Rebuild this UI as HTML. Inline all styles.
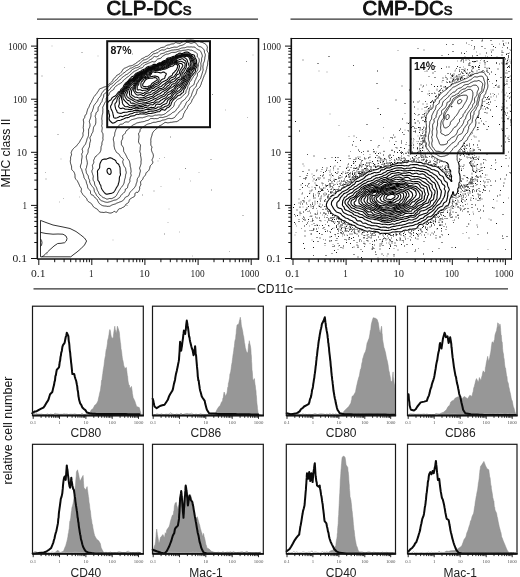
<!DOCTYPE html><html><head><meta charset="utf-8"><title>Figure</title><style>html,body{margin:0;padding:0;background:#fff}svg{display:block}</style></head><body><svg width="520" height="577" viewBox="0 0 520 577" font-family="'Liberation Sans', sans-serif">
<rect width="520" height="577" fill="#fff"/>
<text x="106.6" y="15.3" font-size="20.4" fill="#111" stroke="#111" stroke-width="0.95" stroke-linejoin="round" textLength="85.0" lengthAdjust="spacingAndGlyphs">CLP-DC<tspan font-size="13.2" stroke-width="0.7">S</tspan></text>
<text x="362.6" y="15.3" font-size="20.4" fill="#111" stroke="#111" stroke-width="0.95" stroke-linejoin="round" textLength="89.79999999999995" lengthAdjust="spacingAndGlyphs">CMP-DC<tspan font-size="13.2" stroke-width="0.7">S</tspan></text>
<line x1="37" y1="19.2" x2="258" y2="19.2" stroke="#333" stroke-width="1.3"/>
<line x1="290.5" y1="19.2" x2="512.5" y2="19.2" stroke="#333" stroke-width="1.3"/>
<line x1="33.5" y1="288.8" x2="255.5" y2="288.8" stroke="#333" stroke-width="1.2"/>
<line x1="294.5" y1="288.8" x2="508" y2="288.8" stroke="#333" stroke-width="1.2"/>
<text x="275" y="293.2" font-size="12" text-anchor="middle" fill="#111" textLength="36" lengthAdjust="spacingAndGlyphs">CD11c</text>
<text transform="translate(10.4,153) rotate(-90)" font-size="12" text-anchor="middle" fill="#111" textLength="69" lengthAdjust="spacingAndGlyphs">MHC class II</text>
<text transform="translate(12.0,430.5) rotate(-90)" font-size="12" text-anchor="middle" fill="#111" textLength="108" lengthAdjust="spacingAndGlyphs">relative cell number</text>
<defs><clipPath id="cl"><rect x="38.2" y="39.3" width="219.6" height="219.2"/></clipPath><clipPath id="cr"><rect x="291.9" y="39.3" width="219.6" height="219.2"/></clipPath><clipPath id="crt"><rect x="291.9" y="39.3" width="219.6" height="122.7"/></clipPath><clipPath id="crb"><rect x="291.9" y="162" width="219.6" height="96.5"/></clipPath></defs>
<g clip-path="url(#cl)" fill="none" stroke="#080808" stroke-width="1.1" stroke-linejoin="round">
<path d="M189.4 40.0L190.0 39.9L190.8 39.8L191.5 39.9L192.2 40.0L192.7 40.1L193.5 40.2L194.0 40.3L194.6 40.5L195.2 40.8L195.8 40.9L196.2 41.1L197.0 41.1L197.8 41.0L198.5 41.1L199.0 41.3L199.5 41.5L200.0 41.8L200.6 42.0L201.2 42.2L201.7 42.3L202.4 42.5L203.0 42.7L203.5 43.0L204.0 43.2L204.5 43.5L204.9 43.8L205.3 44.0L205.8 44.4L206.2 44.8L206.5 45.2L206.8 45.6L207.0 46.0L207.2 46.6L207.4 47.2L207.3 48.0L207.2 48.5L207.1 49.2L207.0 50.0L207.1 50.8L207.3 51.2L207.6 51.8L208.0 52.2L208.2 52.6L208.5 53.2L208.6 53.8L208.7 54.5L208.6 55.2L208.6 56.0L208.5 56.8L208.5 57.2L208.5 58.0L208.5 58.8L208.4 59.5L208.2 60.0L208.1 60.8L208.0 61.2L207.8 62.0L207.7 62.5L207.7 63.2L207.7 64.0L207.6 64.8L207.5 65.2L207.3 66.0L207.1 66.5L207.0 67.0L206.8 67.8L206.8 68.4L206.6 69.0L206.5 69.5L206.2 70.2L206.1 70.8L206.0 71.2L205.8 72.0L205.7 72.5L205.5 73.0L205.2 73.6L205.0 74.1L204.8 74.5L204.4 75.0L204.2 75.5L204.0 76.0L203.8 76.8L203.6 77.2L203.4 77.8L203.2 78.2L203.0 78.7L202.8 79.4L202.6 80.0L202.4 80.5L202.2 81.0L202.0 81.5L201.7 82.0L201.5 82.7L201.4 83.2L201.2 83.9L201.0 84.5L200.8 85.0L200.5 85.5L200.3 86.0L200.1 86.5L199.8 87.0L199.5 87.5L199.2 87.8L198.8 88.2L198.3 88.5L197.9 88.8L197.5 89.0L197.2 89.5L197.0 90.2L197.0 90.8L196.7 91.4L196.5 92.0L196.4 92.5L196.2 93.0L196.1 93.8L195.9 94.2L195.5 94.8L195.2 95.0L194.8 95.5L194.5 95.8L194.2 96.2L194.0 96.8L193.8 97.3L193.5 97.9L193.2 98.4L193.0 98.8L192.6 99.2L192.2 99.7L192.0 100.2L191.8 100.8L191.7 101.2L191.5 101.8L191.2 102.3L191.0 102.8L190.6 103.2L190.2 103.6L189.8 104.0L189.5 104.3L189.0 104.8L188.8 105.0L188.4 105.5L188.1 106.0L187.9 106.5L187.7 107.0L187.5 107.5L187.2 108.1L187.0 108.6L186.7 109.0L186.4 109.5L186.0 109.9L185.7 110.2L185.3 110.8L185.0 111.2L184.8 111.8L184.7 112.2L184.4 112.8L184.0 113.2L183.8 113.7L183.6 114.2L183.5 114.8L183.3 115.5L183.2 116.0L183.0 116.5L182.8 117.0L182.5 117.6L182.2 118.0L181.9 118.5L181.5 118.8L181.0 119.0L180.3 119.2L179.8 119.5L179.4 119.8L179.0 120.2L178.8 120.5L178.2 120.9L177.8 121.1L177.2 121.4L176.8 121.6L176.0 121.7L175.3 121.7L174.6 121.8L174.0 121.8L173.2 122.0L172.8 122.1L172.0 122.2L171.5 122.3L170.8 122.3L170.0 122.4L169.5 122.6L168.8 122.7L168.2 122.8L167.5 122.8L167.0 122.7L166.2 122.5L165.8 122.4L165.0 122.5L164.5 122.7L164.0 123.0L163.8 123.3L163.2 123.7L162.8 124.0L162.5 124.2L162.0 124.6L161.5 124.9L161.0 125.2L160.5 125.4L160.0 125.6L159.5 125.8L159.0 126.2L158.7 126.5L158.3 127.0L158.0 127.3L157.6 127.8L157.2 128.1L156.8 128.5L156.4 128.8L156.0 129.1L155.5 129.5L155.2 129.8L154.8 130.2L154.5 130.5L154.0 131.0L153.7 131.2L153.3 131.8L153.0 132.1L152.8 132.6L152.5 133.2L152.3 133.8L152.2 134.2L152.0 135.0L151.9 135.5L151.7 136.0L151.5 136.7L151.3 137.2L151.2 137.8L151.0 138.4L150.9 139.0L150.8 139.8L150.8 140.5L150.9 141.2L150.9 142.0L150.8 142.8L150.8 143.5L150.8 144.2L150.9 145.0L151.0 145.5L151.3 146.0L151.7 146.5L151.9 147.0L151.9 147.8L151.7 148.2L151.5 148.8L151.4 149.5L151.5 150.2L151.7 150.8L151.8 151.2L152.0 151.8L152.2 152.3L152.5 152.8L152.8 153.3L153.0 153.9L153.2 154.5L153.3 155.0L153.4 155.8L153.3 156.5L153.2 157.0L153.0 157.7L152.8 158.2L152.5 158.7L152.2 159.2L152.1 159.8L152.1 160.5L152.4 161.0L152.7 161.5L152.8 162.0L152.8 162.6L152.5 163.2L152.3 163.8L152.0 164.1L151.6 164.5L151.2 164.8L150.8 165.2L150.5 165.5L150.2 166.0L150.0 166.8L149.9 167.2L149.8 168.0L149.6 168.5L149.4 169.0L149.2 169.5L148.9 170.0L148.7 170.5L148.3 171.0L148.0 171.3L147.5 171.7L147.0 172.0L146.7 172.2L146.2 172.7L146.0 173.2L145.8 173.8L145.7 174.2L145.5 174.8L145.2 175.2L144.9 175.8L144.5 176.2L144.2 176.5L143.8 177.0L143.5 177.3L143.2 177.8L143.0 178.5L142.9 179.0L142.6 179.5L142.2 179.9L141.8 180.2L141.5 180.5L141.0 181.0L140.8 181.4L140.6 182.0L140.6 182.8L140.7 183.5L140.8 184.0L140.8 184.8L140.6 185.2L140.3 185.8L140.0 186.2L139.8 186.7L139.6 187.2L139.7 188.0L139.7 188.8L139.5 189.5L139.3 190.0L139.1 190.5L138.9 191.0L138.6 191.5L138.3 192.0L138.0 192.3L137.2 192.4L136.5 192.3L135.9 192.5L135.5 192.8L135.2 193.2L135.0 193.8L134.9 194.5L134.9 195.2L134.8 196.0L134.5 196.4L134.1 196.8L133.6 197.0L133.0 197.2L132.5 197.5L132.1 197.8L131.7 198.0L131.2 198.3L130.8 198.6L130.2 198.9L129.8 199.2L129.5 199.7L129.3 200.2L129.1 200.8L129.0 201.3L128.8 202.0L128.5 202.5L128.2 202.8L127.8 203.1L127.2 203.4L126.8 203.6L126.2 204.0L126.0 204.2L125.6 204.8L125.3 205.2L125.1 205.8L124.8 206.2L124.5 206.5L124.0 206.9L123.5 207.1L123.0 207.3L122.5 207.5L122.0 207.8L121.5 208.2L121.0 208.5L120.5 208.6L119.8 208.7L119.2 208.8L118.8 209.1L118.3 209.5L118.0 209.9L117.8 210.3L117.5 210.9L117.2 211.5L117.0 211.8L116.5 212.2L115.8 212.2L115.2 212.0L114.8 211.6L114.2 211.3L113.8 211.5L113.2 212.0L112.9 212.3L112.5 212.5L111.9 212.8L111.2 212.9L110.8 213.0L110.0 213.1L109.5 213.0L108.8 212.8L108.2 212.7L107.5 212.5L107.0 212.4L106.5 212.2L105.8 212.1L105.0 212.2L104.5 212.4L103.8 212.5L103.0 212.4L102.2 212.3L101.5 212.3L101.0 212.2L100.2 212.1L99.8 211.9L99.2 211.6L98.8 211.2L98.5 210.8L98.2 210.3L98.0 209.9L97.7 209.5L97.2 209.2L96.8 208.9L96.2 208.6L95.8 208.4L95.2 208.1L94.8 207.8L94.3 207.5L94.0 207.2L93.5 206.8L93.2 206.4L92.9 206.0L92.6 205.5L92.3 205.0L92.0 204.5L91.8 204.0L91.5 203.7L91.0 203.3L90.6 203.0L90.2 202.8L89.8 202.5L89.2 202.2L88.8 201.9L88.2 201.5L88.0 201.2L87.5 200.7L87.2 200.3L87.1 199.8L86.9 199.2L86.7 198.8L86.4 198.2L86.0 197.8L85.8 197.5L85.2 197.0L85.0 196.8L84.5 196.3L84.1 196.0L83.8 195.6L83.4 195.2L83.0 194.8L82.8 194.5L82.5 193.9L82.2 193.3L82.0 192.9L81.6 192.5L81.3 192.0L81.1 191.5L81.1 190.8L81.3 190.2L81.4 189.5L81.4 188.8L81.2 188.2L80.9 187.8L80.5 187.2L80.2 186.9L79.9 186.5L79.7 186.0L79.5 185.5L79.2 184.9L79.0 184.2L78.8 183.8L78.5 183.2L78.3 182.8L78.0 182.2L77.8 181.8L77.6 181.2L77.2 180.8L77.0 180.5L76.6 180.0L76.2 179.6L76.0 179.2L75.6 178.8L75.3 178.3L75.1 177.8L75.0 177.0L75.0 176.2L75.0 175.5L75.0 175.0L74.8 174.2L74.7 173.8L74.5 173.2L74.2 172.5L74.0 172.1L73.8 171.7L73.3 171.2L73.0 171.0L72.5 170.5L72.2 170.2L71.9 169.8L71.7 169.2L71.6 168.5L71.6 167.8L71.6 167.0L71.5 166.2L71.4 165.8L71.2 165.2L71.0 164.6L70.8 164.0L70.6 163.5L70.5 162.9L70.4 162.2L70.3 161.5L70.3 160.8L70.5 160.0L70.6 159.5L70.6 158.8L70.6 158.0L70.6 157.2L70.8 156.7L71.0 156.1L71.2 155.6L71.5 155.0L71.5 154.2L71.3 153.5L71.2 153.0L71.2 152.4L71.5 151.8L71.7 151.2L71.9 150.8L72.2 150.2L72.5 149.8L72.8 149.3L73.0 149.0L73.5 148.5L73.8 148.2L74.2 147.8L74.6 147.5L75.0 147.1L75.5 146.8L75.8 146.5L76.2 146.1L76.6 145.8L77.0 145.3L77.2 144.9L77.6 144.5L78.0 144.0L78.2 143.7L78.7 143.2L79.0 142.9L79.3 142.5L79.5 142.0L79.8 141.5L80.0 141.0L80.3 140.5L80.6 140.0L80.9 139.5L81.2 139.0L81.5 138.5L81.8 138.2L82.0 137.8L82.3 137.2L82.5 136.8L82.8 136.2L83.0 135.5L83.0 135.0L83.0 134.5L82.9 133.8L83.0 133.0L83.1 132.5L83.3 132.0L83.5 131.3L83.6 130.8L83.6 130.0L83.5 129.3L83.4 128.8L83.3 128.0L83.2 127.5L83.3 127.0L83.4 126.2L83.4 125.5L83.5 124.8L83.5 124.2L83.6 123.5L83.7 122.8L83.7 122.0L83.5 121.2L83.4 120.8L83.3 120.0L83.4 119.2L83.8 118.8L84.1 118.5L84.5 118.0L84.7 117.5L84.8 117.0L84.8 116.2L85.0 115.6L85.2 115.2L85.8 114.8L86.1 114.5L86.4 114.0L86.6 113.5L86.7 112.8L86.8 112.2L87.0 111.6L87.2 111.0L87.3 110.5L87.5 109.9L87.7 109.2L87.9 108.8L88.2 108.2L88.5 107.8L88.8 107.4L89.0 106.9L89.2 106.3L89.4 105.8L89.6 105.2L89.8 104.8L90.0 104.2L90.3 103.8L90.6 103.2L91.0 102.8L91.2 102.4L91.5 101.9L91.7 101.2L91.9 100.8L92.1 100.2L92.4 99.8L92.7 99.2L93.0 98.8L93.2 98.2L93.4 97.8L93.6 97.2L93.9 96.8L94.2 96.3L94.5 96.0L95.0 95.5L95.2 95.2L95.6 94.8L96.0 94.3L96.3 94.0L96.7 93.5L97.0 93.1L97.2 92.7L97.6 92.2L97.9 91.8L98.2 91.2L98.5 90.8L98.8 90.3L99.0 89.8L99.2 89.4L99.6 89.0L100.0 88.7L100.6 88.5L101.2 88.3L101.8 88.1L102.2 87.9L102.8 87.7L103.2 87.4L103.8 87.2L104.3 87.0L105.0 86.8L105.5 86.7L106.2 86.5L106.8 86.3L107.2 86.0L107.5 85.8L108.0 85.3L108.2 85.0L108.7 84.5L109.0 84.1L109.4 83.8L109.8 83.5L110.2 83.1L110.7 82.8L111.0 82.5L111.5 82.1L111.8 81.8L112.2 81.2L112.5 80.8L112.8 80.3L113.0 79.8L113.2 79.2L113.5 78.9L114.0 78.5L114.5 78.2L114.8 78.0L115.2 77.5L115.5 77.0L115.8 76.6L116.0 76.2L116.5 75.8L116.8 75.5L117.2 75.0L117.7 74.8L118.2 74.5L118.8 74.3L119.2 74.0L119.7 73.8L120.0 73.5L120.4 73.0L120.8 72.6L121.0 72.2L121.5 71.8L121.8 71.5L122.2 71.0L122.4 70.5L122.6 70.0L122.9 69.5L123.2 69.1L123.7 68.8L124.1 68.5L124.6 68.2L125.2 68.0L125.7 67.8L126.3 67.5L126.7 67.3L127.2 67.1L127.8 66.8L128.2 66.5L128.8 66.3L129.2 66.1L129.8 66.0L130.5 65.9L131.1 65.8L131.8 65.6L132.2 65.5L132.8 65.2L133.2 64.9L133.8 64.6L134.2 64.3L134.8 64.0L135.2 63.8L135.7 63.5L136.0 63.2L136.5 62.8L136.9 62.5L137.2 62.1L137.8 61.8L138.2 61.5L138.7 61.2L139.1 61.0L139.5 60.8L140.0 60.4L140.4 60.0L140.8 59.7L141.1 59.2L141.5 58.9L142.0 58.6L142.5 58.4L143.0 58.2L143.5 58.0L144.0 57.8L144.5 57.4L144.9 57.0L145.3 56.8L145.9 56.5L146.5 56.4L147.2 56.3L147.8 56.1L148.1 55.8L148.5 55.3L148.9 55.0L149.3 54.8L149.8 54.5L150.2 54.0L150.5 53.7L150.8 53.2L151.2 52.8L151.5 52.5L152.0 52.2L152.5 52.0L153.2 51.8L153.8 51.5L154.2 51.2L154.6 51.0L155.0 50.7L155.5 50.5L156.0 50.2L156.5 50.0L157.0 49.7L157.5 49.5L158.0 49.2L158.6 49.0L159.1 48.8L159.6 48.5L160.0 48.2L160.5 47.9L161.0 47.7L161.5 47.5L162.2 47.4L163.0 47.3L163.7 47.2L164.3 47.0L164.7 46.8L165.0 46.5L165.5 46.1L166.0 45.8L166.4 45.5L167.0 45.2L167.5 45.1L168.0 45.0L168.8 44.9L169.5 44.8L170.0 44.6L170.5 44.3L171.0 44.1L171.5 44.0L172.2 43.9L173.0 43.9L173.7 43.8L174.2 43.5L174.6 43.2L175.0 42.9L175.5 42.6L176.2 42.6L176.8 42.8L177.3 43.0L178.0 43.1L178.7 43.2L179.2 43.3L180.0 43.3L180.5 43.1L181.0 42.8L181.5 42.5L181.9 42.2L182.3 42.0L183.0 41.8L183.5 41.6L184.0 41.5L184.5 41.2L185.0 40.8L185.4 40.5L186.0 40.2L186.5 40.1L187.2 40.1L188.0 40.1L188.8 40.1L189.4 40.0Z" stroke-width="0.8"/>
<path d="M186.5 42.5L187.2 42.3L188.0 42.4L188.5 42.5L189.2 42.7L189.8 42.9L190.2 43.1L191.0 43.2L191.8 43.2L192.4 43.0L193.0 42.8L193.5 42.6L194.2 42.5L195.0 42.7L195.5 42.9L196.0 43.2L196.3 43.5L196.7 44.0L197.0 44.4L197.2 44.9L197.5 45.3L197.9 45.8L198.2 46.1L198.8 46.4L199.2 46.6L200.0 46.7L200.5 46.8L201.0 47.0L201.5 47.3L202.0 47.7L202.4 48.0L202.8 48.3L203.2 48.8L203.5 49.1L203.8 49.5L204.1 50.0L204.3 50.5L204.4 51.2L204.4 52.0L204.5 52.5L204.8 53.1L205.0 53.6L205.2 54.2L205.4 54.8L205.3 55.5L205.2 56.0L205.0 56.8L204.9 57.2L204.8 58.0L204.8 58.8L204.7 59.2L204.6 60.0L204.5 60.5L204.3 61.2L204.1 61.8L203.9 62.2L203.6 62.8L203.4 63.2L203.2 63.8L203.2 64.5L203.1 65.2L203.0 66.0L202.9 66.5L202.9 67.2L202.9 68.0L203.0 68.5L203.2 69.2L203.1 70.0L203.0 70.5L202.8 71.2L202.6 71.8L202.5 72.2L202.3 73.0L202.1 73.5L202.0 74.0L201.8 74.6L201.5 75.2L201.4 75.8L201.2 76.3L201.0 77.0L200.9 77.5L200.7 78.0L200.5 78.5L200.1 79.0L199.8 79.4L199.4 79.8L199.0 80.2L198.8 80.7L198.5 81.2L198.3 81.8L198.0 82.2L197.8 82.5L197.4 83.0L197.1 83.5L196.8 84.0L196.6 84.5L196.5 85.2L196.4 85.8L196.2 86.2L195.9 86.8L195.5 87.2L195.1 87.5L194.8 87.9L194.5 88.2L194.1 88.8L193.8 89.2L193.5 89.8L193.3 90.2L193.1 90.8L192.9 91.2L192.7 91.8L192.5 92.2L192.2 92.8L192.0 93.4L191.8 94.0L191.7 94.5L191.5 95.2L191.3 95.8L191.1 96.2L190.8 96.8L190.5 97.2L190.2 97.5L190.0 98.0L189.7 98.5L189.5 99.1L189.2 99.7L189.0 100.1L188.5 100.5L188.1 100.8L187.8 101.0L187.3 101.5L187.0 101.8L186.6 102.2L186.3 102.8L186.0 103.2L185.8 103.8L185.7 104.2L185.5 104.8L185.2 105.2L184.8 105.8L184.5 106.2L184.3 106.8L184.1 107.2L183.8 107.8L183.5 108.1L183.1 108.5L182.8 108.8L182.4 109.2L182.0 109.7L181.7 110.0L181.2 110.3L180.8 110.7L180.3 111.0L180.0 111.3L179.5 111.7L179.2 112.0L178.8 112.5L178.5 112.8L178.1 113.2L177.8 113.7L177.5 114.1L177.1 114.5L176.8 114.8L176.3 115.2L176.0 115.6L175.7 116.0L175.4 116.5L175.0 117.0L174.8 117.3L174.2 117.7L173.8 117.9L173.2 118.1L172.8 118.3L172.0 118.5L171.5 118.6L170.8 118.6L170.1 118.5L169.5 118.4L168.8 118.4L168.2 118.5L167.5 118.7L167.0 118.9L166.5 119.1L166.0 119.4L165.5 119.6L164.9 119.8L164.2 119.9L163.6 120.0L163.0 120.1L162.3 120.2L161.8 120.5L161.2 120.7L160.8 121.0L160.2 121.2L159.8 121.3L159.0 121.4L158.2 121.5L157.8 121.6L157.0 121.8L156.5 122.0L156.0 122.2L155.5 122.3L154.8 122.3L154.0 122.3L153.2 122.4L152.8 122.5L152.2 122.8L151.7 123.0L151.1 123.2L150.5 123.5L150.0 123.6L149.2 123.7L148.8 123.8L148.1 124.0L147.5 124.2L147.0 124.4L146.5 124.7L146.0 125.0L145.7 125.2L145.2 125.5L144.8 125.9L144.2 126.2L143.9 126.5L143.5 126.8L143.0 127.1L142.5 127.4L142.0 127.8L141.6 128.0L141.2 128.2L140.8 128.6L140.4 129.0L140.2 129.5L140.1 130.2L140.0 131.0L139.9 131.5L139.6 132.0L139.2 132.4L139.0 132.8L138.7 133.2L138.6 134.0L138.7 134.8L138.8 135.2L139.0 136.0L139.0 136.5L139.0 137.1L138.9 137.8L138.8 138.5L138.7 139.0L138.7 139.8L138.6 140.5L138.5 141.2L138.6 142.0L138.8 142.7L139.0 143.1L139.3 143.5L139.8 144.0L140.0 144.3L140.3 144.8L140.5 145.4L140.5 146.0L140.4 146.5L140.3 147.2L140.2 147.8L140.2 148.5L140.3 149.0L140.2 149.5L140.1 150.2L139.9 150.8L139.8 151.5L140.0 152.2L140.2 152.7L140.5 153.2L140.6 153.8L140.6 154.5L140.5 155.2L140.6 156.0L140.8 156.7L140.9 157.2L141.0 157.9L141.1 158.5L141.2 159.2L141.2 160.0L141.1 160.8L141.0 161.2L141.0 162.0L141.0 162.5L141.0 163.2L141.0 163.8L140.8 164.5L140.7 165.0L140.5 165.6L140.3 166.2L140.1 166.8L139.9 167.2L139.7 167.8L139.6 168.5L139.8 169.0L140.0 169.5L140.2 170.1L140.4 170.8L140.3 171.5L140.2 172.0L140.0 172.5L139.8 173.2L139.7 173.8L139.6 174.5L139.5 175.0L139.2 175.7L139.0 176.2L138.8 176.8L138.5 177.1L138.2 177.5L137.8 178.0L137.5 178.5L137.3 179.0L137.2 179.5L137.2 180.2L137.1 181.0L137.0 181.5L136.8 182.2L136.6 182.8L136.4 183.2L136.2 183.8L136.0 184.5L135.9 185.0L135.8 185.5L135.5 186.1L135.2 186.5L134.9 187.0L134.6 187.5L134.2 187.9L134.0 188.2L133.5 188.7L133.1 189.0L132.8 189.3L132.4 189.8L132.0 190.2L131.8 190.5L131.3 191.0L131.0 191.3L130.5 191.8L130.2 192.1L129.9 192.5L129.6 193.0L129.4 193.5L129.2 194.0L129.0 194.8L128.8 195.2L128.5 195.7L128.1 196.0L127.7 196.2L127.1 196.5L126.5 196.7L126.0 197.0L125.5 197.2L125.2 197.5L124.9 198.0L124.6 198.5L124.4 199.0L124.0 199.5L123.8 199.8L123.2 200.2L122.9 200.5L122.5 200.8L122.0 201.1L121.5 201.4L121.0 201.6L120.4 201.8L119.8 202.0L119.2 202.2L118.8 202.4L118.2 202.7L117.8 202.8L117.1 203.0L116.6 203.2L116.1 203.5L115.7 203.8L115.1 204.0L114.5 204.2L114.0 204.3L113.3 204.5L112.8 204.7L112.2 204.9L111.8 205.1L111.2 205.4L110.8 205.7L110.2 206.0L109.8 206.2L109.2 206.3L108.5 206.3L107.8 206.4L107.0 206.3L106.5 206.2L105.8 206.1L105.0 206.0L104.5 206.0L103.8 205.9L103.0 205.8L102.5 205.6L102.0 205.4L101.5 205.1L101.0 204.8L100.6 204.5L100.2 204.2L99.8 203.9L99.3 203.5L99.0 203.2L98.7 202.8L98.5 202.2L98.2 201.8L98.0 201.2L97.7 200.8L97.4 200.2L97.2 199.8L96.9 199.2L96.5 198.8L96.2 198.5L95.8 198.2L95.2 198.0L94.8 197.5L94.5 197.1L94.2 196.7L94.0 196.2L93.6 195.8L93.2 195.4L92.8 195.2L92.2 195.0L91.6 194.8L91.2 194.5L90.8 194.0L90.6 193.5L90.5 192.8L90.5 192.0L90.5 191.5L90.2 190.8L90.0 190.5L89.5 190.0L89.2 189.8L88.8 189.3L88.5 189.0L88.2 188.5L87.9 188.0L87.7 187.5L87.6 186.8L87.5 186.2L87.4 185.5L87.2 185.0L87.0 184.3L86.8 183.8L86.5 183.3L86.4 182.8L86.3 182.0L86.2 181.5L86.0 180.8L85.8 180.4L85.5 180.0L85.2 179.5L84.8 179.0L84.5 178.5L84.2 178.1L84.0 177.6L83.8 177.0L83.8 176.3L83.7 175.8L83.5 175.0L83.3 174.5L83.1 174.0L82.9 173.5L82.8 173.0L82.5 172.4L82.3 171.8L82.1 171.2L82.0 170.8L81.8 170.0L81.7 169.5L81.4 169.0L81.1 168.5L80.8 168.1L80.5 167.5L80.4 167.0L80.4 166.2L80.5 165.8L80.7 165.0L80.9 164.5L81.2 164.0L81.3 163.5L81.5 162.8L81.5 162.2L81.5 161.5L81.5 160.8L81.6 160.0L81.7 159.2L81.8 158.8L81.9 158.0L82.0 157.5L82.1 156.8L82.1 156.0L82.0 155.4L81.8 154.8L81.7 154.2L81.8 153.8L82.1 153.2L82.4 152.8L82.6 152.2L82.7 151.5L82.6 150.8L82.4 150.2L82.2 149.7L82.2 149.0L82.4 148.5L82.7 148.0L83.0 147.6L83.2 147.2L83.5 146.8L83.8 146.2L84.1 145.8L84.5 145.3L84.8 145.0L85.2 144.5L85.5 144.0L85.7 143.5L85.8 143.0L86.0 142.5L86.2 141.9L86.5 141.3L86.6 140.8L86.8 140.2L86.9 139.5L87.0 139.0L87.2 138.5L87.5 138.0L87.8 137.5L88.0 137.0L88.2 136.4L88.4 135.8L88.5 135.2L88.5 134.5L88.5 133.8L88.6 133.0L88.6 132.2L88.6 131.5L88.6 130.8L88.6 130.0L88.7 129.2L88.9 128.8L89.2 128.2L89.4 127.8L89.6 127.2L89.8 126.7L89.9 126.0L90.0 125.2L90.0 124.5L89.9 123.8L89.7 123.2L89.5 122.5L89.4 122.0L89.3 121.3L89.5 120.5L89.7 120.0L89.9 119.5L90.1 119.0L90.3 118.5L90.5 117.9L90.7 117.2L90.8 116.8L91.0 116.0L91.0 115.5L91.0 114.8L91.0 114.2L91.0 113.5L91.1 113.0L91.4 112.5L91.8 112.1L92.0 111.8L92.3 111.2L92.5 110.5L92.6 110.0L92.8 109.5L93.0 109.0L93.2 108.4L93.4 107.8L93.5 107.1L93.6 106.5L93.8 106.0L94.0 105.5L94.4 105.0L94.7 104.5L95.0 104.2L95.3 103.8L95.7 103.2L96.0 102.9L96.3 102.5L96.8 102.1L97.0 101.7L97.3 101.2L97.6 100.8L97.8 100.2L98.0 99.7L98.2 99.1L98.5 98.6L98.8 98.2L99.1 97.8L99.5 97.5L99.9 97.0L100.2 96.6L100.5 96.2L100.8 95.8L101.0 95.2L101.2 94.6L101.4 94.0L101.6 93.5L101.9 93.0L102.2 92.6L102.5 92.2L102.8 91.8L103.2 91.2L103.5 90.9L104.0 90.5L104.3 90.2L104.8 89.8L105.0 89.5L105.5 89.0L105.9 88.8L106.4 88.5L106.9 88.2L107.3 88.0L107.8 87.6L108.0 87.2L108.4 86.8L108.8 86.3L109.0 86.0L109.4 85.5L109.8 85.2L110.2 84.8L110.6 84.5L111.1 84.2L111.6 84.0L112.1 83.8L112.5 83.4L113.0 83.0L113.2 82.7L113.7 82.2L114.0 81.8L114.3 81.5L114.7 81.0L115.0 80.7L115.5 80.4L116.0 80.1L116.5 79.8L116.8 79.5L117.2 79.0L117.5 78.6L117.8 78.2L118.2 77.8L118.5 77.4L118.9 77.0L119.2 76.6L119.7 76.2L120.0 76.0L120.5 75.7L121.0 75.3L121.5 75.0L121.8 74.8L122.2 74.3L122.5 74.0L123.0 73.5L123.4 73.2L123.8 73.0L124.2 72.6L124.8 72.4L125.2 72.0L125.5 71.8L125.9 71.2L126.2 70.9L126.8 70.5L127.2 70.3L127.8 70.1L128.2 69.8L128.7 69.5L129.0 69.1L129.4 68.8L129.8 68.5L130.3 68.2L131.0 68.1L131.5 68.0L132.1 67.8L132.6 67.5L133.0 67.2L133.5 66.9L134.0 66.6L134.5 66.3L135.0 66.0L135.5 65.8L136.0 65.6L136.5 65.5L137.2 65.3L137.8 65.2L138.2 64.9L138.6 64.5L139.0 64.1L139.4 63.8L139.8 63.5L140.2 63.1L140.7 62.8L141.0 62.4L141.4 62.0L141.8 61.6L142.0 61.2L142.4 60.8L142.8 60.4L143.2 60.1L144.0 60.0L144.5 59.9L145.2 59.8L145.8 59.5L146.2 59.3L146.8 59.1L147.2 58.9L147.8 58.7L148.2 58.3L148.6 58.0L149.0 57.6L149.3 57.2L149.8 56.8L150.2 56.5L150.8 56.3L151.2 56.0L151.6 55.8L152.0 55.2L152.3 54.8L152.5 54.5L153.0 54.0L153.5 53.8L154.0 53.7L154.8 53.6L155.3 53.5L155.9 53.2L156.3 53.0L157.0 52.8L157.5 52.8L158.1 52.5L158.5 52.1L158.8 51.8L159.2 51.2L159.5 51.0L160.0 50.7L160.5 50.5L161.0 50.2L161.6 50.0L162.2 49.9L162.9 50.0L163.5 50.1L164.2 50.0L164.8 49.8L165.2 49.5L165.8 49.3L166.2 49.0L166.6 48.8L167.0 48.4L167.5 48.2L168.0 48.3L168.8 48.5L169.5 48.5L170.2 48.2L170.7 48.0L171.2 47.8L171.8 47.6L172.5 47.5L173.0 47.4L173.7 47.2L174.2 47.1L175.0 47.1L175.8 47.2L176.3 47.2L176.8 47.2L177.5 47.0L178.0 46.8L178.4 46.5L178.8 46.2L179.3 46.0L180.0 45.8L180.5 45.6L181.1 45.5L181.8 45.3L182.2 45.2L182.8 45.0L183.3 44.8L183.8 44.5L184.2 44.1L184.8 43.8L185.2 43.5L185.5 43.2L186.0 42.8L186.5 42.5Z" stroke-width="0.8"/>
<path d="M186.9 47.0L187.5 46.9L188.2 46.9L189.0 47.0L189.5 47.0L190.0 47.0L190.8 46.9L191.5 46.9L192.2 47.0L192.8 47.1L193.5 47.0L194.2 47.0L194.9 47.2L195.2 47.5L195.7 48.0L196.0 48.3L196.4 48.7L196.8 49.0L197.3 49.2L197.8 49.5L198.4 49.8L199.0 50.0L199.5 50.2L199.9 50.5L200.2 50.8L200.6 51.2L200.9 51.8L201.1 52.2L201.3 52.8L201.5 53.2L201.8 53.9L202.0 54.5L202.2 55.0L202.3 55.5L202.3 56.2L202.2 56.8L202.0 57.2L201.8 57.8L201.6 58.5L201.6 59.2L201.6 60.0L201.6 60.8L201.5 61.2L201.2 61.9L201.0 62.5L200.9 63.0L200.8 63.8L200.9 64.5L201.0 65.2L201.0 65.8L201.0 66.3L200.8 67.0L200.7 67.5L200.7 68.2L200.7 69.0L200.6 69.8L200.3 70.2L200.0 70.8L199.8 71.1L199.5 71.5L199.0 72.0L198.6 72.2L198.2 72.5L197.8 72.9L197.5 73.3L197.4 74.0L197.5 74.7L197.4 75.5L197.2 76.1L197.0 76.6L196.7 77.0L196.4 77.5L196.2 78.0L196.0 78.6L195.8 79.2L195.5 79.7L195.2 80.0L195.0 80.5L194.8 81.2L194.7 81.8L194.5 82.5L194.3 83.0L194.2 83.5L194.0 84.2L193.8 84.7L193.5 85.1L193.0 85.5L192.5 85.7L192.1 86.0L191.7 86.2L191.2 86.6L190.8 86.9L190.3 87.2L190.0 87.6L189.7 88.0L189.5 88.8L189.4 89.2L189.3 90.0L189.2 90.5L189.0 91.0L188.8 91.8L188.7 92.2L188.8 92.8L188.8 93.4L188.6 94.0L188.4 94.5L188.1 95.0L187.8 95.5L187.5 95.9L187.2 96.3L186.8 96.8L186.5 97.1L186.2 97.5L185.9 98.0L185.5 98.5L185.2 98.9L184.9 99.2L184.5 99.7L184.2 100.0L183.8 100.3L183.2 100.5L182.8 100.8L182.2 101.1L181.8 101.5L181.5 101.9L181.2 102.3L181.0 103.0L180.8 103.5L180.5 103.8L180.2 104.2L179.8 104.8L179.5 105.1L179.2 105.5L179.0 106.1L178.8 106.6L178.5 107.1L178.2 107.5L177.8 108.0L177.5 108.2L177.0 108.7L176.8 109.0L176.4 109.5L176.1 110.0L175.8 110.5L175.5 110.8L175.1 111.2L174.8 111.6L174.2 111.9L173.8 112.1L173.2 112.3L172.7 112.5L172.2 112.8L171.8 113.2L171.5 113.6L171.0 114.0L170.7 114.2L170.2 114.5L169.7 114.8L169.1 115.0L168.7 115.2L168.2 115.5L167.8 115.8L167.2 116.1L166.8 116.3L166.2 116.5L165.5 116.7L165.0 116.8L164.4 117.0L163.8 117.2L163.2 117.4L162.5 117.5L162.2 117.5L161.5 117.4L160.8 117.3L160.0 117.4L159.5 117.5L159.0 117.8L158.5 118.2L158.0 118.4L157.5 118.6L156.8 118.7L156.0 118.6L155.2 118.6L154.5 118.7L153.8 118.7L153.0 118.6L152.2 118.5L151.8 118.5L151.1 118.5L150.5 118.6L150.0 118.8L149.6 119.2L149.2 119.7L148.9 120.0L148.4 120.2L147.8 120.4L147.1 120.5L146.5 120.6L146.0 120.8L145.4 121.0L144.9 121.2L144.3 121.5L143.8 121.6L143.0 121.7L142.5 121.8L141.8 121.9L141.2 122.0L140.5 122.2L140.0 122.3L139.2 122.4L138.8 122.6L138.0 122.7L137.5 122.8L136.9 123.0L136.4 123.2L135.9 123.5L135.5 123.8L135.0 124.0L134.5 124.3L133.9 124.5L133.4 124.8L133.0 125.0L132.5 125.3L132.0 125.8L131.8 126.0L131.2 126.5L131.0 126.8L130.5 127.2L130.2 127.5L129.8 127.9L129.3 128.2L129.0 128.5L128.5 129.0L128.2 129.3L127.8 129.8L127.5 130.0L127.0 130.2L126.5 130.5L126.1 131.0L125.9 131.5L125.7 132.0L125.5 132.5L125.2 133.1L125.0 133.5L124.5 134.0L124.2 134.2L123.8 134.6L123.3 134.9L122.9 135.2L122.7 135.8L122.6 136.5L122.7 137.2L122.8 137.8L122.7 138.2L122.6 139.0L122.3 139.5L122.0 140.0L121.8 140.3L121.5 140.8L121.3 141.5L121.3 142.2L121.4 143.0L121.4 143.8L121.4 144.5L121.6 145.0L121.9 145.5L122.2 145.9L122.6 146.2L122.9 146.8L123.2 147.2L123.4 147.8L123.5 148.3L123.6 149.0L123.6 149.8L123.6 150.5L123.7 151.2L123.9 151.8L124.2 152.2L124.5 152.7L124.8 153.1L125.0 153.5L125.3 154.0L125.6 154.5L125.8 155.0L126.1 155.5L126.4 156.0L126.6 156.5L126.8 157.0L127.0 157.5L127.2 158.0L127.5 158.5L127.9 159.0L128.2 159.3L128.6 159.8L129.0 160.2L129.2 160.8L129.4 161.2L129.5 161.8L129.7 162.5L129.8 163.0L130.0 163.7L130.1 164.2L130.1 165.0L130.2 165.8L130.2 166.3L130.4 167.0L130.6 167.5L130.8 168.0L130.8 168.8L130.9 169.5L131.0 170.2L131.0 170.8L131.1 171.5L131.0 172.0L130.8 172.8L130.7 173.2L130.8 173.8L131.0 174.5L131.1 175.0L131.1 175.8L130.9 176.2L130.6 176.8L130.4 177.2L130.2 177.8L130.1 178.5L129.9 179.0L129.8 179.8L129.9 180.5L129.9 181.2L129.8 181.9L129.5 182.4L129.2 182.8L128.9 183.2L128.7 183.8L128.4 184.2L128.1 184.8L128.0 185.2L127.8 186.0L127.7 186.5L127.6 187.2L127.5 187.8L127.1 188.2L126.7 188.5L126.0 188.7L125.5 189.0L125.3 189.5L125.3 190.2L125.2 190.8L125.0 191.4L124.8 191.8L124.4 192.2L124.0 192.6L123.6 193.0L123.2 193.3L122.8 193.6L122.3 194.0L122.0 194.2L121.5 194.7L121.2 195.0L120.9 195.5L120.7 196.0L120.4 196.5L120.1 197.0L119.8 197.4L119.3 197.8L119.0 198.0L118.5 198.3L118.0 198.7L117.6 199.0L117.2 199.3L116.8 199.6L116.2 199.8L115.5 200.0L115.0 200.0L114.2 200.2L113.8 200.3L113.2 200.5L112.6 200.8L112.1 201.0L111.5 201.2L111.0 201.4L110.5 201.6L109.9 201.8L109.2 201.9L108.8 202.0L108.0 202.2L107.5 202.3L106.8 202.3L106.2 202.2L105.5 202.1L105.0 201.9L104.4 201.8L103.8 201.5L103.2 201.3L102.8 201.1L102.2 201.0L101.6 200.8L101.0 200.5L100.6 200.2L100.2 200.0L99.8 199.5L99.5 199.0L99.3 198.5L99.0 198.1L98.7 197.8L98.3 197.2L98.0 197.0L97.5 196.5L97.2 196.2L96.8 195.8L96.5 195.2L96.3 194.8L96.0 194.2L95.8 193.8L95.5 193.2L95.2 192.8L95.0 192.5L94.7 192.0L94.4 191.5L94.2 191.0L94.2 190.2L94.1 189.5L94.0 189.0L93.8 188.4L93.5 187.9L93.2 187.5L92.8 187.0L92.5 186.7L92.1 186.2L91.8 185.8L91.5 185.5L91.1 185.0L90.8 184.5L90.5 184.0L90.3 183.5L90.0 183.0L89.8 182.5L89.6 182.0L89.6 181.2L89.7 180.5L89.5 179.8L89.2 179.4L89.0 179.0L88.7 178.5L88.5 177.8L88.4 177.2L88.4 176.5L88.2 176.0L88.0 175.4L87.7 175.0L87.4 174.5L87.1 174.0L86.8 173.6L86.5 173.1L86.3 172.5L86.3 171.8L86.2 171.2L86.0 170.5L85.9 170.0L85.8 169.2L86.0 168.7L86.2 168.2L86.5 167.5L86.6 167.0L86.7 166.2L86.8 165.8L87.0 165.1L87.2 164.5L87.3 164.0L87.3 163.2L87.3 162.5L87.2 162.0L87.1 161.2L87.0 160.6L86.9 160.0L86.7 159.5L86.5 158.8L86.4 158.2L86.3 157.5L86.3 156.8L86.4 156.0L86.5 155.5L86.8 155.0L87.1 154.5L87.3 154.0L87.6 153.5L87.8 153.0L88.0 152.5L88.1 151.8L88.1 151.0L88.1 150.2L88.2 149.5L88.4 149.0L88.6 148.5L88.9 148.0L89.1 147.5L89.3 147.0L89.5 146.2L89.5 145.7L89.6 145.0L89.7 144.2L89.7 143.5L89.8 143.0L90.0 142.4L90.2 141.8L90.4 141.2L90.5 140.8L90.6 140.0L90.4 139.5L90.2 139.0L90.0 138.3L90.0 137.8L90.1 137.2L90.4 136.8L90.7 136.2L91.0 135.8L91.3 135.3L91.4 134.8L91.6 134.2L91.8 133.7L92.0 133.3L92.4 132.8L92.7 132.2L92.9 131.8L93.0 131.2L93.1 130.5L93.2 129.8L93.3 129.2L93.4 128.5L93.5 127.8L93.6 127.2L93.8 126.8L94.1 126.2L94.5 125.8L94.8 125.5L95.2 125.0L95.4 124.5L95.6 124.0L95.7 123.2L95.8 122.8L95.8 122.0L95.8 121.2L95.8 120.5L95.8 119.8L95.8 119.0L95.8 118.4L95.6 117.8L95.4 117.2L95.2 116.5L95.2 116.0L95.3 115.5L95.5 115.0L95.8 114.5L95.9 113.8L96.0 113.0L96.2 112.5L96.5 112.3L97.0 112.0L97.5 111.6L97.8 111.2L98.0 110.5L98.0 110.0L98.1 109.2L98.1 108.5L98.2 107.8L98.3 107.2L98.6 106.8L99.0 106.2L99.2 105.9L99.6 105.5L99.9 105.0L100.1 104.5L100.3 104.0L100.5 103.5L100.8 103.0L101.2 102.5L101.5 102.2L101.8 101.8L102.1 101.2L102.2 100.5L102.3 100.0L102.5 99.2L102.7 98.8L102.9 98.2L103.2 97.8L103.4 97.2L103.6 96.8L103.7 96.0L103.7 95.2L103.8 94.8L104.0 94.2L104.4 93.8L104.8 93.4L105.3 93.1L105.7 92.8L106.0 92.5L106.5 92.1L107.0 91.8L107.3 91.5L107.8 91.2L108.2 90.8L108.6 90.5L109.0 90.2L109.5 89.8L109.8 89.4L110.1 89.0L110.5 88.5L110.8 88.1L111.0 87.8L111.4 87.2L111.7 86.8L112.0 86.5L112.5 86.1L113.0 85.8L113.4 85.5L113.8 85.2L114.2 84.9L114.6 84.5L114.9 84.0L115.2 83.6L115.5 83.2L116.0 82.8L116.3 82.5L116.8 82.2L117.3 81.8L117.7 81.5L118.0 81.2L118.5 80.9L119.0 80.5L119.5 80.2L119.8 80.0L120.2 79.6L120.6 79.2L121.0 78.8L121.3 78.5L121.7 78.0L122.0 77.7L122.4 77.2L122.8 76.9L123.2 76.6L123.8 76.4L124.2 76.1L124.7 75.8L125.0 75.4L125.5 75.0L126.0 74.8L126.5 74.5L127.0 74.3L127.5 74.1L127.9 73.8L128.2 73.4L128.6 73.0L129.0 72.7L129.5 72.4L130.0 72.2L130.5 71.8L130.8 71.4L131.0 70.9L131.3 70.5L131.7 70.0L132.1 69.8L132.5 69.5L133.0 69.2L133.5 69.0L134.0 68.7L134.5 68.4L135.0 68.1L135.5 67.9L136.2 67.8L136.8 67.7L137.4 67.5L138.0 67.3L138.5 67.1L139.0 66.8L139.5 66.6L140.0 66.3L140.3 66.0L140.8 65.6L141.0 65.2L141.5 64.8L141.8 64.5L142.2 64.0L142.6 63.8L143.0 63.4L143.5 63.1L144.0 62.8L144.5 62.6L145.0 62.5L145.8 62.4L146.2 62.2L146.9 62.0L147.3 61.8L147.8 61.5L148.2 61.1L148.7 60.8L149.0 60.5L149.5 60.1L149.9 59.8L150.4 59.5L151.0 59.2L151.5 59.0L152.0 58.8L152.3 58.5L152.7 58.0L153.0 57.6L153.2 57.2L153.7 56.8L154.2 56.5L154.8 56.4L155.3 56.5L155.8 56.8L156.5 56.8L157.0 56.7L157.5 56.5L158.0 56.2L158.5 55.9L159.0 55.5L159.3 55.2L159.7 54.8L160.0 54.5L160.5 54.1L161.0 53.9L161.5 53.7L162.2 53.5L162.8 53.4L163.5 53.2L164.0 53.0L164.5 52.8L164.9 52.5L165.3 52.2L165.8 52.0L166.4 51.8L167.0 51.6L167.5 51.5L168.2 51.3L168.8 51.1L169.2 51.0L170.0 50.8L170.5 50.6L171.0 50.4L171.6 50.2L172.2 50.1L173.0 50.0L173.5 50.0L174.2 49.9L175.0 49.8L175.5 49.8L176.2 49.7L177.0 49.7L177.8 49.6L178.2 49.4L178.8 49.2L179.2 49.0L179.8 48.8L180.4 48.5L181.0 48.3L181.5 48.1L182.1 48.0L182.8 47.9L183.5 47.8L184.2 47.8L184.8 47.7L185.5 47.5L186.0 47.3L186.5 47.1Z" stroke-width="0.8"/>
<path d="M187.1 49.8L187.8 49.6L188.5 49.6L189.0 49.8L189.8 50.0L190.2 50.1L191.0 50.2L191.8 50.2L192.2 50.4L192.8 50.6L193.2 51.0L193.5 51.2L194.0 51.6L194.5 51.8L195.0 52.0L195.6 52.2L196.1 52.5L196.5 52.8L196.9 53.2L197.1 53.8L197.3 54.2L197.4 55.0L197.3 55.8L197.3 56.5L197.6 57.0L198.0 57.4L198.3 57.8L198.7 58.2L198.9 58.8L199.1 59.2L199.2 60.0L199.2 60.8L199.2 61.5L199.0 62.1L198.8 62.6L198.5 63.2L198.4 63.8L198.4 64.5L198.5 65.2L198.4 66.0L198.2 66.5L198.0 67.1L197.8 67.8L197.8 68.5L197.8 69.2L197.8 69.9L197.5 70.4L197.2 70.8L196.9 71.2L196.5 71.8L196.3 72.2L196.0 72.6L195.8 73.2L195.5 73.8L195.3 74.2L195.0 74.7L194.8 75.0L194.3 75.5L194.0 75.8L193.7 76.2L193.3 76.8L193.1 77.2L192.8 77.7L192.5 78.0L192.2 78.5L191.9 79.0L191.7 79.5L191.5 80.0L191.2 80.5L190.8 80.9L190.3 81.2L190.0 81.6L189.7 82.0L189.5 82.6L189.5 83.2L189.4 84.0L189.1 84.5L188.8 84.9L188.4 85.2L188.0 85.8L187.8 86.2L187.8 86.9L187.7 87.5L187.5 88.2L187.3 88.8L187.0 89.2L186.8 89.6L186.5 90.0L186.2 90.5L186.0 91.2L186.0 91.8L185.9 92.5L185.8 93.0L185.5 93.5L185.0 94.0L184.6 94.2L184.1 94.5L183.7 94.8L183.2 95.2L183.0 95.5L182.7 96.0L182.3 96.5L182.0 96.8L181.5 97.2L181.0 97.5L180.7 97.8L180.2 98.1L179.8 98.4L179.2 98.7L178.8 98.8L178.1 99.0L177.6 99.2L177.2 99.6L176.9 100.0L176.5 100.5L176.2 100.8L175.9 101.2L175.5 101.6L175.1 102.0L174.8 102.4L174.5 103.0L174.4 103.5L174.3 104.2L174.2 104.8L174.0 105.3L173.8 106.0L173.5 106.5L173.2 106.9L172.9 107.2L172.5 107.6L172.0 107.9L171.5 108.2L171.2 108.5L170.8 109.0L170.5 109.3L170.1 109.8L169.8 110.1L169.3 110.5L169.0 110.8L168.5 111.0L168.0 111.3L167.5 111.6L167.0 112.0L166.8 112.3L166.4 112.8L166.0 113.1L165.5 113.5L165.1 113.8L164.7 114.0L164.1 114.2L163.5 114.5L163.0 114.6L162.5 114.8L161.8 115.0L161.2 115.0L160.8 115.0L160.0 114.9L159.2 114.9L158.5 114.9L158.0 115.0L157.2 115.1L156.5 115.2L155.8 115.1L155.0 115.2L154.5 115.3L154.0 115.6L153.5 115.8L153.0 116.0L152.2 116.2L151.5 116.2L150.8 116.2L150.0 116.0L149.5 115.9L148.8 115.8L148.0 116.0L147.5 116.1L147.0 116.3L146.5 116.5L145.9 116.8L145.2 116.9L144.8 117.1L144.0 117.2L143.5 117.4L143.0 117.6L142.5 117.8L141.8 117.8L141.2 117.7L140.5 117.7L139.8 117.7L139.2 117.8L138.5 117.9L137.7 118.0L137.2 118.1L136.8 118.3L136.1 118.5L135.5 118.7L135.0 118.8L134.4 119.0L133.8 119.2L133.2 119.3L132.5 119.5L132.0 119.6L131.5 119.8L130.9 120.0L130.5 120.3L130.0 120.8L129.8 121.0L129.2 121.5L128.8 121.8L128.2 122.0L127.5 122.0L126.8 121.9L126.0 121.9L125.5 122.0L124.9 122.2L124.5 122.5L124.0 123.0L123.7 123.2L123.2 123.6L122.8 124.0L122.2 124.1L121.5 124.2L120.8 124.2L120.3 124.4L119.8 124.7L119.4 125.0L119.0 125.3L118.5 125.8L118.2 126.1L118.0 126.5L117.7 127.0L117.4 127.5L117.0 128.0L116.8 128.3L116.4 128.8L116.1 129.2L115.9 129.8L115.7 130.2L115.5 130.9L115.3 131.5L115.1 132.0L114.9 132.5L114.8 133.2L114.7 133.8L114.7 134.5L114.6 135.2L114.5 135.8L114.2 136.2L114.0 136.8L113.7 137.2L113.5 137.8L113.4 138.5L113.3 139.2L113.4 140.0L113.5 140.7L113.7 141.2L113.8 141.8L113.9 142.5L114.0 143.2L114.0 143.8L114.0 144.5L114.0 145.0L114.0 145.8L114.1 146.2L114.2 147.0L114.4 147.5L114.5 148.0L114.7 148.8L114.8 149.2L115.1 149.8L115.4 150.2L115.7 150.8L115.9 151.2L116.2 151.8L116.4 152.2L116.8 152.7L117.1 153.0L117.6 153.2L118.1 153.5L118.6 153.8L119.0 154.1L119.3 154.5L119.5 155.0L119.8 155.5L120.0 156.0L120.3 156.5L120.8 156.9L121.1 157.2L121.5 157.6L122.0 158.0L122.3 158.2L122.8 158.6L123.2 159.0L123.4 159.5L123.2 160.2L123.0 160.7L122.8 161.2L122.7 161.8L122.8 162.2L122.9 163.0L123.1 163.5L123.2 164.1L123.5 164.7L123.7 165.2L123.9 165.8L124.2 166.2L124.5 166.8L124.8 167.1L125.1 167.5L125.4 168.0L125.6 168.5L125.7 169.2L125.8 169.9L125.8 170.5L126.0 171.1L126.2 171.8L126.3 172.2L126.2 172.8L126.1 173.5L125.9 174.0L125.7 174.5L125.6 175.2L125.5 175.8L125.4 176.5L125.4 177.2L125.2 177.9L125.0 178.5L124.8 179.0L124.7 179.5L124.5 180.2L124.4 180.8L124.3 181.5L124.2 182.0L124.1 182.8L123.9 183.2L123.8 183.8L123.5 184.4L123.2 184.8L123.0 185.2L122.6 185.8L122.2 186.2L122.0 186.5L121.6 187.0L121.2 187.4L120.9 187.8L120.6 188.2L120.3 188.8L120.0 189.2L119.8 189.7L119.5 190.1L119.2 190.5L118.9 191.0L118.6 191.5L118.4 192.0L118.1 192.5L117.9 193.0L117.5 193.5L117.3 193.9L117.0 194.3L116.8 194.8L116.5 195.3L116.2 195.8L115.8 196.2L115.5 196.6L115.0 196.9L114.5 197.2L114.0 197.4L113.5 197.7L113.0 198.0L112.6 198.2L112.0 198.5L111.5 198.6L110.8 198.6L110.0 198.5L109.7 198.5L109.0 198.6L108.5 198.8L107.8 199.0L107.2 199.1L106.5 199.0L106.0 198.8L105.5 198.5L105.1 198.2L104.6 198.0L104.0 197.8L103.5 197.7L103.0 197.5L102.5 197.2L102.1 196.8L101.8 196.3L101.4 196.0L101.0 195.6L100.5 195.3L100.1 195.0L99.7 194.8L99.3 194.2L99.0 193.8L98.8 193.2L98.7 192.8L98.4 192.2L98.2 191.8L97.9 191.2L97.6 190.8L97.3 190.2L97.1 189.8L97.0 189.2L96.8 188.5L96.6 188.0L96.4 187.5L96.1 187.0L95.8 186.5L95.5 186.2L95.2 185.8L95.0 185.2L94.8 184.7L94.6 184.0L94.5 183.2L94.5 182.8L94.3 182.0L94.1 181.5L93.8 181.0L93.5 180.7L93.2 180.2L93.1 179.5L93.0 178.8L93.1 178.0L93.2 177.2L93.3 176.8L93.2 176.1L93.1 175.5L92.9 175.0L92.7 174.5L92.5 173.8L92.4 173.2L92.2 172.8L92.0 172.1L91.9 171.5L91.9 170.8L92.1 170.2L92.3 169.8L92.6 169.2L92.8 168.5L92.8 168.0L92.7 167.5L92.6 166.8L92.5 166.2L92.4 165.5L92.5 165.0L92.8 164.5L93.1 164.0L93.4 163.5L93.7 163.0L93.8 162.5L93.8 161.8L93.7 161.2L93.6 160.5L93.8 160.0L94.0 159.5L94.3 159.0L94.5 158.5L94.8 157.9L95.0 157.2L95.2 156.8L95.5 156.5L96.0 156.2L96.5 155.9L97.0 155.5L97.3 155.2L97.7 154.8L98.0 154.3L98.3 154.0L98.8 153.5L99.1 153.2L99.5 152.9L99.9 152.5L100.1 152.0L100.4 151.5L100.6 151.0L100.8 150.4L100.9 149.8L101.0 149.0L101.0 148.2L101.0 147.6L101.1 147.0L101.2 146.4L101.5 145.8L101.7 145.2L101.9 144.8L101.9 144.0L101.9 143.2L102.0 142.5L102.1 142.0L102.3 141.5L102.6 141.0L102.8 140.5L103.0 139.9L103.0 139.3L102.9 138.8L102.9 138.0L102.9 137.2L103.0 136.5L103.0 135.8L103.0 135.2L103.0 134.7L102.9 134.0L102.8 133.3L102.5 132.8L102.2 132.4L102.0 132.0L101.8 131.2L101.9 130.5L102.0 129.8L102.1 129.2L102.2 128.5L102.3 128.0L102.2 127.5L102.0 126.9L101.8 126.3L101.7 125.8L101.8 125.2L102.0 124.5L102.1 124.0L102.1 123.2L102.0 122.5L102.0 121.8L102.1 121.0L102.0 120.2L101.9 119.8L101.8 119.0L101.8 118.2L101.9 117.5L102.0 116.8L102.0 116.2L102.1 115.5L102.2 114.9L102.5 114.2L102.6 113.8L102.7 113.0L102.8 112.5L102.8 111.8L102.8 111.0L102.8 110.2L102.9 109.5L102.8 108.8L102.8 108.2L102.7 107.5L102.9 107.0L103.1 106.5L103.3 106.0L103.6 105.5L103.8 105.0L104.1 104.5L104.3 104.0L104.5 103.5L104.8 103.0L105.0 102.5L105.4 102.0L105.8 101.6L106.0 101.2L106.2 100.5L106.3 100.0L106.2 99.3L106.2 98.8L106.3 98.2L106.5 97.8L106.8 97.2L107.2 96.8L107.5 96.5L108.0 96.0L108.2 95.7L108.6 95.2L108.9 94.8L109.1 94.2L109.2 93.7L109.5 93.0L109.8 92.6L110.0 92.2L110.3 91.8L110.8 91.3L111.1 91.0L111.6 90.8L112.2 90.5L112.7 90.2L113.2 90.0L113.5 89.7L113.8 89.2L114.0 88.7L114.2 88.0L114.5 87.6L114.8 87.2L115.2 86.8L115.7 86.5L116.0 86.2L116.5 85.8L116.9 85.5L117.2 85.2L117.8 84.8L118.2 84.5L118.7 84.2L119.2 84.0L119.8 83.8L120.2 83.5L120.6 83.2L121.0 83.0L121.5 82.6L122.0 82.3L122.3 82.0L122.7 81.5L123.0 81.0L123.2 80.6L123.6 80.2L124.0 79.8L124.3 79.5L124.8 79.2L125.2 78.9L125.8 78.6L126.2 78.2L126.5 78.0L126.8 77.5L127.2 77.1L127.7 76.8L128.2 76.5L128.8 76.3L129.2 76.0L129.5 75.7L129.8 75.2L130.2 74.8L130.5 74.4L131.0 74.0L131.4 73.8L131.8 73.5L132.2 73.1L132.6 72.8L133.0 72.3L133.2 72.0L133.8 71.6L134.2 71.4L134.8 71.1L135.2 70.9L135.8 70.7L136.2 70.5L136.8 70.2L137.2 70.0L137.8 69.7L138.2 69.3L138.7 69.0L139.0 68.8L139.5 68.5L140.2 68.2L140.8 68.1L141.2 68.0L142.0 67.8L142.5 67.5L142.9 67.2L143.2 66.8L143.5 66.4L143.8 65.9L144.0 65.5L144.5 65.0L144.9 64.8L145.4 64.5L146.0 64.3L146.5 64.1L147.0 63.9L147.5 63.7L148.0 63.5L148.5 63.2L149.0 63.0L149.6 62.8L150.2 62.5L150.8 62.3L151.2 62.0L151.7 61.8L152.2 61.6L153.0 61.7L153.5 61.8L154.2 61.9L155.0 61.8L155.5 61.6L155.8 61.2L156.1 60.8L156.4 60.2L156.7 59.8L157.0 59.5L157.5 59.1L158.0 58.9L158.8 58.8L159.2 58.7L160.0 58.5L160.5 58.3L161.0 58.0L161.3 57.8L161.7 57.2L162.0 56.9L162.3 56.5L162.8 56.1L163.2 55.8L163.8 55.6L164.2 55.3L164.7 55.0L165.2 54.8L165.6 54.5L166.1 54.2L166.8 54.1L167.5 54.1L168.2 54.0L168.8 53.8L169.2 53.6L169.8 53.4L170.2 53.1L170.8 52.9L171.2 52.6L171.8 52.5L172.5 52.4L173.2 52.4L174.0 52.4L174.8 52.4L175.5 52.3L176.0 52.2L176.5 52.0L177.0 51.8L177.5 51.5L178.0 51.2L178.8 51.0L179.2 50.9L180.0 50.9L180.8 50.9L181.5 50.8L182.0 50.6L182.5 50.4L183.2 50.3L184.0 50.3L184.7 50.2L185.2 50.2L186.0 50.0L186.5 49.9L187.1 49.8Z" stroke-width="0.8"/>
<path d="M185.3 52.2L186.0 52.1L186.7 52.0L187.5 52.1L188.1 52.2L188.6 52.5L189.0 52.8L189.5 53.1L190.0 53.5L190.3 53.8L190.8 54.0L191.2 54.3L192.0 54.5L192.5 54.6L193.2 54.8L193.8 55.0L194.2 55.2L194.5 55.8L194.7 56.2L194.8 56.8L195.0 57.5L195.2 57.9L195.5 58.3L195.8 58.8L196.1 59.2L196.3 59.8L196.5 60.5L196.6 61.0L196.6 61.8L196.6 62.5L196.6 63.2L196.8 63.8L197.0 64.5L197.1 65.0L197.1 65.8L197.0 66.2L196.7 66.8L196.5 67.2L196.2 67.8L195.9 68.2L195.7 68.8L195.6 69.5L195.6 70.2L195.5 70.8L195.3 71.5L195.0 72.0L194.8 72.3L194.3 72.8L194.0 73.1L193.7 73.5L193.4 74.0L193.0 74.5L192.8 74.8L192.3 75.2L192.0 75.6L191.6 76.0L191.2 76.5L191.0 76.8L190.8 77.3L190.5 77.8L190.2 78.3L190.0 78.8L189.8 79.4L189.5 79.8L189.2 80.2L188.8 80.8L188.5 81.1L188.2 81.6L188.0 82.2L187.9 82.8L187.7 83.2L187.4 83.8L187.1 84.2L186.8 84.7L186.5 85.0L186.2 85.5L186.0 86.0L185.8 86.7L185.6 87.2L185.4 87.8L185.1 88.2L184.8 88.6L184.4 89.0L184.1 89.5L183.8 90.0L183.7 90.5L183.6 91.2L183.5 91.9L183.2 92.3L182.8 92.7L182.2 93.0L181.8 93.2L181.5 93.5L181.0 94.0L180.8 94.4L180.5 94.8L180.0 95.1L179.2 95.2L178.8 95.3L178.1 95.5L177.8 95.8L177.3 96.2L177.0 96.6L176.6 97.0L176.2 97.4L175.9 97.8L175.5 98.1L175.0 98.5L174.6 98.8L174.2 99.0L173.8 99.5L173.5 99.8L173.0 100.2L172.8 100.5L172.4 101.0L172.2 101.5L171.9 102.0L171.6 102.5L171.4 103.0L171.2 103.6L171.1 104.2L170.9 104.8L170.6 105.2L170.2 105.7L170.0 106.0L169.5 106.5L169.2 106.8L168.8 107.2L168.2 107.5L167.8 107.7L167.2 107.8L166.8 108.1L166.3 108.5L166.0 109.0L165.8 109.5L165.5 109.8L165.0 110.1L164.2 110.1L163.8 109.9L163.2 109.7L162.5 109.6L161.8 109.6L161.2 109.9L160.8 110.2L160.5 110.7L160.2 111.0L159.8 111.4L159.2 111.7L158.7 111.7L158.0 111.8L157.2 111.9L156.8 112.0L156.0 112.2L155.5 112.4L155.0 112.6L154.3 112.8L153.8 112.9L153.1 113.0L152.5 113.1L152.0 113.2L151.2 113.4L150.7 113.5L150.0 113.5L149.5 113.5L148.8 113.4L148.2 113.5L147.6 113.8L147.0 114.0L146.5 114.1L145.8 114.2L145.0 114.0L144.5 113.9L143.8 113.8L143.0 113.9L142.2 114.0L141.5 114.0L140.8 113.9L140.0 113.9L139.5 114.0L139.0 114.3L138.2 114.5L137.5 114.3L136.8 114.3L136.2 114.5L135.7 114.8L135.2 115.1L134.8 115.4L134.2 115.7L133.8 115.8L133.0 115.9L132.2 116.0L131.8 116.0L131.0 116.1L130.5 116.3L130.0 116.5L129.5 116.9L129.0 117.2L128.5 117.4L128.0 117.6L127.2 117.6L126.5 117.7L126.0 117.8L125.5 118.0L125.0 118.3L124.5 118.6L124.0 118.8L123.5 119.0L122.9 119.2L122.2 119.5L121.8 119.6L121.2 119.9L120.8 120.1L120.2 120.3L119.5 120.5L118.7 120.5L118.2 120.5L117.5 120.7L117.0 120.9L116.5 121.2L116.2 121.5L115.8 121.9L115.3 122.2L114.8 122.5L114.3 122.8L113.8 122.9L113.2 123.1L112.5 123.1L112.0 122.8L111.7 122.5L111.2 122.0L110.9 121.8L110.5 121.4L110.1 121.0L109.8 120.6L109.5 120.2L109.2 119.6L109.1 119.0L109.1 118.2L109.2 117.6L109.4 117.0L109.5 116.5L109.6 115.8L109.5 115.1L109.3 114.5L109.1 114.0L108.9 113.5L108.8 112.8L108.8 112.0L108.8 111.4L108.5 110.8L108.2 110.4L107.9 110.0L107.6 109.5L107.4 109.0L107.2 108.3L107.2 107.8L107.1 107.0L107.0 106.2L107.1 105.5L107.1 104.8L107.2 104.0L107.2 103.5L107.5 102.9L107.8 102.5L108.2 102.0L108.5 101.7L108.9 101.2L109.2 100.9L109.8 100.6L110.2 100.2L110.6 100.0L111.0 99.6L111.3 99.3L111.5 98.8L111.8 98.2L112.1 97.8L112.5 97.4L113.0 97.1L113.5 96.8L114.0 96.6L114.5 96.4L115.0 96.0L115.4 95.8L115.8 95.5L116.2 95.0L116.5 94.8L116.9 94.2L117.1 93.8L117.4 93.2L117.8 92.8L118.0 92.5L118.5 92.0L118.8 91.8L119.2 91.5L119.8 91.1L120.2 90.8L120.5 90.2L120.7 89.8L121.0 89.3L121.4 89.0L121.8 88.7L122.2 88.2L122.5 87.9L122.8 87.5L123.1 87.0L123.4 86.5L123.6 86.0L123.8 85.5L124.1 85.0L124.4 84.5L124.8 84.0L125.0 83.7L125.4 83.2L125.8 82.9L126.2 82.6L126.8 82.3L127.0 82.0L127.5 81.5L127.8 81.2L128.1 80.8L128.5 80.3L128.8 80.0L129.2 79.5L129.5 79.2L130.0 78.8L130.2 78.5L130.6 78.0L131.0 77.5L131.2 77.2L131.8 76.8L132.2 76.5L132.8 76.4L133.2 76.2L133.8 75.9L134.1 75.5L134.5 75.0L134.8 74.8L135.2 74.2L135.5 73.9L136.0 73.5L136.3 73.2L136.8 73.0L137.3 72.8L137.9 72.5L138.5 72.2L139.0 72.0L139.5 71.8L140.0 71.6L140.5 71.3L140.9 71.0L141.3 70.8L141.8 70.4L142.2 70.0L142.8 69.8L143.2 69.5L143.8 69.4L144.2 69.2L144.8 69.0L145.2 68.6L145.6 68.2L146.0 67.9L146.5 67.5L146.8 67.2L147.2 67.0L147.8 66.7L148.3 66.5L149.0 66.3L149.5 66.2L150.2 66.1L150.8 66.0L151.5 65.8L152.0 65.5L152.3 65.2L152.8 64.9L153.2 64.5L153.8 64.4L154.5 64.3L155.2 64.4L156.0 64.5L156.8 64.3L157.2 64.1L157.6 63.8L158.0 63.4L158.5 63.1L159.0 62.9L159.8 62.8L160.4 62.8L161.0 62.6L161.5 62.4L161.9 62.0L162.2 61.7L162.8 61.3L163.2 61.0L163.8 60.8L164.2 60.6L164.8 60.5L165.5 60.3L165.8 60.0L166.2 59.5L166.5 59.0L166.8 58.7L167.2 58.4L167.8 58.1L168.2 58.0L169.0 57.8L169.5 57.7L170.2 57.6L170.8 57.5L171.3 57.2L171.8 57.0L172.2 56.7L172.9 56.5L173.5 56.4L174.0 56.2L174.8 56.0L175.2 55.8L175.5 55.5L176.0 55.1L176.5 54.8L177.0 54.5L177.5 54.3L178.0 54.0L178.5 53.8L178.8 53.5L179.2 53.2L180.0 53.1L180.5 53.3L181.0 53.5L181.8 53.6L182.4 53.5L183.0 53.2L183.4 53.0L183.9 52.8L184.5 52.5L185.0 52.4ZM109.0 158.0L109.8 157.9L110.5 157.9L111.2 158.0L111.8 158.2L112.2 158.5L112.6 158.8L113.0 159.0L113.5 159.3L114.0 159.5L114.5 159.8L115.0 160.1L115.5 160.5L115.8 160.8L116.0 161.3L116.2 162.0L116.5 162.4L116.8 162.8L117.2 163.2L117.6 163.5L118.0 163.8L118.5 164.2L118.8 164.5L119.0 165.0L119.2 165.7L119.5 166.2L119.7 166.8L119.9 167.2L120.0 167.8L120.1 168.5L120.1 169.2L120.1 170.0L120.2 170.8L120.2 171.5L120.2 172.2L120.2 173.0L120.3 173.5L120.5 174.2L120.4 175.0L120.2 175.5L119.9 176.0L119.7 176.5L119.5 177.2L119.4 177.8L119.3 178.5L119.3 179.2L119.3 180.0L119.2 180.5L119.1 181.2L119.0 181.8L118.8 182.5L118.6 183.0L118.4 183.5L118.3 184.2L118.2 184.8L118.0 185.2L117.7 185.8L117.3 186.2L117.0 186.7L116.8 187.1L116.5 187.6L116.2 188.0L116.0 188.5L115.7 189.0L115.5 189.5L115.2 190.0L115.0 190.5L114.6 191.0L114.2 191.5L114.0 191.8L113.6 192.2L113.2 192.5L112.7 192.8L112.2 193.0L111.6 193.2L111.0 193.4L110.5 193.5L109.8 193.6L109.0 193.8L108.5 193.9L108.0 194.0L107.2 194.1L106.5 194.1L106.0 194.0L105.5 193.7L105.0 193.3L104.7 193.0L104.3 192.5L104.0 192.1L103.7 191.8L103.3 191.2L103.0 190.8L102.8 190.5L102.4 190.0L102.1 189.5L101.8 189.0L101.6 188.5L101.4 188.0L101.2 187.4L101.1 186.8L100.9 186.2L100.8 185.5L100.6 185.0L100.2 184.5L100.0 184.2L99.7 183.8L99.5 183.2L99.3 182.5L99.2 182.0L98.9 181.5L98.5 181.0L98.2 180.7L97.9 180.2L97.8 179.5L97.8 178.8L97.8 178.0L97.8 177.3L97.7 176.8L97.7 176.0L97.6 175.2L97.6 174.5L97.6 173.8L97.6 173.0L97.5 172.3L97.4 171.8L97.5 171.0L97.7 170.5L98.0 170.1L98.2 169.7L98.6 169.2L99.0 168.8L99.2 168.5L99.5 168.0L99.7 167.2L99.7 166.5L99.7 165.8L99.8 165.0L99.8 164.5L100.0 163.8L100.1 163.2L100.4 162.8L100.6 162.2L100.9 161.8L101.1 161.2L101.4 160.8L101.7 160.2L102.0 160.0L102.5 159.6L103.0 159.4L103.5 159.2L104.2 159.1L105.0 159.1L105.8 159.1L106.5 159.1L107.0 158.9L107.5 158.6L108.0 158.4L108.5 158.2L109.0 158.0Z" stroke-width="1.1"/>
<path d="M186.0 53.8L186.5 53.7L187.2 53.7L187.8 53.8L188.5 53.9L189.0 54.1L189.5 54.3L190.0 54.6L190.5 54.9L191.0 55.2L191.5 55.5L191.9 55.8L192.2 56.0L192.7 56.5L193.0 56.9L193.2 57.3L193.5 57.8L194.0 58.2L194.2 58.6L194.6 59.0L194.8 59.5L195.0 60.2L195.0 61.0L195.0 61.5L195.2 62.2L195.4 62.8L195.5 63.3L195.7 64.0L195.8 64.5L195.9 65.2L195.8 66.0L195.5 66.4L195.2 66.8L195.0 67.2L194.7 67.8L194.5 68.4L194.3 69.0L194.2 69.5L194.0 70.1L193.8 70.5L193.3 71.0L192.9 71.2L192.6 71.8L192.4 72.2L192.2 72.9L192.0 73.4L191.7 73.8L191.2 74.1L190.9 74.5L190.5 75.0L190.3 75.5L190.2 76.0L190.0 76.5L189.8 77.1L189.5 77.6L189.2 78.0L189.0 78.5L188.6 79.0L188.2 79.5L188.0 79.8L187.7 80.2L187.4 80.8L187.1 81.2L186.9 81.8L186.7 82.2L186.4 82.8L186.1 83.2L185.8 83.8L185.5 84.2L185.2 84.7L185.0 85.2L184.8 85.8L184.6 86.2L184.4 86.8L184.1 87.2L183.8 87.7L183.5 88.0L183.0 88.5L182.7 88.8L182.3 89.2L182.0 89.8L181.8 90.2L181.5 90.7L181.2 91.0L180.8 91.5L180.3 91.8L179.9 92.0L179.5 92.2L179.0 92.6L178.5 92.9L178.0 93.1L177.5 93.4L177.0 93.7L176.7 94.0L176.3 94.5L176.0 94.9L175.7 95.2L175.3 95.8L175.0 96.1L174.8 96.5L174.4 97.0L174.0 97.4L173.5 97.8L173.2 98.0L172.8 98.3L172.2 98.7L172.0 99.0L171.5 99.5L171.2 99.8L170.7 100.2L170.5 100.5L170.0 101.0L169.8 101.4L169.7 102.0L169.6 102.8L169.5 103.4L169.2 103.9L169.0 104.3L168.6 104.8L168.2 105.1L167.8 105.5L167.3 105.8L166.8 106.0L166.2 106.1L165.5 106.2L165.0 106.4L164.5 106.7L164.2 107.0L163.8 107.4L163.2 107.7L162.8 107.9L162.2 108.0L161.5 108.1L160.9 108.3L160.3 108.5L159.9 108.8L159.5 109.1L159.0 109.4L158.5 109.7L158.0 109.8L157.4 110.0L156.8 110.2L156.2 110.4L155.8 110.5L155.0 110.7L154.5 110.8L153.9 111.0L153.2 111.1L152.5 111.1L151.8 111.1L151.0 111.1L150.2 111.2L149.7 111.2L149.0 111.4L148.4 111.5L147.8 111.8L147.4 112.0L146.9 112.2L146.2 112.4L145.5 112.4L144.8 112.3L144.2 112.2L143.5 112.1L142.8 112.2L142.0 112.1L141.2 112.0L140.8 111.9L140.0 111.9L139.2 111.9L138.5 112.0L138.0 112.0L137.2 112.1L136.5 112.1L135.8 112.2L135.0 112.2L134.5 112.4L134.0 112.6L133.5 112.9L133.0 113.2L132.5 113.4L132.0 113.5L131.2 113.7L130.7 113.8L130.0 114.0L129.5 114.2L129.0 114.5L128.6 114.8L128.1 115.0L127.5 115.2L126.8 115.2L126.0 115.2L125.5 115.3L125.0 115.5L124.5 115.8L124.0 116.1L123.5 116.3L123.0 116.5L122.2 116.6L121.7 116.5L121.0 116.3L120.2 116.3L119.6 116.5L119.2 116.8L118.8 117.0L118.2 117.3L117.8 117.6L117.2 117.8L116.5 118.0L116.0 118.0L115.2 118.1L114.5 118.0L114.0 117.8L113.8 117.5L113.5 116.8L113.5 116.2L113.3 115.5L113.2 115.0L113.0 114.2L112.9 113.8L112.8 113.0L112.7 112.5L112.5 111.9L112.2 111.3L112.0 110.8L111.8 110.4L111.5 109.9L111.2 109.4L111.0 108.7L110.9 108.2L110.7 107.8L110.6 107.0L110.6 106.2L110.8 105.8L111.1 105.2L111.4 104.8L111.7 104.2L111.9 103.8L112.1 103.2L112.2 102.7L112.4 102.0L112.7 101.5L112.9 101.0L113.2 100.5L113.5 100.1L113.8 99.8L114.2 99.4L114.7 99.0L115.0 98.8L115.4 98.2L115.7 97.8L116.0 97.3L116.2 97.0L116.6 96.5L117.0 96.1L117.3 95.8L117.7 95.2L118.0 94.8L118.2 94.4L118.5 94.0L118.8 93.5L119.1 93.0L119.5 92.6L119.9 92.2L120.2 92.0L120.8 91.5L121.0 91.3L121.4 90.8L121.8 90.3L122.1 90.0L122.5 89.5L122.8 89.2L123.0 88.8L123.3 88.2L123.7 87.8L124.0 87.3L124.3 87.0L124.6 86.5L124.9 86.0L125.0 85.5L125.2 84.8L125.5 84.4L125.8 84.0L126.2 83.6L126.8 83.3L127.1 83.0L127.5 82.6L127.8 82.2L128.2 81.8L128.5 81.5L128.9 81.0L129.2 80.6L129.6 80.2L130.0 79.9L130.5 79.6L131.0 79.2L131.4 79.0L131.8 78.8L132.2 78.5L132.8 78.1L133.2 77.8L133.6 77.5L134.0 77.2L134.4 76.8L134.7 76.2L135.0 75.8L135.2 75.5L135.6 75.0L136.0 74.6L136.4 74.2L136.8 74.0L137.3 73.8L137.9 73.5L138.5 73.2L139.0 73.0L139.5 72.8L140.0 72.5L140.5 72.3L140.9 72.0L141.4 71.8L141.8 71.5L142.2 71.2L142.8 70.9L143.2 70.6L143.8 70.5L144.4 70.2L145.0 70.0L145.4 69.8L145.8 69.5L146.2 69.1L146.6 68.8L147.0 68.4L147.5 68.0L147.9 67.8L148.4 67.5L149.0 67.3L149.5 67.2L150.2 67.1L150.8 67.0L151.4 66.8L152.0 66.5L152.4 66.2L152.8 66.0L153.2 65.7L153.8 65.5L154.5 65.2L155.0 65.2L155.8 65.1L156.4 65.0L157.0 64.8L157.5 64.5L157.9 64.2L158.2 64.0L158.8 63.6L159.2 63.4L160.0 63.3L160.8 63.3L161.2 63.2L161.8 63.0L162.2 62.6L162.7 62.2L163.0 62.0L163.5 61.7L164.0 61.4L164.6 61.3L165.2 61.1L165.8 61.0L166.2 60.7L166.7 60.2L167.0 59.9L167.4 59.5L167.8 59.2L168.3 59.0L169.0 58.8L169.5 58.7L170.2 58.5L170.8 58.4L171.3 58.2L171.9 58.0L172.3 57.8L172.9 57.5L173.5 57.3L174.0 57.1L174.5 57.0L175.1 56.8L175.5 56.5L176.0 56.2L176.5 55.8L177.0 55.5L177.5 55.3L178.0 55.2L178.6 55.0L179.2 54.8L179.8 54.7L180.5 54.7L181.2 54.6L181.8 54.5L182.5 54.3L183.0 54.2L183.7 54.0L184.2 53.9L185.0 53.8L185.8 53.8ZM108.3 168.5L109.0 168.4L109.7 168.5L110.1 168.8L110.5 169.2L110.7 169.8L110.9 170.2L111.0 170.8L111.1 171.5L111.2 172.2L111.0 173.0L110.9 173.5L110.6 174.0L110.2 174.3L109.5 174.4L109.0 174.2L108.5 173.9L108.0 173.5L107.8 173.1L107.5 172.7L107.2 172.1L107.1 171.5L107.0 170.8L107.1 170.0L107.2 169.5L107.6 169.0L108.0 168.6Z" stroke-width="1.1"/>
<path d="M186.2 54.5L186.8 54.5L187.5 54.5L188.0 54.5L188.8 54.7L189.2 54.9L189.8 55.2L190.2 55.5L190.7 55.8L191.0 56.0L191.4 56.5L191.8 57.0L192.0 57.4L192.2 57.8L192.6 58.2L192.9 58.8L193.2 59.2L193.5 59.7L193.6 60.2L193.7 61.0L193.9 61.5L194.0 62.0L194.2 62.7L194.4 63.2L194.5 63.8L194.6 64.5L194.7 65.2L194.5 65.8L194.2 66.3L194.0 66.8L193.7 67.4L193.6 68.0L193.4 68.5L193.2 69.0L192.8 69.5L192.4 69.8L192.0 70.0L191.5 70.3L191.1 70.8L191.0 71.2L191.0 72.0L190.8 72.8L190.5 73.2L190.2 73.5L189.9 74.0L189.7 74.5L189.5 75.0L189.2 75.7L189.1 76.2L188.9 76.8L188.7 77.2L188.3 77.8L188.0 78.1L187.7 78.5L187.3 79.0L187.0 79.3L186.7 79.8L186.4 80.2L186.1 80.8L185.8 81.2L185.5 81.6L185.2 82.0L184.9 82.5L184.5 83.0L184.2 83.5L184.0 83.9L183.8 84.4L183.5 85.0L183.3 85.5L183.2 86.0L182.8 86.5L182.5 86.9L182.1 87.2L181.7 87.5L181.2 88.0L181.0 88.3L180.7 88.8L180.4 89.2L180.0 89.8L179.8 90.0L179.2 90.4L178.8 90.7L178.2 91.0L177.9 91.2L177.5 91.5L177.0 91.8L176.5 92.1L176.0 92.4L175.6 92.8L175.2 93.0L174.8 93.4L174.3 93.8L174.0 94.0L173.5 94.4L173.2 94.8L173.0 95.2L172.8 95.9L172.5 96.4L172.2 96.8L171.8 97.2L171.5 97.5L171.0 97.9L170.5 98.2L170.1 98.5L169.7 98.7L169.2 99.0L168.8 99.4L168.3 99.8L168.0 100.0L167.7 100.5L167.4 101.0L167.2 101.7L167.1 102.2L166.8 102.8L166.5 103.2L166.1 103.5L165.7 103.8L165.1 104.0L164.5 104.2L164.0 104.4L163.5 104.6L163.0 104.9L162.5 105.2L162.1 105.5L161.8 105.8L161.3 106.2L161.0 106.5L160.5 106.8L159.8 107.0L159.2 107.0L158.5 107.0L158.0 107.0L157.5 107.2L157.1 107.5L156.8 107.9L156.2 108.2L155.8 108.5L155.2 108.6L154.6 108.8L154.0 108.9L153.2 109.0L152.8 109.0L152.0 109.0L151.2 109.1L150.6 109.2L150.0 109.4L149.5 109.5L148.8 109.6L148.0 109.6L147.2 109.5L146.7 109.5L146.0 109.5L145.5 109.6L145.0 109.9L144.5 110.1L144.0 110.3L143.2 110.3L142.5 110.4L141.8 110.4L141.0 110.3L140.2 110.3L139.5 110.3L138.8 110.4L138.0 110.4L137.2 110.5L136.5 110.5L135.8 110.5L135.0 110.4L134.2 110.5L133.8 110.6L133.2 110.9L132.8 111.1L132.2 111.2L131.5 111.3L130.8 111.4L130.0 111.4L129.5 111.5L128.8 111.6L128.2 111.8L127.5 112.0L127.0 112.1L126.2 112.2L125.8 112.3L125.0 112.3L124.2 112.4L123.5 112.4L123.0 112.6L122.5 112.8L122.0 113.1L121.5 113.3L120.8 113.4L120.0 113.3L119.5 113.2L118.8 113.0L118.2 112.9L117.8 112.7L117.3 112.2L117.0 111.8L116.9 111.2L116.7 110.8L116.5 110.2L116.2 109.8L115.9 109.2L115.6 108.8L115.5 108.2L115.4 107.5L115.2 106.8L115.1 106.2L115.0 105.6L114.9 105.0L114.9 104.2L115.1 103.8L115.3 103.2L115.7 102.8L116.0 102.4L116.4 102.0L116.7 101.5L116.8 101.0L116.9 100.2L117.0 99.7L117.1 99.0L117.3 98.5L117.5 97.9L117.8 97.5L118.1 97.0L118.5 96.6L118.8 96.2L119.2 95.8L119.5 95.2L119.6 94.8L119.8 94.2L120.0 93.7L120.3 93.2L120.7 92.8L121.0 92.4L121.4 92.0L121.8 91.6L122.0 91.2L122.4 90.8L122.8 90.3L123.0 90.0L123.4 89.5L123.7 89.0L123.9 88.5L124.2 88.1L124.5 87.8L125.0 87.3L125.3 87.0L125.7 86.5L125.9 86.0L126.0 85.5L126.2 84.9L126.5 84.5L127.0 84.1L127.4 83.8L127.8 83.4L128.1 83.0L128.4 82.5L128.8 82.1L129.0 81.8L129.5 81.2L129.8 81.0L130.2 80.5L130.6 80.2L131.0 80.0L131.5 79.7L132.0 79.4L132.5 79.1L133.0 78.8L133.3 78.5L133.8 78.2L134.2 77.8L134.5 77.5L134.9 77.0L135.2 76.5L135.5 76.0L135.8 75.7L136.1 75.2L136.5 74.9L137.0 74.6L137.5 74.3L138.0 74.1L138.5 73.9L139.0 73.6L139.5 73.4L140.0 73.1L140.5 72.8L141.0 72.5L141.5 72.2L141.9 72.0L142.4 71.8L142.9 71.5L143.5 71.3L144.0 71.1L144.5 70.9L145.0 70.7L145.5 70.3L146.0 70.0L146.3 69.8L146.8 69.4L147.2 69.0L147.5 68.7L148.0 68.3L148.5 68.0L149.0 67.8L149.5 67.7L150.2 67.5L150.8 67.4L151.3 67.2L151.9 67.0L152.4 66.8L152.9 66.5L153.4 66.2L154.0 66.0L154.5 65.9L155.0 65.8L155.8 65.6L156.3 65.5L157.0 65.2L157.5 65.0L157.9 64.8L158.2 64.5L158.8 64.1L159.2 63.9L160.0 63.8L160.5 63.7L161.2 63.6L161.8 63.5L162.2 63.2L162.8 62.9L163.2 62.5L163.6 62.2L164.0 62.0L164.8 61.8L165.2 61.7L166.0 61.5L166.5 61.2L166.8 61.0L167.2 60.5L167.5 60.2L168.0 59.9L168.5 59.6L169.0 59.4L169.7 59.2L170.2 59.1L170.9 59.0L171.5 58.8L172.0 58.6L172.5 58.3L173.0 58.1L173.5 57.9L174.0 57.7L174.6 57.5L175.2 57.2L175.7 57.0L176.1 56.8L176.5 56.5L177.0 56.2L177.5 56.0L178.2 55.8L178.8 55.6L179.5 55.5L180.0 55.5L180.8 55.4L181.3 55.2L182.0 55.0L182.5 54.8L183.0 54.7L183.8 54.6L184.5 54.6L185.2 54.6L186.0 54.5Z" stroke-width="1.1"/>
<path d="M182.6 55.2L183.2 55.1L184.0 55.1L184.8 55.2L185.5 55.2L186.2 55.1L187.0 55.0L187.8 55.1L188.3 55.2L189.0 55.5L189.5 55.7L189.9 56.0L190.2 56.3L190.7 56.8L191.0 57.2L191.2 57.6L191.5 58.1L191.8 58.6L192.0 59.2L192.2 59.8L192.4 60.2L192.5 60.8L192.8 61.3L193.0 62.0L193.2 62.5L193.3 63.0L193.3 63.8L193.4 64.5L193.4 65.2L193.3 66.0L193.1 66.5L192.9 67.0L192.8 67.6L192.5 68.2L192.2 68.6L191.8 69.0L191.4 69.2L190.9 69.5L190.5 69.8L190.0 70.2L189.8 70.7L189.6 71.2L189.5 72.0L189.4 72.5L189.2 73.0L189.0 73.6L188.8 74.2L188.6 74.8L188.4 75.2L188.2 75.8L188.0 76.2L187.6 76.8L187.2 77.2L186.9 77.5L186.5 77.9L186.2 78.2L185.9 78.8L185.6 79.2L185.4 79.8L185.1 80.2L184.8 80.7L184.5 81.1L184.2 81.5L183.8 82.0L183.5 82.4L183.2 82.8L182.9 83.2L182.6 83.8L182.4 84.2L182.2 84.8L181.9 85.2L181.5 85.7L181.2 86.0L180.8 86.3L180.2 86.7L179.8 87.0L179.5 87.2L179.0 87.6L178.5 87.9L178.0 88.1L177.5 88.4L177.2 88.9L177.1 89.5L176.8 90.0L176.5 90.4L176.0 90.8L175.7 91.0L175.2 91.3L174.8 91.6L174.2 91.9L173.8 92.2L173.2 92.5L172.9 92.8L172.5 93.2L172.2 93.6L172.0 94.0L171.8 94.5L171.5 95.2L171.2 95.7L171.0 96.1L170.6 96.5L170.2 96.8L169.6 97.0L169.0 97.2L168.6 97.5L168.2 97.7L167.8 98.1L167.3 98.5L166.9 98.8L166.5 99.0L166.0 99.3L165.5 99.7L165.1 100.0L164.8 100.5L164.5 100.8L164.2 101.2L163.8 101.8L163.5 102.0L163.0 102.4L162.5 102.7L162.0 103.0L161.6 103.2L161.2 103.5L160.8 103.9L160.3 104.2L159.8 104.4L159.0 104.4L158.5 104.2L157.8 104.0L157.0 104.1L156.5 104.4L156.0 104.8L155.8 105.1L155.5 105.7L155.3 106.2L155.0 106.7L154.8 107.0L154.2 107.3L153.8 107.5L153.0 107.6L152.2 107.5L151.8 107.4L151.0 107.3L150.3 107.5L149.8 107.7L149.2 108.0L148.8 108.1L148.0 108.1L147.3 108.0L146.8 107.8L146.3 107.5L145.8 107.3L145.0 107.4L144.5 107.7L144.1 108.0L143.5 108.2L143.0 108.3L142.2 108.4L141.5 108.3L141.0 108.2L140.2 108.2L139.6 108.2L139.0 108.4L138.5 108.5L137.8 108.7L137.2 108.9L136.5 109.0L136.0 109.0L135.5 108.9L135.0 108.6L134.5 108.4L134.0 108.2L133.5 108.3L133.0 108.6L132.5 109.0L132.1 109.2L131.5 109.4L130.8 109.5L130.0 109.5L129.2 109.5L128.5 109.4L127.8 109.3L127.2 109.2L126.5 109.2L126.0 109.3L125.2 109.3L124.8 109.0L124.4 108.8L124.0 108.4L123.5 108.2L122.8 108.1L122.0 108.2L121.5 108.5L121.0 108.6L120.5 108.5L120.0 108.2L119.5 107.9L119.2 107.5L118.8 107.0L118.6 106.5L118.7 105.8L118.9 105.2L119.1 104.8L119.3 104.2L119.4 103.5L119.4 102.8L119.3 102.0L119.3 101.2L119.2 100.8L119.1 100.0L119.1 99.2L119.3 98.8L119.5 98.2L119.8 97.7L120.0 97.2L120.2 96.7L120.5 96.2L120.7 95.5L120.8 95.0L121.0 94.3L121.2 93.8L121.5 93.3L121.8 92.9L122.0 92.5L122.3 92.0L122.6 91.5L123.0 91.0L123.2 90.7L123.6 90.2L123.9 89.8L124.2 89.2L124.5 88.8L124.8 88.4L125.2 88.0L125.5 87.8L126.0 87.3L126.3 87.0L126.5 86.5L126.8 86.0L127.0 85.4L127.3 85.0L127.7 84.5L128.0 84.2L128.4 83.8L128.7 83.2L129.0 82.8L129.2 82.4L129.6 82.0L130.0 81.5L130.2 81.2L130.8 80.8L131.1 80.5L131.6 80.2L132.1 80.0L132.5 79.8L133.0 79.4L133.5 79.0L133.8 78.8L134.2 78.4L134.7 78.0L135.0 77.6L135.3 77.2L135.6 76.8L135.9 76.2L136.2 75.8L136.5 75.5L137.0 75.1L137.5 74.9L138.0 74.6L138.5 74.4L139.0 74.2L139.5 73.9L140.0 73.6L140.5 73.3L141.0 73.0L141.4 72.8L141.9 72.5L142.4 72.2L143.0 72.0L143.5 71.8L144.0 71.7L144.5 71.5L145.0 71.2L145.5 70.9L146.0 70.5L146.3 70.2L146.8 69.9L147.2 69.5L147.5 69.2L148.0 68.9L148.5 68.5L149.0 68.2L149.5 68.1L150.0 67.9L150.8 67.8L151.2 67.6L151.8 67.4L152.2 67.2L152.8 67.0L153.2 66.7L153.9 66.5L154.5 66.4L155.1 66.2L155.8 66.1L156.2 66.0L156.8 65.8L157.3 65.5L157.8 65.2L158.2 64.9L158.8 64.6L159.2 64.3L159.8 64.2L160.5 64.1L161.2 64.0L161.8 63.9L162.2 63.7L162.8 63.4L163.2 63.0L163.7 62.8L164.2 62.5L164.8 62.4L165.3 62.2L166.0 62.1L166.5 61.9L167.0 61.5L167.4 61.2L167.8 61.0L168.2 60.6L168.8 60.3L169.2 60.1L169.8 59.9L170.2 59.7L171.0 59.5L171.5 59.3L172.0 59.1L172.5 58.9L173.0 58.7L173.5 58.5L174.1 58.2L174.8 58.0L175.2 57.8L175.8 57.5L176.2 57.2L176.6 57.0L177.0 56.7L177.5 56.5L178.2 56.3L178.8 56.2L179.5 56.1L180.1 56.0L180.8 55.9L181.2 55.7L181.9 55.5L182.5 55.3Z" stroke-width="1.1"/>
<path d="M182.4 55.8L183.0 55.6L183.8 55.6L184.5 55.7L185.2 55.7L186.0 55.7L186.8 55.6L187.5 55.7L188.0 55.8L188.5 56.0L189.0 56.2L189.5 56.6L190.0 57.0L190.2 57.4L190.5 57.8L190.8 58.4L190.9 59.0L191.1 59.5L191.2 60.0L191.5 60.7L191.7 61.2L191.9 61.8L192.0 62.5L191.8 63.2L191.8 64.0L191.8 64.2L192.0 65.0L192.1 65.5L192.1 66.2L192.0 67.0L191.8 67.5L191.5 68.0L191.2 68.2L190.8 68.5L190.2 68.8L189.8 69.2L189.4 69.5L189.0 69.9L188.8 70.3L188.5 71.0L188.4 71.5L188.3 72.2L188.1 72.8L188.0 73.3L187.8 74.0L187.6 74.5L187.3 75.0L187.0 75.5L186.8 75.8L186.3 76.2L186.0 76.5L185.5 76.9L185.1 77.2L184.8 77.8L184.6 78.2L184.5 78.8L184.3 79.5L184.0 80.0L183.8 80.4L183.5 80.8L183.2 81.2L182.8 81.8L182.5 82.1L182.2 82.5L181.9 83.0L181.6 83.5L181.3 84.0L181.0 84.4L180.6 84.8L180.2 85.0L179.8 85.3L179.2 85.6L178.8 85.9L178.2 86.1L177.8 86.3L177.2 86.6L176.8 86.9L176.3 87.2L176.0 87.7L175.8 88.1L175.5 88.7L175.2 89.2L175.0 89.6L174.6 90.0L174.2 90.3L173.8 90.6L173.2 90.9L172.8 91.2L172.4 91.5L172.0 91.8L171.5 92.2L171.2 92.6L171.0 93.0L170.6 93.5L170.2 93.8L169.8 94.1L169.2 94.3L168.6 94.5L168.1 94.8L167.8 95.1L167.4 95.5L167.2 96.0L166.9 96.5L166.5 97.0L166.2 97.3L165.8 97.7L165.2 98.0L164.8 98.2L164.2 98.4L163.8 98.6L163.2 98.8L162.8 99.2L162.4 99.5L162.0 99.8L161.5 100.0L161.0 100.2L160.5 100.6L160.1 101.0L159.8 101.5L159.5 101.8L159.0 102.0L158.2 102.1L157.5 102.0L157.0 102.0L156.5 102.1L156.0 102.4L155.6 102.8L155.2 103.0L154.8 103.3L154.2 103.7L153.9 104.0L153.5 104.4L153.1 104.8L152.5 104.9L151.8 104.8L151.2 104.7L150.5 104.7L150.0 104.8L149.4 105.0L149.0 105.3L148.5 105.8L148.2 106.0L147.5 106.1L147.0 105.9L146.5 105.7L146.0 105.5L145.2 105.4L144.7 105.5L144.2 105.8L143.8 106.1L143.2 106.4L142.8 106.6L142.0 106.6L141.2 106.6L140.5 106.6L139.8 106.7L139.2 106.8L138.8 107.0L138.2 107.2L137.5 107.5L137.0 107.6L136.2 107.5L135.8 107.4L135.2 107.1L134.8 106.9L134.2 106.7L133.5 106.7L133.0 106.8L132.5 107.1L132.0 107.3L131.5 107.6L130.8 107.7L130.0 107.6L129.5 107.5L129.0 107.2L128.5 107.0L128.0 106.8L127.2 106.6L126.5 106.7L125.8 106.7L125.1 106.5L124.7 106.2L124.2 105.8L124.0 105.5L123.6 105.0L123.2 104.6L123.0 104.2L122.7 103.8L122.5 103.2L122.3 102.5L122.3 101.8L122.3 101.0L122.1 100.5L121.9 100.0L121.8 99.5L121.6 98.8L121.5 98.1L121.5 97.7L121.6 97.0L121.7 96.2L121.8 95.8L121.9 95.0L122.0 94.5L122.2 93.8L122.5 93.3L122.7 92.8L123.0 92.2L123.2 91.8L123.5 91.4L123.8 91.0L124.2 90.5L124.5 90.0L124.8 89.6L125.0 89.2L125.4 88.8L125.8 88.4L126.2 88.0L126.5 87.7L126.8 87.2L127.1 86.8L127.4 86.2L127.7 85.8L128.0 85.3L128.3 85.0L128.7 84.5L129.0 84.1L129.2 83.6L129.5 83.1L129.8 82.8L130.2 82.2L130.5 81.9L130.8 81.5L131.2 81.1L131.8 80.8L132.2 80.5L132.7 80.2L133.1 80.0L133.5 79.7L134.0 79.2L134.3 79.0L134.8 78.6L135.1 78.2L135.5 77.8L135.8 77.3L136.0 77.0L136.3 76.5L136.7 76.0L137.0 75.7L137.5 75.4L138.0 75.2L138.5 74.9L139.0 74.7L139.5 74.4L140.0 74.1L140.5 73.8L140.9 73.5L141.3 73.2L141.8 73.0L142.2 72.7L142.9 72.5L143.5 72.3L144.0 72.2L144.5 72.0L145.0 71.7L145.5 71.4L146.0 71.0L146.3 70.8L146.8 70.4L147.2 70.0L147.5 69.8L148.0 69.4L148.5 69.0L148.9 68.8L149.4 68.5L150.0 68.3L150.5 68.2L151.1 68.0L151.8 67.8L152.2 67.6L152.8 67.3L153.2 67.1L153.8 66.9L154.5 66.8L155.0 66.8L155.8 66.6L156.2 66.5L156.8 66.2L157.2 66.0L157.8 65.7L158.2 65.4L158.8 65.0L159.2 64.8L159.8 64.6L160.5 64.5L161.0 64.5L161.8 64.3L162.2 64.2L162.8 63.9L163.2 63.6L163.8 63.3L164.2 63.1L164.8 63.0L165.5 62.8L166.0 62.7L166.5 62.5L167.0 62.2L167.5 61.9L168.0 61.7L168.5 61.5L169.0 61.2L169.5 60.9L170.0 60.6L170.5 60.3L171.0 60.0L171.5 59.9L172.0 59.7L172.5 59.5L173.1 59.2L173.8 59.0L174.2 58.9L174.8 58.7L175.2 58.4L175.8 58.1L176.2 57.8L176.7 57.5L177.1 57.2L177.7 57.0L178.2 56.8L178.8 56.7L179.5 56.6L180.0 56.5L180.8 56.3L181.2 56.2L181.8 56.0L182.4 55.8Z" stroke-width="1.1"/>
<path d="M182.4 56.2L183.0 56.1L183.8 56.2L184.2 56.3L185.0 56.4L185.8 56.4L186.5 56.3L187.2 56.3L187.7 56.5L188.2 56.8L188.8 57.2L189.0 57.5L189.3 58.0L189.5 58.5L189.8 59.1L189.9 59.8L190.1 60.2L190.3 60.8L190.5 61.3L190.5 61.8L190.3 62.5L190.2 63.0L190.2 63.8L190.2 64.3L190.5 65.0L190.7 65.5L190.9 66.0L190.9 66.8L190.7 67.2L190.2 67.7L189.8 68.0L189.5 68.2L189.0 68.6L188.6 69.0L188.2 69.4L188.0 69.8L187.8 70.3L187.5 71.0L187.4 71.5L187.2 72.0L187.0 72.6L186.8 73.2L186.5 73.7L186.2 74.1L186.0 74.6L185.7 75.0L185.4 75.5L185.0 75.9L184.6 76.2L184.2 76.6L184.0 77.0L183.7 77.5L183.5 78.2L183.4 78.8L183.1 79.2L182.8 79.8L182.5 80.1L182.2 80.5L181.8 81.0L181.5 81.5L181.2 81.9L181.0 82.3L180.7 82.8L180.3 83.2L180.0 83.5L179.5 83.9L179.0 84.2L178.5 84.5L178.0 84.7L177.5 85.0L177.1 85.2L176.7 85.5L176.2 85.8L175.8 86.2L175.5 86.5L175.1 87.0L174.8 87.5L174.5 88.0L174.2 88.3L173.8 88.8L173.5 89.1L173.0 89.4L172.5 89.8L172.1 90.0L171.8 90.3L171.2 90.6L170.8 90.9L170.3 91.2L170.0 91.5L169.5 91.8L169.0 92.0L168.5 92.2L168.0 92.5L167.5 92.9L167.1 93.2L166.8 93.6L166.4 94.0L166.0 94.5L165.8 94.8L165.3 95.2L165.0 95.6L164.6 96.0L164.2 96.3L163.8 96.5L163.0 96.7L162.5 96.9L162.0 97.0L161.5 97.2L161.0 97.5L160.5 97.9L160.0 98.2L159.5 98.5L159.0 98.8L158.6 99.0L158.1 99.2L157.7 99.5L157.1 99.8L156.5 99.9L156.0 100.1L155.5 100.5L155.2 100.9L155.0 101.2L154.6 101.8L154.2 102.0L153.7 102.2L153.0 102.4L152.2 102.5L151.8 102.6L151.2 102.8L150.5 103.0L150.0 103.1L149.2 103.2L148.8 103.3L148.0 103.4L147.5 103.5L146.8 103.7L146.2 103.8L145.5 104.0L144.8 104.0L144.2 104.0L143.5 104.2L143.0 104.4L142.5 104.7L142.0 104.9L141.5 105.1L140.8 105.2L140.2 105.3L139.5 105.5L139.0 105.6L138.3 105.8L137.8 105.9L137.2 106.0L136.5 106.0L136.0 105.9L135.4 105.8L134.8 105.5L134.2 105.4L133.6 105.2L133.0 105.2L132.5 105.3L131.8 105.5L131.2 105.7L130.5 105.7L129.8 105.5L129.4 105.2L129.0 104.9L128.6 104.5L128.2 104.0L128.0 103.8L127.5 103.3L127.1 103.0L126.7 102.8L126.2 102.3L125.9 102.0L125.5 101.5L125.2 101.2L124.8 100.8L124.5 100.4L124.1 100.0L123.8 99.6L123.5 99.2L123.2 98.7L123.0 98.0L123.0 97.5L123.0 96.8L123.0 96.2L123.1 95.5L123.1 94.8L123.2 94.1L123.4 93.5L123.6 93.0L123.8 92.5L124.1 92.0L124.5 91.5L124.8 91.2L125.1 90.8L125.4 90.2L125.7 89.8L126.0 89.3L126.2 89.0L126.7 88.5L127.0 88.2L127.3 87.8L127.6 87.2L127.9 86.8L128.2 86.2L128.5 85.9L128.8 85.5L129.2 85.0L129.5 84.6L129.8 84.1L130.0 83.7L130.3 83.2L130.7 82.8L131.0 82.4L131.3 82.0L131.8 81.6L132.2 81.3L132.7 81.0L133.1 80.8L133.5 80.4L133.9 80.0L134.2 79.7L134.7 79.2L135.0 79.0L135.5 78.5L135.8 78.1L136.0 77.8L136.3 77.2L136.7 76.8L137.0 76.4L137.5 76.0L137.9 75.8L138.4 75.5L138.9 75.2L139.3 75.0L139.8 74.8L140.2 74.4L140.8 74.1L141.2 73.8L141.6 73.5L142.1 73.2L142.7 73.0L143.2 72.8L143.8 72.7L144.3 72.5L144.9 72.2L145.3 72.0L145.8 71.6L146.2 71.2L146.5 71.0L147.0 70.6L147.5 70.3L147.9 70.0L148.2 69.7L148.8 69.4L149.2 69.0L149.7 68.8L150.2 68.6L150.8 68.4L151.3 68.2L152.0 68.0L152.5 67.8L153.0 67.5L153.5 67.3L154.0 67.2L154.8 67.2L155.5 67.2L156.2 67.0L156.8 66.8L157.2 66.5L157.6 66.2L158.0 66.0L158.5 65.7L159.0 65.4L159.5 65.2L160.2 65.0L160.8 65.0L161.5 64.9L162.1 64.8L162.6 64.5L163.1 64.2L163.6 64.0L164.2 63.8L164.8 63.7L165.5 63.5L166.0 63.3L166.5 63.1L167.0 62.9L167.5 62.7L168.0 62.5L168.8 62.3L169.3 62.1L169.8 61.8L170.1 61.5L170.5 61.1L170.9 60.8L171.3 60.5L171.9 60.2L172.5 60.0L173.0 59.9L173.5 59.7L174.2 59.5L174.8 59.3L175.2 59.1L175.8 58.9L176.2 58.5L176.5 58.2L177.0 57.9L177.5 57.6L178.0 57.5L178.8 57.3L179.2 57.2L179.9 57.0L180.5 56.9L181.0 56.7L181.6 56.5L182.2 56.3Z" stroke-width="1.1"/>
<path d="M181.9 57.0L182.5 56.9L183.2 56.9L183.8 57.1L184.2 57.4L184.8 57.7L185.2 58.0L185.6 58.2L186.0 58.6L186.5 59.0L186.7 59.3L187.1 59.8L187.3 60.2L187.4 61.0L187.5 61.5L187.8 62.1L188.0 62.6L188.2 63.1L188.5 63.8L188.6 64.2L188.8 65.0L189.0 65.5L189.2 66.0L189.3 66.5L189.1 67.0L188.8 67.4L188.3 67.8L188.0 68.1L187.6 68.5L187.2 69.0L187.0 69.4L186.8 69.9L186.5 70.5L186.4 71.0L186.2 71.5L186.0 72.0L185.6 72.5L185.2 72.8L184.8 73.2L184.4 73.5L184.1 74.0L184.0 74.5L183.9 75.2L183.6 75.8L183.3 76.2L183.0 76.8L182.9 77.2L182.7 77.8L182.5 78.3L182.2 78.8L181.8 79.2L181.4 79.5L181.0 79.8L180.5 80.1L180.0 80.5L179.8 80.8L179.4 81.2L179.1 81.8L178.8 82.1L178.4 82.5L178.0 82.8L177.5 83.2L177.2 83.5L176.8 84.0L176.4 84.2L176.0 84.6L175.5 84.9L175.0 85.2L174.5 85.5L174.2 85.8L173.8 86.1L173.3 86.5L172.9 86.8L172.5 87.0L172.0 87.4L171.5 87.7L171.0 87.9L170.5 88.1L170.0 88.3L169.5 88.7L169.1 89.0L168.8 89.3L168.3 89.8L168.0 90.0L167.5 90.5L167.2 90.8L166.8 91.2L166.5 91.5L166.0 91.9L165.5 92.2L165.0 92.4L164.7 92.8L164.4 93.2L164.1 93.8L163.8 94.2L163.4 94.5L163.0 94.8L162.5 95.1L162.0 95.3L161.4 95.5L160.8 95.7L160.2 95.9L159.8 96.1L159.2 96.3L158.8 96.6L158.2 97.0L157.9 97.3L157.5 97.6L157.0 97.9L156.5 98.2L156.0 98.3L155.4 98.5L154.8 98.7L154.2 98.9L153.8 99.2L153.4 99.5L153.0 99.8L152.5 100.1L152.0 100.3L151.4 100.5L150.8 100.7L150.2 101.0L149.8 101.2L149.2 101.4L148.8 101.6L148.2 101.8L147.7 102.0L147.0 102.2L146.5 102.4L146.0 102.5L145.2 102.7L144.6 102.8L144.0 102.8L143.2 102.8L142.5 103.0L142.0 103.1L141.4 103.2L140.8 103.3L140.0 103.4L139.5 103.6L138.8 103.8L138.2 103.9L137.7 104.0L137.0 104.2L136.2 104.2L135.5 104.1L135.0 103.9L134.5 103.7L134.0 103.4L133.5 103.2L132.8 103.1L132.0 103.1L131.2 103.2L130.8 103.0L130.5 102.5L130.3 101.8L130.1 101.2L129.8 101.0L129.1 100.8L128.5 100.6L128.0 100.5L127.5 100.1L127.2 99.8L126.8 99.3L126.5 99.0L126.1 98.5L125.8 98.1L125.5 97.7L125.2 97.2L125.0 96.6L124.8 96.0L124.7 95.5L124.7 94.8L124.8 94.2L125.0 93.5L125.2 93.0L125.5 92.5L125.8 92.2L126.0 91.8L126.3 91.3L126.5 90.7L126.8 90.1L127.0 89.7L127.3 89.2L127.6 88.8L128.0 88.2L128.2 87.8L128.5 87.3L128.8 86.8L129.0 86.5L129.4 86.0L129.8 85.5L130.0 85.2L130.3 84.8L130.6 84.2L131.0 83.8L131.3 83.5L131.8 83.1L132.1 82.8L132.5 82.4L132.9 82.0L133.2 81.7L133.8 81.3L134.0 81.0L134.4 80.5L134.8 80.1L135.1 79.8L135.5 79.3L135.8 79.0L136.1 78.5L136.4 78.0L136.7 77.5L137.0 77.2L137.4 76.8L137.8 76.5L138.2 76.2L138.8 75.9L139.2 75.6L139.8 75.3L140.2 75.0L140.6 74.8L141.0 74.5L141.5 74.1L142.0 73.8L142.5 73.5L143.0 73.3L143.5 73.2L144.2 73.0L144.8 72.8L145.2 72.5L145.6 72.2L146.0 71.9L146.5 71.5L146.8 71.2L147.2 70.9L147.8 70.6L148.2 70.3L148.7 70.0L149.0 69.8L149.5 69.4L150.0 69.1L150.5 68.9L151.0 68.7L151.5 68.5L152.1 68.2L152.7 68.0L153.2 67.8L153.8 67.7L154.5 67.6L155.1 67.8L155.8 67.9L156.4 67.8L156.9 67.5L157.2 67.2L157.8 66.8L158.2 66.5L158.6 66.2L159.1 66.0L159.7 65.8L160.2 65.7L161.0 65.6L161.8 65.6L162.2 65.4L162.8 65.1L163.2 64.9L163.8 64.6L164.2 64.5L165.0 64.4L165.5 64.2L166.1 64.0L166.7 63.8L167.2 63.5L167.8 63.3L168.2 63.1L168.8 63.0L169.4 62.8L169.8 62.5L170.2 62.2L170.8 61.8L171.1 61.5L171.5 61.2L172.0 60.9L172.5 60.7L173.0 60.5L173.7 60.3L174.2 60.1L174.8 60.0L175.5 59.8L176.0 59.6L176.5 59.2L176.8 59.0L177.2 58.6L177.8 58.3L178.2 58.1L178.8 58.0L179.5 57.8L180.0 57.7L180.5 57.5L181.2 57.2L181.7 57.1Z" stroke-width="1.1"/>
<path d="M181.9 58.8L182.5 58.7L183.0 59.0L183.3 59.2L183.8 59.7L184.2 60.0L184.6 60.2L185.0 60.5L185.5 60.9L185.8 61.3L186.0 61.9L186.2 62.5L186.4 63.0L186.5 63.5L186.6 64.2L186.6 65.0L186.5 65.5L186.3 66.2L186.2 66.8L186.1 67.5L185.9 68.0L185.6 68.5L185.3 69.0L185.0 69.5L184.8 69.8L184.4 70.2L184.2 70.8L184.0 71.2L183.7 71.8L183.3 72.2L183.0 72.5L182.5 73.0L182.2 73.4L182.1 74.0L182.0 74.8L182.0 75.2L181.9 76.0L181.9 76.8L181.8 77.5L181.6 78.0L181.2 78.4L180.8 78.7L180.2 79.0L179.8 79.1L179.2 79.2L178.6 79.5L178.2 79.8L177.8 80.2L177.5 80.6L177.2 81.0L176.9 81.5L176.5 81.9L176.2 82.2L175.8 82.8L175.5 83.0L175.0 83.4L174.5 83.7L174.0 83.8L173.2 83.9L172.8 84.0L172.2 84.2L171.8 84.7L171.5 85.1L171.2 85.5L170.9 86.0L170.5 86.5L170.1 86.8L169.7 87.0L169.2 87.3L168.8 87.6L168.2 88.0L167.9 88.2L167.5 88.6L167.0 88.9L166.5 89.2L166.2 89.5L165.8 89.8L165.2 90.2L164.8 90.5L164.2 90.7L163.8 91.0L163.4 91.2L163.0 91.5L162.5 91.8L162.0 92.1L161.5 92.4L161.1 92.8L160.8 93.2L160.4 93.5L160.0 93.8L159.4 94.0L158.8 94.2L158.2 94.3L157.8 94.6L157.2 94.9L156.8 95.2L156.4 95.5L155.9 95.8L155.5 96.0L155.0 96.3L154.5 96.6L154.1 97.0L153.7 97.2L153.2 97.6L152.8 97.8L152.2 98.0L151.5 98.2L151.0 98.4L150.5 98.6L150.0 98.8L149.5 99.1L149.0 99.4L148.5 99.6L148.0 99.9L147.5 100.0L146.8 100.1L146.0 100.1L145.5 100.3L145.0 100.5L144.3 100.8L143.8 100.8L143.0 100.9L142.2 100.9L141.5 101.0L141.0 101.1L140.2 101.2L139.8 101.3L139.2 101.5L138.5 101.8L138.0 101.9L137.5 102.1L136.8 102.2L136.0 102.1L135.5 101.9L135.0 101.7L134.5 101.4L134.0 101.1L133.5 100.8L133.0 100.5L132.6 100.2L132.2 100.0L131.7 99.8L131.2 99.5L130.8 99.2L130.2 99.0L129.8 98.7L129.2 98.4L128.8 98.0L128.5 97.8L128.0 97.4L127.6 97.0L127.2 96.6L127.0 96.2L126.8 95.7L126.6 95.0L126.7 94.2L126.9 93.8L127.2 93.2L127.4 92.8L127.6 92.2L127.7 91.5L127.8 91.0L128.0 90.3L128.2 89.8L128.5 89.4L128.8 89.0L129.0 88.5L129.2 88.0L129.5 87.5L129.8 87.0L130.2 86.5L130.5 86.1L130.8 85.8L131.2 85.3L131.6 85.0L132.0 84.7L132.5 84.4L132.9 84.0L133.2 83.6L133.5 83.2L133.8 82.8L134.2 82.2L134.5 81.8L134.8 81.4L135.0 81.0L135.4 80.5L135.7 80.0L136.0 79.7L136.3 79.2L136.6 78.8L136.9 78.2L137.2 77.8L137.5 77.5L138.0 77.0L138.5 76.8L139.0 76.5L139.4 76.2L139.9 76.0L140.2 75.7L140.8 75.4L141.2 75.0L141.5 74.7L142.0 74.3L142.5 74.0L143.0 73.8L143.5 73.7L144.1 73.5L144.8 73.3L145.2 73.0L145.7 72.8L146.0 72.5L146.5 72.0L146.8 71.8L147.2 71.4L147.8 71.1L148.2 70.9L148.8 70.6L149.2 70.3L149.5 70.0L150.0 69.6L150.5 69.3L151.0 69.1L151.5 68.8L152.0 68.6L152.5 68.4L153.0 68.2L153.8 68.0L154.5 68.1L155.0 68.3L155.5 68.5L156.2 68.7L156.8 68.5L157.2 68.2L157.8 67.8L158.2 67.5L158.6 67.2L159.2 67.0L159.8 66.9L160.5 66.8L161.0 66.7L161.8 66.6L162.2 66.5L162.8 66.2L163.2 65.8L163.8 65.5L164.2 65.3L164.8 65.2L165.5 65.0L166.0 64.9L166.5 64.7L167.0 64.5L167.6 64.2L168.1 64.0L168.6 63.8L169.2 63.5L169.7 63.2L170.1 63.0L170.5 62.8L171.0 62.4L171.5 62.1L172.0 61.8L172.5 61.6L173.0 61.3L173.5 61.1L174.0 60.9L174.8 60.8L175.2 60.7L176.0 60.6L176.8 60.5L177.2 60.4L177.8 60.2L178.4 60.0L179.0 59.8L179.5 59.6L180.0 59.4L180.5 59.2L181.2 59.0L181.8 58.8Z" stroke-width="1.1"/>
<path d="M179.7 61.5L180.2 61.3L181.0 61.3L181.8 61.5L182.2 61.7L182.8 62.0L183.2 62.2L183.8 62.4L184.2 62.7L184.6 63.0L184.9 63.5L185.1 64.0L185.2 64.8L185.1 65.5L185.0 66.0L184.8 66.7L184.5 67.2L184.3 67.8L184.0 68.2L183.7 68.5L183.3 69.0L183.0 69.3L182.6 69.8L182.3 70.2L182.0 70.7L181.8 71.1L181.5 71.6L181.2 72.0L181.0 72.6L180.8 73.2L180.7 73.8L180.6 74.5L180.4 75.0L180.2 75.6L180.0 76.2L179.9 76.8L179.5 77.2L179.0 77.3L178.5 77.5L178.0 77.8L177.5 78.1L177.1 78.5L176.8 78.8L176.3 79.2L176.0 79.7L175.7 80.0L175.2 80.5L174.9 80.8L174.5 81.1L174.0 81.5L173.5 81.8L173.0 81.9L172.5 82.0L171.8 82.2L171.2 82.4L170.8 82.8L170.5 83.0L170.1 83.5L169.8 84.0L169.5 84.5L169.2 84.9L168.9 85.2L168.4 85.5L167.9 85.8L167.5 86.0L167.0 86.5L166.8 86.9L166.5 87.2L166.0 87.7L165.6 88.0L165.2 88.2L164.8 88.5L164.2 88.9L163.8 89.2L163.2 89.4L162.8 89.6L162.2 89.8L161.5 89.9L161.0 90.1L160.5 90.3L160.0 90.6L159.5 91.0L159.2 91.2L158.8 91.6L158.2 91.9L157.8 92.1L157.2 92.5L156.8 92.8L156.4 93.0L156.0 93.3L155.5 93.5L155.0 93.8L154.5 94.2L154.2 94.5L153.8 95.0L153.5 95.3L153.1 95.8L152.8 96.1L152.2 96.4L151.8 96.5L151.0 96.7L150.5 96.8L149.8 97.0L149.2 97.2L148.8 97.4L148.2 97.6L147.8 97.8L147.0 97.9L146.4 98.0L145.8 98.2L145.3 98.5L144.8 98.8L144.2 99.0L143.8 99.1L143.2 99.2L142.5 99.3L141.8 99.4L141.0 99.5L140.5 99.6L139.8 99.8L139.2 99.9L138.8 100.1L138.1 100.2L137.5 100.4L136.8 100.3L136.2 100.1L135.8 99.9L135.2 99.7L134.7 99.5L134.1 99.2L133.7 99.0L133.2 98.7L132.8 98.4L132.2 98.0L131.9 97.8L131.5 97.5L131.0 97.1L130.6 96.8L130.2 96.4L130.0 96.0L129.8 95.3L129.6 94.8L129.5 94.0L129.5 93.5L129.4 92.8L129.4 92.0L129.5 91.5L129.8 90.9L130.0 90.3L130.2 89.8L130.4 89.2L130.6 88.8L130.9 88.2L131.2 87.8L131.7 87.5L132.1 87.2L132.5 87.0L133.0 86.6L133.2 86.2L133.5 85.6L133.8 85.0L134.0 84.5L134.2 84.0L134.5 83.5L134.8 83.1L135.0 82.7L135.3 82.2L135.6 81.8L135.9 81.2L136.2 80.8L136.5 80.2L136.8 79.9L137.0 79.5L137.3 79.0L137.6 78.5L138.0 78.1L138.5 77.8L139.0 77.6L139.5 77.4L140.0 77.0L140.3 76.8L140.8 76.3L141.1 76.0L141.5 75.6L141.9 75.2L142.2 74.9L142.8 74.6L143.2 74.3L143.8 74.1L144.2 74.0L144.9 73.8L145.5 73.5L145.9 73.2L146.2 73.0L146.7 72.5L147.0 72.2L147.5 71.9L148.0 71.7L148.7 71.5L149.2 71.2L149.5 71.0L149.9 70.5L150.2 70.0L150.6 69.8L151.0 69.5L151.5 69.2L152.0 69.0L152.7 68.8L153.2 68.6L153.8 68.5L154.2 68.6L154.8 68.8L155.2 69.1L155.8 69.3L156.5 69.3L157.0 69.1L157.5 68.8L158.0 68.5L158.5 68.3L159.0 68.1L159.5 68.0L160.2 67.8L160.8 67.7L161.5 67.6L162.0 67.4L162.7 67.2L163.2 67.0L163.7 66.8L164.2 66.5L164.7 66.3L165.2 66.1L165.8 66.0L166.3 65.8L166.9 65.5L167.5 65.3L168.0 65.0L168.4 64.8L168.8 64.5L169.2 64.2L169.8 63.9L170.2 63.6L170.8 63.3L171.2 63.1L171.8 62.8L172.2 62.6L172.8 62.4L173.2 62.1L173.8 61.9L174.2 61.7L175.0 61.6L175.8 61.6L176.5 61.6L177.2 61.7L178.0 61.7L178.8 61.7L179.5 61.6Z" stroke-width="1.1"/>
<path d="M174.4 62.5L175.0 62.4L175.8 62.3L176.5 62.5L177.0 62.6L177.5 62.8L178.2 62.9L178.8 63.1L179.4 63.2L180.0 63.4L180.8 63.5L181.2 63.6L181.8 63.8L182.2 64.2L182.5 64.8L182.7 65.2L182.8 65.8L182.7 66.2L182.5 66.8L182.0 67.2L181.8 67.6L181.5 68.0L181.2 68.5L181.0 69.0L180.6 69.5L180.3 70.0L180.0 70.4L179.8 71.0L179.7 71.5L179.6 72.2L179.5 72.8L179.3 73.5L179.0 73.9L178.5 74.2L178.0 74.3L177.4 74.5L177.0 74.8L176.6 75.2L176.3 75.8L176.1 76.2L175.9 76.8L175.7 77.2L175.4 77.8L175.0 78.2L174.8 78.5L174.2 78.8L173.7 79.0L173.1 79.2L172.6 79.5L172.2 79.8L171.8 80.0L171.2 80.4L170.8 80.8L170.5 81.1L170.1 81.5L169.8 81.8L169.2 82.2L168.8 82.5L168.4 82.8L168.0 83.0L167.5 83.4L167.0 83.8L166.7 84.0L166.2 84.3L165.8 84.8L165.5 85.0L165.0 85.5L164.8 85.8L164.4 86.2L164.1 86.8L163.8 87.1L163.4 87.5L163.0 87.8L162.5 88.1L162.0 88.3L161.2 88.5L160.8 88.5L160.0 88.6L159.5 88.8L159.0 89.0L158.5 89.4L158.2 89.8L157.8 90.1L157.3 90.5L156.9 90.8L156.5 91.0L156.0 91.4L155.5 91.7L155.0 92.0L154.5 92.2L154.0 92.5L153.6 92.8L153.2 93.0L152.8 93.4L152.3 93.8L152.0 94.0L151.5 94.3L150.8 94.5L150.2 94.6L149.6 94.8L149.0 94.9L148.5 95.0L147.9 95.2L147.3 95.5L146.8 95.8L146.4 96.0L146.0 96.3L145.5 96.6L145.0 96.9L144.5 97.2L144.0 97.5L143.5 97.6L142.8 97.8L142.2 97.8L141.5 97.8L140.8 97.8L140.0 97.9L139.5 98.0L139.0 98.0L138.2 97.8L137.8 97.6L137.2 97.4L136.5 97.3L135.8 97.3L135.2 97.2L134.7 97.0L134.2 96.7L133.8 96.3L133.3 96.0L132.8 95.8L132.3 95.5L132.0 95.2L131.6 94.7L131.4 94.2L131.3 93.5L131.4 92.8L131.5 92.0L131.5 91.5L131.6 90.8L131.8 90.2L132.0 89.7L132.3 89.2L132.7 88.8L133.0 88.5L133.5 88.0L133.8 87.7L134.0 87.2L134.2 86.7L134.4 86.0L134.5 85.5L134.8 84.8L135.0 84.3L135.2 83.9L135.6 83.5L136.0 83.0L136.2 82.7L136.5 82.2L136.7 81.5L137.0 81.0L137.2 80.5L137.5 80.1L137.8 79.8L138.2 79.2L138.5 79.0L139.0 78.7L139.5 78.5L140.0 78.2L140.5 77.8L140.8 77.5L141.1 77.0L141.5 76.6L141.9 76.2L142.2 75.9L142.8 75.5L143.1 75.2L143.5 75.0L144.0 74.7L144.6 74.5L145.2 74.2L145.8 74.0L146.2 73.8L146.7 73.5L147.1 73.2L147.6 73.0L148.2 72.9L149.0 72.8L149.4 72.5L149.8 72.1L150.0 71.6L150.2 71.1L150.5 70.7L150.8 70.2L151.2 69.9L151.8 69.6L152.2 69.4L152.8 69.2L153.5 69.0L154.2 69.2L154.8 69.5L155.2 69.7L155.8 69.9L156.5 69.9L157.0 69.7L157.5 69.5L158.0 69.2L158.5 69.0L159.2 68.8L159.8 68.7L160.5 68.6L161.0 68.4L161.6 68.2L162.2 68.1L162.8 68.0L163.5 67.8L164.0 67.6L164.5 67.4L165.0 67.2L165.7 67.0L166.2 66.8L166.8 66.5L167.2 66.3L167.8 66.0L168.2 65.8L168.6 65.5L169.0 65.2L169.5 64.9L170.0 64.5L170.4 64.2L170.9 64.0L171.4 63.8L172.0 63.5L172.5 63.3L173.0 63.1L173.5 62.9L174.0 62.6Z" stroke-width="1.1"/>
<path d="M174.5 63.2L175.2 63.1L176.0 63.2L176.5 63.3L177.0 63.5L177.5 63.8L178.0 64.0L178.5 64.4L178.8 64.8L179.1 65.2L179.4 65.8L179.5 66.5L179.3 67.2L179.1 67.8L179.0 68.2L178.8 69.0L178.6 69.5L178.4 70.0L178.1 70.5L177.8 71.0L177.5 71.5L177.3 72.0L177.0 72.4L176.8 72.8L176.5 73.2L176.1 73.8L175.8 74.2L175.5 74.6L175.2 75.0L174.9 75.5L174.5 76.0L174.2 76.3L173.8 76.8L173.5 77.0L172.9 77.2L172.2 77.4L171.8 77.5L171.2 77.8L170.7 78.0L170.2 78.4L169.9 78.8L169.6 79.2L169.3 79.8L169.0 80.2L168.8 80.7L168.4 81.0L168.0 81.3L167.5 81.6L167.0 81.8L166.5 82.1L166.1 82.5L165.8 82.8L165.3 83.2L164.9 83.5L164.5 83.8L164.0 84.1L163.5 84.4L163.0 84.8L162.7 85.0L162.2 85.4L162.0 85.8L161.5 86.2L161.1 86.5L160.5 86.7L160.0 86.8L159.4 87.0L158.8 87.2L158.2 87.5L157.8 87.8L157.3 88.0L156.9 88.2L156.5 88.5L156.0 88.9L155.6 89.2L155.2 89.6L154.8 90.0L154.3 90.2L153.8 90.4L153.2 90.5L152.5 90.6L152.0 90.8L151.5 91.1L151.2 91.5L150.9 92.0L150.5 92.4L150.0 92.7L149.5 92.8L148.8 92.9L148.0 93.0L147.5 93.1L146.9 93.2L146.2 93.5L145.8 93.7L145.4 94.0L145.0 94.4L144.8 94.8L144.3 95.2L143.8 95.5L143.2 95.6L142.7 95.5L142.2 95.2L141.8 95.0L141.2 94.7L140.5 94.6L139.8 94.7L139.2 94.8L138.7 95.0L138.0 95.1L137.5 95.0L136.8 94.8L136.3 94.5L136.0 94.2L135.6 93.8L135.2 93.3L135.0 92.9L134.7 92.5L134.4 92.0L134.1 91.5L133.8 91.0L133.6 90.5L133.7 89.8L133.9 89.2L134.2 88.8L134.5 88.3L134.8 87.8L134.9 87.2L135.0 86.8L135.1 86.0L135.3 85.5L135.5 84.9L135.8 84.5L136.2 84.0L136.5 83.8L136.9 83.2L137.2 82.8L137.3 82.2L137.5 81.7L137.8 81.1L138.0 80.7L138.4 80.2L138.8 79.9L139.2 79.5L139.6 79.2L140.0 79.0L140.5 78.7L141.0 78.3L141.2 78.0L141.6 77.5L142.0 77.1L142.4 76.8L142.8 76.5L143.2 76.1L143.8 75.8L144.2 75.5L144.8 75.3L145.2 75.1L145.8 74.9L146.2 74.7L146.8 74.4L147.2 74.2L148.0 74.1L148.5 74.0L149.2 73.8L149.6 73.5L150.0 73.1L150.2 72.7L150.5 72.2L150.8 71.7L151.0 71.2L151.3 70.8L151.8 70.3L152.2 70.0L152.8 69.8L153.5 69.8L154.2 70.0L154.8 70.2L155.2 70.4L156.0 70.5L156.8 70.3L157.2 70.1L157.8 69.9L158.2 69.7L159.0 69.5L159.5 69.4L160.2 69.4L160.8 69.2L161.5 69.0L162.0 68.8L162.5 68.7L163.2 68.5L163.8 68.4L164.3 68.2L165.0 68.0L165.5 67.9L166.0 67.7L166.5 67.5L167.0 67.2L167.5 67.0L168.0 66.7L168.5 66.4L169.0 66.1L169.5 65.8L169.9 65.5L170.3 65.2L170.8 65.0L171.3 64.8L171.9 64.5L172.5 64.3L173.0 64.0L173.5 63.8L173.9 63.5L174.5 63.3Z" stroke-width="1.1"/>
<path d="M174.7 64.2L175.2 64.1L176.0 64.1L176.5 64.3L177.0 64.7L177.3 65.0L177.6 65.5L177.7 66.2L177.6 67.0L177.4 67.5L177.2 68.0L177.0 68.6L176.8 69.2L176.5 69.6L176.2 70.0L175.8 70.5L175.5 70.8L175.0 71.2L174.8 71.6L174.4 72.0L174.0 72.5L173.7 72.8L173.2 73.1L172.8 73.5L172.6 74.0L172.5 74.5L172.2 75.1L171.9 75.5L171.5 75.8L171.0 76.1L170.5 76.3L170.0 76.6L169.5 76.9L169.1 77.2L168.8 77.6L168.4 78.0L168.1 78.5L167.8 79.0L167.5 79.5L167.2 79.8L166.8 80.1L166.2 80.3L165.6 80.5L165.1 80.8L164.6 81.0L164.2 81.2L163.6 81.5L163.0 81.8L162.5 82.0L162.1 82.2L161.8 82.5L161.2 83.0L160.9 83.2L160.5 83.7L160.2 84.0L159.8 84.5L159.4 84.8L159.0 85.1L158.5 85.4L158.0 85.7L157.5 85.9L157.0 86.1L156.4 86.2L155.8 86.5L155.3 86.8L155.0 87.0L154.5 87.5L154.2 87.8L153.8 88.1L153.2 88.4L152.8 88.6L152.0 88.7L151.4 88.8L150.8 88.9L150.2 89.2L149.9 89.5L149.5 89.9L149.2 90.2L148.8 90.6L148.2 90.9L147.8 91.1L147.2 91.4L146.8 91.7L146.2 91.9L145.8 92.1L145.2 92.3L144.6 92.5L144.2 92.8L143.8 93.2L143.2 93.5L142.5 93.4L142.0 93.2L141.4 93.0L140.8 92.8L140.2 92.7L139.5 92.7L138.8 92.7L138.2 92.8L137.6 92.8L137.0 92.6L136.5 92.3L136.2 92.0L135.8 91.5L135.5 91.1L135.2 90.5L135.2 90.0L135.2 89.4L135.4 88.8L135.6 88.2L135.7 87.5L135.8 87.0L135.8 86.2L136.0 85.6L136.2 85.2L136.7 84.8L137.0 84.5L137.5 84.0L137.8 83.5L137.9 83.0L138.1 82.5L138.2 81.8L138.5 81.3L138.8 80.9L139.1 80.5L139.5 80.2L140.0 79.8L140.4 79.5L140.8 79.2L141.2 78.9L141.7 78.5L142.0 78.1L142.3 77.8L142.8 77.3L143.2 77.0L143.8 76.8L144.2 76.7L145.0 76.6L145.5 76.4L146.0 76.2L146.5 75.9L147.0 75.5L147.5 75.2L148.0 75.1L148.5 74.9L149.1 74.8L149.6 74.5L150.0 74.2L150.4 73.8L150.7 73.2L150.9 72.8L151.2 72.2L151.5 71.8L151.8 71.4L152.2 71.0L152.8 70.8L153.2 70.7L153.8 70.8L154.5 70.9L155.0 71.0L155.8 71.1L156.3 71.0L157.0 70.9L157.5 70.7L158.0 70.5L158.8 70.3L159.5 70.3L160.2 70.3L160.8 70.1L161.2 70.0L161.8 69.8L162.5 69.5L163.0 69.4L163.8 69.3L164.2 69.2L165.0 69.1L165.5 68.9L166.0 68.8L166.7 68.5L167.2 68.2L167.6 68.0L168.0 67.7L168.5 67.4L169.0 67.2L169.5 66.9L170.0 66.7L170.5 66.5L171.2 66.3L171.8 66.2L172.5 66.1L173.0 65.9L173.5 65.5L173.8 65.2L174.1 64.8L174.5 64.4Z" stroke-width="1.1"/>
<path d="M152.6 72.0L153.2 71.9L153.8 72.0L154.5 72.2L155.0 72.4L155.8 72.4L156.4 72.2L157.0 72.2L157.5 72.3L158.2 72.4L158.8 72.5L159.5 72.6L160.0 72.8L160.8 72.9L161.5 72.8L162.0 72.5L162.4 72.2L163.0 72.1L163.8 72.1L164.2 72.3L164.8 72.6L165.2 72.9L165.8 73.2L166.1 73.5L166.3 74.0L166.2 74.5L165.9 75.0L165.6 75.5L165.3 76.0L165.1 76.5L165.0 77.0L164.9 77.8L164.5 78.2L164.2 78.5L163.6 78.8L163.0 79.0L162.5 79.1L162.0 79.4L161.5 79.8L161.2 80.0L160.9 80.5L160.6 81.0L160.2 81.4L159.9 81.8L159.5 82.2L159.2 82.5L158.8 83.0L158.5 83.3L158.0 83.7L157.5 84.0L157.0 84.2L156.5 84.4L156.0 84.5L155.4 84.8L154.8 85.0L154.4 85.2L154.0 85.6L153.6 86.0L153.2 86.4L152.9 86.8L152.5 87.0L152.0 87.3L151.2 87.5L150.8 87.6L150.2 87.8L149.8 88.0L149.2 88.4L148.8 88.8L148.5 89.0L148.0 89.4L147.5 89.6L147.0 89.8L146.4 90.0L145.8 90.1L145.0 90.2L144.2 90.2L143.8 90.3L143.1 90.5L142.5 90.6L141.9 90.5L141.4 90.2L140.9 90.0L140.2 89.8L139.8 89.7L139.1 89.8L138.5 89.9L138.0 90.0L137.5 89.8L137.2 89.5L137.2 88.8L137.2 88.0L137.2 87.2L137.2 86.5L137.3 86.0L137.8 85.6L138.2 85.2L138.5 84.9L138.7 84.2L138.8 83.8L138.9 83.0L139.0 82.4L139.2 81.8L139.5 81.4L139.8 81.0L140.2 80.6L140.7 80.2L141.1 80.0L141.5 79.8L142.0 79.3L142.2 79.0L142.6 78.5L143.0 78.0L143.4 77.8L144.0 77.6L144.8 77.5L145.5 77.5L146.0 77.4L146.5 77.2L147.0 76.9L147.5 76.6L148.0 76.4L148.5 76.1L149.0 75.9L149.5 75.7L150.0 75.5L150.5 75.0L150.8 74.7L151.1 74.2L151.4 73.8L151.6 73.2L151.9 72.8L152.2 72.2L152.6 72.0Z" stroke-width="1.1"/>
<path d="M153.5 76.2L154.0 76.1L154.8 76.1L155.5 76.1L156.2 76.2L156.8 76.4L157.2 76.5L157.8 76.8L158.2 77.1L158.6 77.5L158.9 78.0L159.0 78.7L159.1 79.2L159.0 80.0L158.9 80.5L158.7 81.0L158.3 81.5L158.0 81.8L157.5 82.1L157.0 82.4L156.5 82.6L156.0 82.9L155.5 83.1L155.0 83.4L154.5 83.6L154.0 83.9L153.6 84.2L153.2 84.7L153.0 85.0L152.6 85.5L152.2 85.8L151.8 86.1L151.2 86.4L150.8 86.5L150.2 86.8L149.6 87.0L149.2 87.2L148.8 87.5L148.2 87.9L147.8 88.2L147.2 88.4L146.5 88.5L145.8 88.4L145.0 88.4L144.2 88.3L143.7 88.2L143.0 88.2L142.3 88.0L141.8 87.8L141.4 87.5L141.1 87.0L141.0 86.5L140.9 85.8L140.9 85.0L140.9 84.2L140.9 83.5L141.0 82.8L141.2 82.2L141.5 81.9L141.9 81.5L142.2 81.2L142.7 80.8L143.0 80.3L143.2 79.9L143.5 79.3L143.8 79.0L144.2 78.7L145.0 78.6L145.5 78.5L146.2 78.2L146.7 78.0L147.2 77.8L147.8 77.6L148.2 77.5L148.9 77.2L149.5 77.1L150.0 76.9L150.6 76.8L151.2 76.6L151.8 76.5L152.5 76.4L153.2 76.3Z" stroke-width="1.1"/>
<path d="M153.7 77.8L154.2 77.6L155.0 77.6L155.7 77.8L156.2 78.0L156.6 78.2L157.0 78.8L157.2 79.2L157.3 79.8L157.1 80.2L156.8 80.6L156.2 80.8L155.8 81.0L155.2 81.3L154.8 81.6L154.2 81.9L153.8 82.2L153.3 82.5L152.9 82.8L152.5 83.0L152.0 83.4L151.7 83.8L151.4 84.2L151.1 84.8L150.8 85.1L150.2 85.4L149.8 85.7L149.2 85.9L148.8 86.1L148.2 86.4L147.8 86.6L147.2 86.8L146.5 86.8L146.0 86.7L145.2 86.6L144.5 86.5L144.0 86.5L143.3 86.2L143.0 86.0L142.7 85.5L142.7 84.8L142.8 84.2L143.0 83.6L143.2 83.2L143.7 82.8L144.0 82.3L144.2 81.9L144.5 81.4L144.8 80.9L145.0 80.5L145.5 80.0L145.8 79.8L146.2 79.4L146.8 79.1L147.2 78.8L147.8 78.7L148.4 78.5L149.0 78.4L149.8 78.3L150.2 78.2L151.0 78.2L151.8 78.2L152.5 78.1L153.0 78.0L153.7 77.8Z" stroke-width="1.1"/>
</g>
<g clip-path="url(#cl)" fill="none" stroke="#111" stroke-width="0.85" stroke-linejoin="round"><path d="M40.5 220.4L46 222.5L53 225L62 226.8L70 228.5L76 231.5L80.8 235L84.5 238L86.6 241L84.5 245L80.8 248.8L77 252L73 255L70.8 256.8L55 256.8L40.5 256.8Z"/><path d="M40.5 232.4L46 233.5L53 234.2L58 234L63 234.2L66 236L67 238.5L66.3 241L64.6 242.7L61 243.3L57.7 243.5L54 246L50 249.6L47.5 252L45.4 254.2L43.5 255.8L41.8 256.8"/><path d="M40.5 239L41.6 240.5L42 242.7L41.6 245L40.5 246.5"/></g>
<g clip-path="url(#crb)" fill="none" stroke="#050505" stroke-width="1.15" stroke-linejoin="round">
<path d="M480.1 72.2L480.8 72.2L481.5 72.1L482.2 72.1L483.0 72.2L483.5 72.3L484.0 72.6L484.4 73.0L484.8 73.4L485.0 73.9L485.2 74.3L485.5 74.8L486.0 75.2L486.2 75.5L486.7 76.0L487.0 76.4L487.2 76.9L487.5 77.5L487.6 78.0L487.6 78.8L487.5 79.3L487.4 80.0L487.4 80.8L487.4 81.5L487.5 82.2L487.5 82.8L487.6 83.5L487.7 84.2L487.8 84.8L487.9 85.5L487.8 86.2L487.8 86.9L487.7 87.5L487.5 88.2L487.3 88.8L487.1 89.2L486.9 89.8L486.6 90.2L486.5 90.8L486.2 91.3L486.0 92.0L485.9 92.5L485.8 93.2L485.6 93.8L485.2 94.2L484.9 94.5L484.5 94.9L484.2 95.2L484.0 95.8L484.0 96.5L483.9 97.2L483.7 97.8L483.3 98.2L483.0 98.5L482.6 99.0L482.3 99.5L482.2 100.0L482.3 100.5L482.3 101.2L482.3 102.0L482.2 102.5L482.1 103.2L482.0 104.0L481.8 104.5L481.6 105.0L481.4 105.5L481.2 106.0L481.1 106.8L481.0 107.5L480.9 108.0L480.8 108.7L480.5 109.1L480.2 109.5L479.8 110.0L479.5 110.3L479.2 110.8L479.0 111.5L479.0 111.8L479.0 112.5L479.0 113.2L478.9 113.8L478.8 114.3L478.5 114.9L478.2 115.3L478.0 115.8L477.6 116.2L477.3 116.8L477.1 117.2L476.9 117.8L476.6 118.2L476.3 118.8L476.0 119.2L475.8 119.7L475.6 120.2L475.7 121.0L475.8 121.5L475.9 122.2L475.9 123.0L475.8 123.8L475.7 124.2L475.6 125.0L475.5 125.7L475.3 126.2L475.1 126.8L474.8 127.2L474.5 127.7L474.2 128.0L473.9 128.5L473.7 129.0L473.4 129.5L473.1 130.0L472.8 130.5L472.5 130.9L472.2 131.4L472.0 131.8L471.6 132.2L471.2 132.7L471.0 133.0L470.6 133.5L470.3 134.0L470.1 134.5L469.9 135.0L469.6 135.5L469.3 136.0L469.0 136.4L468.6 136.8L468.2 137.2L468.0 137.5L467.8 138.2L467.6 138.8L467.5 139.2L467.2 139.8L466.9 140.2L466.5 140.6L466.0 140.9L465.5 141.2L465.0 141.5L464.7 141.8L464.3 142.2L464.0 142.8L463.8 143.2L463.6 143.8L463.4 144.2L463.2 144.8L462.8 145.2L462.5 145.7L462.2 146.1L462.0 146.5L461.7 147.0L461.3 147.5L461.0 147.9L460.7 148.2L460.3 148.8L460.0 149.1L459.7 149.5L459.2 149.9L459.0 150.2L458.7 150.8L458.4 151.2L458.0 151.7L457.8 152.1L457.5 152.6L457.4 153.2L457.3 154.0L457.3 154.8L457.2 155.2L457.1 156.0L457.1 156.8L457.2 157.5L457.2 158.2L457.1 159.0L457.2 159.8L457.3 160.2L457.5 160.8L457.8 161.2L458.1 161.8L458.3 162.2L458.5 162.8L458.8 163.4L458.8 164.0L459.0 164.8L459.1 165.2L459.2 166.0L459.2 166.8L459.1 167.5L459.0 168.2L459.1 169.0L459.2 169.8L459.1 170.5L459.0 171.2L459.0 171.8L459.0 172.2L459.2 173.0L459.4 173.5L459.6 174.0L459.8 174.7L459.8 175.2L460.0 176.0L460.1 176.5L460.1 177.2L460.1 178.0L460.1 178.8L460.1 179.5L460.2 180.2L460.1 181.0L460.0 181.5L459.7 182.0L459.3 182.5L459.1 183.0L459.0 183.5L458.9 184.2L458.9 185.0L458.9 185.8L458.9 186.5L458.7 187.0L458.4 187.5L458.2 188.0L457.9 188.5L457.8 189.2L457.7 189.8L457.8 190.3L457.8 191.0L457.7 191.5L457.5 192.2L457.3 192.8L457.0 193.2L456.8 193.5L456.4 194.0L456.1 194.5L455.8 195.0L455.5 195.3L455.0 195.5L454.5 195.5L454.0 195.1L453.8 194.6L453.5 194.0L453.4 193.5L453.5 192.9L453.5 192.3L453.3 191.8L452.9 191.8L452.6 192.2L452.6 193.0L452.6 193.8L452.3 194.2L452.0 194.8L451.8 195.2L451.5 195.6L451.2 196.1L451.0 196.7L450.8 197.2L450.5 197.8L450.3 198.2L450.1 198.8L449.9 199.2L449.8 199.8L449.7 200.5L449.6 201.2L449.5 202.0L449.4 202.5L449.2 203.0L449.0 203.5L448.8 204.1L448.5 204.7L448.2 205.2L447.9 205.5L447.4 205.8L446.8 205.8L446.2 206.0L445.8 206.3L445.3 206.8L445.0 207.1L444.7 207.5L444.3 208.0L444.0 208.5L443.8 208.8L443.4 209.2L443.0 209.7L442.5 209.9L441.8 209.9L441.1 210.0L440.5 210.2L440.2 210.5L439.8 210.9L439.4 211.2L439.0 211.5L438.5 211.9L438.2 212.2L437.9 212.8L437.7 213.2L437.4 213.8L437.0 214.1L436.5 214.4L436.0 214.6L435.5 214.8L435.0 215.1L434.6 215.5L434.2 215.8L433.9 216.2L433.5 216.7L433.2 217.1L432.9 217.5L432.5 218.0L432.2 218.2L431.8 218.6L431.2 218.9L430.8 219.2L430.2 219.4L429.8 219.6L429.2 219.8L428.7 220.0L428.2 220.3L427.8 220.7L427.5 221.0L427.0 221.4L426.5 221.7L426.0 222.0L425.6 222.2L425.2 222.5L424.8 222.8L424.2 223.2L423.8 223.5L423.4 223.8L423.0 224.0L422.5 224.2L421.8 224.3L421.0 224.3L420.2 224.3L419.7 224.5L419.2 224.8L418.8 225.2L418.5 225.6L418.2 226.0L417.8 226.5L417.5 226.9L417.2 227.3L416.8 227.8L416.5 228.1L416.0 228.5L415.5 228.8L415.0 228.9L414.5 229.0L413.8 229.0L413.0 229.0L412.2 229.1L411.5 229.2L410.8 229.2L410.0 229.1L409.4 229.2L408.9 229.5L408.5 229.8L408.0 230.0L407.2 230.2L406.8 230.3L406.3 230.2L405.5 230.1L404.8 230.2L404.2 230.3L403.7 230.5L403.2 230.7L402.8 231.0L402.2 231.4L401.8 231.6L401.2 231.8L400.5 231.9L399.8 231.9L399.0 231.8L398.5 231.7L397.8 231.7L397.0 231.6L396.2 231.7L395.6 231.8L395.0 231.9L394.2 232.0L393.5 232.0L392.8 232.0L392.2 232.1L391.8 232.3L391.2 232.5L390.5 232.7L390.0 232.9L389.5 233.0L388.8 233.2L388.2 233.3L387.5 233.3L386.8 233.3L386.0 233.3L385.2 233.3L384.5 233.3L383.8 233.3L383.1 233.2L382.5 233.2L382.0 233.3L381.2 233.4L380.5 233.5L379.8 233.3L379.4 233.0L379.0 232.7L378.5 232.3L378.0 232.1L377.5 231.9L377.0 231.7L376.2 231.6L375.8 231.5L375.0 231.4L374.2 231.4L373.5 231.4L372.8 231.5L372.0 231.5L371.2 231.3L370.8 231.2L370.1 231.0L369.5 230.9L368.8 231.0L368.2 231.1L367.5 231.2L366.8 231.2L366.0 231.0L365.5 230.9L365.0 230.7L364.4 230.5L363.8 230.2L363.3 230.0L362.9 229.8L362.3 229.5L361.8 229.3L361.2 229.1L360.8 228.9L360.1 228.8L359.5 228.6L358.8 228.5L358.2 228.3L357.8 228.0L357.2 227.8L356.8 227.5L356.4 227.2L356.0 226.9L355.5 226.5L355.2 226.2L354.8 225.8L354.3 225.5L353.8 225.3L353.2 225.2L352.5 225.1L352.0 224.9L351.5 224.6L351.0 224.4L350.4 224.2L349.8 224.0L349.2 223.8L348.9 223.5L348.5 223.2L348.0 223.0L347.5 222.8L346.9 222.5L346.4 222.2L346.0 222.0L345.5 221.6L345.0 221.2L344.6 221.0L344.0 220.8L343.5 220.7L343.0 220.5L342.4 220.2L342.0 220.0L341.5 219.6L341.0 219.3L340.5 219.0L340.0 218.8L339.7 218.5L339.2 218.0L339.0 217.7L338.6 217.2L338.2 216.9L337.8 216.5L337.3 216.2L336.8 216.0L336.2 215.8L335.8 215.6L335.2 215.4L334.8 215.2L334.2 215.0L333.7 214.8L333.2 214.5L332.8 214.1L332.3 213.8L331.9 213.5L331.5 213.1L331.2 212.8L330.8 212.2L330.5 211.8L330.2 211.3L330.0 210.8L329.8 210.4L329.4 210.0L329.0 209.7L328.5 209.4L328.0 209.0L327.8 208.7L327.5 208.2L327.2 207.8L327.0 207.2L326.7 206.8L326.5 206.0L326.4 205.5L326.4 204.8L326.5 204.0L326.6 203.5L326.8 203.0L327.0 202.4L327.2 201.9L327.5 201.4L327.8 201.0L328.1 200.5L328.5 200.0L328.8 199.7L329.2 199.2L329.5 199.0L329.8 198.5L330.2 198.0L330.5 197.5L330.7 197.0L331.0 196.6L331.3 196.2L331.8 195.8L332.2 195.6L332.8 195.4L333.2 195.2L333.8 195.0L334.2 194.7L334.8 194.3L335.0 194.0L335.4 193.5L335.8 193.1L336.0 192.7L336.4 192.2L336.8 191.8L337.0 191.5L337.5 191.2L338.0 191.0L338.8 190.8L339.2 190.7L339.9 190.5L340.4 190.2L340.8 190.0L341.2 189.5L341.5 189.1L341.8 188.7L342.2 188.2L342.6 188.0L343.2 187.8L343.8 187.7L344.2 187.5L344.8 187.2L345.2 186.9L345.8 186.6L346.2 186.2L346.7 186.0L347.2 185.8L347.8 185.5L348.2 185.4L348.8 185.2L349.4 185.0L349.8 184.7L350.1 184.2L350.4 183.8L350.8 183.3L351.1 183.0L351.5 182.7L352.0 182.5L352.5 182.2L353.0 182.0L353.5 181.6L353.8 181.2L354.2 180.8L354.5 180.4L354.9 180.0L355.2 179.6L355.7 179.2L356.1 179.0L356.5 178.7L357.0 178.4L357.5 178.2L358.0 177.9L358.5 177.7L359.0 177.5L359.5 177.1L360.0 176.8L360.4 176.5L361.0 176.3L361.5 176.2L362.2 176.0L362.7 175.8L363.1 175.5L363.5 175.1L363.8 174.8L364.2 174.4L364.7 174.0L365.1 173.8L365.6 173.5L366.1 173.2L366.5 172.9L367.0 172.5L367.2 172.2L367.8 171.9L368.2 171.7L369.0 171.6L369.8 171.7L370.5 171.5L371.0 171.3L371.5 171.1L372.0 170.8L372.5 170.6L373.0 170.3L373.5 170.1L374.0 170.0L374.8 169.9L375.5 169.8L376.0 169.7L376.6 169.5L377.2 169.3L377.8 169.1L378.2 168.9L378.8 168.7L379.2 168.4L379.8 168.0L380.2 167.8L380.8 167.6L381.5 167.6L382.2 167.7L383.0 167.5L383.5 167.3L384.0 167.0L384.4 166.8L384.8 166.5L385.3 166.3L386.0 166.1L386.8 166.0L387.5 166.0L388.0 166.0L388.8 165.8L389.3 165.8L390.0 165.6L390.5 165.4L391.0 165.2L391.5 164.9L392.0 164.7L392.6 164.5L393.2 164.4L393.8 164.2L394.5 164.1L395.0 164.0L395.8 163.9L396.2 163.7L397.0 163.5L397.5 163.3L398.0 163.0L398.5 162.9L399.2 162.9L400.0 163.0L400.5 163.1L401.2 163.1L401.8 163.0L402.5 162.8L403.0 162.7L403.8 162.6L404.2 162.4L404.8 162.1L405.2 162.0L405.8 162.2L406.2 162.5L406.8 162.6L407.3 162.5L407.8 162.1L408.2 161.8L408.6 161.5L409.2 161.3L410.0 161.3L410.8 161.5L411.2 161.7L411.8 161.8L412.5 161.9L413.2 161.8L413.8 161.7L414.5 161.7L415.1 161.8L415.8 161.9L416.2 162.0L417.0 162.2L417.5 162.3L418.2 162.4L419.0 162.4L419.8 162.3L420.5 162.3L421.1 162.5L421.6 162.8L422.0 163.0L422.5 163.3L423.0 163.6L423.6 163.8L424.2 163.9L425.0 163.9L425.8 163.8L426.2 163.7L426.8 163.8L427.4 164.0L427.8 164.2L428.2 164.5L428.8 164.8L429.2 165.0L430.0 165.2L430.5 165.3L431.2 165.5L431.8 165.7L432.2 166.0L432.8 166.1L433.5 166.2L434.2 166.2L435.0 166.2L435.5 166.3L436.0 166.5L436.6 166.8L437.2 167.0L437.8 167.2L438.2 167.5L438.7 167.8L439.0 168.0L439.5 168.5L439.8 168.8L440.2 169.2L440.6 169.5L441.0 169.9L441.3 170.2L441.8 170.7L442.0 171.0L442.5 171.4L443.0 171.7L443.5 172.0L443.8 172.2L444.2 172.6L444.6 173.0L445.0 173.5L445.2 173.9L445.5 174.5L445.7 175.0L446.0 175.5L446.2 176.0L446.5 176.3L446.8 176.8L447.2 177.2L447.5 177.5L448.0 178.0L448.3 178.2L448.8 178.7L449.2 179.0L449.5 179.2L450.0 179.6L450.4 180.0L450.7 180.5L450.9 181.0L451.2 181.5L451.5 181.5L451.5 180.8L451.5 180.2L451.4 179.5L451.4 178.8L451.4 178.0L451.5 177.2L451.6 176.8L451.5 176.0L451.3 175.5L451.0 175.0L450.8 174.6L450.6 174.0L450.5 173.5L450.5 172.8L450.6 172.2L450.7 171.5L450.6 170.8L450.3 170.2L450.0 169.9L449.6 169.5L449.2 169.2L448.9 168.8L448.8 168.2L448.7 167.5L448.6 166.8L448.6 166.0L448.5 165.4L448.3 164.8L448.1 164.2L447.8 163.8L447.5 163.4L447.1 163.0L446.8 162.7L446.2 162.3L445.8 162.0L445.2 161.8L444.8 161.7L444.0 161.7L443.2 161.6L442.8 161.4L442.2 161.2L441.8 160.9L441.2 160.6L440.8 160.4L440.1 160.2L439.5 160.1L439.0 159.9L438.5 159.6L438.0 159.3L437.6 159.0L437.2 158.8L436.7 158.5L436.1 158.2L435.7 158.0L435.2 157.7L434.8 157.3L434.2 157.1L433.8 156.8L433.2 156.6L432.8 156.2L432.5 156.0L432.0 155.6L431.7 155.2L431.3 154.8L431.1 154.2L430.8 153.8L430.6 153.2L430.3 152.8L430.0 152.4L429.6 152.0L429.2 151.5L429.0 151.2L428.7 150.8L428.3 150.2L428.0 149.8L427.8 149.5L427.3 149.0L427.0 148.6L426.8 148.2L426.5 147.8L426.2 147.2L426.0 146.7L425.8 146.0L425.6 145.5L425.7 144.8L425.9 144.2L425.9 143.5L425.8 142.8L425.5 142.3L425.2 141.8L425.1 141.2L424.9 140.8L424.8 140.0L424.7 139.5L424.8 138.9L424.8 138.2L424.9 137.5L425.1 137.0L425.3 136.5L425.5 135.8L425.6 135.2L425.7 134.5L425.7 133.8L425.8 133.2L425.8 132.5L425.9 131.8L426.0 131.0L426.0 130.5L426.1 129.8L426.2 129.1L426.4 128.5L426.5 127.8L426.5 127.2L426.5 126.7L426.4 126.0L426.4 125.2L426.3 124.5L426.2 124.0L426.2 123.2L426.1 122.5L426.0 121.9L425.9 121.2L425.8 120.5L425.7 120.0L425.8 119.5L425.9 118.8L426.0 118.0L426.0 117.5L426.1 116.8L426.2 116.0L426.3 115.5L426.5 114.9L426.9 114.5L427.2 114.1L427.5 113.7L427.9 113.2L428.2 112.8L428.4 112.2L428.7 111.8L428.8 111.2L429.0 110.6L429.2 110.2L429.8 109.9L430.2 109.7L430.8 109.5L431.5 109.3L431.9 109.0L432.2 108.6L432.5 108.1L432.8 107.6L433.0 107.0L433.1 106.5L433.2 105.8L433.2 105.0L433.2 104.3L433.4 103.8L433.6 103.2L434.0 102.8L434.3 102.5L434.7 102.0L435.0 101.6L435.2 101.0L435.3 100.5L435.5 100.0L435.8 99.5L436.2 99.0L436.6 98.8L437.0 98.4L437.4 98.0L437.8 97.5L438.0 97.2L438.3 96.8L438.6 96.2L439.0 95.8L439.2 95.4L439.6 95.0L440.0 94.5L440.2 94.1L440.5 93.8L441.0 93.3L441.3 93.0L441.8 92.6L442.2 92.2L442.6 92.0L443.0 91.7L443.5 91.4L444.0 91.1L444.5 90.8L444.8 90.5L445.2 90.2L445.8 89.8L446.1 89.5L446.5 89.2L446.9 88.8L447.2 88.3L447.5 88.0L447.9 87.5L448.2 87.2L448.8 86.9L449.2 86.6L449.8 86.4L450.2 86.2L450.7 85.8L451.0 85.5L451.5 85.0L451.8 84.7L452.2 84.4L452.8 84.1L453.2 83.9L453.8 83.7L454.3 83.5L455.0 83.2L455.5 83.0L456.0 82.8L456.5 82.6L457.0 82.3L457.5 82.2L458.0 82.0L458.7 81.8L459.2 81.6L459.8 81.3L460.2 81.0L460.7 80.8L461.2 80.5L461.8 80.3L462.2 80.1L462.8 79.9L463.2 79.7L463.8 79.5L464.2 79.2L464.8 79.0L465.4 78.8L465.9 78.5L466.5 78.3L467.0 78.0L467.5 77.8L468.0 77.6L468.5 77.3L468.9 77.0L469.2 76.7L469.8 76.4L470.2 76.1L470.8 75.8L471.3 75.6L471.8 75.4L472.2 75.1L472.8 74.8L473.2 74.5L473.5 74.2L474.0 73.9L474.5 73.7L475.2 73.5L475.8 73.5L476.2 73.5L476.8 73.5L477.5 73.4L478.0 73.2L478.5 72.8L479.0 72.5L479.5 72.3L480.1 72.2Z"/>
<path d="M410.5 164.8L411.2 164.7L412.0 164.7L412.8 164.6L413.5 164.6L414.2 164.6L415.0 164.6L415.8 164.6L416.5 164.6L417.2 164.6L417.7 164.8L418.2 165.0L418.8 165.3L419.2 165.5L420.0 165.7L420.8 165.7L421.5 165.7L422.2 165.7L422.8 165.8L423.5 165.9L424.1 166.0L424.8 166.1L425.5 166.2L426.0 166.3L426.5 166.5L427.0 166.9L427.4 167.2L427.8 167.5L428.2 167.8L429.0 167.9L429.5 168.0L430.1 168.2L430.5 168.6L431.0 169.0L431.3 169.2L431.8 169.5L432.5 169.7L433.2 169.7L434.0 169.7L434.5 169.9L435.0 170.2L435.4 170.5L435.9 170.8L436.5 170.9L437.0 171.0L437.6 171.2L438.0 171.5L438.4 172.0L438.7 172.5L438.8 173.0L439.0 173.5L439.3 174.0L439.6 174.5L440.0 174.9L440.5 175.2L440.9 175.5L441.5 175.8L442.0 176.0L442.4 176.2L442.8 176.5L443.2 177.0L443.4 177.5L443.6 178.0L443.8 178.5L444.0 179.2L444.2 179.8L444.5 180.2L444.8 180.7L445.0 181.0L445.5 181.5L445.9 181.8L446.3 182.0L446.8 182.3L447.1 182.8L447.3 183.2L447.4 184.0L447.5 184.8L447.6 185.2L447.8 185.9L448.0 186.5L448.2 187.0L448.5 187.5L448.7 188.0L448.9 188.5L449.2 189.0L449.3 189.5L449.2 190.0L448.9 190.5L448.7 191.0L448.4 191.5L448.2 192.0L448.0 192.5L447.8 193.2L447.8 194.0L447.8 194.8L447.8 195.5L447.7 196.0L447.5 196.8L447.4 197.2L447.3 198.0L447.2 198.5L447.0 199.2L446.9 199.8L446.8 200.3L446.5 200.9L446.2 201.3L445.8 201.8L445.4 202.0L444.9 202.2L444.5 202.5L444.0 202.9L443.7 203.2L443.4 203.8L443.2 204.2L443.0 204.9L442.8 205.5L442.5 205.9L442.0 206.2L441.5 206.5L441.0 206.7L440.5 206.8L440.0 207.1L439.5 207.3L439.0 207.7L438.5 208.0L438.2 208.2L437.8 208.7L437.5 209.0L437.2 209.5L436.8 210.0L436.5 210.4L436.2 210.7L435.8 211.2L435.5 211.5L435.0 212.0L434.8 212.3L434.4 212.8L434.1 213.2L433.9 213.8L433.5 214.2L433.2 214.5L432.8 215.0L432.5 215.2L432.0 215.7L431.6 216.0L431.2 216.3L430.8 216.6L430.0 216.7L429.2 216.7L428.7 216.8L428.0 216.9L427.5 217.2L427.1 217.5L426.8 217.9L426.5 218.2L426.1 218.8L425.8 219.2L425.3 219.5L424.9 219.8L424.4 220.0L423.9 220.2L423.4 220.5L422.9 220.8L422.4 221.0L422.0 221.3L421.5 221.7L421.1 222.0L420.6 222.2L420.0 222.4L419.5 222.5L419.0 222.8L418.5 223.1L418.1 223.5L417.8 223.8L417.2 224.1L416.6 224.2L416.0 224.3L415.2 224.5L414.8 224.7L414.2 225.0L413.8 225.2L413.2 225.4L412.7 225.5L412.0 225.6L411.2 225.7L410.8 225.8L410.0 225.9L409.5 226.0L408.8 226.2L408.2 226.3L407.7 226.5L407.0 226.6L406.2 226.7L405.8 226.8L405.0 226.9L404.2 227.0L403.8 227.1L403.0 227.2L402.5 227.3L402.0 227.5L401.5 227.8L401.0 228.1L400.5 228.3L400.0 228.5L399.2 228.7L398.5 228.7L398.0 228.8L397.2 228.9L396.8 229.1L396.2 229.3L395.6 229.5L395.0 229.6L394.2 229.5L393.8 229.4L393.0 229.3L392.5 229.2L392.0 229.3L391.5 229.5L391.0 229.8L390.5 230.0L389.7 230.2L389.2 230.3L388.5 230.4L387.8 230.5L387.0 230.5L386.2 230.4L385.5 230.4L384.8 230.4L384.0 230.3L383.5 230.2L382.8 230.1L382.0 230.1L381.2 230.1L380.7 230.0L380.2 229.8L379.7 229.5L379.0 229.3L378.2 229.3L377.5 229.4L376.8 229.4L376.0 229.4L375.2 229.3L374.8 229.1L374.2 229.0L373.5 228.8L373.0 228.7L372.5 228.8L372.0 228.7L371.2 228.6L370.8 228.3L370.2 228.0L369.8 227.8L369.2 227.7L368.5 227.7L367.9 227.8L367.2 227.8L366.7 227.8L366.0 227.6L365.5 227.4L365.0 227.1L364.5 226.8L364.0 226.5L363.5 226.3L363.0 226.2L362.4 226.0L361.8 225.8L361.2 225.7L360.7 225.5L360.0 225.3L359.5 225.2L358.8 225.0L358.2 224.8L357.8 224.6L357.2 224.3L356.9 224.0L356.5 223.7L356.0 223.3L355.5 223.0L355.0 222.8L354.5 222.6L354.0 222.4L353.5 222.0L353.2 221.7L352.8 221.2L352.5 221.0L352.0 220.7L351.5 220.5L350.8 220.3L350.2 220.1L349.8 220.0L349.2 219.7L348.8 219.2L348.5 219.0L348.0 218.7L347.5 218.5L346.8 218.3L346.2 218.2L345.6 218.0L345.2 217.8L344.8 217.3L344.4 217.0L344.0 216.7L343.5 216.4L343.0 216.1L342.5 215.8L342.2 215.5L341.8 215.0L341.5 214.6L341.2 214.2L340.8 213.8L340.5 213.5L340.0 213.2L339.4 213.0L338.8 212.8L338.2 212.6L337.8 212.5L337.2 212.2L336.7 212.0L336.2 211.7L335.8 211.2L335.5 210.9L335.1 210.5L334.8 210.1L334.4 209.8L334.1 209.2L333.8 208.8L333.5 208.3L333.2 207.9L333.0 207.5L332.7 207.0L332.5 206.5L332.2 206.0L331.8 205.5L331.6 205.0L331.4 204.5L331.4 203.8L331.5 203.0L331.5 202.5L331.7 201.8L332.0 201.2L332.2 201.0L332.7 200.5L333.0 200.1L333.2 199.7L333.5 199.2L333.8 198.8L334.2 198.3L334.6 198.0L335.0 197.7L335.7 197.5L336.2 197.4L336.8 197.2L337.3 197.0L337.8 196.6L338.1 196.2L338.5 195.8L338.8 195.4L339.0 195.0L339.5 194.5L339.8 194.2L340.2 193.9L340.7 193.5L341.0 193.2L341.4 192.8L341.8 192.4L342.2 192.0L342.6 191.8L343.1 191.5L343.6 191.2L344.2 191.0L344.8 190.8L345.2 190.5L345.8 190.3L346.2 190.0L346.8 189.8L347.2 189.5L347.6 189.2L348.0 188.9L348.3 188.5L348.8 188.1L349.2 187.8L349.6 187.5L350.1 187.2L350.5 187.0L351.0 186.7L351.5 186.2L351.8 186.0L352.2 185.5L352.5 185.2L353.0 184.9L353.5 184.7L354.0 184.4L354.5 184.1L354.8 183.7L355.1 183.2L355.3 182.8L355.6 182.2L356.0 181.8L356.3 181.5L357.0 181.3L357.8 181.3L358.5 181.3L359.0 181.1L359.5 180.8L360.0 180.5L360.4 180.2L360.8 180.0L361.4 179.8L361.9 179.5L362.4 179.2L362.8 179.0L363.2 178.7L363.8 178.4L364.2 178.0L364.5 177.8L365.0 177.2L365.2 176.8L365.5 176.5L366.0 176.1L366.5 175.8L367.0 175.6L367.4 175.2L367.8 175.0L368.2 174.6L368.8 174.3L369.4 174.2L370.0 174.2L370.7 174.0L371.2 173.8L371.7 173.5L372.2 173.4L372.8 173.2L373.2 173.0L373.8 172.7L374.2 172.5L375.0 172.5L375.5 172.6L376.2 172.7L377.0 172.7L377.7 172.5L378.2 172.4L378.8 172.2L379.5 172.0L380.0 171.8L380.2 171.4L380.5 170.9L380.8 170.4L381.1 170.0L381.8 169.8L382.5 169.9L383.2 169.8L383.8 169.7L384.2 169.5L384.8 169.0L385.1 168.8L385.5 168.4L386.0 168.1L386.5 167.9L387.2 167.9L388.0 167.9L388.8 168.0L389.5 167.9L390.0 167.8L390.5 167.5L391.0 167.1L391.5 166.8L392.0 166.5L392.5 166.4L393.3 166.3L393.8 166.2L394.4 166.0L395.0 165.8L395.5 165.7L396.2 165.7L397.0 165.6L397.8 165.6L398.4 165.5L399.0 165.4L399.8 165.5L400.5 165.5L401.2 165.4L402.0 165.4L402.8 165.5L403.2 165.6L403.8 165.8L404.5 165.9L405.2 165.8L405.8 165.7L406.5 165.6L407.2 165.7L407.8 165.8L408.5 165.8L409.0 165.6L409.5 165.3L410.0 165.0L410.5 164.8Z"/>
<path d="M413.0 167.5L413.8 167.4L414.5 167.4L415.1 167.5L415.8 167.7L416.2 167.9L416.8 168.1L417.5 168.2L418.0 168.3L418.8 168.4L419.2 168.5L420.0 168.7L420.5 168.8L421.2 168.8L422.0 168.9L422.5 169.0L423.2 169.2L423.8 169.4L424.3 169.5L425.0 169.6L425.6 169.8L426.2 169.9L426.8 170.0L427.5 170.2L428.0 170.4L428.5 170.6L429.0 170.9L429.3 171.2L429.8 171.7L430.0 172.0L430.5 172.3L431.1 172.5L431.8 172.7L432.2 173.0L432.7 173.2L433.0 173.6L433.5 174.0L433.9 174.2L434.3 174.5L434.8 174.8L435.2 175.0L435.8 175.3L436.2 175.7L436.6 176.0L437.0 176.4L437.3 176.8L437.6 177.2L437.9 177.8L438.2 178.2L438.5 178.5L439.0 179.0L439.3 179.2L439.8 179.6L440.2 179.9L440.6 180.2L441.0 180.7L441.2 181.1L441.5 181.7L441.6 182.2L441.8 182.8L442.0 183.3L442.3 183.8L442.8 184.2L443.1 184.5L443.5 184.8L444.0 185.1L444.4 185.5L444.7 186.0L444.9 186.5L444.8 187.2L444.6 187.8L444.4 188.2L444.3 189.0L444.5 189.5L444.9 190.0L445.2 190.5L445.3 191.0L445.3 191.8L445.2 192.2L445.1 193.0L445.0 193.8L444.9 194.2L444.8 195.0L444.7 195.5L444.5 196.1L444.2 196.7L444.0 197.2L443.8 197.6L443.5 198.0L443.2 198.5L443.0 199.0L442.8 199.5L442.5 200.0L442.1 200.5L441.8 200.9L441.5 201.2L441.2 201.8L440.9 202.2L440.7 202.8L440.4 203.2L440.0 203.7L439.7 204.0L439.2 204.3L438.8 204.6L438.2 204.9L437.8 205.2L437.4 205.5L437.0 205.8L436.6 206.2L436.2 206.6L435.9 207.0L435.5 207.5L435.2 207.9L435.0 208.3L434.7 208.8L434.3 209.2L434.0 209.6L433.6 210.0L433.2 210.4L432.8 210.8L432.5 211.0L432.0 211.4L431.5 211.7L431.2 212.0L430.8 212.3L430.2 212.6L429.8 213.0L429.4 213.2L429.0 213.5L428.5 213.9L428.0 214.2L427.6 214.5L427.2 214.8L426.8 215.1L426.2 215.4L425.8 215.7L425.2 215.9L424.8 216.2L424.4 216.5L424.1 217.0L423.8 217.5L423.5 217.8L423.0 218.1L422.5 218.3L421.8 218.4L421.2 218.5L420.6 218.8L420.2 219.0L419.8 219.4L419.3 219.8L418.9 220.0L418.5 220.2L418.0 220.5L417.5 220.8L417.0 221.0L416.3 221.2L415.8 221.3L415.0 221.5L414.5 221.6L414.0 221.8L413.5 222.1L413.0 222.5L412.5 222.8L412.0 222.9L411.5 223.0L411.0 223.0L410.2 222.8L409.5 222.8L408.8 223.0L408.2 223.1L407.8 223.3L407.2 223.5L406.7 223.7L406.1 224.0L405.5 224.2L405.0 224.4L404.4 224.5L403.8 224.7L403.2 224.8L402.7 225.0L402.0 225.1L401.2 225.2L400.5 225.2L399.9 225.2L399.2 225.4L398.8 225.5L398.0 225.7L397.2 225.7L396.8 225.8L396.1 226.0L395.5 226.2L395.0 226.3L394.2 226.4L393.5 226.4L393.0 226.5L392.2 226.7L391.8 226.8L391.2 227.0L390.6 227.2L390.1 227.5L389.5 227.7L389.0 227.8L388.2 227.8L387.7 227.8L387.0 227.6L386.5 227.4L385.8 227.2L385.2 227.1L384.5 227.1L383.8 227.1L383.0 227.1L382.2 227.2L381.7 227.2L381.0 227.3L380.2 227.3L379.8 227.1L379.2 226.9L378.8 226.7L378.2 226.4L377.8 226.2L377.2 226.0L376.5 225.9L375.8 225.8L375.2 225.7L374.5 225.7L373.8 225.7L373.0 225.6L372.2 225.7L371.5 225.6L371.0 225.4L370.5 225.2L369.8 225.0L369.2 224.9L368.5 224.8L368.0 224.6L367.5 224.3L367.1 224.0L366.7 223.8L366.2 223.5L365.7 223.2L365.0 223.1L364.2 223.2L363.8 223.3L363.2 223.2L362.7 223.0L362.2 222.6L361.9 222.2L361.5 221.8L361.2 221.5L360.8 221.2L360.2 220.9L359.6 220.8L359.2 220.8L358.5 220.9L358.0 221.0L357.5 220.9L357.0 220.5L356.7 220.2L356.5 219.8L356.2 219.2L355.9 218.8L355.5 218.3L355.2 218.0L354.8 217.7L354.2 217.5L353.5 217.2L353.0 217.1L352.5 216.8L352.0 216.5L351.7 216.2L351.2 215.8L350.8 215.5L350.2 215.3L349.8 215.2L349.0 215.1L348.5 215.0L347.9 214.8L347.3 214.5L346.8 214.3L346.3 214.0L345.9 213.8L345.3 213.5L344.8 213.2L344.4 213.0L344.0 212.7L343.5 212.3L343.2 212.0L342.8 211.5L342.5 211.0L342.3 210.5L342.1 210.0L341.9 209.5L341.5 209.0L341.2 208.8L340.5 208.5L340.0 208.4L339.2 208.3L338.8 208.1L338.2 207.8L337.9 207.5L337.5 207.0L337.2 206.7L337.0 206.2L336.8 205.5L336.7 205.0L336.8 204.5L336.8 203.8L336.9 203.0L337.0 202.5L337.4 202.0L337.8 201.7L338.2 201.2L338.5 201.0L339.0 200.5L339.2 200.2L339.5 199.8L339.8 199.2L340.0 198.8L340.2 198.1L340.5 197.6L340.8 197.2L341.1 196.8L341.5 196.4L341.9 196.0L342.2 195.6L342.6 195.2L343.0 194.8L343.2 194.4L343.6 194.0L344.0 193.6L344.5 193.4L345.0 193.2L345.6 193.0L346.2 192.8L346.7 192.5L347.2 192.2L347.6 192.0L348.0 191.8L348.5 191.4L348.9 191.0L349.2 190.6L349.6 190.2L350.0 189.9L350.5 189.6L351.0 189.5L351.8 189.3L352.2 189.1L352.8 188.8L353.2 188.5L353.5 188.1L353.8 187.8L354.2 187.2L354.5 187.0L355.0 186.7L355.5 186.5L356.2 186.3L356.7 186.0L357.0 185.7L357.5 185.2L357.8 185.0L358.2 184.6L358.8 184.3L359.2 184.0L359.8 183.8L360.2 183.5L360.7 183.2L361.1 183.0L361.6 182.8L362.0 182.4L362.5 182.0L362.8 181.7L363.2 181.4L363.8 181.1L364.2 180.9L364.8 180.6L365.2 180.4L365.8 180.2L366.2 180.0L366.8 179.8L367.4 179.5L367.9 179.2L368.5 179.0L369.0 178.9L369.6 178.8L370.2 178.6L370.8 178.3L371.2 178.0L371.5 177.7L372.0 177.2L372.2 177.0L372.8 176.7L373.2 176.4L373.8 176.3L374.4 176.0L375.0 175.8L375.5 175.6L376.0 175.4L376.8 175.3L377.2 175.1L377.8 175.0L378.3 174.8L379.0 174.5L379.5 174.5L380.0 174.5L380.8 174.5L381.2 174.3L381.8 174.0L382.1 173.8L382.5 173.5L383.0 173.2L383.5 172.9L384.0 172.7L384.6 172.5L385.2 172.2L385.6 172.0L386.0 171.7L386.4 171.2L386.8 170.9L387.2 170.6L388.0 170.5L388.5 170.5L389.2 170.3L389.8 170.2L390.4 170.0L391.0 169.8L391.5 169.6L392.0 169.4L392.5 169.2L393.0 169.0L393.6 168.8L394.2 168.5L394.8 168.4L395.4 168.2L396.0 168.1L396.7 168.0L397.2 168.0L398.0 167.9L398.8 167.9L399.5 167.9L400.2 167.8L401.0 167.8L401.8 167.9L402.2 168.1L402.8 168.3L403.2 168.6L403.9 168.8L404.5 168.8L405.1 168.8L405.8 168.6L406.2 168.4L406.8 168.2L407.5 168.2L408.2 168.2L409.0 168.2L409.8 168.2L410.5 168.1L411.2 168.0L411.8 167.9L412.3 167.8L413.0 167.5Z"/>
<path d="M399.7 170.2L400.2 170.2L401.0 170.2L401.5 170.4L402.0 170.5L402.8 170.7L403.2 170.8L404.0 170.8L404.8 170.8L405.5 170.9L406.2 170.8L407.0 170.8L407.5 170.7L408.2 170.6L409.0 170.5L409.5 170.4L410.2 170.3L411.0 170.4L411.7 170.5L412.2 170.6L413.0 170.5L413.8 170.5L414.5 170.6L415.2 170.7L416.0 170.7L416.8 170.6L417.5 170.6L418.2 170.6L418.8 170.8L419.2 171.0L419.8 171.3L420.5 171.4L421.2 171.4L422.0 171.4L422.8 171.4L423.4 171.5L424.0 171.7L424.5 171.9L425.0 172.2L425.5 172.4L426.0 172.7L426.4 173.0L426.8 173.2L427.2 173.6L427.6 174.0L428.0 174.4L428.4 174.8L428.8 175.0L429.5 175.2L430.0 175.4L430.5 175.5L431.0 175.8L431.5 176.2L431.8 176.5L432.2 176.9L432.8 177.2L433.2 177.5L433.7 177.8L434.0 178.1L434.4 178.5L434.7 179.0L435.0 179.4L435.3 179.8L435.7 180.2L436.0 180.6L436.3 181.0L436.7 181.5L437.0 181.9L437.3 182.2L437.7 182.8L437.8 183.2L438.0 183.8L438.2 184.5L438.5 184.9L438.8 185.3L439.0 185.8L439.2 186.3L439.4 187.0L439.5 187.5L439.7 188.2L440.0 188.7L440.2 189.2L440.5 189.5L440.8 190.0L441.1 190.5L441.3 191.0L441.4 191.8L441.3 192.5L441.2 193.0L441.0 193.8L441.0 194.2L440.9 195.0L440.7 195.7L440.6 196.2L440.4 196.8L440.2 197.2L440.0 197.9L439.8 198.5L439.5 198.8L439.1 199.2L438.8 199.6L438.4 200.0L438.0 200.4L437.8 200.8L437.5 201.2L437.2 201.8L436.9 202.2L436.6 202.8L436.3 203.2L436.0 203.7L435.8 204.1L435.5 204.5L435.1 205.0L434.8 205.4L434.4 205.8L434.0 206.1L433.6 206.5L433.2 206.9L433.0 207.3L432.7 207.8L432.5 208.2L432.1 208.8L431.7 209.0L431.1 209.2L430.5 209.4L430.0 209.6L429.5 209.9L429.0 210.2L428.6 210.5L428.2 211.0L428.0 211.5L427.8 212.0L427.5 212.4L427.1 212.8L426.7 213.0L426.1 213.2L425.5 213.4L425.0 213.5L424.2 213.7L423.8 213.9L423.2 214.0L422.8 214.3L422.2 214.5L421.7 214.8L421.0 214.9L420.5 215.1L419.9 215.2L419.4 215.5L419.0 215.8L418.6 216.2L418.2 216.7L418.0 217.0L417.5 217.4L417.1 217.8L416.8 218.1L416.2 218.4L415.8 218.7L415.2 218.9L414.8 219.0L414.1 219.2L413.5 219.5L413.0 219.7L412.5 219.9L412.0 220.0L411.2 220.0L410.8 220.0L410.0 219.8L409.5 219.7L409.0 219.8L408.4 220.0L407.9 220.2L407.4 220.5L406.9 220.8L406.2 221.0L405.8 221.2L405.2 221.3L404.5 221.4L403.8 221.4L403.0 221.4L402.4 221.5L401.7 221.7L401.3 222.0L400.8 222.2L400.3 222.5L399.8 222.7L399.2 222.9L398.8 223.0L398.0 223.1L397.2 223.2L396.8 223.4L396.2 223.6L395.8 223.8L395.2 224.0L394.5 224.2L393.8 224.1L393.2 224.0L392.5 223.9L391.8 224.0L391.2 224.2L390.8 224.4L390.2 224.5L389.5 224.6L388.8 224.7L388.0 224.7L387.2 224.6L386.6 224.5L386.0 224.4L385.5 224.2L384.8 224.2L384.0 224.2L383.4 224.2L382.8 224.3L382.0 224.3L381.5 224.2L380.8 224.0L380.2 223.8L379.8 223.7L379.0 223.5L378.5 223.5L377.8 223.5L377.0 223.4L376.2 223.3L375.8 223.2L375.0 223.1L374.2 223.1L373.6 223.0L373.0 222.9L372.3 222.8L371.8 222.5L371.4 222.2L371.0 221.9L370.5 221.5L370.0 221.3L369.5 221.2L368.8 221.1L368.2 220.9L367.8 220.6L367.2 220.4L366.8 220.2L366.2 220.0L365.5 219.8L365.0 219.6L364.5 219.3L364.1 219.0L363.8 218.6L363.4 218.2L363.0 217.9L362.5 217.6L362.0 217.5L361.2 217.4L360.5 217.4L359.8 217.3L359.2 217.1L358.8 216.8L358.4 216.5L358.0 216.2L357.5 216.0L356.9 215.8L356.2 215.6L355.8 215.4L355.1 215.2L354.5 215.0L354.1 214.8L353.7 214.5L353.2 214.0L353.0 213.8L352.5 213.2L352.2 213.0L351.8 212.7L351.2 212.5L350.6 212.2L350.1 212.0L349.7 211.8L349.2 211.4L348.8 211.1L348.2 210.9L347.7 210.7L347.0 210.5L346.5 210.3L346.0 210.1L345.5 209.9L345.0 209.6L344.7 209.2L344.5 208.8L344.3 208.0L344.1 207.5L343.9 207.0L343.6 206.5L343.2 206.2L342.8 205.8L342.5 205.3L342.4 204.8L342.4 204.0L342.5 203.5L342.6 202.8L342.6 202.0L342.7 201.2L342.8 200.8L343.0 200.2L343.3 199.8L343.6 199.2L343.8 198.8L344.0 198.2L344.2 197.6L344.7 197.2L345.2 197.0L345.8 196.8L346.2 196.5L346.5 196.2L346.9 195.8L347.2 195.2L347.5 194.9L348.0 194.5L348.5 194.3L349.0 194.1L349.5 193.8L350.0 193.5L350.5 193.3L351.0 193.1L351.5 192.9L352.0 192.7L352.5 192.3L352.8 192.0L353.2 191.5L353.5 191.1L353.8 190.8L354.2 190.4L354.7 190.0L355.1 189.8L355.5 189.5L356.0 189.2L356.5 188.9L357.0 188.6L357.5 188.3L358.0 188.0L358.4 187.8L358.8 187.5L359.2 187.1L359.7 186.8L360.0 186.5L360.5 186.1L360.9 185.8L361.2 185.5L361.8 185.1L362.2 184.8L362.6 184.5L363.0 184.3L363.5 183.9L364.0 183.6L364.5 183.4L365.2 183.3L365.8 183.1L366.2 182.8L366.6 182.5L367.0 182.1L367.5 181.8L368.0 181.5L368.5 181.4L369.2 181.3L369.8 181.2L370.3 181.0L371.0 180.8L371.5 180.6L372.0 180.5L372.6 180.2L373.1 180.0L373.5 179.7L374.0 179.3L374.3 179.0L374.8 178.7L375.2 178.4L375.8 178.1L376.2 177.9L377.0 177.8L377.3 177.8L378.0 177.8L378.5 177.7L379.1 177.5L379.6 177.2L380.2 177.0L380.8 176.9L381.3 176.8L382.0 176.5L382.5 176.2L382.8 176.0L383.2 175.7L383.8 175.4L384.2 175.2L385.0 175.1L385.5 175.0L386.0 174.8L386.5 174.4L387.0 174.0L387.3 173.8L387.8 173.3L388.2 173.0L388.7 172.8L389.2 172.5L389.7 172.2L390.2 172.0L390.7 171.8L391.2 171.6L391.8 171.5L392.5 171.4L393.2 171.5L394.0 171.4L394.5 171.2L395.0 171.0L395.5 170.7L396.1 170.5L396.8 170.4L397.5 170.4L398.2 170.4L399.0 170.3L399.7 170.2Z"/>
<path d="M408.8 172.5L409.5 172.5L410.0 172.6L410.5 172.8L411.0 173.2L411.4 173.5L411.8 173.8L412.5 173.9L413.2 173.9L413.8 173.7L414.5 173.5L415.0 173.4L415.8 173.3L416.2 173.2L416.8 173.3L417.2 173.5L417.8 173.8L418.2 174.1L418.8 174.2L419.5 174.3L420.0 174.2L420.8 174.1L421.5 174.0L422.0 173.9L422.8 173.9L423.2 174.1L423.8 174.3L424.2 174.6L424.8 175.0L425.0 175.2L425.4 175.8L425.8 176.1L426.2 176.5L426.6 176.8L427.0 177.0L427.5 177.2L428.0 177.5L428.5 177.8L429.0 178.1L429.5 178.5L429.8 178.8L430.2 179.2L430.5 179.6L430.8 180.0L431.2 180.5L431.5 180.8L431.9 181.2L432.2 181.5L432.8 181.9L433.2 182.2L433.8 182.4L434.2 182.7L434.6 183.0L434.9 183.5L435.2 184.0L435.3 184.5L435.5 185.2L435.6 185.8L435.7 186.5L435.9 187.0L436.1 187.5L436.4 188.0L436.6 188.5L436.8 189.0L437.0 189.7L437.1 190.2L437.3 190.8L437.4 191.5L437.4 192.2L437.3 193.0L437.3 193.8L437.3 194.5L437.2 195.0L437.1 195.8L437.0 196.5L437.0 197.2L437.0 197.8L436.9 198.5L436.7 199.0L436.4 199.5L436.1 200.0L435.8 200.5L435.5 200.9L435.2 201.3L435.0 201.8L434.6 202.2L434.2 202.6L433.9 203.0L433.6 203.5L433.4 204.0L433.1 204.5L432.8 204.9L432.4 205.3L432.0 205.7L431.6 206.0L431.2 206.3L430.8 206.7L430.4 207.0L430.0 207.3L429.5 207.5L429.0 207.8L428.5 208.0L428.0 208.3L427.5 208.6L427.0 209.0L426.6 209.2L426.2 209.5L425.8 209.8L425.2 210.0L424.6 210.2L424.0 210.4L423.5 210.6L422.8 210.7L422.2 210.7L421.5 210.9L421.0 211.0L420.3 211.2L420.0 211.6L419.8 212.2L419.6 212.8L419.2 213.2L418.9 213.5L418.5 213.8L418.0 214.0L417.5 214.2L417.0 214.5L416.5 214.9L416.2 215.3L416.0 215.7L415.6 216.2L415.2 216.6L414.8 216.9L414.2 217.0L413.5 217.2L412.8 217.2L412.0 217.1L411.5 217.0L410.8 216.9L410.0 217.0L409.5 217.2L409.0 217.4L408.5 217.6L408.0 217.8L407.5 218.1L407.0 218.3L406.5 218.5L405.8 218.6L405.0 218.7L404.5 218.8L403.9 219.0L403.2 219.2L402.8 219.3L402.0 219.4L401.3 219.5L400.8 219.5L400.0 219.7L399.5 219.8L399.0 220.1L398.5 220.3L397.8 220.4L397.0 220.4L396.5 220.5L396.0 220.8L395.5 221.0L395.0 221.3L394.2 221.4L393.8 221.2L393.2 221.0L392.5 220.9L392.0 221.2L391.5 221.5L391.1 221.8L390.6 222.0L390.0 222.2L389.5 222.3L388.8 222.5L388.2 222.5L387.5 222.5L387.0 222.4L386.2 222.3L385.8 222.2L385.0 222.1L384.2 222.1L383.5 222.0L383.0 222.0L382.2 221.8L381.8 221.7L381.2 221.4L380.8 221.2L380.2 221.0L379.6 220.8L379.0 220.5L378.5 220.3L378.0 220.1L377.5 220.0L376.8 219.8L376.3 219.7L375.5 219.6L374.8 219.6L374.2 219.4L373.7 219.2L373.0 219.0L372.5 219.0L371.8 219.0L371.0 219.0L370.2 218.9L369.7 218.8L369.0 218.5L368.5 218.3L368.0 218.1L367.5 217.9L367.0 217.7L366.5 217.4L366.0 217.2L365.5 216.9L365.0 216.7L364.5 216.4L364.0 216.0L363.6 215.8L363.2 215.5L362.8 215.1L362.2 214.8L361.8 214.6L361.2 214.5L360.5 214.3L360.0 214.1L359.5 213.9L359.0 213.7L358.5 213.3L358.0 213.0L357.5 212.8L357.0 212.7L356.2 212.7L355.7 212.5L355.1 212.2L354.6 212.0L354.2 211.8L353.7 211.5L353.3 211.2L352.7 211.0L352.1 210.8L351.6 210.5L351.2 210.2L350.8 209.9L350.3 209.5L350.0 209.2L349.6 208.8L349.2 208.4L348.9 208.0L348.5 207.5L348.2 207.2L347.8 206.8L347.5 206.5L347.0 206.0L346.8 205.7L346.4 205.2L346.1 204.8L345.8 204.3L345.5 204.0L345.2 203.5L345.0 203.0L344.9 202.2L345.0 201.5L345.2 201.0L345.5 200.5L345.8 200.0L346.0 199.7L346.5 199.3L347.0 199.0L347.5 198.8L347.8 198.5L348.2 198.2L348.7 197.8L349.0 197.5L349.5 197.1L350.0 196.8L350.5 196.5L351.0 196.3L351.5 196.0L352.0 195.8L352.5 195.6L353.0 195.2L353.2 194.9L353.5 194.5L353.8 194.0L354.1 193.5L354.5 193.0L354.8 192.8L355.2 192.4L355.7 192.0L356.1 191.8L356.5 191.5L357.0 191.2L357.6 191.0L358.2 190.8L358.7 190.5L359.0 190.2L359.5 189.8L359.8 189.5L360.2 189.0L360.5 188.6L360.8 188.2L361.2 187.8L361.6 187.5L362.0 187.2L362.5 187.0L363.0 186.7L363.5 186.4L364.0 186.1L364.5 185.8L365.0 185.6L365.5 185.4L366.1 185.2L366.7 185.0L367.2 184.8L367.8 184.5L368.2 184.4L369.0 184.3L369.5 184.1L370.0 183.9L370.5 183.6L371.0 183.3L371.4 183.0L371.9 182.8L372.5 182.6L373.0 182.4L373.6 182.2L374.1 182.0L374.5 181.7L375.0 181.3L375.5 181.0L375.9 180.8L376.5 180.5L377.0 180.3L377.5 180.2L378.3 180.0L378.8 179.9L379.2 179.7L379.8 179.4L380.2 179.0L380.6 178.8L381.2 178.5L381.8 178.4L382.2 178.2L382.9 178.0L383.5 177.8L384.0 177.6L384.7 177.5L385.2 177.5L386.0 177.4L386.5 177.2L387.0 177.0L387.5 176.5L387.8 176.2L388.2 175.8L388.5 175.5L389.0 175.2L389.6 175.0L390.0 174.8L390.5 174.3L390.9 174.0L391.3 173.8L391.9 173.5L392.5 173.4L393.2 173.3L393.9 173.2L394.5 173.2L395.2 173.1L396.0 173.0L396.5 172.9L397.2 172.8L397.8 172.6L398.5 172.6L399.2 172.7L399.8 172.9L400.3 173.0L401.0 173.2L401.5 173.3L402.2 173.3L402.8 173.2L403.5 173.1L404.2 173.1L405.0 173.1L405.8 173.2L406.5 173.0L407.0 172.9L407.6 172.8L408.2 172.6L408.8 172.5Z"/>
<path d="M399.1 174.8L399.8 174.7L400.5 174.6L401.2 174.8L401.8 175.0L402.2 175.2L402.8 175.5L403.2 175.7L403.8 175.8L404.5 175.8L405.0 175.7L405.7 175.5L406.2 175.4L407.0 175.3L407.7 175.3L408.5 175.3L409.2 175.4L409.9 175.5L410.5 175.7L411.0 175.9L411.5 176.1L412.0 176.3L412.8 176.5L413.2 176.5L414.0 176.6L414.8 176.6L415.5 176.5L416.0 176.5L416.8 176.5L417.2 176.5L418.0 176.6L418.5 176.8L419.2 177.0L419.8 177.1L420.2 177.3L420.9 177.5L421.4 177.8L421.8 178.0L422.3 178.3L423.0 178.4L423.8 178.4L424.5 178.5L425.0 178.6L425.5 178.8L426.0 179.2L426.4 179.5L426.8 179.9L427.0 180.3L427.3 180.8L427.7 181.2L428.0 181.5L428.5 181.9L428.9 182.3L429.2 182.6L429.7 183.0L430.0 183.3L430.5 183.6L431.0 183.9L431.5 184.2L431.8 184.5L432.1 185.0L432.2 185.8L432.2 186.5L432.2 187.1L432.5 187.7L432.8 188.2L433.0 188.5L433.4 189.0L433.7 189.3L434.1 189.8L434.5 190.2L434.8 190.6L435.0 191.2L435.0 191.8L435.0 192.5L434.9 193.0L434.8 193.7L434.5 194.2L434.3 194.8L434.2 195.2L434.0 196.0L434.0 196.5L433.9 197.2L433.8 198.0L433.7 198.5L433.5 199.0L433.2 199.5L432.8 199.9L432.2 200.2L431.8 200.4L431.2 200.7L430.9 201.0L430.7 201.5L430.5 202.0L430.3 202.8L430.2 203.2L430.0 203.9L429.8 204.3L429.3 204.8L429.0 205.0L428.5 205.3L428.0 205.5L427.5 205.9L427.1 206.2L426.7 206.5L426.2 206.8L425.8 207.1L425.0 207.2L424.5 207.3L423.8 207.5L423.2 207.6L422.8 207.8L422.2 208.0L421.7 208.2L421.2 208.5L420.8 208.8L420.2 209.1L419.8 209.4L419.2 209.6L418.8 209.9L418.3 210.2L418.0 210.6L417.8 211.1L417.5 211.7L417.2 212.2L416.9 212.5L416.4 212.8L416.0 213.0L415.5 213.5L415.2 213.9L415.0 214.3L414.7 214.8L414.2 215.2L413.8 215.4L413.2 215.5L412.5 215.5L412.0 215.5L411.2 215.4L410.5 215.5L410.0 215.6L409.4 215.8L408.8 216.0L408.2 216.2L407.8 216.4L407.2 216.5L406.5 216.6L405.8 216.7L405.0 216.7L404.5 216.8L403.8 217.0L403.2 217.2L402.8 217.4L402.2 217.6L401.8 217.8L401.0 217.9L400.2 217.9L399.5 218.0L399.0 218.1L398.5 218.3L397.8 218.4L397.2 218.5L396.5 218.6L396.0 218.8L395.4 219.0L394.8 219.2L394.2 219.3L393.8 219.2L393.0 219.2L392.3 219.2L391.8 219.4L391.2 219.6L390.8 219.9L390.2 220.2L389.8 220.5L389.2 220.7L388.8 220.8L388.0 220.9L387.2 220.8L386.6 220.8L386.0 220.7L385.2 220.6L384.5 220.6L383.8 220.6L383.0 220.6L382.5 220.5L382.0 220.2L381.5 219.9L381.0 219.6L380.5 219.3L380.0 219.1L379.2 219.0L378.8 218.9L378.0 218.8L377.5 218.6L377.0 218.4L376.5 218.2L375.8 218.1L375.2 218.0L374.5 217.8L374.0 217.5L373.5 217.3L373.0 217.2L372.2 217.1L371.5 217.1L370.8 217.1L370.2 217.0L369.5 216.8L369.0 216.6L368.5 216.4L368.0 216.2L367.5 216.0L367.0 215.7L366.5 215.3L366.1 215.0L365.8 214.7L365.4 214.2L365.0 213.8L364.7 213.5L364.2 213.1L363.8 212.8L363.5 212.3L363.2 212.0L362.8 211.7L362.0 211.5L361.5 211.5L360.8 211.3L360.2 211.2L359.5 211.0L359.0 210.9L358.4 210.8L357.8 210.5L357.2 210.4L356.8 210.2L356.1 210.0L355.6 209.8L355.2 209.5L354.8 209.1L354.3 208.8L353.8 208.5L353.2 208.3L352.6 208.2L352.0 208.1L351.5 207.8L351.2 207.5L350.8 207.0L350.5 206.5L350.2 206.1L350.0 205.8L349.5 205.3L349.1 205.0L348.8 204.7L348.3 204.2L348.0 203.8L347.9 203.2L347.9 202.5L348.1 202.0L348.5 201.5L348.8 201.1L349.0 200.8L349.3 200.2L349.5 199.8L349.8 199.2L350.2 198.8L350.5 198.4L351.0 198.2L351.7 198.0L352.2 197.9L353.0 197.8L353.4 197.5L353.8 197.2L354.2 196.8L354.6 196.5L355.0 196.2L355.5 195.8L355.8 195.5L356.0 195.0L356.3 194.5L356.5 194.0L356.9 193.5L357.2 193.2L357.8 192.9L358.2 192.6L358.8 192.4L359.2 192.1L359.7 191.8L360.0 191.5L360.5 191.1L360.8 190.8L361.2 190.3L361.5 189.9L361.8 189.5L362.2 189.1L362.7 188.8L363.1 188.5L363.5 188.2L364.0 187.8L364.5 187.5L365.0 187.2L365.5 187.0L366.0 186.8L366.5 186.6L367.0 186.3L367.5 186.0L368.0 185.8L368.5 185.6L369.0 185.5L369.8 185.3L370.2 185.1L370.8 184.9L371.2 184.6L371.8 184.3L372.2 184.1L372.8 184.0L373.5 183.8L374.0 183.8L374.8 183.5L375.2 183.3L375.8 183.1L376.2 182.9L376.8 182.6L377.1 182.2L377.5 181.9L378.0 181.5L378.5 181.3L379.0 181.2L379.8 181.1L380.4 181.0L381.0 180.8L381.5 180.6L382.0 180.3L382.5 180.1L383.0 179.8L383.5 179.6L384.0 179.5L384.8 179.4L385.4 179.2L386.0 179.0L386.5 178.8L387.0 178.6L387.5 178.4L388.0 178.2L388.8 178.1L389.3 178.0L390.0 177.9L390.7 177.8L391.1 177.5L391.5 177.1L392.0 176.8L392.5 176.6L393.0 176.4L393.5 176.1L394.0 175.8L394.4 175.5L395.0 175.3L395.5 175.2L396.2 175.1L397.0 175.1L397.8 175.0L398.2 174.9L399.0 174.8Z"/>
<path d="M395.9 177.2L396.5 177.2L397.2 177.2L398.0 177.2L398.8 177.1L399.5 177.1L400.0 177.2L400.6 177.5L401.2 177.8L401.8 177.9L402.2 178.1L403.0 178.2L403.8 178.1L404.2 178.0L404.8 177.7L405.3 177.5L406.0 177.3L406.8 177.3L407.5 177.4L408.2 177.5L408.8 177.7L409.1 178.0L409.5 178.3L410.0 178.7L410.5 179.0L411.0 179.1L411.8 179.2L412.5 179.2L413.2 179.2L414.0 179.1L414.8 179.1L415.5 179.1L416.0 179.0L416.8 178.9L417.5 178.9L418.2 178.9L418.8 179.0L419.5 179.2L420.0 179.5L420.4 179.8L420.8 180.0L421.2 180.4L421.7 180.8L422.1 181.0L422.5 181.3L423.0 181.6L423.5 181.9L424.0 182.1L424.5 182.4L425.0 182.7L425.4 183.0L425.7 183.3L426.2 183.6L426.8 183.9L427.2 184.2L427.8 184.5L428.1 184.8L428.5 185.2L428.8 185.5L429.0 186.0L429.2 186.7L429.4 187.2L429.5 187.8L429.7 188.5L429.9 189.0L430.1 189.5L430.3 190.0L430.7 190.5L431.0 190.9L431.2 191.3L431.5 191.8L431.8 192.2L431.9 193.0L431.9 193.8L431.8 194.4L431.7 195.0L431.5 195.8L431.4 196.2L431.3 197.0L431.0 197.5L430.7 198.0L430.5 198.3L430.1 198.8L429.8 199.1L429.5 199.5L429.2 200.0L429.0 200.8L428.9 201.2L428.8 201.9L428.5 202.4L428.2 202.8L427.8 203.1L427.2 203.3L426.5 203.4L426.0 203.5L425.3 203.8L424.8 204.0L424.3 204.2L423.8 204.5L423.5 204.8L423.0 205.2L422.6 205.5L422.2 205.8L421.8 206.2L421.2 206.5L420.8 206.8L420.4 207.0L420.0 207.2L419.5 207.6L419.0 208.0L418.7 208.2L418.2 208.5L417.8 208.8L417.3 209.2L417.0 209.5L416.6 210.0L416.2 210.4L415.8 210.7L415.2 210.9L414.8 211.2L414.5 211.5L414.2 212.0L414.0 212.5L413.6 213.0L413.2 213.2L412.5 213.3L411.8 213.4L411.0 213.4L410.2 213.5L409.5 213.3L409.0 213.1L408.2 213.1L407.8 213.3L407.0 213.5L406.2 213.4L405.5 213.4L405.0 213.6L404.5 213.9L404.1 214.2L403.8 214.5L403.2 214.9L402.8 215.1L402.0 215.2L401.5 215.3L400.8 215.4L400.2 215.6L399.7 215.8L399.0 216.0L398.5 216.2L398.0 216.5L397.5 216.7L397.0 216.9L396.5 217.1L396.0 217.3L395.5 217.5L394.8 217.8L394.2 217.9L393.5 217.9L392.8 218.0L392.2 218.0L391.5 218.1L390.8 218.1L390.0 218.2L389.5 218.4L389.0 218.7L388.5 219.0L388.0 219.1L387.2 219.1L386.5 219.0L386.0 218.9L385.2 218.8L384.8 218.7L384.2 218.8L383.5 218.9L382.8 218.8L382.2 218.6L381.8 218.3L381.2 218.0L380.8 217.8L380.2 217.6L379.8 217.5L379.0 217.5L378.2 217.4L377.8 217.2L377.2 217.0L376.5 216.8L376.0 216.7L375.3 216.5L374.8 216.3L374.2 216.0L373.8 215.8L373.2 215.5L372.8 215.4L372.2 215.2L371.5 215.0L371.0 214.9L370.2 214.9L369.5 214.9L368.8 214.8L368.2 214.6L367.8 214.3L367.5 213.9L367.2 213.5L367.0 213.0L366.5 212.5L366.2 212.2L365.8 211.9L365.3 211.5L365.0 211.2L364.7 210.8L364.2 210.3L363.8 210.0L363.3 209.8L362.8 209.5L362.2 209.3L361.8 209.1L361.2 209.0L360.6 208.8L360.0 208.5L359.5 208.3L359.0 208.1L358.2 208.0L357.5 208.0L357.0 208.0L356.4 207.8L355.9 207.5L355.5 207.2L355.0 207.0L354.5 206.7L354.0 206.4L353.5 206.2L353.0 205.9L352.5 205.6L352.1 205.2L351.8 204.9L351.5 204.5L351.2 204.0L351.0 203.5L350.9 202.8L351.0 202.1L351.2 201.5L351.3 201.0L351.5 200.5L352.0 200.0L352.5 199.8L353.0 199.7L353.5 199.5L354.0 199.1L354.3 198.8L354.7 198.2L355.0 197.8L355.2 197.5L355.8 197.0L356.1 196.8L356.5 196.4L356.9 196.0L357.2 195.6L357.5 195.2L357.9 194.8L358.2 194.4L358.8 194.0L359.2 193.8L359.7 193.5L360.1 193.2L360.5 193.0L361.0 192.7L361.5 192.4L362.0 192.1L362.4 191.8L362.8 191.4L363.1 191.0L363.5 190.5L363.8 190.1L364.0 189.6L364.2 189.2L364.7 188.8L365.0 188.5L365.5 188.2L366.2 188.0L366.8 187.9L367.2 187.7L367.8 187.5L368.2 187.2L368.8 186.9L369.2 186.7L369.8 186.5L370.3 186.2L371.0 186.0L371.5 185.8L372.0 185.6L372.5 185.5L373.2 185.4L374.0 185.3L374.5 185.2L375.2 185.0L375.8 184.9L376.5 184.8L377.2 184.8L377.8 184.7L378.2 184.4L378.6 184.0L379.0 183.5L379.2 183.2L379.8 182.9L380.2 182.7L381.0 182.5L381.5 182.3L381.9 182.0L382.3 181.7L382.8 181.4L383.2 181.2L383.8 181.0L384.5 180.9L385.2 181.0L386.0 180.8L386.5 180.5L386.9 180.2L387.2 180.0L387.8 179.8L388.5 179.6L389.2 179.7L390.0 179.7L390.8 179.6L391.2 179.4L391.8 179.2L392.2 178.9L392.8 178.7L393.4 178.5L394.0 178.2L394.3 178.0L394.8 177.7L395.2 177.4L395.9 177.2Z"/>
<path d="M395.9 179.2L396.5 179.2L397.0 179.3L397.6 179.5L398.2 179.6L398.8 179.5L399.5 179.3L400.0 179.2L400.8 179.2L401.3 179.3L402.0 179.4L402.5 179.6L403.0 179.8L403.8 179.9L404.5 180.0L405.0 180.1L405.6 180.2L406.2 180.5L406.8 180.7L407.2 180.8L408.0 180.8L408.5 180.7L409.2 180.7L409.8 180.8L410.5 180.9L411.0 181.0L411.5 181.2L412.2 181.5L412.8 181.6L413.5 181.7L414.2 181.6L415.0 181.6L415.8 181.6L416.5 181.6L417.2 181.6L418.0 181.6L418.5 181.8L419.2 182.0L419.6 182.2L420.0 182.5L420.5 182.9L420.8 183.2L421.2 183.8L421.5 184.1L421.9 184.5L422.2 184.8L422.8 185.1L423.2 185.4L423.8 185.6L424.2 185.9L424.8 186.1L425.2 186.3L426.0 186.5L426.4 186.8L426.8 187.1L427.0 187.7L427.1 188.2L427.2 188.8L427.4 189.5L427.5 190.0L427.6 190.8L427.8 191.3L427.9 192.0L428.1 192.5L428.3 193.0L428.5 193.5L428.7 194.2L428.5 194.8L428.2 195.2L427.8 195.8L427.6 196.2L427.5 196.8L427.3 197.5L427.2 198.0L427.0 198.5L426.7 199.0L426.5 199.5L426.2 200.2L426.0 200.8L425.8 201.2L425.4 201.5L425.0 201.8L424.5 202.2L424.0 202.5L423.6 202.8L423.2 203.1L422.8 203.5L422.5 203.8L422.0 204.2L421.6 204.5L421.0 204.8L420.5 204.9L420.0 205.0L419.2 205.2L418.8 205.4L418.2 205.7L417.9 206.0L417.5 206.4L417.1 206.8L416.8 207.1L416.4 207.5L416.0 207.9L415.6 208.2L415.2 208.5L414.6 208.8L414.0 208.9L413.5 209.1L413.0 209.3L412.5 209.5L412.0 209.9L411.8 210.4L411.5 211.0L411.0 211.2L410.2 211.2L409.5 211.1L408.8 211.2L408.2 211.3L407.6 211.5L407.0 211.6L406.2 211.7L405.8 211.8L405.0 212.0L404.5 212.2L404.0 212.4L403.5 212.5L402.8 212.7L402.2 212.9L401.8 213.1L401.2 213.4L400.8 213.7L400.2 213.9L399.8 214.2L399.2 214.3L398.5 214.5L398.0 214.6L397.5 214.8L397.0 215.0L396.5 215.3L396.0 215.6L395.5 215.9L395.0 216.0L394.2 216.1L393.5 216.0L392.8 216.1L392.0 216.2L391.5 216.3L390.8 216.4L390.0 216.5L389.5 216.5L388.9 216.8L388.4 217.0L387.8 217.2L387.2 217.4L386.5 217.3L386.0 217.2L385.2 217.0L384.5 217.1L383.8 217.2L383.0 217.2L382.2 217.1L381.8 216.9L381.2 216.5L380.9 216.2L380.5 216.0L379.8 215.8L379.2 215.7L378.5 215.6L378.0 215.5L377.3 215.2L376.8 215.1L376.2 215.0L375.5 214.8L375.0 214.7L374.4 214.5L373.8 214.2L373.3 214.0L373.0 213.8L372.5 213.2L372.2 212.8L372.0 212.4L371.5 212.1L371.0 211.9L370.2 211.8L369.5 212.0L369.0 212.0L368.5 211.9L368.0 211.6L367.5 211.3L367.0 211.0L366.6 210.8L366.2 210.4L365.9 210.0L365.5 209.6L365.1 209.2L364.8 208.9L364.2 208.5L363.9 208.2L363.5 208.0L363.0 207.7L362.5 207.4L362.0 207.2L361.5 207.0L361.0 206.8L360.5 206.5L359.9 206.2L359.2 206.1L358.5 206.0L357.8 206.0L357.0 206.0L356.5 205.9L356.0 205.7L355.5 205.5L355.0 205.0L354.7 204.8L354.4 204.2L354.2 203.8L354.1 203.0L354.2 202.2L354.5 201.9L354.8 201.5L355.2 201.2L355.7 200.8L355.9 200.2L356.0 199.8L356.1 199.0L356.3 198.5L356.6 198.0L357.0 197.5L357.3 197.2L357.8 196.9L358.2 196.5L358.6 196.2L359.0 196.0L359.5 195.6L359.9 195.2L360.4 195.0L361.0 194.8L361.5 194.5L362.0 194.3L362.3 194.0L362.7 193.6L363.0 193.2L363.4 192.8L363.8 192.3L364.0 192.0L364.5 191.6L364.8 191.2L365.2 190.8L365.4 190.2L365.8 189.8L366.2 189.5L366.8 189.5L367.5 189.4L368.0 189.2L368.5 189.0L369.0 188.7L369.5 188.3L370.0 188.1L370.5 187.9L371.2 187.8L371.8 187.8L372.5 187.6L373.0 187.3L373.4 187.0L373.9 186.8L374.5 186.5L375.0 186.4L375.5 186.2L376.2 186.2L377.0 186.2L377.8 186.2L378.2 186.0L378.8 185.7L379.2 185.4L379.8 185.1L380.2 184.9L380.8 184.6L381.2 184.4L381.7 184.0L382.0 183.8L382.5 183.3L382.8 183.0L383.2 182.6L383.8 182.4L384.5 182.3L385.1 182.5L385.8 182.5L386.2 182.4L386.8 182.1L387.1 181.8L387.5 181.5L388.0 181.2L388.8 181.0L389.5 181.0L390.0 181.0L390.8 180.9L391.2 180.7L392.0 180.6L392.5 180.5L393.2 180.3L393.8 180.1L394.2 179.9L394.8 179.7L395.3 179.5L395.9 179.2Z"/>
<path d="M400.6 181.0L401.2 180.9L401.8 181.0L402.3 181.2L403.0 181.4L403.5 181.5L404.2 181.7L404.8 181.9L405.2 182.2L405.7 182.5L406.2 182.7L406.8 182.9L407.5 183.0L408.0 183.1L408.5 183.3L409.2 183.4L409.8 183.2L410.5 183.2L411.0 183.3L411.8 183.5L412.2 183.7L412.8 183.9L413.5 184.0L414.2 183.8L414.8 183.7L415.5 183.5L416.0 183.5L416.7 183.5L417.2 183.6L417.8 183.8L418.3 184.0L418.8 184.3L419.1 184.8L419.5 185.2L419.8 185.6L420.0 186.1L420.2 186.7L420.5 187.1L420.9 187.5L421.3 187.8L422.0 188.0L422.5 188.1L423.1 188.2L423.5 188.5L423.9 189.0L424.1 189.5L424.2 190.2L424.3 190.8L424.4 191.5L424.5 192.0L424.8 192.5L425.0 193.1L425.2 193.8L425.3 194.2L425.2 194.8L425.0 195.2L424.7 195.8L424.5 196.2L424.3 197.0L424.4 197.8L424.3 198.5L424.2 199.0L424.0 199.5L423.7 200.0L423.2 200.4L422.8 200.6L422.2 200.9L421.8 201.1L421.2 201.4L420.8 201.8L420.4 202.0L420.0 202.3L419.5 202.6L419.0 202.8L418.5 203.1L418.0 203.4L417.5 203.7L417.1 204.0L416.8 204.3L416.4 204.8L416.1 205.2L415.8 205.8L415.5 206.2L415.2 206.5L414.8 206.9L414.2 207.1L413.8 207.3L413.2 207.5L412.7 207.8L412.0 208.0L411.5 208.1L410.8 208.2L410.2 208.3L409.8 208.6L409.2 208.9L408.8 209.2L408.3 209.5L408.0 209.8L407.5 210.0L406.8 210.2L406.2 210.3L405.5 210.5L405.0 210.7L404.5 210.8L404.0 211.0L403.2 211.2L402.8 211.3L402.0 211.5L401.5 211.7L401.0 212.0L400.6 212.2L400.2 212.5L399.8 212.8L399.0 212.9L398.2 212.9L397.5 212.9L396.8 212.9L396.2 213.1L395.8 213.4L395.2 213.7L394.8 213.9L394.2 214.0L393.5 214.2L393.0 214.3L392.4 214.5L391.8 214.6L391.2 214.8L390.5 214.9L389.8 215.0L389.2 215.1L388.5 215.2L388.0 215.4L387.5 215.6L386.7 215.7L386.0 215.6L385.2 215.6L384.5 215.7L384.0 215.8L383.2 215.9L382.5 215.8L382.0 215.5L381.6 215.2L381.2 214.9L380.8 214.6L380.3 214.2L379.8 214.0L379.2 213.8L378.8 213.6L378.2 213.5L377.5 213.3L377.0 213.1L376.5 213.0L375.8 212.8L375.2 212.7L374.8 212.3L374.5 211.9L374.2 211.4L373.9 211.0L373.5 210.7L373.0 210.5L372.2 210.4L371.5 210.3L371.0 210.1L370.5 209.9L370.0 209.6L369.6 209.2L369.2 209.0L368.5 208.8L367.8 208.8L367.2 208.8L366.5 208.5L366.1 208.2L365.8 207.9L365.4 207.5L365.0 207.1L364.7 206.8L364.2 206.4L363.8 206.2L363.2 205.9L362.8 205.7L362.2 205.5L361.8 205.2L361.2 204.8L360.9 204.5L360.5 204.2L360.0 203.9L359.5 203.5L359.2 203.2L359.0 202.6L359.0 202.0L358.9 201.2L358.8 200.5L358.9 199.8L359.2 199.2L359.5 198.8L359.8 198.4L360.0 198.0L360.3 197.5L360.7 197.0L361.0 196.7L361.5 196.3L362.0 196.0L362.4 195.8L362.8 195.5L363.2 195.2L363.6 194.8L363.9 194.2L364.2 193.8L364.4 193.2L364.8 192.8L365.0 192.5L365.5 192.1L366.0 191.8L366.3 191.5L366.8 191.2L367.3 191.0L367.9 190.8L368.5 190.5L369.0 190.3L369.5 190.1L370.0 189.9L370.8 189.8L371.2 189.7L371.8 189.5L372.4 189.2L373.0 189.0L373.4 188.8L373.8 188.5L374.2 188.2L374.8 187.8L375.2 187.5L375.8 187.4L376.5 187.3L377.2 187.3L378.0 187.3L378.5 187.2L379.2 187.1L379.8 187.0L380.5 186.9L381.0 186.7L381.5 186.5L382.0 186.2L382.5 185.9L383.0 185.6L383.5 185.3L384.0 185.0L384.4 184.8L385.0 184.5L385.5 184.4L386.0 184.2L386.5 184.0L387.0 183.7L387.5 183.4L388.0 183.0L388.4 182.8L389.0 182.5L389.5 182.4L390.0 182.2L390.8 182.0L391.2 181.9L392.0 181.9L392.8 181.9L393.5 181.9L394.2 181.8L394.8 181.7L395.2 181.8L396.0 181.9L396.5 182.0L397.2 182.1L397.8 182.0L398.5 181.8L399.0 181.7L399.5 181.5L400.0 181.2L400.6 181.0Z"/>
<path d="M390.6 183.2L391.2 183.1L392.0 183.2L392.5 183.3L393.1 183.5L393.8 183.6L394.5 183.5L395.2 183.5L396.0 183.6L396.8 183.6L397.5 183.6L398.2 183.6L398.8 183.5L399.5 183.4L400.0 183.2L400.8 183.1L401.5 183.0L402.2 183.1L403.0 183.2L403.5 183.3L404.2 183.5L404.8 183.6L405.3 183.8L406.0 183.9L406.5 184.1L407.0 184.3L407.5 184.6L408.0 184.9L408.4 185.2L408.9 185.5L409.5 185.7L410.2 185.7L411.0 185.6L411.8 185.7L412.2 185.8L413.0 186.0L413.5 186.1L414.2 186.2L414.8 186.3L415.5 186.4L416.0 186.5L416.5 186.8L417.0 187.2L417.3 187.5L417.8 187.9L418.1 188.2L418.5 188.5L419.0 188.9L419.4 189.2L419.8 189.6L420.2 190.0L420.6 190.2L421.0 190.6L421.5 191.0L421.8 191.2L422.1 191.8L422.3 192.2L422.4 193.0L422.4 193.7L422.2 194.4L422.1 195.0L421.9 195.5L421.9 196.2L421.9 197.0L421.9 197.8L421.8 198.4L421.5 198.8L421.0 199.2L420.5 199.5L420.0 199.7L419.5 199.9L419.0 200.2L418.5 200.4L418.1 200.8L417.8 201.0L417.3 201.5L417.0 201.8L416.5 202.2L416.2 202.5L415.8 203.0L415.5 203.3L415.1 203.8L414.8 204.1L414.5 204.5L414.1 205.0L413.8 205.4L413.2 205.7L412.9 206.0L412.5 206.2L412.0 206.5L411.2 206.7L410.8 206.8L410.0 206.8L409.2 206.9L408.8 207.1L408.2 207.4L407.7 207.7L407.3 208.0L406.9 208.2L406.4 208.5L405.8 208.8L405.2 209.0L404.8 209.2L404.4 209.5L403.9 209.8L403.2 210.0L402.8 210.1L402.0 210.2L401.5 210.3L401.0 210.5L400.5 210.8L400.0 211.1L399.5 211.4L398.8 211.5L398.2 211.5L397.5 211.5L396.8 211.5L396.0 211.6L395.4 211.8L394.8 212.0L394.3 212.2L393.8 212.4L393.2 212.7L392.8 212.9L392.2 213.0L391.5 213.2L391.0 213.4L390.5 213.5L389.8 213.7L389.0 213.7L388.2 213.7L387.5 213.7L387.0 213.8L386.2 213.9L385.8 214.0L385.0 214.1L384.2 214.2L383.5 214.1L383.0 213.9L382.5 213.7L382.0 213.4L381.5 213.2L381.0 212.9L380.5 212.6L380.0 212.4L379.5 212.1L379.0 211.9L378.5 211.6L378.0 211.3L377.5 211.1L377.0 210.9L376.5 210.8L375.9 210.5L375.5 210.2L375.0 209.9L374.5 209.6L374.0 209.4L373.5 209.2L372.8 209.1L372.0 209.0L371.5 208.8L371.0 208.5L370.7 208.2L370.2 207.8L369.9 207.5L369.4 207.2L368.8 207.1L368.0 207.1L367.3 207.0L366.9 206.8L366.5 206.4L366.2 206.0L365.8 205.6L365.3 205.2L364.8 205.0L364.2 204.8L363.8 204.5L363.3 204.2L363.0 204.0L362.6 203.5L362.3 203.0L362.0 202.6L361.7 202.2L361.4 201.8L361.1 201.2L361.0 200.8L361.0 200.2L361.2 199.5L361.4 199.0L361.6 198.5L361.8 198.0L362.2 197.5L362.5 197.2L363.0 196.8L363.5 196.5L363.9 196.2L364.3 196.0L364.7 195.5L365.0 195.1L365.2 194.6L365.5 194.1L365.8 193.7L366.2 193.3L366.7 193.0L367.1 192.8L367.5 192.4L368.0 192.1L368.5 191.8L369.0 191.6L369.5 191.4L370.0 191.2L370.8 191.1L371.2 190.9L371.8 190.6L372.2 190.4L372.8 190.1L373.2 189.9L373.8 189.7L374.5 189.5L375.0 189.3L375.4 189.0L375.8 188.7L376.2 188.4L377.0 188.3L377.5 188.2L378.2 188.2L379.0 188.1L379.8 188.0L380.2 188.0L381.0 187.8L381.5 187.5L382.0 187.3L382.5 187.1L383.0 186.8L383.5 186.6L384.0 186.3L384.4 186.0L384.8 185.8L385.2 185.5L385.8 185.2L386.5 185.0L387.0 184.9L387.6 184.8L388.2 184.5L388.6 184.2L389.0 184.0L389.5 183.7L390.0 183.5L390.6 183.2Z"/>
<path d="M390.1 184.5L390.8 184.4L391.5 184.4L392.0 184.6L392.5 184.8L393.2 185.0L393.8 185.0L394.2 185.0L395.0 184.9L395.6 184.8L396.2 184.6L397.0 184.5L397.8 184.5L398.5 184.6L399.2 184.7L400.0 184.6L400.8 184.5L401.5 184.5L402.2 184.5L403.0 184.6L403.8 184.7L404.5 184.7L405.0 184.9L405.5 185.0L406.0 185.2L406.5 185.5L407.0 185.8L407.5 186.1L408.0 186.4L408.5 186.6L409.0 186.8L409.8 186.9L410.5 186.9L411.2 187.0L411.8 187.1L412.3 187.2L412.9 187.5L413.5 187.7L414.0 187.9L414.5 188.1L415.0 188.2L415.6 188.5L416.0 188.8L416.5 189.2L416.8 189.5L417.2 190.0L417.5 190.3L417.9 190.8L418.2 191.2L418.5 191.7L418.8 192.0L419.1 192.5L419.3 193.0L419.6 193.5L419.8 194.0L420.0 194.8L419.9 195.5L419.8 196.2L419.6 196.8L419.4 197.2L419.1 197.8L418.8 198.1L418.2 198.4L417.8 198.7L417.3 199.0L416.8 199.2L416.3 199.5L415.9 199.8L415.5 200.2L415.2 200.6L414.9 201.0L414.5 201.4L414.0 201.7L413.5 201.8L412.8 201.9L412.2 202.1L411.7 202.4L411.5 202.8L411.2 203.2L410.9 203.8L410.7 204.2L410.3 204.7L409.8 205.0L409.2 205.2L408.8 205.4L408.2 205.5L407.7 205.8L407.2 206.0L406.8 206.4L406.2 206.7L405.8 207.0L405.2 207.2L404.8 207.5L404.2 207.7L403.8 208.0L403.5 208.2L403.0 208.5L402.2 208.7L401.8 208.8L401.0 208.9L400.4 209.0L399.8 209.2L399.2 209.4L398.8 209.5L398.0 209.7L397.5 209.9L397.0 210.0L396.2 210.2L395.8 210.3L395.2 210.5L394.6 210.8L394.0 210.9L393.5 211.1L392.8 211.2L392.2 211.4L391.8 211.6L391.2 211.8L390.7 212.0L390.0 212.2L389.2 212.2L388.5 212.1L388.0 212.0L387.3 212.0L386.8 212.1L386.2 212.3L385.5 212.4L384.8 212.3L384.2 212.1L383.8 211.8L383.2 211.5L382.8 211.3L382.2 211.1L381.8 210.9L381.2 210.7L380.8 210.5L380.1 210.2L379.5 210.1L379.0 210.0L378.2 209.8L377.8 209.7L377.0 209.5L376.5 209.3L376.0 209.0L375.7 208.8L375.2 208.4L374.8 208.1L374.2 207.9L373.5 207.8L373.0 207.7L372.3 207.5L372.0 207.2L371.6 206.8L371.2 206.4L370.8 206.0L370.2 205.8L369.8 205.7L369.0 205.6L368.5 205.5L367.9 205.2L367.5 205.0L367.0 204.5L366.7 204.2L366.2 203.8L366.0 203.5L365.6 203.0L365.2 202.6L365.0 202.2L364.6 201.8L364.3 201.2L364.1 200.8L364.0 200.0L364.1 199.2L364.5 198.8L364.8 198.5L365.1 198.0L365.3 197.5L365.6 197.0L365.8 196.5L366.0 196.0L366.3 195.5L366.7 195.0L367.1 194.8L367.5 194.5L368.0 194.2L368.5 193.9L368.9 193.5L369.2 193.2L369.8 192.8L370.1 192.5L370.5 192.2L371.0 192.0L371.5 191.7L372.0 191.4L372.5 191.1L373.0 190.8L373.5 190.7L374.2 190.6L375.0 190.6L375.5 190.5L376.0 190.2L376.5 189.9L377.0 189.5L377.4 189.2L378.0 189.1L378.5 189.0L379.2 188.9L380.0 188.8L380.5 188.7L381.2 188.5L381.7 188.2L382.2 188.0L382.8 187.8L383.2 187.5L383.8 187.3L384.2 187.0L384.7 186.8L385.0 186.5L385.5 186.2L386.0 186.0L386.8 185.8L387.2 185.7L388.0 185.6L388.5 185.4L389.0 185.1L389.5 184.8L390.0 184.5Z"/>
<path d="M396.6 185.5L397.2 185.4L398.0 185.4L398.6 185.5L399.2 185.7L399.8 185.8L400.5 186.0L401.0 186.1L401.8 186.0L402.2 186.0L403.0 185.9L403.5 186.0L404.2 186.2L404.5 186.5L405.0 186.9L405.5 187.2L406.0 187.5L406.5 187.6L407.2 187.7L407.8 187.8L408.5 188.0L409.0 188.1L409.8 188.2L410.2 188.3L411.0 188.4L411.5 188.6L412.0 188.8L412.5 189.0L413.0 189.3L413.5 189.6L414.0 189.9L414.5 190.1L415.0 190.4L415.3 190.8L415.6 191.2L415.8 191.8L415.9 192.5L416.1 193.0L416.2 193.8L416.3 194.2L416.2 194.9L416.0 195.4L415.7 195.8L415.4 196.2L415.1 196.8L414.8 197.2L414.5 197.5L414.0 197.9L413.7 198.2L413.3 198.8L413.0 199.1L412.6 199.5L412.2 199.8L411.8 200.2L411.3 200.5L410.9 200.8L410.5 201.1L410.1 201.5L409.8 201.9L409.5 202.4L409.2 202.9L409.0 203.3L408.5 203.7L408.0 203.9L407.5 204.2L407.0 204.4L406.5 204.8L406.2 205.0L405.8 205.4L405.3 205.8L404.9 206.0L404.5 206.2L404.0 206.5L403.4 206.8L402.8 207.0L402.2 207.1L401.5 207.2L401.0 207.3L400.4 207.5L399.9 207.8L399.4 208.0L398.8 208.2L398.2 208.4L397.6 208.5L397.0 208.7L396.5 208.8L396.0 209.0L395.5 209.2L394.9 209.5L394.4 209.8L393.8 209.9L393.0 210.0L392.5 210.0L391.8 210.1L391.2 210.3L390.5 210.5L390.0 210.6L389.2 210.6L388.8 210.5L388.0 210.3L387.5 210.2L386.8 210.2L386.2 210.3L385.8 210.5L385.1 210.8L384.5 210.8L384.0 210.7L383.3 210.5L382.8 210.3L382.2 210.0L381.8 209.8L381.3 209.5L380.9 209.2L380.3 209.0L379.8 208.8L379.2 208.7L378.5 208.5L378.0 208.4L377.5 208.2L377.0 207.9L376.5 207.5L376.2 207.2L375.8 206.9L375.2 206.6L374.8 206.3L374.3 206.0L373.8 205.8L373.4 205.5L372.9 205.2L372.4 205.0L371.8 204.8L371.3 204.5L370.8 204.2L370.2 204.0L369.8 203.8L369.2 203.6L368.8 203.3L368.2 203.0L367.9 202.8L367.5 202.3L367.2 201.9L367.1 201.2L367.2 200.5L367.4 200.0L367.6 199.5L367.8 199.0L367.8 198.2L367.8 197.6L367.7 197.0L367.7 196.2L368.0 195.8L368.2 195.5L368.8 195.1L369.2 194.8L369.8 194.6L370.2 194.3L370.5 194.0L370.9 193.5L371.2 193.1L371.5 192.8L372.0 192.4L372.4 192.0L372.8 191.8L373.3 191.5L374.0 191.4L374.8 191.4L375.5 191.4L376.1 191.2L376.6 191.0L377.1 190.8L377.5 190.5L378.0 190.2L378.7 190.0L379.2 189.8L379.8 189.7L380.5 189.6L381.0 189.4L381.5 189.2L382.0 188.9L382.5 188.7L383.0 188.4L383.5 188.2L384.2 188.0L384.7 187.8L385.1 187.5L385.5 187.2L386.0 187.0L386.8 186.8L387.5 186.9L388.2 186.9L388.8 186.7L389.2 186.4L389.7 186.0L390.1 185.8L390.8 185.6L391.4 185.8L392.0 186.0L392.5 186.2L393.0 186.3L393.8 186.4L394.5 186.4L395.0 186.2L395.5 186.0L396.0 185.8L396.6 185.5Z"/>
<path d="M396.9 186.5L397.5 186.3L398.2 186.4L398.8 186.6L399.3 186.8L399.8 187.1L400.2 187.4L400.8 187.6L401.5 187.6L402.2 187.5L402.8 187.4L403.2 187.6L403.8 187.8L404.2 188.2L404.6 188.5L405.0 188.8L405.7 189.0L406.2 189.2L406.8 189.3L407.5 189.4L408.0 189.5L408.7 189.8L409.1 190.0L409.5 190.4L409.9 190.8L410.2 191.1L410.7 191.5L411.0 191.8L411.5 192.2L411.8 192.5L412.1 193.0L412.3 193.5L412.5 194.1L412.6 194.8L412.7 195.5L412.5 196.2L412.2 196.7L412.0 197.1L411.8 197.5L411.5 198.0L411.1 198.5L410.8 198.9L410.4 199.2L410.0 199.5L409.5 199.9L409.1 200.2L408.8 200.6L408.4 201.0L408.0 201.3L407.5 201.8L407.2 202.0L406.8 202.5L406.5 202.8L406.1 203.2L405.8 203.7L405.4 204.0L405.0 204.4L404.6 204.8L404.2 205.0L403.8 205.4L403.2 205.6L402.8 205.8L402.0 205.9L401.2 206.0L400.8 206.0L400.2 206.2L399.7 206.5L399.2 206.8L398.8 207.1L398.0 207.2L397.5 207.3L396.8 207.5L396.2 207.6L395.8 207.9L395.2 208.2L394.8 208.4L394.2 208.6L393.7 208.8L393.0 208.8L392.5 208.7L391.8 208.7L391.0 208.7L390.5 208.8L389.8 208.8L389.0 208.8L388.2 208.8L387.5 208.9L386.7 209.0L386.2 209.1L385.6 209.2L385.0 209.5L384.5 209.6L383.8 209.6L383.2 209.5L382.6 209.2L382.1 209.0L381.8 208.7L381.2 208.4L380.8 208.1L380.2 207.8L379.8 207.6L379.2 207.4L378.7 207.2L378.0 207.0L377.5 206.8L377.1 206.5L376.7 206.2L376.2 206.0L375.8 205.6L375.3 205.2L375.0 204.9L374.7 204.5L374.2 204.1L373.8 203.8L373.2 203.5L372.8 203.3L372.2 203.1L371.8 202.7L371.5 202.5L371.0 202.0L370.7 201.8L370.3 201.2L370.2 200.8L370.2 200.0L370.2 199.2L370.0 198.5L369.9 198.0L369.9 197.2L370.0 196.8L370.4 196.2L370.8 195.8L371.1 195.5L371.5 195.0L371.8 194.6L372.0 194.2L372.3 193.8L372.7 193.2L373.0 192.9L373.5 192.6L374.0 192.4L374.8 192.4L375.5 192.3L376.0 192.2L376.5 192.0L377.0 191.7L377.6 191.5L378.2 191.4L378.8 191.2L379.5 191.0L380.0 190.8L380.5 190.5L381.0 190.4L381.5 190.2L382.0 190.0L382.5 189.6L383.0 189.3L383.5 189.1L384.0 189.0L384.8 188.8L385.2 188.7L385.8 188.5L386.5 188.3L387.2 188.3L388.0 188.3L388.5 188.1L389.0 187.9L389.5 187.7L390.0 187.5L390.8 187.3L391.5 187.3L392.2 187.4L393.0 187.5L393.5 187.5L394.3 187.6L394.9 187.5L395.5 187.3L396.0 187.0L396.4 186.8L396.9 186.5Z"/>
<path d="M397.0 188.0L397.8 187.9L398.3 188.0L398.8 188.3L399.2 188.8L399.5 189.0L400.0 189.4L400.5 189.5L401.2 189.6L402.0 189.7L402.5 189.8L403.2 189.9L403.8 190.0L404.5 190.2L405.0 190.3L405.6 190.5L406.2 190.8L406.7 191.0L407.1 191.2L407.5 191.6L407.8 192.0L408.1 192.5L408.3 193.0L408.6 193.5L408.8 194.0L409.0 194.8L409.0 195.2L409.0 195.7L408.8 196.5L408.5 196.8L408.0 197.2L407.6 197.5L407.2 197.9L407.0 198.2L406.7 198.8L406.5 199.4L406.2 199.9L406.0 200.2L405.6 200.8L405.2 201.2L405.0 201.6L404.8 202.2L404.6 202.8L404.3 203.2L404.0 203.6L403.7 204.0L403.2 204.4L402.8 204.7L402.2 204.9L401.5 205.0L401.0 205.0L400.2 205.1L399.8 205.3L399.2 205.5L398.7 205.8L398.0 205.9L397.5 206.1L396.8 206.2L396.2 206.4L395.8 206.7L395.2 207.0L394.8 207.2L394.2 207.4L393.5 207.5L392.8 207.3L392.2 207.0L391.8 206.8L391.2 206.7L390.5 206.7L390.0 206.8L389.4 207.0L388.9 207.2L388.2 207.5L387.8 207.6L387.0 207.7L386.5 207.8L385.8 207.9L385.0 208.0L384.5 208.0L383.8 208.0L383.2 208.0L382.6 207.8L382.2 207.5L381.7 207.2L381.1 207.0L380.5 206.8L380.0 206.5L379.5 206.4L379.0 206.2L378.2 206.0L377.8 205.8L377.3 205.5L377.0 205.2L376.5 204.8L376.3 204.2L376.0 203.8L375.8 203.3L375.5 203.0L375.0 202.6L374.5 202.3L374.0 202.0L373.5 201.8L373.1 201.5L372.8 201.1L372.5 200.5L372.4 200.0L372.2 199.5L372.0 198.8L371.9 198.2L371.9 197.5L372.0 196.9L372.2 196.2L372.5 195.8L372.9 195.5L373.5 195.3L374.2 195.3L375.0 195.3L375.5 195.0L375.9 194.8L376.2 194.3L376.5 193.8L376.8 193.3L377.0 193.0L377.5 192.6L378.0 192.4L378.8 192.3L379.2 192.1L379.8 191.9L380.2 191.6L380.8 191.4L381.3 191.2L382.0 191.1L382.5 190.9L383.0 190.6L383.5 190.2L384.0 190.0L384.5 189.9L385.2 189.8L385.8 189.7L386.3 189.5L387.0 189.3L387.6 189.2L388.2 189.1L388.8 189.0L389.5 188.8L390.0 188.6L390.7 188.5L391.5 188.5L392.0 188.5L392.8 188.4L393.5 188.4L394.2 188.4L395.0 188.4L395.8 188.4L396.3 188.2L397.0 188.0Z"/>
<path d="M394.0 189.2L394.5 189.2L395.0 189.3L395.8 189.4L396.5 189.5L397.0 189.6L397.5 189.8L398.2 190.0L398.7 190.2L399.1 190.5L399.6 190.8L400.2 191.0L400.8 191.1L401.5 191.1L402.2 191.2L402.8 191.2L403.5 191.4L404.0 191.6L404.5 191.8L405.0 192.0L405.5 192.4L405.8 192.8L406.1 193.2L406.4 193.8L406.5 194.5L406.4 195.2L406.2 195.8L406.0 196.2L405.7 196.8L405.5 197.2L405.2 197.8L405.0 198.2L404.8 198.8L404.5 199.4L404.2 199.8L404.0 200.3L403.7 200.8L403.3 201.2L403.0 201.8L402.8 202.2L402.5 202.7L402.2 203.1L401.9 203.5L401.4 203.8L400.8 203.9L400.2 204.1L399.7 204.2L399.0 204.5L398.5 204.6L398.0 204.8L397.2 205.0L396.8 205.2L396.2 205.4L395.8 205.6L395.2 205.8L394.5 205.9L393.8 205.8L393.2 205.6L392.8 205.3L392.2 205.2L391.5 205.1L390.8 205.1L390.0 205.1L389.2 205.0L388.6 205.2L388.2 205.5L387.8 205.8L387.2 206.0L386.5 206.1L385.8 206.1L385.2 206.0L384.5 205.8L384.0 205.6L383.2 205.5L382.5 205.7L382.0 205.8L381.2 205.8L380.8 205.6L380.2 205.5L379.5 205.2L379.0 205.1L378.5 204.9L378.0 204.6L377.7 204.2L377.4 203.8L377.1 203.2L376.8 202.8L376.5 202.3L376.2 202.0L375.8 201.5L375.4 201.2L375.0 200.9L374.7 200.5L374.4 200.0L374.1 199.5L374.0 199.0L374.0 198.2L374.1 197.8L374.4 197.2L374.8 197.0L375.2 196.7L375.8 196.4L376.2 196.1L376.8 195.8L377.1 195.5L377.5 195.0L377.8 194.6L378.0 194.2L378.4 193.8L378.8 193.5L379.2 193.2L379.8 193.0L380.2 192.7L380.8 192.5L381.5 192.3L382.0 192.2L382.8 192.0L383.2 191.8L383.8 191.5L384.2 191.3L384.8 191.1L385.2 190.9L385.8 190.8L386.4 190.5L387.0 190.3L387.5 190.1L388.0 190.0L388.8 189.8L389.2 189.7L390.0 189.7L390.8 189.7L391.3 189.8L391.9 189.8L392.5 189.6L393.0 189.4L393.8 189.3Z"/>
<path d="M389.1 190.8L389.5 190.8L390.2 190.9L390.8 191.0L391.5 191.2L392.0 191.3L392.8 191.3L393.2 191.2L394.0 191.0L394.5 190.9L395.2 190.9L395.8 191.1L396.2 191.3L396.9 191.5L397.5 191.6L398.1 191.8L398.8 191.9L399.2 192.1L399.8 192.3L400.2 192.5L401.0 192.7L401.5 192.8L402.2 192.9L402.8 193.0L403.2 193.5L403.5 194.0L403.5 194.5L403.6 195.2L403.7 196.0L403.6 196.8L403.4 197.2L403.2 197.8L403.0 198.3L402.8 198.8L402.4 199.2L402.0 199.7L401.6 200.0L401.2 200.3L400.8 200.7L400.4 201.0L400.1 201.5L399.8 202.0L399.6 202.5L399.2 202.9L398.8 203.2L398.2 203.4L397.8 203.6L397.1 203.8L396.5 203.9L396.0 204.1L395.5 204.3L394.8 204.4L394.0 204.3L393.5 204.2L392.8 204.0L392.2 204.0L391.5 203.9L390.8 203.9L390.0 203.8L389.5 203.7L388.8 203.7L388.2 203.9L387.8 204.2L387.2 204.5L386.8 204.7L386.2 204.8L385.7 204.8L385.0 204.5L384.5 204.3L384.0 204.1L383.5 204.0L382.8 203.9L382.0 203.8L381.5 203.7L381.0 203.4L380.5 203.0L380.0 202.8L379.5 202.6L379.0 202.3L378.7 202.0L378.2 201.6L377.9 201.2L377.5 200.9L377.1 200.5L376.8 200.1L376.5 199.7L376.3 199.0L376.2 198.7L376.5 198.0L376.8 197.7L377.2 197.2L377.6 197.0L378.0 196.7L378.5 196.3L378.8 196.0L379.2 195.5L379.5 195.2L380.0 194.8L380.3 194.5L380.8 194.2L381.2 193.9L381.8 193.7L382.2 193.5L382.8 193.2L383.4 193.0L383.8 192.8L384.3 192.5L385.0 192.2L385.5 192.1L386.0 192.0L386.6 191.8L387.1 191.5L387.5 191.2L388.0 191.0L388.8 190.8Z"/>
<path d="M390.0 192.2L390.5 192.2L391.2 192.2L391.8 192.3L392.5 192.4L393.2 192.5L393.8 192.6L394.5 192.7L395.0 192.8L395.8 192.9L396.2 193.0L397.0 193.2L397.5 193.3L398.2 193.3L399.0 193.5L399.5 193.7L399.9 194.0L400.2 194.4L400.5 194.8L400.7 195.5L400.8 196.0L400.8 196.8L400.7 197.2L400.5 197.9L400.2 198.5L400.0 198.9L399.6 199.2L399.2 199.6L398.8 199.9L398.2 200.2L397.8 200.5L397.3 200.8L396.8 201.0L396.3 201.2L395.8 201.5L395.5 201.8L395.0 202.2L394.7 202.5L394.2 202.8L393.5 202.9L392.8 202.8L392.2 202.7L391.5 202.6L390.8 202.6L390.0 202.6L389.2 202.6L388.5 202.7L388.0 202.8L387.4 203.0L386.8 203.2L386.0 203.1L385.5 202.8L385.1 202.5L384.7 202.2L384.0 202.1L383.5 201.9L382.9 201.8L382.3 201.5L381.8 201.2L381.5 201.0L381.1 200.5L380.8 200.1L380.5 199.7L380.2 199.2L380.1 198.5L380.3 198.0L380.6 197.5L381.0 197.0L381.2 196.7L381.5 196.2L381.8 195.8L382.2 195.2L382.5 194.9L383.0 194.5L383.4 194.2L383.8 194.0L384.2 193.7L384.8 193.5L385.3 193.2L386.0 193.1L386.8 193.1L387.5 193.1L388.2 193.0L388.7 192.8L389.2 192.5L389.8 192.3Z"/>
<path d="M391.3 193.2L392.0 193.2L392.5 193.3L393.2 193.4L393.8 193.5L394.5 193.7L395.0 193.8L395.5 194.0L396.1 194.2L396.6 194.5L397.1 194.8L397.7 195.0L398.1 195.2L398.5 195.8L398.4 196.5L398.1 197.0L397.8 197.5L397.5 197.8L397.1 198.2L396.8 198.6L396.2 198.9L395.8 199.1L395.1 199.2L394.5 199.4L394.0 199.7L393.7 200.0L393.4 200.5L393.0 200.9L392.5 201.1L391.8 201.2L391.2 201.3L390.5 201.4L389.8 201.4L389.1 201.2L388.5 201.1L387.8 201.2L387.2 201.2L386.8 201.2L386.0 201.0L385.5 200.8L385.1 200.5L384.6 200.2L384.2 200.0L383.9 199.5L383.7 199.0L383.7 198.2L383.8 197.8L384.0 197.2L384.2 196.5L384.3 196.0L384.5 195.4L384.8 195.0L385.2 194.6L385.8 194.4L386.5 194.3L387.2 194.3L387.8 194.2L388.5 194.1L389.0 194.0L389.7 193.8L390.2 193.5L390.8 193.4L391.3 193.2Z"/>
<path d="M390.8 194.5L391.5 194.4L392.2 194.4L393.0 194.5L393.5 194.6L394.0 194.8L394.5 195.1L395.0 195.5L395.1 196.0L395.0 196.6L394.8 197.1L394.4 197.5L394.0 197.8L393.5 198.1L393.0 198.4L392.5 198.7L392.1 199.0L391.6 199.2L391.0 199.5L390.5 199.6L389.8 199.5L389.2 199.4L388.5 199.3L388.0 199.2L387.2 199.2L386.5 199.0L386.1 198.8L385.9 198.2L386.1 197.8L386.3 197.2L386.6 196.8L387.0 196.2L387.2 196.0L387.8 195.6L388.2 195.3L388.8 195.1L389.2 194.9L389.8 194.7L390.5 194.6Z"/>
</g>
<g clip-path="url(#crt)" fill="none" stroke="#0a0a0a" stroke-width="0.85" stroke-linejoin="round">
<path d="M480.1 72.2L480.8 72.2L481.5 72.1L482.2 72.1L483.0 72.2L483.5 72.3L484.0 72.6L484.4 73.0L484.8 73.4L485.0 73.9L485.2 74.3L485.5 74.8L486.0 75.2L486.2 75.5L486.7 76.0L487.0 76.4L487.2 76.9L487.5 77.5L487.6 78.0L487.6 78.8L487.5 79.3L487.4 80.0L487.4 80.8L487.4 81.5L487.5 82.2L487.5 82.8L487.6 83.5L487.7 84.2L487.8 84.8L487.9 85.5L487.8 86.2L487.8 86.9L487.7 87.5L487.5 88.2L487.3 88.8L487.1 89.2L486.9 89.8L486.6 90.2L486.5 90.8L486.2 91.3L486.0 92.0L485.9 92.5L485.8 93.2L485.6 93.8L485.2 94.2L484.9 94.5L484.5 94.9L484.2 95.2L484.0 95.8L484.0 96.5L483.9 97.2L483.7 97.8L483.3 98.2L483.0 98.5L482.6 99.0L482.3 99.5L482.2 100.0L482.3 100.5L482.3 101.2L482.3 102.0L482.2 102.5L482.1 103.2L482.0 104.0L481.8 104.5L481.6 105.0L481.4 105.5L481.2 106.0L481.1 106.8L481.0 107.5L480.9 108.0L480.8 108.7L480.5 109.1L480.2 109.5L479.8 110.0L479.5 110.3L479.2 110.8L479.0 111.5L479.0 111.8L479.0 112.5L479.0 113.2L478.9 113.8L478.8 114.3L478.5 114.9L478.2 115.3L478.0 115.8L477.6 116.2L477.3 116.8L477.1 117.2L476.9 117.8L476.6 118.2L476.3 118.8L476.0 119.2L475.8 119.7L475.6 120.2L475.7 121.0L475.8 121.5L475.9 122.2L475.9 123.0L475.8 123.8L475.7 124.2L475.6 125.0L475.5 125.7L475.3 126.2L475.1 126.8L474.8 127.2L474.5 127.7L474.2 128.0L473.9 128.5L473.7 129.0L473.4 129.5L473.1 130.0L472.8 130.5L472.5 130.9L472.2 131.4L472.0 131.8L471.6 132.2L471.2 132.7L471.0 133.0L470.6 133.5L470.3 134.0L470.1 134.5L469.9 135.0L469.6 135.5L469.3 136.0L469.0 136.4L468.6 136.8L468.2 137.2L468.0 137.5L467.8 138.2L467.6 138.8L467.5 139.2L467.2 139.8L466.9 140.2L466.5 140.6L466.0 140.9L465.5 141.2L465.0 141.5L464.7 141.8L464.3 142.2L464.0 142.8L463.8 143.2L463.6 143.8L463.4 144.2L463.2 144.8L462.8 145.2L462.5 145.7L462.2 146.1L462.0 146.5L461.7 147.0L461.3 147.5L461.0 147.9L460.7 148.2L460.3 148.8L460.0 149.1L459.7 149.5L459.2 149.9L459.0 150.2L458.7 150.8L458.4 151.2L458.0 151.7L457.8 152.1L457.5 152.6L457.4 153.2L457.3 154.0L457.3 154.8L457.2 155.2L457.1 156.0L457.1 156.8L457.2 157.5L457.2 158.2L457.1 159.0L457.2 159.8L457.3 160.2L457.5 160.8L457.8 161.2L458.1 161.8L458.3 162.2L458.5 162.8L458.8 163.4L458.8 164.0L459.0 164.8L459.1 165.2L459.2 166.0L459.2 166.8L459.1 167.5L459.0 168.2L459.1 169.0L459.2 169.8L459.1 170.5L459.0 171.2L459.0 171.8L459.0 172.2L459.2 173.0L459.4 173.5L459.6 174.0L459.8 174.7L459.8 175.2L460.0 176.0L460.1 176.5L460.1 177.2L460.1 178.0L460.1 178.8L460.1 179.5L460.2 180.2L460.1 181.0L460.0 181.5L459.7 182.0L459.3 182.5L459.1 183.0L459.0 183.5L458.9 184.2L458.9 185.0L458.9 185.8L458.9 186.5L458.7 187.0L458.4 187.5L458.2 188.0L457.9 188.5L457.8 189.2L457.7 189.8L457.8 190.3L457.8 191.0L457.7 191.5L457.5 192.2L457.3 192.8L457.0 193.2L456.8 193.5L456.4 194.0L456.1 194.5L455.8 195.0L455.5 195.3L455.0 195.5L454.5 195.5L454.0 195.1L453.8 194.6L453.5 194.0L453.4 193.5L453.5 192.9L453.5 192.3L453.3 191.8L452.9 191.8L452.6 192.2L452.6 193.0L452.6 193.8L452.3 194.2L452.0 194.8L451.8 195.2L451.5 195.6L451.2 196.1L451.0 196.7L450.8 197.2L450.5 197.8L450.3 198.2L450.1 198.8L449.9 199.2L449.8 199.8L449.7 200.5L449.6 201.2L449.5 202.0L449.4 202.5L449.2 203.0L449.0 203.5L448.8 204.1L448.5 204.7L448.2 205.2L447.9 205.5L447.4 205.8L446.8 205.8L446.2 206.0L445.8 206.3L445.3 206.8L445.0 207.1L444.7 207.5L444.3 208.0L444.0 208.5L443.8 208.8L443.4 209.2L443.0 209.7L442.5 209.9L441.8 209.9L441.1 210.0L440.5 210.2L440.2 210.5L439.8 210.9L439.4 211.2L439.0 211.5L438.5 211.9L438.2 212.2L437.9 212.8L437.7 213.2L437.4 213.8L437.0 214.1L436.5 214.4L436.0 214.6L435.5 214.8L435.0 215.1L434.6 215.5L434.2 215.8L433.9 216.2L433.5 216.7L433.2 217.1L432.9 217.5L432.5 218.0L432.2 218.2L431.8 218.6L431.2 218.9L430.8 219.2L430.2 219.4L429.8 219.6L429.2 219.8L428.7 220.0L428.2 220.3L427.8 220.7L427.5 221.0L427.0 221.4L426.5 221.7L426.0 222.0L425.6 222.2L425.2 222.5L424.8 222.8L424.2 223.2L423.8 223.5L423.4 223.8L423.0 224.0L422.5 224.2L421.8 224.3L421.0 224.3L420.2 224.3L419.7 224.5L419.2 224.8L418.8 225.2L418.5 225.6L418.2 226.0L417.8 226.5L417.5 226.9L417.2 227.3L416.8 227.8L416.5 228.1L416.0 228.5L415.5 228.8L415.0 228.9L414.5 229.0L413.8 229.0L413.0 229.0L412.2 229.1L411.5 229.2L410.8 229.2L410.0 229.1L409.4 229.2L408.9 229.5L408.5 229.8L408.0 230.0L407.2 230.2L406.8 230.3L406.3 230.2L405.5 230.1L404.8 230.2L404.2 230.3L403.7 230.5L403.2 230.7L402.8 231.0L402.2 231.4L401.8 231.6L401.2 231.8L400.5 231.9L399.8 231.9L399.0 231.8L398.5 231.7L397.8 231.7L397.0 231.6L396.2 231.7L395.6 231.8L395.0 231.9L394.2 232.0L393.5 232.0L392.8 232.0L392.2 232.1L391.8 232.3L391.2 232.5L390.5 232.7L390.0 232.9L389.5 233.0L388.8 233.2L388.2 233.3L387.5 233.3L386.8 233.3L386.0 233.3L385.2 233.3L384.5 233.3L383.8 233.3L383.1 233.2L382.5 233.2L382.0 233.3L381.2 233.4L380.5 233.5L379.8 233.3L379.4 233.0L379.0 232.7L378.5 232.3L378.0 232.1L377.5 231.9L377.0 231.7L376.2 231.6L375.8 231.5L375.0 231.4L374.2 231.4L373.5 231.4L372.8 231.5L372.0 231.5L371.2 231.3L370.8 231.2L370.1 231.0L369.5 230.9L368.8 231.0L368.2 231.1L367.5 231.2L366.8 231.2L366.0 231.0L365.5 230.9L365.0 230.7L364.4 230.5L363.8 230.2L363.3 230.0L362.9 229.8L362.3 229.5L361.8 229.3L361.2 229.1L360.8 228.9L360.1 228.8L359.5 228.6L358.8 228.5L358.2 228.3L357.8 228.0L357.2 227.8L356.8 227.5L356.4 227.2L356.0 226.9L355.5 226.5L355.2 226.2L354.8 225.8L354.3 225.5L353.8 225.3L353.2 225.2L352.5 225.1L352.0 224.9L351.5 224.6L351.0 224.4L350.4 224.2L349.8 224.0L349.2 223.8L348.9 223.5L348.5 223.2L348.0 223.0L347.5 222.8L346.9 222.5L346.4 222.2L346.0 222.0L345.5 221.6L345.0 221.2L344.6 221.0L344.0 220.8L343.5 220.7L343.0 220.5L342.4 220.2L342.0 220.0L341.5 219.6L341.0 219.3L340.5 219.0L340.0 218.8L339.7 218.5L339.2 218.0L339.0 217.7L338.6 217.2L338.2 216.9L337.8 216.5L337.3 216.2L336.8 216.0L336.2 215.8L335.8 215.6L335.2 215.4L334.8 215.2L334.2 215.0L333.7 214.8L333.2 214.5L332.8 214.1L332.3 213.8L331.9 213.5L331.5 213.1L331.2 212.8L330.8 212.2L330.5 211.8L330.2 211.3L330.0 210.8L329.8 210.4L329.4 210.0L329.0 209.7L328.5 209.4L328.0 209.0L327.8 208.7L327.5 208.2L327.2 207.8L327.0 207.2L326.7 206.8L326.5 206.0L326.4 205.5L326.4 204.8L326.5 204.0L326.6 203.5L326.8 203.0L327.0 202.4L327.2 201.9L327.5 201.4L327.8 201.0L328.1 200.5L328.5 200.0L328.8 199.7L329.2 199.2L329.5 199.0L329.8 198.5L330.2 198.0L330.5 197.5L330.7 197.0L331.0 196.6L331.3 196.2L331.8 195.8L332.2 195.6L332.8 195.4L333.2 195.2L333.8 195.0L334.2 194.7L334.8 194.3L335.0 194.0L335.4 193.5L335.8 193.1L336.0 192.7L336.4 192.2L336.8 191.8L337.0 191.5L337.5 191.2L338.0 191.0L338.8 190.8L339.2 190.7L339.9 190.5L340.4 190.2L340.8 190.0L341.2 189.5L341.5 189.1L341.8 188.7L342.2 188.2L342.6 188.0L343.2 187.8L343.8 187.7L344.2 187.5L344.8 187.2L345.2 186.9L345.8 186.6L346.2 186.2L346.7 186.0L347.2 185.8L347.8 185.5L348.2 185.4L348.8 185.2L349.4 185.0L349.8 184.7L350.1 184.2L350.4 183.8L350.8 183.3L351.1 183.0L351.5 182.7L352.0 182.5L352.5 182.2L353.0 182.0L353.5 181.6L353.8 181.2L354.2 180.8L354.5 180.4L354.9 180.0L355.2 179.6L355.7 179.2L356.1 179.0L356.5 178.7L357.0 178.4L357.5 178.2L358.0 177.9L358.5 177.7L359.0 177.5L359.5 177.1L360.0 176.8L360.4 176.5L361.0 176.3L361.5 176.2L362.2 176.0L362.7 175.8L363.1 175.5L363.5 175.1L363.8 174.8L364.2 174.4L364.7 174.0L365.1 173.8L365.6 173.5L366.1 173.2L366.5 172.9L367.0 172.5L367.2 172.2L367.8 171.9L368.2 171.7L369.0 171.6L369.8 171.7L370.5 171.5L371.0 171.3L371.5 171.1L372.0 170.8L372.5 170.6L373.0 170.3L373.5 170.1L374.0 170.0L374.8 169.9L375.5 169.8L376.0 169.7L376.6 169.5L377.2 169.3L377.8 169.1L378.2 168.9L378.8 168.7L379.2 168.4L379.8 168.0L380.2 167.8L380.8 167.6L381.5 167.6L382.2 167.7L383.0 167.5L383.5 167.3L384.0 167.0L384.4 166.8L384.8 166.5L385.3 166.3L386.0 166.1L386.8 166.0L387.5 166.0L388.0 166.0L388.8 165.8L389.3 165.8L390.0 165.6L390.5 165.4L391.0 165.2L391.5 164.9L392.0 164.7L392.6 164.5L393.2 164.4L393.8 164.2L394.5 164.1L395.0 164.0L395.8 163.9L396.2 163.7L397.0 163.5L397.5 163.3L398.0 163.0L398.5 162.9L399.2 162.9L400.0 163.0L400.5 163.1L401.2 163.1L401.8 163.0L402.5 162.8L403.0 162.7L403.8 162.6L404.2 162.4L404.8 162.1L405.2 162.0L405.8 162.2L406.2 162.5L406.8 162.6L407.3 162.5L407.8 162.1L408.2 161.8L408.6 161.5L409.2 161.3L410.0 161.3L410.8 161.5L411.2 161.7L411.8 161.8L412.5 161.9L413.2 161.8L413.8 161.7L414.5 161.7L415.1 161.8L415.8 161.9L416.2 162.0L417.0 162.2L417.5 162.3L418.2 162.4L419.0 162.4L419.8 162.3L420.5 162.3L421.1 162.5L421.6 162.8L422.0 163.0L422.5 163.3L423.0 163.6L423.6 163.8L424.2 163.9L425.0 163.9L425.8 163.8L426.2 163.7L426.8 163.8L427.4 164.0L427.8 164.2L428.2 164.5L428.8 164.8L429.2 165.0L430.0 165.2L430.5 165.3L431.2 165.5L431.8 165.7L432.2 166.0L432.8 166.1L433.5 166.2L434.2 166.2L435.0 166.2L435.5 166.3L436.0 166.5L436.6 166.8L437.2 167.0L437.8 167.2L438.2 167.5L438.7 167.8L439.0 168.0L439.5 168.5L439.8 168.8L440.2 169.2L440.6 169.5L441.0 169.9L441.3 170.2L441.8 170.7L442.0 171.0L442.5 171.4L443.0 171.7L443.5 172.0L443.8 172.2L444.2 172.6L444.6 173.0L445.0 173.5L445.2 173.9L445.5 174.5L445.7 175.0L446.0 175.5L446.2 176.0L446.5 176.3L446.8 176.8L447.2 177.2L447.5 177.5L448.0 178.0L448.3 178.2L448.8 178.7L449.2 179.0L449.5 179.2L450.0 179.6L450.4 180.0L450.7 180.5L450.9 181.0L451.2 181.5L451.5 181.5L451.5 180.8L451.5 180.2L451.4 179.5L451.4 178.8L451.4 178.0L451.5 177.2L451.6 176.8L451.5 176.0L451.3 175.5L451.0 175.0L450.8 174.6L450.6 174.0L450.5 173.5L450.5 172.8L450.6 172.2L450.7 171.5L450.6 170.8L450.3 170.2L450.0 169.9L449.6 169.5L449.2 169.2L448.9 168.8L448.8 168.2L448.7 167.5L448.6 166.8L448.6 166.0L448.5 165.4L448.3 164.8L448.1 164.2L447.8 163.8L447.5 163.4L447.1 163.0L446.8 162.7L446.2 162.3L445.8 162.0L445.2 161.8L444.8 161.7L444.0 161.7L443.2 161.6L442.8 161.4L442.2 161.2L441.8 160.9L441.2 160.6L440.8 160.4L440.1 160.2L439.5 160.1L439.0 159.9L438.5 159.6L438.0 159.3L437.6 159.0L437.2 158.8L436.7 158.5L436.1 158.2L435.7 158.0L435.2 157.7L434.8 157.3L434.2 157.1L433.8 156.8L433.2 156.6L432.8 156.2L432.5 156.0L432.0 155.6L431.7 155.2L431.3 154.8L431.1 154.2L430.8 153.8L430.6 153.2L430.3 152.8L430.0 152.4L429.6 152.0L429.2 151.5L429.0 151.2L428.7 150.8L428.3 150.2L428.0 149.8L427.8 149.5L427.3 149.0L427.0 148.6L426.8 148.2L426.5 147.8L426.2 147.2L426.0 146.7L425.8 146.0L425.6 145.5L425.7 144.8L425.9 144.2L425.9 143.5L425.8 142.8L425.5 142.3L425.2 141.8L425.1 141.2L424.9 140.8L424.8 140.0L424.7 139.5L424.8 138.9L424.8 138.2L424.9 137.5L425.1 137.0L425.3 136.5L425.5 135.8L425.6 135.2L425.7 134.5L425.7 133.8L425.8 133.2L425.8 132.5L425.9 131.8L426.0 131.0L426.0 130.5L426.1 129.8L426.2 129.1L426.4 128.5L426.5 127.8L426.5 127.2L426.5 126.7L426.4 126.0L426.4 125.2L426.3 124.5L426.2 124.0L426.2 123.2L426.1 122.5L426.0 121.9L425.9 121.2L425.8 120.5L425.7 120.0L425.8 119.5L425.9 118.8L426.0 118.0L426.0 117.5L426.1 116.8L426.2 116.0L426.3 115.5L426.5 114.9L426.9 114.5L427.2 114.1L427.5 113.7L427.9 113.2L428.2 112.8L428.4 112.2L428.7 111.8L428.8 111.2L429.0 110.6L429.2 110.2L429.8 109.9L430.2 109.7L430.8 109.5L431.5 109.3L431.9 109.0L432.2 108.6L432.5 108.1L432.8 107.6L433.0 107.0L433.1 106.5L433.2 105.8L433.2 105.0L433.2 104.3L433.4 103.8L433.6 103.2L434.0 102.8L434.3 102.5L434.7 102.0L435.0 101.6L435.2 101.0L435.3 100.5L435.5 100.0L435.8 99.5L436.2 99.0L436.6 98.8L437.0 98.4L437.4 98.0L437.8 97.5L438.0 97.2L438.3 96.8L438.6 96.2L439.0 95.8L439.2 95.4L439.6 95.0L440.0 94.5L440.2 94.1L440.5 93.8L441.0 93.3L441.3 93.0L441.8 92.6L442.2 92.2L442.6 92.0L443.0 91.7L443.5 91.4L444.0 91.1L444.5 90.8L444.8 90.5L445.2 90.2L445.8 89.8L446.1 89.5L446.5 89.2L446.9 88.8L447.2 88.3L447.5 88.0L447.9 87.5L448.2 87.2L448.8 86.9L449.2 86.6L449.8 86.4L450.2 86.2L450.7 85.8L451.0 85.5L451.5 85.0L451.8 84.7L452.2 84.4L452.8 84.1L453.2 83.9L453.8 83.7L454.3 83.5L455.0 83.2L455.5 83.0L456.0 82.8L456.5 82.6L457.0 82.3L457.5 82.2L458.0 82.0L458.7 81.8L459.2 81.6L459.8 81.3L460.2 81.0L460.7 80.8L461.2 80.5L461.8 80.3L462.2 80.1L462.8 79.9L463.2 79.7L463.8 79.5L464.2 79.2L464.8 79.0L465.4 78.8L465.9 78.5L466.5 78.3L467.0 78.0L467.5 77.8L468.0 77.6L468.5 77.3L468.9 77.0L469.2 76.7L469.8 76.4L470.2 76.1L470.8 75.8L471.3 75.6L471.8 75.4L472.2 75.1L472.8 74.8L473.2 74.5L473.5 74.2L474.0 73.9L474.5 73.7L475.2 73.5L475.8 73.5L476.2 73.5L476.8 73.5L477.5 73.4L478.0 73.2L478.5 72.8L479.0 72.5L479.5 72.3L480.1 72.2Z"/>
<path d="M479.9 76.2L480.5 76.2L481.2 76.2L482.0 76.2L482.5 76.4L482.9 76.8L483.1 77.2L483.3 77.8L483.5 78.2L483.7 79.0L483.9 79.5L484.0 80.0L484.2 80.8L484.4 81.2L484.6 81.8L484.8 82.4L484.9 83.0L484.9 83.8L484.8 84.5L484.7 85.0L484.6 85.8L484.5 86.3L484.4 87.0L484.4 87.8L484.2 88.3L484.0 88.8L483.8 89.3L483.5 90.0L483.4 90.5L483.2 91.1L483.0 91.8L482.8 92.2L482.5 92.5L482.0 92.9L481.6 93.2L481.2 93.5L480.8 94.0L480.5 94.5L480.3 95.0L480.1 95.5L480.0 96.0L479.8 96.8L479.7 97.2L479.5 98.0L479.4 98.5L479.3 99.2L479.2 99.8L479.1 100.5L478.9 101.0L478.7 101.5L478.5 102.0L478.3 102.8L478.2 103.2L478.1 104.0L478.1 104.8L478.0 105.4L477.8 106.0L477.5 106.4L477.2 106.7L476.8 107.2L476.5 107.8L476.4 108.2L476.2 108.8L476.0 109.4L475.8 109.8L475.4 110.2L475.0 110.7L474.7 111.0L474.3 111.5L474.1 112.0L474.0 112.5L474.0 113.2L474.0 113.8L473.9 114.2L473.7 114.8L473.3 115.2L473.1 115.8L473.0 116.5L473.0 117.0L472.9 117.8L472.8 118.3L472.5 119.0L472.4 119.5L472.3 120.2L472.3 121.0L472.2 121.5L472.0 122.1L471.8 122.6L471.4 123.0L471.0 123.5L470.7 123.8L470.3 124.2L470.0 124.7L469.8 125.0L469.4 125.5L469.1 126.0L468.8 126.5L468.6 127.0L468.6 127.8L468.7 128.5L468.5 129.2L468.2 129.6L468.0 130.1L467.9 130.8L467.8 131.5L467.7 132.0L467.4 132.5L467.0 133.0L466.8 133.3L466.2 133.7L466.0 134.0L465.5 134.5L465.2 134.9L465.0 135.2L464.7 135.8L464.3 136.2L464.0 136.7L463.8 137.1L463.5 137.5L463.2 138.0L462.9 138.5L462.7 139.0L462.4 139.5L462.1 140.0L461.8 140.3L461.2 140.6L460.8 140.8L460.2 141.0L459.8 141.3L459.3 141.8L459.0 142.1L458.7 142.5L458.4 143.0L458.2 143.5L458.0 144.0L457.8 144.6L457.5 145.0L457.0 145.5L456.7 145.8L456.2 146.1L455.8 146.4L455.2 146.7L454.8 147.0L454.4 147.2L454.0 147.5L453.5 148.0L453.2 148.4L453.0 148.8L452.6 149.2L452.3 149.8L452.0 150.1L451.7 150.5L451.3 151.0L451.0 151.3L450.6 151.8L450.2 152.1L450.0 152.5L449.6 153.0L449.2 153.5L449.0 153.8L448.5 154.2L448.2 154.5L447.8 154.8L447.2 155.0L446.6 155.2L446.0 155.4L445.5 155.7L445.0 155.9L444.5 156.1L443.8 156.2L443.2 156.3L442.5 156.4L441.9 156.5L441.2 156.6L440.5 156.5L440.0 156.4L439.5 156.2L439.0 155.9L438.5 155.7L438.0 155.5L437.5 155.1L437.0 154.8L436.7 154.5L436.2 154.2L435.8 154.0L435.0 153.8L434.5 153.6L434.0 153.2L433.8 152.9L433.5 152.3L433.3 151.8L433.0 151.2L432.8 150.8L432.5 150.5L432.0 150.0L431.8 149.7L431.4 149.2L431.0 148.8L430.8 148.4L430.5 148.0L430.2 147.5L429.9 147.0L429.6 146.5L429.2 146.1L429.0 145.7L428.9 145.0L429.0 144.4L429.2 143.8L429.3 143.2L429.3 142.5L429.2 142.0L429.0 141.5L428.8 140.8L428.6 140.2L428.5 139.6L428.4 139.0L428.4 138.2L428.4 137.5L428.4 136.8L428.5 136.0L428.5 135.5L428.7 134.8L428.8 134.2L429.0 133.7L429.2 133.0L429.3 132.5L429.5 131.8L429.6 131.2L429.7 130.5L429.7 129.8L429.7 129.0L429.6 128.2L429.5 127.8L429.3 127.0L429.3 126.2L429.4 125.5L429.5 124.8L429.6 124.2L429.7 123.5L429.7 122.8L429.8 122.2L429.9 121.5L430.1 121.0L430.5 120.5L430.8 120.1L431.0 119.8L431.3 119.2L431.5 118.7L431.7 118.0L431.7 117.2L431.7 116.5L431.8 115.8L431.9 115.2L432.2 114.8L432.5 114.2L432.7 113.8L432.9 113.2L433.2 112.8L433.4 112.2L433.6 111.8L433.9 111.2L434.2 110.8L434.5 110.5L434.9 110.0L435.2 109.5L435.3 109.0L435.5 108.4L435.7 107.8L435.8 107.2L435.9 106.5L436.1 106.0L436.3 105.5L436.8 105.0L437.1 104.8L437.5 104.5L438.0 104.2L438.5 103.8L438.8 103.5L439.1 103.0L439.3 102.5L439.4 101.8L439.4 101.0L439.6 100.5L440.0 100.1L440.5 99.8L440.8 99.5L441.2 99.2L441.8 98.8L442.0 98.5L442.4 98.0L442.7 97.5L443.0 97.2L443.4 96.8L443.8 96.4L444.2 96.0L444.7 95.8L445.1 95.5L445.6 95.2L446.0 95.0L446.5 94.6L446.8 94.2L447.1 93.8L447.4 93.2L447.7 92.8L448.0 92.4L448.4 92.0L448.8 91.7L449.2 91.2L449.5 90.9L449.9 90.5L450.2 90.0L450.5 89.8L451.0 89.3L451.3 89.0L451.8 88.6L452.1 88.2L452.5 87.8L452.8 87.5L453.2 87.1L453.8 86.9L454.5 86.8L455.0 86.6L455.5 86.3L455.9 86.0L456.3 85.8L456.8 85.5L457.2 85.2L457.8 85.0L458.2 84.7L458.8 84.4L459.2 84.0L459.7 83.8L460.2 83.5L460.8 83.3L461.2 83.0L461.8 82.8L462.2 82.6L462.8 82.4L463.2 82.2L464.0 82.2L464.8 82.1L465.2 81.9L465.8 81.7L466.5 81.6L467.1 81.5L467.8 81.3L468.2 81.0L468.6 80.8L469.0 80.5L469.5 80.2L470.0 80.0L470.6 79.8L471.1 79.5L471.5 79.2L472.0 78.8L472.3 78.5L472.8 78.1L473.1 77.8L473.5 77.4L474.0 77.0L474.5 76.8L475.2 76.8L476.0 76.9L476.5 77.0L477.1 77.0L477.8 76.9L478.2 76.7L478.8 76.5L479.5 76.3Z"/>
<path d="M477.6 80.8L478.2 80.5L479.0 80.6L479.5 80.8L480.0 81.1L480.5 81.4L480.9 81.8L481.3 82.0L481.8 82.4L482.1 82.8L482.4 83.2L482.6 83.8L482.7 84.5L482.6 85.2L482.4 85.8L482.2 86.4L482.1 87.0L482.0 87.6L481.9 88.2L481.9 89.0L481.9 89.8L481.8 90.5L481.7 91.0L481.4 91.5L481.0 91.9L480.5 92.2L480.0 92.5L479.8 92.8L479.4 93.2L479.2 93.8L479.0 94.3L478.8 95.0L478.7 95.5L478.5 96.2L478.4 96.8L478.2 97.2L478.0 98.0L477.9 98.5L477.8 99.2L477.6 99.8L477.5 100.2L477.2 100.8L477.1 101.5L477.0 102.2L476.9 102.8L476.8 103.5L476.7 104.0L476.5 104.6L476.2 105.1L475.9 105.5L475.5 106.0L475.2 106.4L475.0 107.0L474.8 107.5L474.5 108.0L474.2 108.4L473.9 108.8L473.5 109.2L473.2 109.5L472.8 110.0L472.5 110.3L472.1 110.8L471.8 111.1L471.5 111.5L471.1 112.0L470.9 112.5L470.7 113.0L470.5 113.8L470.5 114.5L470.5 115.2L470.6 116.0L470.6 116.8L470.6 117.5L470.6 118.2L470.4 118.8L470.2 119.2L469.8 119.7L469.3 120.0L468.8 120.2L468.5 120.5L468.1 121.0L467.8 121.5L467.7 122.0L467.7 122.8L467.7 123.5L467.5 124.0L467.1 124.5L466.8 124.9L466.3 125.2L466.0 125.6L465.6 126.0L465.3 126.5L465.1 127.0L464.8 127.4L464.4 127.8L464.0 128.2L463.8 128.8L463.7 129.2L463.5 130.0L463.3 130.5L463.1 131.0L462.8 131.5L462.6 132.0L462.4 132.5L462.1 133.0L461.8 133.4L461.4 133.8L460.9 134.0L460.2 134.2L459.8 134.4L459.2 134.6L458.8 134.9L458.3 135.2L458.0 135.5L457.7 136.0L457.4 136.5L457.2 137.0L457.0 137.5L456.8 138.1L456.5 138.7L456.3 139.2L456.1 139.8L455.8 140.2L455.5 140.6L455.2 141.0L454.8 141.5L454.5 141.8L454.0 142.2L453.5 142.4L453.0 142.6L452.5 142.9L452.0 143.2L451.7 143.5L451.3 144.0L451.0 144.3L450.6 144.8L450.2 145.1L449.9 145.5L449.5 145.8L449.0 146.2L448.6 146.5L448.2 146.9L447.9 147.2L447.5 147.8L447.2 148.1L446.9 148.5L446.5 149.0L446.2 149.3L445.9 149.8L445.5 150.1L445.0 150.5L444.7 150.8L444.2 151.1L443.9 151.5L443.5 151.8L443.0 152.2L442.5 152.3L441.8 152.3L441.2 152.2L440.6 152.0L440.0 151.8L439.5 151.6L439.0 151.4L438.2 151.3L437.5 151.3L437.0 151.2L436.2 151.2L435.7 151.0L435.2 150.6L435.0 150.2L434.7 149.8L434.5 149.2L434.1 148.8L433.8 148.3L433.4 148.0L433.0 147.5L432.8 147.2L432.5 146.8L432.2 146.2L432.0 145.5L431.9 145.0L431.8 144.2L431.7 143.8L431.8 143.2L431.9 142.5L432.1 142.0L432.2 141.2L432.3 140.8L432.3 140.0L432.2 139.5L432.1 138.8L431.9 138.2L431.7 137.8L431.7 137.0L431.8 136.5L432.1 136.0L432.3 135.5L432.4 134.8L432.4 134.0L432.2 133.4L432.2 132.8L432.1 132.0L432.2 131.2L432.3 130.8L432.5 130.1L432.7 129.5L432.8 129.0L432.8 128.2L432.7 127.8L432.7 127.0L432.6 126.2L432.6 125.5L432.7 124.8L432.9 124.2L433.1 123.8L433.5 123.2L433.8 122.8L434.0 122.4L434.2 121.8L434.1 121.0L434.0 120.3L433.9 119.8L434.0 119.2L434.3 118.8L434.8 118.4L435.2 118.0L435.6 117.8L436.0 117.3L436.1 116.8L436.1 116.0L436.2 115.2L436.5 114.8L436.7 114.2L436.9 113.8L437.0 113.0L437.1 112.5L437.2 111.8L437.4 111.2L437.7 110.8L438.0 110.3L438.3 110.0L438.8 109.6L439.0 109.2L439.4 108.8L439.7 108.2L440.0 107.9L440.4 107.5L440.8 107.2L441.2 106.8L441.5 106.4L441.8 106.0L442.1 105.5L442.3 105.0L442.4 104.2L442.5 103.6L442.6 103.0L442.8 102.5L443.0 102.0L443.3 101.5L443.7 101.0L444.0 100.8L444.5 100.4L444.9 100.0L445.2 99.7L445.8 99.3L446.1 99.0L446.5 98.5L446.8 98.2L447.2 97.9L447.7 97.5L448.0 97.2L448.5 96.8L448.8 96.4L449.0 96.0L449.3 95.5L449.7 95.0L450.0 94.7L450.5 94.3L450.9 94.0L451.3 93.8L451.8 93.4L452.2 93.0L452.5 92.6L453.0 92.2L453.5 92.1L454.2 92.2L454.8 92.0L455.2 91.5L455.5 91.0L455.8 90.7L456.1 90.2L456.5 89.9L457.0 89.5L457.3 89.2L457.8 88.9L458.2 88.6L458.8 88.4L459.2 88.2L460.0 88.1L460.5 87.9L461.0 87.7L461.5 87.4L462.0 87.0L462.3 86.8L462.8 86.3L463.0 86.0L463.5 85.5L463.9 85.2L464.4 85.0L465.0 84.8L465.5 84.7L466.2 84.5L466.8 84.5L467.5 84.4L468.2 84.3L468.8 84.1L469.2 83.8L469.5 83.5L470.0 83.1L470.5 82.8L471.0 82.6L471.5 82.3L472.0 82.1L472.5 81.9L473.0 81.7L473.5 81.4L474.0 81.2L474.8 81.0L475.1 81.0L475.8 81.1L476.5 81.1L477.0 81.0L477.6 80.8Z"/>
<path d="M473.7 85.2L474.2 85.2L475.0 85.1L475.8 85.2L476.2 85.3L476.8 85.6L477.2 86.0L477.5 86.4L477.8 86.8L478.0 87.2L478.3 87.8L478.5 88.4L478.5 89.0L478.4 89.5L478.2 90.0L477.9 90.5L477.7 91.0L477.4 91.5L477.2 92.1L477.1 92.8L477.1 93.5L477.1 94.2L476.9 94.8L476.8 95.3L476.5 95.8L476.1 96.2L475.8 96.6L475.4 97.0L475.1 97.5L474.8 98.0L474.6 98.5L474.5 99.2L474.5 100.0L474.6 100.8L474.6 101.5L474.5 102.2L474.3 102.8L474.0 103.2L473.7 103.5L473.3 104.0L473.0 104.4L472.8 105.0L472.6 105.5L472.5 106.2L472.4 106.8L472.1 107.2L471.8 107.8L471.5 108.1L471.2 108.5L470.8 109.0L470.5 109.4L470.2 109.8L469.8 110.2L469.5 110.6L469.2 111.0L468.9 111.5L468.6 112.0L468.2 112.5L468.0 112.8L467.7 113.2L467.5 113.8L467.2 114.2L466.9 114.8L466.7 115.2L466.5 115.8L466.2 116.3L466.0 116.9L465.8 117.5L465.7 118.0L465.5 118.7L465.2 119.1L464.9 119.5L464.5 119.9L464.2 120.2L463.9 120.8L463.8 121.5L463.7 122.0L463.5 122.6L463.3 123.2L463.0 123.7L462.8 124.1L462.5 124.6L462.2 125.0L461.9 125.5L461.5 126.0L461.2 126.3L460.9 126.8L460.5 127.2L460.2 127.5L459.9 128.0L459.5 128.5L459.1 128.8L458.8 129.0L458.2 129.5L458.0 129.8L457.8 130.3L457.5 131.0L457.4 131.5L457.2 132.2L457.1 132.8L456.8 133.2L456.5 133.8L456.2 134.1L456.0 134.5L455.6 135.0L455.2 135.4L454.9 135.8L454.5 136.1L454.0 136.5L453.5 136.7L453.0 137.0L452.5 137.2L452.0 137.4L451.5 137.7L451.2 138.0L450.8 138.4L450.5 138.8L450.0 139.2L449.8 139.6L449.3 140.0L448.9 140.2L448.4 140.5L448.0 140.8L447.6 141.2L447.5 141.8L447.5 142.5L447.3 143.2L447.0 143.6L446.5 143.9L446.0 144.1L445.5 144.3L444.8 144.5L444.2 144.7L443.8 144.8L443.0 144.8L442.2 144.9L441.5 144.9L440.8 144.8L440.2 144.6L439.8 144.3L439.5 143.8L439.4 143.2L439.2 142.7L439.0 142.0L438.8 141.5L438.6 141.0L438.4 140.5L438.2 140.0L438.0 139.5L437.7 139.0L437.5 138.5L437.2 138.0L437.0 137.4L436.8 136.7L436.6 136.2L436.6 135.5L436.7 134.8L436.8 134.2L436.9 133.5L437.0 132.8L437.0 132.2L437.0 131.5L437.0 131.0L436.8 130.2L436.7 129.8L436.6 129.0L436.7 128.2L436.8 127.7L437.0 127.0L437.1 126.5L437.3 126.0L437.5 125.2L437.5 124.8L437.6 124.0L437.6 123.2L437.5 122.7L437.5 122.0L437.5 121.5L437.7 120.8L437.8 120.2L438.0 119.8L438.2 119.2L438.5 118.6L438.8 118.1L439.0 117.6L439.2 117.0L439.4 116.5L439.6 116.0L439.9 115.5L440.2 115.2L440.8 114.9L441.3 114.5L441.5 114.2L441.7 113.5L441.6 112.8L441.5 112.2L441.5 111.5L441.6 111.0L441.9 110.5L442.2 110.0L442.5 109.7L443.0 109.4L443.5 109.1L444.0 108.8L444.4 108.5L444.8 108.1L445.0 107.8L445.4 107.2L445.8 106.8L446.0 106.4L446.2 105.9L446.5 105.4L446.7 104.8L446.8 104.2L446.9 103.5L447.0 102.8L447.2 102.4L447.8 102.1L448.2 101.9L448.8 101.8L449.3 101.5L449.8 101.1L450.0 100.7L450.2 100.0L450.3 99.5L450.4 98.8L450.6 98.2L451.0 97.8L451.2 97.4L451.6 97.0L452.0 96.6L452.5 96.3L453.0 96.0L453.5 95.9L454.0 95.7L454.5 95.5L455.0 95.2L455.5 94.9L456.0 94.6L456.4 94.2L456.9 94.0L457.5 93.8L458.0 93.7L458.5 93.5L458.8 93.0L459.0 92.5L459.2 92.0L459.6 91.5L460.0 91.1L460.5 90.8L460.9 90.5L461.3 90.2L461.8 89.9L462.2 89.5L462.8 89.3L463.2 89.1L464.0 89.0L464.5 88.9L465.1 88.8L465.6 88.5L466.0 88.1L466.2 87.7L466.6 87.2L467.0 86.9L467.5 86.7L468.2 86.7L468.7 86.8L469.5 86.8L470.2 86.8L470.8 86.6L471.2 86.4L471.8 86.1L472.2 85.8L472.8 85.5L473.2 85.3Z"/>
<path d="M468.3 89.5L469.0 89.4L469.8 89.4L470.5 89.4L471.0 89.6L471.5 90.0L471.8 90.3L472.0 90.8L472.3 91.2L472.6 91.8L472.8 92.3L472.9 93.0L472.9 93.8L472.9 94.5L472.9 95.2L472.8 96.0L472.6 96.5L472.5 97.2L472.4 97.8L472.3 98.5L472.2 99.2L472.1 99.8L472.0 100.2L471.7 100.7L471.5 101.2L471.2 101.8L471.0 102.3L470.8 103.0L470.5 103.5L470.2 103.9L470.0 104.3L469.6 104.8L469.3 105.2L469.1 105.8L468.8 106.2L468.5 106.8L468.3 107.2L468.1 107.8L467.8 108.2L467.5 108.6L467.1 109.0L466.8 109.4L466.4 109.8L466.0 110.2L465.8 110.6L465.5 111.1L465.2 111.6L465.0 112.2L464.8 112.6L464.4 113.0L464.0 113.3L463.6 113.8L463.3 114.2L463.1 114.8L463.0 115.5L462.9 116.0L462.7 116.5L462.4 117.0L462.0 117.4L461.5 117.8L461.2 118.0L460.8 118.3L460.2 118.6L459.8 119.0L459.5 119.5L459.5 120.0L459.5 120.5L459.6 121.2L459.4 121.8L459.1 122.2L458.8 122.6L458.3 123.0L458.0 123.4L457.7 123.8L457.5 124.2L457.2 124.8L457.0 125.3L456.8 125.8L456.3 126.2L456.0 126.5L455.5 126.8L455.0 127.0L454.5 127.3L454.0 127.6L453.7 128.0L453.3 128.5L453.0 129.0L452.8 129.4L452.5 129.9L452.2 130.3L452.0 130.8L451.7 131.2L451.2 131.7L451.0 132.0L450.5 132.4L450.1 132.8L449.8 133.2L449.5 133.6L449.2 134.0L448.8 134.4L448.2 134.6L447.8 134.8L447.2 135.0L446.6 135.2L446.0 135.5L445.5 135.6L445.0 135.5L444.5 135.2L444.0 134.9L443.5 134.5L443.0 134.2L442.5 134.0L442.0 133.8L441.5 133.6L441.0 133.2L440.8 132.8L440.8 132.0L440.9 131.2L441.0 130.5L440.9 129.8L440.7 129.2L440.6 128.5L440.6 127.8L440.6 127.0L440.7 126.2L440.8 125.7L440.8 125.0L440.8 124.2L440.8 123.5L440.9 122.8L441.1 122.2L441.2 121.7L441.5 121.0L441.7 120.5L442.0 120.0L442.2 119.7L442.7 119.2L443.0 119.0L443.3 118.5L443.5 117.9L443.5 117.2L443.5 116.5L443.5 115.8L443.6 115.0L443.8 114.3L443.9 113.8L444.0 113.2L444.2 112.7L444.5 112.0L444.8 111.5L445.0 111.2L445.4 110.8L445.8 110.3L446.0 110.0L446.3 109.5L446.5 109.0L446.8 108.5L447.1 108.0L447.5 107.6L447.9 107.2L448.2 106.9L448.5 106.5L448.9 106.0L449.2 105.5L449.4 105.0L449.7 104.5L450.0 104.0L450.3 103.8L450.8 103.3L451.0 103.0L451.4 102.5L451.7 102.0L451.9 101.5L452.2 101.0L452.4 100.5L452.6 100.0L452.8 99.5L453.0 99.0L453.5 98.5L453.9 98.2L454.3 98.0L454.8 97.8L455.2 97.5L455.8 97.2L456.2 96.9L456.8 96.5L457.1 96.2L457.5 95.9L458.0 95.7L458.5 95.5L459.0 95.2L459.5 95.0L460.0 94.6L460.3 94.2L460.7 93.8L461.0 93.4L461.5 93.1L462.0 92.8L462.5 92.6L462.9 92.2L463.2 92.0L463.8 91.6L464.2 91.4L464.8 91.2L465.3 91.0L465.9 90.8L466.3 90.5L466.8 90.2L467.2 89.9L467.8 89.7L468.3 89.5Z"/>
<path d="M463.4 95.2L464.0 95.2L464.8 95.2L465.5 95.2L466.2 95.2L466.8 95.4L467.1 95.8L467.3 96.2L467.3 97.0L467.3 97.8L467.2 98.2L467.1 99.0L466.9 99.5L466.6 100.0L466.4 100.5L466.2 101.0L466.0 101.5L465.7 102.0L465.3 102.5L465.0 103.0L464.8 103.4L464.5 103.9L464.2 104.3L464.0 104.8L463.7 105.2L463.4 105.8L463.1 106.2L462.9 106.8L462.6 107.2L462.4 107.8L462.0 108.2L461.5 108.5L461.1 108.8L460.6 109.0L460.2 109.2L459.8 109.7L459.5 110.1L459.2 110.6L459.0 111.2L458.8 111.7L458.5 112.2L458.2 112.7L458.0 113.1L457.7 113.5L457.3 114.0L457.0 114.5L456.8 115.0L456.5 115.4L456.2 115.8L455.8 116.2L455.3 116.5L455.0 116.8L454.6 117.2L454.3 117.8L454.0 118.2L453.8 118.8L453.5 119.2L453.2 119.5L452.8 120.0L452.4 120.2L452.0 120.5L451.5 120.9L451.1 121.2L450.8 121.7L450.5 122.2L450.4 122.8L450.3 123.5L450.2 124.0L450.0 124.6L449.8 125.1L449.5 125.5L449.1 126.0L448.8 126.3L448.2 126.7L447.8 127.0L447.4 127.2L446.9 127.5L446.3 127.8L445.8 127.9L445.0 128.0L444.5 127.8L444.0 127.3L443.8 126.8L443.7 126.2L443.5 125.5L443.4 125.0L443.2 124.5L443.0 124.0L442.9 123.2L442.9 122.5L443.0 121.8L443.2 121.2L443.5 120.8L443.8 120.4L444.0 120.0L444.2 119.5L444.5 118.8L444.5 118.2L444.6 117.5L444.6 116.8L444.6 116.0L444.8 115.4L444.9 114.8L445.1 114.2L445.3 113.8L445.5 113.2L445.8 112.7L446.0 112.2L446.4 111.8L446.7 111.3L447.0 110.9L447.3 110.5L447.6 110.0L447.8 109.5L448.1 109.0L448.4 108.5L448.7 108.0L449.0 107.5L449.2 107.1L449.5 106.6L449.8 106.1L450.0 105.7L450.3 105.2L450.7 104.8L451.0 104.4L451.5 104.1L452.0 103.8L452.2 103.4L452.5 102.9L452.8 102.4L453.0 101.9L453.2 101.5L453.6 101.0L454.0 100.5L454.2 100.1L454.5 99.8L455.0 99.2L455.2 99.0L455.8 98.6L456.2 98.3L456.6 98.0L457.0 97.7L457.5 97.4L458.0 97.0L458.4 96.8L458.9 96.5L459.5 96.2L460.0 96.0L460.5 95.8L461.0 95.6L461.5 95.5L462.2 95.4L463.0 95.3Z"/>
<path d="M459.7 99.5L460.2 99.4L460.8 99.5L461.3 99.8L461.7 100.2L461.8 100.8L461.7 101.2L461.5 101.9L461.2 102.3L460.8 102.8L460.5 103.0L460.0 103.3L459.5 103.6L459.0 103.8L458.2 103.8L457.9 103.5L457.7 103.0L457.6 102.2L457.6 101.5L457.8 101.0L458.1 100.5L458.5 100.1L459.0 99.8L459.5 99.6ZM451.3 106.2L452.0 106.2L452.0 106.6L451.6 107.0L451.1 107.0L451.2 106.3ZM447.5 114.5L448.0 114.5L448.6 114.8L449.0 115.1L449.2 115.6L449.3 116.2L449.2 116.8L449.1 117.5L448.9 118.0L448.6 118.5L448.2 119.0L448.0 119.2L447.5 119.5L446.8 119.6L446.2 119.3L446.0 118.8L445.9 118.2L445.9 117.5L445.9 116.8L446.0 116.2L446.2 115.7L446.6 115.2L447.0 114.8L447.5 114.5Z"/>
</g>
<g clip-path="url(#cr)" fill="none" stroke-width="1">
<path d="M369.5 166.5h1M351 181.5h1M351 165.5h1M413 232.5h1M358 158.5h1M342.5 184.5h1M425.5 232.5h1M376 167h1M313 194h1M429.5 227h1M382.5 245.5h1M336 227.5h1M350.5 180.5h1M358 150h1M445.5 172h1M490.5 220h1M346 168.5h1M425 228h1M469 190.5h1M433.5 217h1M361 161h1M362 169.5h1M418.5 161h1M477.5 194h1M374 241h1M465.5 189.5h1M383 155h1M354 231h1M453 206.5h1M310.5 216.5h1M336 252.5h1M344.5 231h1M361.5 170h1M362.5 174.5h1M366.5 168.5h1M335 160.5h1M397.5 160h1M347 185h1M338.5 219.5h1M316 179.5h1M368.5 237h1M376 240h1M372 249h1M462 146.5h1M341.5 227.5h1M348.5 224.5h1M329.5 237h1M366 163h1M334 223.5h1M361.5 174h1M402 161.5h1M406.5 244.5h1M426 229.5h1M359 176h1M391.5 243h1M387.5 164h1M389 248.5h1M425 157h1M384 163.5h1M390.5 235.5h1M435 221h1M371.5 249h1M383.5 160h1M359.5 229.5h1M330 197h1M348 174.5h1M331.5 192h1M381.5 164.5h1M363.5 172h1M496 223.5h1M428 223.5h1M400.5 162.5h1M373.5 166h1M402 152.5h1M327 185.5h1M408.5 150h1M370.5 140.5h1M393 234.5h1M449 175.5h1M355 227h1M363.5 237.5h1M359.5 175h1M370.5 169.5h1M369 170.5h1M395.5 233h1M396 159h1M403 160.5h1M455 200.5h1M355 176h1M372 233.5h1M357.5 247.5h1M394.5 161h1M361.5 230.5h1M452.5 212h1M449.5 215h1M444.5 216.5h1M401 153.5h1M422.5 140.5h1M446 208.5h1M366.5 165.5h1M326 194h1M328 199.5h1M375 157.5h1M302 187.5h1M431.5 220h1M338 191h1M451.5 197h1M435 164.5h1M343.5 186.5h1M340 219.5h1M481.5 170.5h1M391.5 241.5h1M310.5 191h1M355 176.5h1M389 163h1M459.5 208h1M323 172.5h1M449.5 214h1M330 213.5h1M324.5 195h1M430 222.5h1M422 227.5h1M334 219.5h1M364.5 159h1M354.5 233.5h1M313.5 156h1M380 159h1M412.5 126.5h1M374.5 232.5h1M468 224h1M388.5 157h1M431 226h1M378 237h1M391.5 235.5h1M349.5 176h1M318 196h1M315 214h1M477 209h1M347.5 223h1M362.5 170h1M439.5 219h1M330 192h1M369 164h1M347.5 185.5h1M440 214h1M411 234h1M350 243.5h1M352 177h1M364 235.5h1M341 221h1M403 235.5h1M447 212.5h1M440.5 212.5h1M350 173h1M342.5 188h1M364.5 172.5h1M375 166.5h1M455.5 217h1M349.5 224.5h1M355 177.5h1M375 153.5h1M381 166.5h1M341 181h1M322.5 209.5h1M328 225.5h1M313 247.5h1M404 148.5h1M398 157.5h1M433.5 164h1M328 191.5h1M401 141h1M460 194.5h1M372 161.5h1M338 218.5h1M467 177.5h1M389.5 155.5h1M353.5 178h1M324.5 201h1M328 213h1M320.5 198h1M337.5 217h1M346 175.5h1M374 164.5h1M363 232h1M348.5 238h1M325.5 214h1M449.5 210h1M344.5 227h1M390 164h1M404 232h1M433.5 163.5h1M359 165h1M379.5 249h1M423 254h1M403 233.5h1M294 222.5h1M353.5 240.5h1M316.5 218h1M366.5 238.5h1M412 152h1M419.5 148.5h1M390 163h1M379.5 158h1M327 222h1M380.5 167h1M359 172h1M336 226.5h1M329.5 184h1M384 238h1M407.5 161.5h1M378 163.5h1M426 162h1M478.5 141h1M349.5 179.5h1M435 218h1M473 198.5h1M417.5 159h1M352.5 177.5h1M312 221h1M414.5 156.5h1M358 173.5h1M300.5 202h1M503 186h1M420 150.5h1M336.5 189.5h1M347 185.5h1M345.5 182.5h1M365.5 170h1M366 167h1M381.5 254h1M370.5 169h1M360.5 174h1M342.5 185.5h1M463.5 209.5h1M321 190.5h1M399.5 240h1M380 166.5h1M331.5 192h1M373.5 152h1M439.5 225.5h1M373.5 232h1M358 172h1M390.5 137.5h1M360.5 164h1M362 172.5h1M417 234.5h1M465 194h1M373.5 235.5h1M314.5 225.5h1M361 257.5h1M415 238h1M359 241h1M478.5 188.5h1M337 229.5h1M330 198h1M328 197h1M448.5 178h1M426.5 224.5h1M452 201h1M340.5 247.5h1M459 168.5h1M342.5 248h1M347.5 184h1M324.5 243.5h1M364.5 244h1M448 234.5h1M404.5 160h1M355 161.5h1M443.5 210h1M392 163.5h1M410 141h1M425.5 161h1M356 176.5h1M302 183.5h1M341.5 225.5h1M457.5 201h1M381.5 160h1M362 232.5h1M313.5 179h1M483.5 190.5h1M330 212h1M426 144h1M342.5 223.5h1M336.5 238.5h1M371.5 235h1M331.5 221h1M451.5 196.5h1M480.5 164h1M466 186h1M445.5 171h1M305.5 177.5h1M355 168.5h1M370.5 170h1M372 244.5h1M439 216.5h1M349 177h1M418.5 151.5h1M411 160.5h1M366.5 172.5h1M330.5 220.5h1M435.5 238h1M323.5 213.5h1M463 154.5h1M314.5 198h1M503 202.5h1M333.5 193h1M384.5 159h1M370.5 238h1M446 175h1M375 167.5h1M322 189.5h1M442 212.5h1M356 168h1M353.5 254.5h1M331 229.5h1M444 168.5h1M335 172.5h1M461 201.5h1M354 229h1M322 176h1M298.5 221.5h1M343.5 220.5h1M330 192.5h1M338.5 223h1M351 238.5h1M346 226.5h1M345 228.5h1M460.5 159.5h1M343.5 181h1M345 177h1M359 167h1M475.5 176.5h1M428.5 222.5h1M446 174h1M423 160h1M375 235h1M356 179h1M478 197h1M319.5 199h1M420.5 154h1M353.5 170.5h1M386 163.5h1M500 179h1M374 240.5h1M360 173.5h1M397 162.5h1M379.5 166.5h1M353 237.5h1M435 222h1M460 210h1M413.5 229h1M308.5 170h1M337.5 157.5h1M316.5 225h1M417.5 228h1M338 236.5h1M354.5 172.5h1M380 162.5h1M394 144.5h1M317 201.5h1M357.5 246h1M337 218h1M344 222.5h1M379.5 168h1M378 166.5h1M324 201h1M361.5 234h1M455.5 212.5h1M458 207h1M401 244.5h1M333 190h1M351.5 183h1M459 161.5h1M449.5 176.5h1M395.5 163h1M363 164.5h1M321.5 183h1M303 212h1M343 221h1M413 235.5h1M462.5 166.5h1M339.5 178h1M390 246.5h1M506.5 236.5h1M357 176.5h1M321.5 189.5h1M431 222.5h1M375.5 254.5h1M480 198h1M359.5 239.5h1M394.5 245.5h1M358 236h1M316.5 170h1M332 219.5h1M441.5 242.5h1M360.5 175.5h1M490.5 185.5h1M350 227.5h1M416 233.5h1M378 153.5h1M348.5 156h1M345.5 231h1M359 173.5h1M449.5 216h1M341.5 188.5h1M439 162h1M338.5 190.5h1M400 239h1M318.5 206h1M420.5 229h1M335 192h1M344.5 239.5h1M386.5 233.5h1M437 216.5h1M404 246h1M313 196h1M433 223.5h1M352 230h1M445 168h1M336 225.5h1M338.5 221.5h1M333 168h1M394 162.5h1M500 190.5h1M326.5 217.5h1M365 165h1M356.5 234h1M390 240.5h1M369.5 157h1M434.5 217h1M355 176.5h1M401 152h1M455.5 203.5h1M329.5 185h1M329.5 187h1M440.5 218.5h1M382 241.5h1M308 206.5h1M346.5 173h1M387.5 254h1M451.5 197h1M463.5 165h1M404 162h1M373 163.5h1M335 179.5h1M340 160.5h1M441.5 225h1M322 225.5h1M353.5 178.5h1M341 173.5h1M410 140.5h1M375 252h1M450.5 217.5h1M332 175.5h1M312 203h1M319.5 220.5h1M397 152.5h1M323 175h1M418 230.5h1M349 230h1M358.5 232h1M330.5 218.5h1M422 150.5h1M339.5 227h1M320 201h1M502.5 214.5h1M452.5 206h1M361.5 171.5h1M334 217h1M341.5 224.5h1M337.5 169h1M364 168.5h1M351.5 234h1M352.5 179.5h1M304 226h1M451.5 197h1M442 169.5h1M478.5 149.5h1M366.5 170h1M438 166.5h1M348 164h1M341.5 185.5h1M350 179.5h1M450 172h1M396 163.5h1M319 218h1M355.5 158h1M461 170.5h1M338 231h1M347.5 224h1M378 166h1M460.5 209h1M415 131h1M347 223h1M323 188h1M458 193.5h1M391 162.5h1M365 168.5h1M375.5 232h1M349.5 226.5h1M400 129h1M336 219h1M349 182h1M346.5 231h1M447 175.5h1M372 247h1M395.5 235h1M441 231h1M382.5 235h1M347 180.5h1M426 223h1M435 166h1M427 224.5h1M455 247.5h1M352.5 179h1M323.5 178h1M430.5 165h1M406.5 162.5h1M344 184.5h1M413.5 160h1M327.5 196h1M464.5 201h1M311.5 230.5h1M405.5 153.5h1M333.5 180.5h1M441 212.5h1M332 187h1M355.5 175h1M334 189.5h1M343 233h1M354 174h1M394 160h1M383 161.5h1M427 222h1M407.5 152h1M332.5 221.5h1M332.5 217.5h1M391 157.5h1M423 157h1M408 160.5h1M391.5 150.5h1M332.5 218h1M400.5 160.5h1M361 229.5h1M467.5 208.5h1M313 230h1M342 188.5h1M364 158h1M446.5 208h1M313 207h1M345.5 183h1M335 190h1M337 221.5h1M313 196h1M442 219h1M296.5 210h1M330 186h1M349 224.5h1M320.5 189h1M327 211h1M376.5 155.5h1M357.5 169.5h1M341 228.5h1M389 234.5h1M328.5 211.5h1M441 215h1M318.5 194h1M434 232h1M352 174.5h1M477.5 158.5h1M333 222h1M346 176.5h1M374.5 232h1M425 227h1M332 215.5h1M461 181h1M378.5 157h1M439.5 224.5h1M341 222h1M373 169.5h1M457.5 215.5h1M411 231h1M440.5 161.5h1M320.5 207h1M359.5 165.5h1M330.5 189.5h1M463.5 175.5h1M436.5 163h1M343.5 181h1M426 160h1M438.5 222.5h1M322 189.5h1M350 184h1M358 169h1M337.5 172h1M423 226.5h1M319 206.5h1M306 203h1M453.5 202h1M349.5 234h1M495 160h1M343.5 223.5h1M350.5 181.5h1M361.5 174h1M330.5 217.5h1M484.5 182h1M483 211h1M470.5 180h1M445 209h1M462.5 179h1M449.5 213h1M329.5 175h1M424 235h1M393 236h1M356.5 168h1M348.5 239.5h1M361.5 174.5h1M354 174h1M410 240h1M413.5 161h1M431 225h1M394 152h1M328.5 220.5h1M325 214h1M366.5 240.5h1M458.5 196h1M435 221.5h1M373.5 233h1M434 225h1M346.5 225h1M399 233.5h1M350 229.5h1M446.5 218.5h1M382 240h1M328 219h1M361.5 166h1M311.5 190h1M302.5 171.5h1M457.5 215h1M325.5 186h1M358 231.5h1M434 166h1M338.5 177.5h1M396 235h1M307 186h1M325 231.5h1M353 163.5h1M362.5 174h1M402.5 161.5h1M352 173.5h1M399.5 238h1M356.5 245h1M306.5 208h1M452 203h1M393.5 256h1M349 170h1M434.5 165h1M377 160.5h1M352 172h1M387.5 163h1M297 215.5h1M317 231.5h1M412.5 160.5h1M404 160.5h1M336.5 173.5h1M303.5 202h1M455.5 197h1M310.5 216h1M421.5 232h1M440.5 167h1M303 243.5h1M303 217h1M359.5 159.5h1M348 170.5h1M304.5 231h1M466 199.5h1M383.5 151.5h1M396.5 240.5h1M357.5 257h1M307 223h1M412 244.5h1M319 187h1M404 158h1M349.5 158.5h1M308 219.5h1M347.5 172.5h1M359.5 166h1M394.5 243h1M441 210.5h1M360 140.5h1M293 207.5h1M416 161h1M431.5 165h1M477.5 129.5h1M399 150.5h1M332.5 246.5h1M437 228.5h1M379.5 239.5h1M305.5 178h1M326.5 168h1M313.5 175.5h1M331 236.5h1M323.5 227.5h1M342.5 172h1M443 215.5h1M321.5 234.5h1M451 178h1M367.5 163h1M330.5 241h1M303.5 201h1M304 248.5h1M479 171.5h1M314.5 187.5h1M373.5 151.5h1M329.5 183.5h1M392 138h1M475 172.5h1M441.5 222h1M319.5 238h1M312.5 206.5h1M449.5 176.5h1M438 213.5h1M316 229h1M400.5 235h1M368 158h1M353 161.5h1M315 189h1M322 190.5h1M399.5 234h1M316.5 231.5h1M352 145h1M330 166.5h1M387 233.5h1M306.5 175.5h1M418.5 157.5h1M363.5 238h1M504.5 179h1M318 191.5h1M334 250.5h1M429.5 161h1M340.5 233h1M469.5 182.5h1M483 189.5h1M334 246h1M412 157.5h1M306 209.5h1M305 210h1M439.5 225.5h1M508.5 139.5h1M421.5 160h1M316.5 237.5h1M452 204h1M308.5 183.5h1M445 169.5h1M319.5 178h1M315.5 180.5h1M353.5 168h1M401 158.5h1M312 219h1M349 237.5h1M379.5 246h1M317.5 241.5h1M329 241h1M380 114.5h1M353.5 168.5h1M477.5 200.5h1M302.5 200.5h1M384 158.5h1M294 204.5h1M335.5 240.5h1M347.5 167h1M316 185.5h1M393.5 254.5h1M299.5 213h1M304.5 236h1M459 159h1M396 234.5h1M312.5 220.5h1M305 179h1M317 225.5h1M461 189h1M341 233h1M312.5 208.5h1M343 246h1M469.5 193h1M318.5 191.5h1M369.5 162.5h1M315.5 185h1M313 229h1M378.5 145.5h1M471.5 204.5h1M337.5 233.5h1M303.5 178.5h1M309 193.5h1M398.5 158h1M325.5 255.5h1M472 157h1M405 239h1M442 222h1M458 218h1M433 221h1M409.5 233h1M307 196.5h1M313 241.5h1M424.5 163h1M323 172.5h1M433.5 217h1M423.5 159.5h1M367.5 241h1M405 234.5h1M310.5 234h1M302 204h1M385 234.5h1M424 113.5h1M432.5 101.5h1M510.5 76h1M421 144.5h1M423 141h1M478 67h1M464.5 69h1M447.5 73.5h1M421.5 157.5h1M459.5 67.5h1M474 61.5h1M449 82h1M453.5 74h1M419 144h1M400.5 147.5h1M426.5 160.5h1M437 86.5h1M486 53h1M417 152.5h1M409.5 145.5h1M466.5 58h1M471.5 40.5h1M464 53.5h1M431 157h1M463.5 71h1M462 59h1M422.5 120.5h1M422 147.5h1M472 66.5h1M430 162h1M493 46.5h1M413 102h1M409.5 122.5h1M423 128h1M488 126.5h1M464 78.5h1M446 89h1M437.5 98h1M445 86.5h1M410.5 145.5h1M436 96h1M471 71h1M433 102.5h1M455.5 79.5h1M499 124.5h1M415 123h1M486.5 129.5h1M432.5 156.5h1M488.5 99.5h1M417.5 102h1M496 80.5h1M484 61h1M464.5 151h1M470.5 76h1M425.5 136h1M421.5 155.5h1M425 117.5h1M486.5 71.5h1M487.5 72.5h1M472 61.5h1M430 102.5h1M496 106.5h1M438.5 95.5h1M420 152h1M410 99.5h1M491 52h1M415 132h1M489 74h1M460 78h1M490.5 40.5h1M468 154.5h1M414 128h1M456.5 78.5h1M424 121.5h1M507 48h1M484.5 112.5h1M421.5 138.5h1M500.5 77.5h1M492 116.5h1M431.5 93.5h1M472.5 74.5h1M473.5 61.5h1M425.5 118h1M442.5 80.5h1M478 117.5h1M473 68h1M455.5 77h1M457 80h1M414 107h1M452 76.5h1M495 85.5h1M438.5 91.5h1M419 139h1M461 77.5h1M442.5 78h1M434.5 161.5h1M425 129h1M451.5 76h1M422 138h1M413.5 131.5h1M461 60h1M396.5 148h1M452 81h1M483.5 124.5h1M421.5 91.5h1M435 96.5h1M506 175h1M406.5 161.5h1M413.5 159.5h1M488 79.5h1M470 58h1M473 67h1M424.5 107.5h1M488 102.5h1M434.5 77.5h1M472 56h1M466.5 73h1M437 160h1M478.5 69.5h1M417 148.5h1M467 69.5h1M452.5 80.5h1M471.5 67h1M463 62h1M468.5 75.5h1M460.5 78.5h1M488.5 104.5h1M474 48h1M423 86h1M424 141h1M461.5 69.5h1M425.5 132h1M422.5 146h1M451.5 83h1M405 159h1M428.5 111h1M447 88h1M459 70h1M404.5 103.5h1M451.5 75.5h1M440 90h1M428 108.5h1M422.5 132h1M401 143h1M470.5 75.5h1M468.5 65.5h1M441 68.5h1M423.5 142.5h1M489 68.5h1M486.5 70.5h1M460.5 61h1M450.5 85h1M411 127.5h1M425.5 113h1M462 73h1M470 75h1M422.5 148h1M421.5 135.5h1M451 84.5h1M472 71.5h1M419 138h1M452.5 79h1M469 73h1M422.5 114.5h1M457.5 79h1M420.5 135.5h1M452.5 75.5h1M408 153h1M414 119.5h1M419 132.5h1M485 109h1M482 105.5h1M475 66.5h1M425.5 161.5h1M425 119.5h1M441.5 161h1M497.5 69h1M421.5 144h1M447 79h1M423.5 135.5h1M445.5 77.5h1M487.5 108.5h1M438.5 94h1M432.5 73h1M450.5 78h1M491 72h1M466 73.5h1M434.5 66.5h1M501 110h1M456 76h1M449.5 82.5h1M431 102h1M474.5 157.5h1M484.5 64h1M487 97.5h1M408 123.5h1M462 78h1M425 120h1M450 74h1M440 92.5h1M462.5 73.5h1M418.5 114.5h1M426 107h1M421 118h1M445.5 88h1M419.5 130h1M486.5 103.5h1M481.5 71.5h1M487.5 99h1M492.5 50h1M458 79h1M438.5 94.5h1M484.5 62.5h1M461.5 76.5h1M425.5 121.5h1M424 138.5h1M402 119h1M463.5 75.5h1M460 78.5h1M426.5 157.5h1M453.5 81h1M463.5 148.5h1M476.5 61h1M479 65.5h1M419.5 143.5h1M461 53h1M477 117.5h1M424 116h1M481.5 41h1M489 99h1M498.5 86h1M490 110h1M416 155.5h1M422 129.5h1M425 155h1M463 60h1M449 82h1M486.5 113h1M417.5 121h1M421 157h1M431.5 165.5h1M430 106h1M453 79.5h1M443.5 87h1M419 89h1M457 66.5h1M428 164.5h1M487 61.5h1M422.5 141.5h1M413 145h1M434 86.5h1M418.5 127.5h1M478.5 123h1M422 143h1M453.5 78h1M421 162.5h1M436.5 160h1M418 127.5h1M448.5 67h1M490 102h1M425.5 146h1M452 75h1M482 40h1M481.5 46.5h1M460 79.5h1M454.5 80h1M482.5 70.5h1M403.5 134.5h1M458.5 77h1M478 67.5h1M452.5 83.5h1M475 61.5h1M457.5 80h1M464 70.5h1M461 72h1M434.5 100h1M470.5 179.5h1M422 153.5h1M478 116h1M420.5 152h1M480 118.5h1M465.5 60h1M462 151h1M475 183.5h1M473 158.5h1M466.5 145h1M453.5 197.5h1M466.5 145.5h1M483 163h1M467.5 211.5h1M467.5 187h1M463.5 152h1M472.5 151h1M470 158h1M462.5 199.5h1M480 210h1M460.5 192h1M480 176h1M470.5 178.5h1M464 149.5h1M446.5 169.5h1M468.5 183h1M464.5 146.5h1M439.5 167h1M472 191h1M467.5 190h1M478.5 211.5h1M469.5 184h1M452.5 201.5h1M469.5 163h1M473.5 165.5h1M458 191h1M471.5 207.5h1M461 185h1M467 187h1M481.5 167.5h1M475.5 172h1M456.5 204.5h1M475.5 159.5h1M477 145h1M472 177.5h1M461.5 198h1M487 233h1M447 167h1M449 169.5h1M449 171h1M470 181h1M469 144h1M499.5 195h1M466 190.5h1M472 190h1M478.5 195h1M450 174h1M464 143.5h1M470.5 162h1M470 148.5h1M468 195h1M464.5 185h1M483 206h1M461 185.5h1M471 165.5h1M473.5 171.5h1M465.5 186.5h1M467 184.5h1M475.5 180h1M463.5 145.5h1M471.5 182h1M472.5 186.5h1M479 198.5h1M470.5 154h1M480 181.5h1M473 171.5h1M477 164.5h1M479.5 191.5h1M470.5 164h1M469 191h1M476.5 184.5h1M472.5 157.5h1M468.5 155h1M487.5 182h1M468 187h1M495 181h1M479.5 200h1M463.5 151.5h1M480.5 168h1M471.5 154h1M472 180h1M464 156h1M477 127.5h1M483.5 185.5h1M472.5 164h1M474 166.5h1M471.5 161h1M480 150h1M464 186h1M474 150h1M464.5 191h1M470 183h1M484 167.5h1M471.5 184h1M477 180h1M473 186h1M464.5 208.5h1M472.5 170.5h1M442.5 170h1M451 179h1M462 187h1M478 159.5h1M475 205h1M451.5 181h1M473 150h1M466.5 157h1M471 166h1M459.5 188h1M470 165h1M463.5 191.5h1M469 146h1M472 192h1M451.5 217.5h1M463 197h1M466.5 186h1M463.5 151.5h1M474.5 179h1M463.5 188h1M477.5 177.5h1M466.5 154.5h1M470 161.5h1M482 173.5h1M459 196.5h1M472.5 183.5h1M480.5 177h1M466.5 184.5h1M507.5 138h1M503 122h1M501.5 129h1M505.5 155.5h1M509 66h1M505.5 64h1M505.5 73h1M508 43h1M501.5 109.5h1M508.5 71.5h1M508 77.5h1M504 121.5h1M501 146h1M506.5 64h1M503 82h1M504 111.5h1M502.5 41h1M502 130.5h1M509.5 172.5h1M509 98h1M507.5 59h1M503.5 57.5h1M501.5 55h1M507.5 119h1M505 77h1M503.5 45.5h1M505 136h1M501.5 51h1M508.5 141.5h1M503 44h1M508 66.5h1M504 57.5h1M506.5 108h1M506 54.5h1M509 93.5h1M503.5 183h1M511 47h1M506.5 63.5h1M503.5 83.5h1M504 85.5h1M503 44h1M503.5 95h1M505 59h1M510 120h1M507 60.5h1M510 111.5h1M507.5 118.5h1M501 166.5h1M502.5 90h1M502.5 121.5h1M502.5 103.5h1M501.5 63h1M506 63.5h1M502.5 115h1M506.5 84h1M507 67.5h1M345 224h1M295 121.5h1M319 233.5h1M472 154h1M409 90h1M395.5 100h1M415 250h1M502 236h1M366.5 124.5h1M376.5 83.5h1M441 228.5h1M452.5 44.5h1M495 169.5h1M335 157.5h1M377.5 108.5h1M317.5 63.5h1M367.5 151h1M504.5 84.5h1M506.5 62h1M377 71h1M502.5 238.5h1M452.5 51.5h1M327 231h1M324.5 158.5h1M328.5 56.5h1M426.5 71h1M299 131h1M346 242.5h1M493.5 208h1M427.5 61.5h1M497.5 87h1M313.5 229h1M497 196h1" stroke="#1a1a1a"/>
<path d="M318 178h1M334.5 222h1M409.5 236.5h1M355.5 176.5h1M298.5 219.5h1M389.5 160.5h1M419.5 229h1M344.5 228h1M348.5 177.5h1M421.5 231.5h1M389.5 241h1M485 175h1M322.5 183.5h1M367.5 234.5h1M330.5 192h1M439.5 237.5h1M331 174h1M389 158h1M454 220h1M373.5 166h1M439.5 212.5h1M427 228h1M363 171h1M343.5 187h1M314.5 183h1M326 185.5h1M391.5 150h1M339.5 175.5h1M346 240h1M383.5 167h1M403 242h1M335.5 191.5h1M361 167h1M456 203.5h1M338.5 222.5h1M317 213h1M400 147.5h1M340.5 221h1M430 221.5h1M328.5 179.5h1M421.5 160h1M461 169h1M325 199.5h1M367 232.5h1M472 195.5h1M319 193.5h1M389.5 244.5h1M330 232.5h1M413.5 160h1M389.5 239.5h1M352.5 229.5h1M377.5 165.5h1M305 220h1M435.5 162h1M453.5 194.5h1M484 186.5h1M396 239.5h1M364 173.5h1M314.5 202h1M355.5 178h1M447.5 165.5h1M358.5 172h1M351 225.5h1M389 239.5h1M322.5 190.5h1M350.5 167.5h1M465 204.5h1M327.5 198.5h1M460 177h1M357 177.5h1M432.5 222h1M364 232h1M347.5 181.5h1M346 175.5h1M447 211h1M414 161h1M345 186.5h1M331 221h1M468.5 238h1M351 229h1M352 227.5h1M452.5 200h1M326 170.5h1M337 162.5h1M344.5 221h1M448.5 175h1M331 189h1M338.5 223.5h1M341 230h1M373 248h1M354 232.5h1M323 194h1M330 180.5h1M353.5 232h1M423.5 241.5h1M315 217h1M350 229.5h1M490.5 168.5h1M328.5 185h1M358.5 230.5h1M493 199.5h1M298.5 203h1M460 186.5h1M473 179.5h1M383.5 165.5h1M371.5 235h1M386.5 239h1M352 247.5h1M457.5 197.5h1M300.5 213.5h1M361.5 175h1M328.5 226h1M334.5 184.5h1M375.5 167h1M355.5 229.5h1M388.5 243h1M349.5 182.5h1M385.5 240h1M412.5 158.5h1M361 172.5h1M324 206.5h1M386 160h1M396 246h1M453 222.5h1M328.5 194.5h1M371.5 234h1M335 234.5h1M294 214.5h1M436 166.5h1M417.5 239h1M417.5 236h1M464.5 191h1M368 170h1M331.5 183h1M407 160.5h1M373.5 248.5h1M357.5 231h1M374 245h1M324.5 193h1M354 176.5h1M368.5 157.5h1M365.5 171h1M415.5 158h1M353.5 163h1M350.5 226h1M339.5 183.5h1M319.5 204h1M350.5 228.5h1M347 235.5h1M371 167h1M339 186.5h1M351.5 178h1M390 245.5h1M314.5 204h1M337 217h1M446.5 171h1M395.5 147.5h1M450.5 206.5h1M411.5 230h1M383.5 164.5h1M324.5 206.5h1M322 205h1M332.5 188h1M313.5 223.5h1M317 214h1M420 229.5h1M355.5 159h1M338.5 190.5h1M302.5 164h1M299.5 189.5h1M433.5 221h1M367.5 237h1M390 235.5h1M345 230.5h1M378.5 161h1M391.5 241.5h1M419 150h1M336 179.5h1M367.5 151.5h1M340 175.5h1M348 181.5h1M349 173.5h1M394 151.5h1M324.5 188h1M359 151.5h1M480 195h1M434.5 164h1M450.5 208h1M446 172.5h1M357.5 177h1M358 231.5h1M476 175.5h1M436.5 162h1M353.5 247h1M480 150.5h1M439.5 236.5h1M452.5 196h1M312 204.5h1M431 222.5h1M469 214.5h1M400 232h1M457 207h1M413 147.5h1M322.5 228.5h1M389.5 158.5h1M385.5 165.5h1M437.5 166.5h1M477.5 177.5h1M354.5 233h1M336 226h1M422.5 225.5h1M356.5 227.5h1M345 229.5h1M306 224.5h1M367 231.5h1M429.5 165h1M460.5 196h1M342.5 181.5h1M308.5 201h1M451.5 205.5h1M342 234h1M400.5 160h1M403.5 157.5h1M342 231.5h1M443.5 226.5h1M435 219.5h1M425 163.5h1M353 229h1M478.5 195h1M337.5 189.5h1M344 235h1M340 230h1M360.5 249.5h1M337 229h1M396 159h1M461 200.5h1M363 174h1M365 174h1M354 179h1M438 217.5h1M368.5 165.5h1M350 183.5h1M477 227h1M435.5 235.5h1M441.5 212.5h1M380.5 158.5h1M340 185h1M395.5 234h1M346 185h1M340 225h1M403 154h1M388 156h1M324 201h1M354.5 159.5h1M442 166h1M385 238.5h1M382 162h1M464 185.5h1M331 193h1M443 212h1M461 196h1M333 185.5h1M418 236h1M357.5 228h1M445.5 206.5h1M377.5 258h1M326.5 202h1M423.5 155h1M353 179h1M461 181.5h1M410 159h1M404.5 160.5h1M388 234.5h1M462.5 187h1M339 181h1M337 184.5h1M335.5 191.5h1M407.5 155.5h1M352.5 176.5h1M481.5 199h1M383 238.5h1M373 149.5h1M345 173.5h1M379.5 234.5h1M370 232h1M334 223.5h1M447.5 206h1M356.5 242.5h1M317.5 193h1M477 176.5h1M402.5 240.5h1M363.5 243.5h1M449 172h1M302 193h1M321.5 189h1M360 176.5h1M336.5 217.5h1M476.5 225h1M328.5 219h1M326 209h1M320 191.5h1M384 164h1M320.5 221h1M467.5 178.5h1M332 228.5h1M445.5 229.5h1M445 167.5h1M510.5 173.5h1M439.5 220h1M341 221h1M377 166.5h1M337.5 224.5h1M339.5 166.5h1M339.5 184h1M321 196h1M399 130.5h1M413 233h1M404.5 237h1M405.5 153h1M408.5 156h1M425.5 156.5h1M476.5 171h1M480 171h1M454.5 195.5h1M473 189.5h1M353 181.5h1M381 167h1M442.5 212.5h1M340.5 183h1M342 185.5h1M344 179h1M471.5 181.5h1M338 229h1M388 238h1M382.5 163h1M362 160.5h1M462 211h1M351 231.5h1M345 184.5h1M357.5 157h1M408.5 230.5h1M328 195h1M452 208h1M414 159h1M346.5 228.5h1M338 189h1M491 165.5h1M456.5 203h1M324.5 229.5h1M343 184h1M345 182h1M413 230.5h1M444.5 218.5h1M386 162h1M418.5 234h1M360 229h1M402.5 158.5h1M466 177.5h1M371 237h1M348 176h1M328.5 211.5h1M462 202.5h1M346.5 167.5h1M327 197.5h1M327 196.5h1M460 155.5h1M393 155.5h1M436 215.5h1M320 213h1M361 152.5h1M359.5 174.5h1M329 198h1M399 234h1M351.5 179.5h1M353 177.5h1M353 175.5h1M420.5 230.5h1M351 181.5h1M460 205.5h1M315.5 214.5h1M428 162.5h1M349 229.5h1M361.5 174.5h1M445 167h1M348 231.5h1M348.5 228h1M429 162.5h1M327 189.5h1M329.5 231.5h1M338 178.5h1M326 186.5h1M310 204.5h1M372.5 169.5h1M340 226h1M363.5 172.5h1M421.5 224.5h1M389.5 154.5h1M325 209h1M399 159h1M406 160.5h1M309 211h1M305 185.5h1M307 154.5h1M353.5 159.5h1M484.5 187.5h1M387 236h1M367 166.5h1M340 232.5h1M370.5 167h1M298.5 199h1M337.5 243.5h1M307 173.5h1M310 213h1M377.5 147h1M299.5 176.5h1M307.5 211.5h1M410 233h1M295 224h1M425.5 224h1M341.5 177h1M331.5 157.5h1M391 238h1M320 175.5h1M313 198h1M355.5 146.5h1M366.5 235h1M427 230h1M381.5 242h1M377.5 158h1M356.5 171h1M363.5 243.5h1M411 231h1M299.5 212h1M359.5 157h1M452.5 208.5h1M304 218h1M434.5 161.5h1M364 246.5h1M300 204h1M455.5 198.5h1M461 199h1M313 255.5h1M361 241h1M477 257.5h1M408 153h1M321.5 169.5h1M334 181.5h1M425 237.5h1M299.5 207.5h1M339 245.5h1M377 161h1M304 220h1M334.5 166h1M397.5 250h1M325 185h1M325 171.5h1M295 216h1M451.5 247.5h1M363 151.5h1M447.5 171.5h1M402.5 240.5h1M472 169h1M438.5 248.5h1M442 235h1M311 234h1M450 212h1M300.5 185h1M436.5 229h1M329.5 172h1M331.5 253.5h1M362 251.5h1M331.5 181.5h1M319 187h1M379.5 244h1M322 167.5h1M316 171h1M353.5 136h1M325 240h1M430 235h1M318.5 179.5h1M310.5 206h1M353 141.5h1M331 240.5h1M381 244h1M370.5 235.5h1M455.5 205h1M408.5 232.5h1M412 158h1M303 219.5h1M429 156.5h1M301.5 194h1M317 185.5h1M411 161.5h1M434.5 217h1M429 108h1M424 139.5h1M509 67.5h1M380 161h1M499 64h1M469.5 63h1M484 106.5h1M434.5 93.5h1M428.5 76.5h1M422 133.5h1M434.5 71.5h1M436 165h1M421.5 117.5h1M423 137h1M457 77h1M458.5 74.5h1M479 67.5h1M496 63.5h1M431 84.5h1M468 75h1M496 62.5h1M419.5 127.5h1M424 114h1M469.5 72.5h1M483.5 101.5h1M486 99.5h1M467.5 74h1M470.5 134h1M488 96.5h1M421.5 117h1M420 154h1M430.5 108h1M429 95.5h1M458 152.5h1M439 90.5h1M468.5 64.5h1M490 94h1M446 67h1M419 123h1M511 43h1M426 125h1M423.5 127h1M485 97.5h1M472.5 61.5h1M454.5 71h1M406.5 123h1M420.5 144.5h1M469.5 65.5h1M458.5 153.5h1M446 82h1M414 113.5h1M420.5 85h1M424.5 136h1M481.5 106h1M439 95.5h1M464.5 57h1M484.5 67.5h1M468.5 59h1M456.5 76h1M419.5 145.5h1M427.5 94h1M440 86h1M426.5 111h1M454.5 82.5h1M420.5 136h1M423.5 159h1M408 131h1M430.5 108h1M405.5 144.5h1M484.5 48.5h1M475.5 137h1M426 126.5h1M395.5 141.5h1M448 54.5h1M429 93.5h1M425.5 127.5h1M420 156h1M426 115.5h1M427 106.5h1M425 101.5h1M476.5 55.5h1M496 85h1M464.5 71h1M477 55.5h1M466 43h1M458.5 75h1M426.5 104h1M490.5 97h1M411 139h1M424.5 157h1M401 156h1M420.5 141.5h1M491 55.5h1M447 82.5h1M495 47.5h1M445.5 88h1M430.5 164.5h1M496.5 57h1M459.5 79h1M468.5 63.5h1M402 132.5h1M473 144.5h1M415.5 128.5h1M425 161.5h1M456 68.5h1M486.5 68.5h1M431 101.5h1M470.5 57.5h1M435.5 97h1M426.5 149h1M471 71h1M432 100.5h1M484 60.5h1M487 107.5h1M473.5 62h1M474 46.5h1M434 93h1M441.5 55.5h1M491.5 44.5h1M441 88.5h1M441 86h1M465 72h1M488.5 68h1M422.5 140h1M422.5 104h1M456 82h1M412.5 126.5h1M471 75h1M417 147.5h1M467.5 59h1M407.5 130.5h1M495 74.5h1M393 135h1M469 63h1M425.5 146h1M430.5 164.5h1M471.5 74h1M460 74h1M452 81.5h1M459.5 160.5h1M434 159h1M424.5 122h1M425 134.5h1M442 90.5h1M426 143h1M480 218h1M467 152h1M469 162.5h1M472 179h1M460.5 154.5h1M471 182.5h1M473.5 136h1M469.5 191.5h1M490 181h1M477 181.5h1M476.5 177h1M445.5 165.5h1M469.5 163.5h1M466.5 226.5h1M469.5 163h1M460 187h1M476 157h1M472 167.5h1M459.5 151.5h1M485 190.5h1M477.5 147.5h1M476.5 169h1M471.5 177.5h1M462.5 194h1M492 207.5h1M465.5 186.5h1M459.5 183.5h1M473.5 159.5h1M444.5 167h1M463 195.5h1M470.5 186.5h1M469 188.5h1M471.5 182.5h1M483 181h1M471.5 158h1M489 191h1M468.5 157.5h1M453.5 194h1M446 227h1M461 149.5h1M482 192.5h1M486.5 179.5h1M473.5 154h1M450 176h1M462 190.5h1M462 186.5h1M477 129.5h1M445 224h1M467 190.5h1M465 187h1M476.5 189.5h1M488.5 179.5h1M472 170h1M475.5 199h1M473 145h1M464.5 186h1M472.5 166.5h1M462.5 206h1M472 166h1M469 154.5h1M449.5 177h1M486.5 154.5h1M461.5 186h1M460 188h1M484.5 159.5h1M471.5 182.5h1M471 183.5h1M463 185h1M472 192.5h1M466 148.5h1M459 187h1M471.5 166.5h1M474 166.5h1M476 170.5h1M469 182h1M467.5 193h1M476 191.5h1M472 133h1M483 159.5h1M476 190.5h1M464.5 148h1M470.5 151h1M478.5 157h1M459.5 185.5h1M475.5 166h1M472 180h1M470.5 198h1M471.5 174h1M470 200h1M470.5 183.5h1M474 191h1M468 184h1M472.5 169h1M458.5 151.5h1M478.5 169.5h1M473 214h1M506.5 81.5h1M510.5 125.5h1M508 57.5h1M505 142h1M502 108h1M503 63h1M507 113h1M503 109h1M501.5 52.5h1M508 55.5h1M506 101h1M510.5 63h1M505.5 158.5h1M508 166h1M506.5 53.5h1M510.5 79.5h1M504.5 95h1M508 152h1M506.5 80h1M505 114h1M510.5 105h1M502.5 52.5h1M501.5 107h1M506.5 128.5h1M506 115.5h1M510 122h1M508 56.5h1M508 53.5h1M501.5 118h1M510.5 92.5h1M503.5 112.5h1M503.5 106.5h1M510.5 124h1M507 77.5h1M507 47.5h1M431.5 233h1M432 251.5h1M494 94.5h1M420 128h1M483 123.5h1M477.5 234.5h1M353 65.5h1M459 71.5h1M414.5 251.5h1M394.5 137h1M448.5 207.5h1M400 152.5h1M309.5 230.5h1M433 234h1M423.5 50h1M498.5 87.5h1M417.5 48.5h1M505 249.5h1M304 198h1M436.5 90h1M401.5 86h1M448 166h1M443.5 57.5h1M375 232.5h1M446 175h1M481 121h1M487 57h1M446 44.5h1M302.5 60h1" stroke="#555"/>
<path d="M369 164.5h1M393.5 248.5h1M406.5 162h1M333 170h1M448 168.5h1M419 145h1M380.5 243.5h1M389 141h1M328 191h1M320.5 199h1M346.5 230.5h1M383 236.5h1M342.5 234h1M355 165.5h1M371.5 233.5h1M380.5 245h1M333.5 185h1M309.5 216.5h1M317 203h1M319 225.5h1M318.5 193h1M338.5 226h1M374 233.5h1M508 198h1M340.5 177.5h1M420 233.5h1M439.5 161.5h1M381.5 243.5h1M325 209.5h1M463 168.5h1M400.5 240.5h1M450.5 210h1M410.5 235h1M361 234h1M330 197.5h1M407.5 238.5h1M378 166.5h1M336.5 183h1M372 170h1M358.5 230.5h1M404.5 130h1M475.5 185.5h1M334 194.5h1M355 173h1M371.5 163h1M421 235h1M350.5 178h1M389.5 240.5h1M363 169.5h1M360 174.5h1M403 160.5h1M408 231.5h1M436 164.5h1M370 233.5h1M365.5 158.5h1M441.5 219h1M390 234.5h1M399.5 157.5h1M347 182h1M373.5 232h1M375 165h1M438.5 221h1M337.5 181.5h1M386 243h1M435.5 217.5h1M370 168h1M309.5 200h1M425.5 222.5h1M349.5 225.5h1M452 200h1M362 169.5h1M404 157.5h1M325.5 213.5h1M485.5 160.5h1M301 228.5h1M376 167h1M345 181.5h1M330 193.5h1M341 226h1M347.5 183.5h1M338.5 187h1M448.5 173h1M332.5 194.5h1M413.5 230h1M362 164.5h1M348 183.5h1M357 229.5h1M338 186.5h1M372 170h1M411 237.5h1M328 181.5h1M400 234.5h1M366.5 171h1M338 177h1M328.5 170.5h1M345.5 183.5h1M367 235.5h1M437 216.5h1M319 186.5h1M451.5 203h1M432 158h1M323.5 196h1M356.5 173h1M346.5 180.5h1M486.5 175h1M358 167h1M415 229.5h1M451.5 217h1M328.5 199.5h1M449 173h1M443.5 172h1M399 157.5h1M376 152h1M312.5 181h1M367 169.5h1M347.5 170.5h1M438.5 216h1M302 221.5h1M435 165.5h1M322 215h1M336.5 218.5h1M466.5 181h1M322 185h1M439.5 220h1M348.5 158.5h1M401 158h1M417.5 151h1M344.5 224.5h1M317 178h1M347.5 223h1M333.5 179h1M440.5 220h1M348 182h1M316 208.5h1M310.5 207h1M391 159.5h1M342 174h1M418 248.5h1M353 178h1M359.5 231h1M341.5 188h1M362 175h1M398.5 160h1M458.5 202.5h1M354.5 180h1M364.5 169.5h1M369.5 160.5h1M433 165h1M364.5 235.5h1M333.5 228h1M460.5 166h1M373.5 233.5h1M363 171h1M366.5 170.5h1M460 166.5h1M435 216.5h1M365 165.5h1M324 212.5h1M346.5 180.5h1M331 186.5h1M382 162.5h1M338.5 229h1M464.5 189.5h1M317 211h1M451.5 199h1M334 234.5h1M363 154.5h1M330.5 177h1M364 171.5h1M452 216.5h1M338 177h1M348.5 182h1M324 217.5h1M427.5 234h1M452.5 220.5h1M339 189.5h1M342.5 222.5h1M436.5 217.5h1M320.5 196.5h1M462.5 206h1M428 163.5h1M369.5 154.5h1M417 149.5h1M369.5 237.5h1M311.5 216h1M378.5 157h1M400.5 159h1M356 177h1M324.5 220.5h1M470 220.5h1M495 163h1M347 223.5h1M371.5 169.5h1M325 224.5h1M385.5 163.5h1M397 234.5h1M372 241.5h1M334 179.5h1M386 163h1M356.5 172h1M299.5 215h1M467 180.5h1M442 218h1M327 215.5h1M340.5 230h1M345 172h1M333 176h1M461.5 178.5h1M403.5 236h1M383 255.5h1M373 233h1M315 195h1M314 214h1M423.5 138.5h1M443.5 171h1M331.5 183.5h1M324 216h1M360 171.5h1M454.5 207h1M302 218.5h1M437 214h1M320 207.5h1M343.5 227.5h1M309.5 193h1M444 210h1M472.5 187h1M379 168h1M363.5 242h1M445 162.5h1M411.5 151.5h1M333 184h1M382.5 239.5h1M379.5 152.5h1M351.5 180.5h1M445 207.5h1M433 160.5h1M323 212.5h1M331 182h1M389.5 233h1M446 172.5h1M339 178.5h1M349.5 174.5h1M340 183h1M294.5 235h1M318 228h1M342 236h1M441 234.5h1M474 137h1M332.5 244.5h1M311.5 240h1M356 171h1M308 221.5h1M350 151.5h1M308 184.5h1M385 159.5h1M417.5 109h1M330 179h1M386.5 256h1M406.5 252.5h1M469 150h1M302.5 207h1M368.5 162.5h1M313.5 205.5h1M296 226h1M360.5 162.5h1M323 239.5h1M311.5 174h1M378.5 165.5h1M415 237.5h1M326 169.5h1M369.5 243.5h1M310 216.5h1M339.5 177.5h1M320.5 171.5h1M346.5 235h1M338.5 178h1M416.5 141.5h1M306.5 204.5h1M314.5 201h1M387 163h1M390 244.5h1M336.5 240.5h1M377.5 163.5h1M383 138h1M324.5 245.5h1M472.5 212h1M299.5 206.5h1M383.5 151h1M310.5 221.5h1M464.5 176h1M338 246h1M462.5 233.5h1M319.5 188.5h1M308.5 187.5h1M457 206.5h1M311.5 224.5h1M337.5 249.5h1M328.5 180.5h1M335 236h1M363 235.5h1M486.5 185.5h1M303.5 166h1M380 153.5h1M311.5 187h1M295.5 232.5h1M445.5 208.5h1M467.5 212.5h1M442.5 219.5h1M309 191h1M413 148h1M450 202h1M388.5 165.5h1M330 170h1M436.5 89h1M472 72h1M419.5 129h1M492.5 93.5h1M462.5 78h1M478 127.5h1M453.5 76h1M476.5 72h1M473 72h1M410 154.5h1M446 79h1M417.5 136h1M447 78.5h1M431.5 108h1M481 59h1M441.5 82h1M496 96h1M428.5 91h1M482.5 109h1M509.5 61.5h1M467 70h1M442.5 90h1M426 123h1M411 160.5h1M484.5 66h1M455 70h1M490.5 50h1M467 77h1M484 61.5h1M445 90h1M413 141h1M459.5 76.5h1M436.5 163h1M394 137.5h1M418 141.5h1M471 45.5h1M426 163h1M452 84.5h1M422 87h1M463 67h1M461.5 75.5h1M421.5 109h1M479.5 54h1M423.5 139h1M424.5 111h1M426.5 114h1M454.5 82h1M418.5 151.5h1M445 76h1M417 143.5h1M415 114.5h1M486.5 61.5h1M506 70.5h1M418 152.5h1M427.5 109.5h1M461.5 78.5h1M486 107.5h1M473.5 49.5h1M408.5 145.5h1M426 85h1M421.5 156.5h1M424 134.5h1M471.5 69.5h1M453 81h1M413 138.5h1M414 123h1M485.5 121.5h1M504 99.5h1M427 152h1M485 56h1M494.5 100.5h1M479.5 63h1M486.5 69.5h1M453.5 83.5h1M421.5 130h1M441 93h1M489 81.5h1M480 60.5h1M498 94h1M502 64h1M476.5 130h1M419 101h1M463 69.5h1M469 60.5h1M423.5 130.5h1M454 83h1M420.5 155h1M471.5 71h1M413.5 139.5h1M472 68.5h1M466 51.5h1M461 69.5h1M420 135h1M447 78.5h1M493 96h1M484.5 101h1M423.5 151h1M404.5 113.5h1M449.5 82.5h1M476 52h1M486.5 68h1M406 142.5h1M444.5 87.5h1M412.5 143h1M476.5 70.5h1M471 139.5h1M466.5 76h1M484 71.5h1M440.5 93h1M421.5 148.5h1M417.5 115.5h1M483 61h1M423 117h1M450.5 81.5h1M476.5 72h1M492 83.5h1M457 76.5h1M493.5 87.5h1M499 44h1M424.5 142.5h1M419 147h1M471.5 176.5h1M472 168h1M463 152h1M450 173h1M480 184.5h1M459 155h1M473 196h1M496.5 201h1M485 187h1M447 172.5h1M484.5 177.5h1M466 232.5h1M464 194h1M471.5 173h1M472 189.5h1M469.5 152.5h1M467 204h1M474 152.5h1M469.5 151.5h1M472.5 181h1M459 183.5h1M447 167.5h1M476 165h1M471 161h1M484 183h1M465 197.5h1M474 162h1M480.5 165h1M472.5 160h1M458.5 196.5h1M446.5 175h1M470 151h1M469 191.5h1M477.5 176.5h1M442 169h1M472.5 149h1M473.5 180h1M448 173.5h1M476 168h1M478.5 190.5h1M464 187.5h1M488.5 219h1M468.5 224h1M437 162.5h1M451 214.5h1M460 150h1M462.5 195.5h1M447 169.5h1M474 155.5h1M457 200h1M467 158h1M473.5 181.5h1M466 196h1M471 158.5h1M470.5 200.5h1M465 152.5h1M479.5 176.5h1M511 64.5h1M502 47.5h1M509 77h1M507.5 62.5h1M509 53h1M504.5 114.5h1M503 143h1M509.5 49.5h1M509 158h1M510 50.5h1M509.5 111h1M507.5 96h1M503 96.5h1M510.5 63h1M501.5 92h1M506 83.5h1M503.5 149.5h1M509.5 60h1M507 96.5h1M505 112.5h1M505.5 43h1M510 97h1M508.5 136h1M506 93h1M507 73h1M510.5 81.5h1M503 70.5h1M508.5 87.5h1M508.5 117h1M356 137.5h1M397.5 50.5h1M496 81.5h1M468.5 44.5h1M496 97h1M318.5 71h1M329.5 114h1M404 232.5h1M424.5 71.5h1M326.5 72h1M312 177h1M310 205h1M487.5 249.5h1M309 226h1M457 61h1M338.5 125.5h1M383 127.5h1M347 165h1M416.5 239h1M333 167h1M495.5 162.5h1M348.5 136.5h1" stroke="#999"/>
</g>
<g clip-path="url(#cl)" fill="none" stroke-width="1">
<path d="M164 234h1M242.5 215.5h1M212 94.5h1M185 168.5h1M46.5 254h1M246 61.5h1M45.5 179h1M153.5 191h1M210.5 159.5h1M170 137h1M211 190h1M57.5 134.5h1M126.5 205.5h1M132 54h1M41.5 76h1M81.5 52.5h1M142 195h1M62.5 112.5h1" stroke="#888"/>
<path d="M45 172.5h1M225 110h1M198.5 172.5h1M51.5 46h1M190 181h1M167.5 222.5h1M252.5 55h1M247 117.5h1M64 67.5h1M179 232h1M229 251.5h1M164 157.5h1M97.5 56h1M157.5 161h1M112.5 240h1M192 256h1M79 197h1M59 202h1M160.5 186.5h1M179 179h1M60.5 159h1M63 198.5h1M168.5 209h1M159 158.5h1" stroke="#bbb"/>
</g>
<line x1="37.3" y1="37.9" x2="37.3" y2="259.0" stroke="#111" stroke-width="1.6"/>
<line x1="36.7" y1="38.5" x2="258.5" y2="38.5" stroke="#111" stroke-width="1.2"/>
<line x1="258.5" y1="38.0" x2="258.5" y2="259.6" stroke="#111" stroke-width="1.6"/>
<line x1="36.9" y1="259.0" x2="259.0" y2="259.0" stroke="#111" stroke-width="1.6"/>
<path d="M31.0 258.5H37.5M38.8 259.0V265.0M34.3 242.5H37.5M54.7 259.0V262.2M34.3 233.2H37.5M64.1 259.0V262.2M34.3 226.5H37.5M70.7 259.0V262.2M34.3 221.4H37.5M75.9 259.0V262.2M34.3 217.2H37.5M80.1 259.0V262.2M34.3 213.6H37.5M83.6 259.0V262.2M34.3 210.5H37.5M86.7 259.0V262.2M34.3 207.8H37.5M89.4 259.0V262.2M31.0 205.4H37.5M91.8 259.0V265.0M34.3 189.4H37.5M107.8 259.0V262.2M34.3 180.1H37.5M117.2 259.0V262.2M34.3 173.4H37.5M123.8 259.0V262.2M34.3 168.3H37.5M129.0 259.0V262.2M34.3 164.1H37.5M133.2 259.0V262.2M34.3 160.5H37.5M136.7 259.0V262.2M34.3 157.4H37.5M139.8 259.0V262.2M34.3 154.7H37.5M142.5 259.0V262.2M31.0 152.3H37.5M144.9 259.0V265.0M34.3 136.3H37.5M160.9 259.0V262.2M34.3 127.0H37.5M170.3 259.0V262.2M34.3 120.3H37.5M176.9 259.0V262.2M34.3 115.2H37.5M182.1 259.0V262.2M34.3 111.0H37.5M186.3 259.0V262.2M34.3 107.4H37.5M189.8 259.0V262.2M34.3 104.3H37.5M192.9 259.0V262.2M34.3 101.6H37.5M195.6 259.0V262.2M31.0 99.2H37.5M198.1 259.0V265.0M34.3 83.2H37.5M214.0 259.0V262.2M34.3 73.9H37.5M223.4 259.0V262.2M34.3 67.2H37.5M230.0 259.0V262.2M34.3 62.1H37.5M235.2 259.0V262.2M34.3 57.9H37.5M239.4 259.0V262.2M34.3 54.3H37.5M242.9 259.0V262.2M34.3 51.2H37.5M246.0 259.0V262.2M34.3 48.5H37.5M248.7 259.0V262.2M31.0 46.1H37.5M251.2 259.0V265.0" stroke="#111" stroke-width="1" fill="none"/>
<text x="27.0" y="261.9" font-family="'Liberation Serif', serif" font-size="10.5" text-anchor="end" fill="#222" textLength="14.5" lengthAdjust="spacingAndGlyphs">0.1</text>
<text x="38.2" y="277" font-family="'Liberation Serif', serif" font-size="10.5" text-anchor="middle" fill="#222" textLength="14.5" lengthAdjust="spacingAndGlyphs">0.1</text>
<text x="27.0" y="208.8" font-family="'Liberation Serif', serif" font-size="10.5" text-anchor="end" fill="#222" textLength="4.5" lengthAdjust="spacingAndGlyphs">1</text>
<text x="91.3" y="277" font-family="'Liberation Serif', serif" font-size="10.5" text-anchor="middle" fill="#222" textLength="4.5" lengthAdjust="spacingAndGlyphs">1</text>
<text x="27.0" y="155.7" font-family="'Liberation Serif', serif" font-size="10.5" text-anchor="end" fill="#222" textLength="10.5" lengthAdjust="spacingAndGlyphs">10</text>
<text x="144.4" y="277" font-family="'Liberation Serif', serif" font-size="10.5" text-anchor="middle" fill="#222" textLength="10.5" lengthAdjust="spacingAndGlyphs">10</text>
<text x="27.0" y="102.6" font-family="'Liberation Serif', serif" font-size="10.5" text-anchor="end" fill="#222" textLength="14" lengthAdjust="spacingAndGlyphs">100</text>
<text x="197.6" y="277" font-family="'Liberation Serif', serif" font-size="10.5" text-anchor="middle" fill="#222" textLength="14" lengthAdjust="spacingAndGlyphs">100</text>
<text x="27.0" y="49.5" font-family="'Liberation Serif', serif" font-size="10.5" text-anchor="end" fill="#222" textLength="19" lengthAdjust="spacingAndGlyphs">1000</text>
<text x="249.7" y="277" font-family="'Liberation Serif', serif" font-size="10.5" text-anchor="middle" fill="#222" textLength="19" lengthAdjust="spacingAndGlyphs">1000</text>
<line x1="291.3" y1="37.9" x2="291.3" y2="259.0" stroke="#111" stroke-width="1.6"/>
<line x1="290.7" y1="38.5" x2="511.5" y2="38.5" stroke="#111" stroke-width="1.2"/>
<line x1="511.5" y1="38.0" x2="511.5" y2="259.6" stroke="#111" stroke-width="1.0"/>
<line x1="290.9" y1="259.0" x2="512.0" y2="259.0" stroke="#111" stroke-width="1.6"/>
<path d="M285.0 258.5H291.5M293.0 259.0V265.0M288.3 242.5H291.5M309.0 259.0V262.2M288.3 233.2H291.5M318.3 259.0V262.2M288.3 226.5H291.5M325.0 259.0V262.2M288.3 221.4H291.5M330.1 259.0V262.2M288.3 217.2H291.5M334.3 259.0V262.2M288.3 213.6H291.5M337.9 259.0V262.2M288.3 210.5H291.5M341.0 259.0V262.2M288.3 207.8H291.5M343.7 259.0V262.2M285.0 205.4H291.5M346.1 259.0V265.0M288.3 189.4H291.5M362.1 259.0V262.2M288.3 180.1H291.5M371.4 259.0V262.2M288.3 173.4H291.5M378.1 259.0V262.2M288.3 168.3H291.5M383.2 259.0V262.2M288.3 164.1H291.5M387.4 259.0V262.2M288.3 160.5H291.5M391.0 259.0V262.2M288.3 157.4H291.5M394.1 259.0V262.2M288.3 154.7H291.5M396.8 259.0V262.2M285.0 152.3H291.5M399.2 259.0V265.0M288.3 136.3H291.5M415.2 259.0V262.2M288.3 127.0H291.5M424.5 259.0V262.2M288.3 120.3H291.5M431.2 259.0V262.2M288.3 115.2H291.5M436.3 259.0V262.2M288.3 111.0H291.5M440.5 259.0V262.2M288.3 107.4H291.5M444.1 259.0V262.2M288.3 104.3H291.5M447.2 259.0V262.2M288.3 101.6H291.5M449.9 259.0V262.2M285.0 99.2H291.5M452.3 259.0V265.0M288.3 83.2H291.5M468.3 259.0V262.2M288.3 73.9H291.5M477.6 259.0V262.2M288.3 67.2H291.5M484.3 259.0V262.2M288.3 62.1H291.5M489.4 259.0V262.2M288.3 57.9H291.5M493.6 259.0V262.2M288.3 54.3H291.5M497.2 259.0V262.2M288.3 51.2H291.5M500.3 259.0V262.2M288.3 48.5H291.5M503.0 259.0V262.2M285.0 46.1H291.5M505.4 259.0V265.0" stroke="#111" stroke-width="1" fill="none"/>
<text x="281.0" y="261.9" font-family="'Liberation Serif', serif" font-size="10.5" text-anchor="end" fill="#222" textLength="14.5" lengthAdjust="spacingAndGlyphs">0.1</text>
<text x="292.5" y="277" font-family="'Liberation Serif', serif" font-size="10.5" text-anchor="middle" fill="#222" textLength="14.5" lengthAdjust="spacingAndGlyphs">0.1</text>
<text x="281.0" y="208.8" font-family="'Liberation Serif', serif" font-size="10.5" text-anchor="end" fill="#222" textLength="4.5" lengthAdjust="spacingAndGlyphs">1</text>
<text x="345.6" y="277" font-family="'Liberation Serif', serif" font-size="10.5" text-anchor="middle" fill="#222" textLength="4.5" lengthAdjust="spacingAndGlyphs">1</text>
<text x="281.0" y="155.7" font-family="'Liberation Serif', serif" font-size="10.5" text-anchor="end" fill="#222" textLength="10.5" lengthAdjust="spacingAndGlyphs">10</text>
<text x="398.7" y="277" font-family="'Liberation Serif', serif" font-size="10.5" text-anchor="middle" fill="#222" textLength="10.5" lengthAdjust="spacingAndGlyphs">10</text>
<text x="281.0" y="102.6" font-family="'Liberation Serif', serif" font-size="10.5" text-anchor="end" fill="#222" textLength="14" lengthAdjust="spacingAndGlyphs">100</text>
<text x="451.8" y="277" font-family="'Liberation Serif', serif" font-size="10.5" text-anchor="middle" fill="#222" textLength="14" lengthAdjust="spacingAndGlyphs">100</text>
<text x="281.0" y="49.5" font-family="'Liberation Serif', serif" font-size="10.5" text-anchor="end" fill="#222" textLength="19" lengthAdjust="spacingAndGlyphs">1000</text>
<text x="503.9" y="277" font-family="'Liberation Serif', serif" font-size="10.5" text-anchor="middle" fill="#222" textLength="19" lengthAdjust="spacingAndGlyphs">1000</text>
<rect x="107.2" y="41.2" width="102.8" height="86" fill="none" stroke="#111" stroke-width="2"/>
<rect x="410.6" y="58" width="93" height="95.3" fill="none" stroke="#111" stroke-width="2"/>
<text x="110.5" y="53.5" font-size="10.5" font-weight="bold" fill="#111">87%</text>
<text x="414" y="70" font-size="10.5" font-weight="bold" fill="#111">14%</text>
<path d="M89.1 415.5L89.1 414.3L90.2 412.1L91.3 409.8L93.0 408.7L94.7 405.3L96.4 404.1L98.0 400.9L98.6 398.0L99.2 395.6L99.7 392.9L100.3 390.8L100.6 389.1L100.9 386.3L101.2 384.8L101.5 380.4L101.9 380.9L102.2 377.4L102.5 375.2L102.8 373.5L103.1 370.7L103.5 368.2L103.8 366.7L104.1 364.7L104.4 361.7L104.7 359.6L105.1 357.3L105.5 355.7L105.8 352.2L106.2 349.5L106.6 348.8L107.0 346.2L107.4 343.5L107.7 340.2L108.1 338.9L108.5 337.3L109.0 334.3L109.4 331.1L109.9 329.5L110.4 330.9L110.9 334.7L111.4 337.3L113.0 338.4L113.3 336.7L113.7 333.3L114.1 330.5L114.4 328.9L114.8 326.2L115.2 329.3L115.7 331.1L116.1 334.0L116.6 331.8L117.0 329.6L117.4 326.2L118.3 328.8L119.2 331.7L119.5 333.5L119.7 336.8L120.0 339.1L120.3 342.2L120.5 342.7L120.8 345.5L121.0 348.5L121.3 350.0L121.6 351.5L122.0 355.3L122.3 357.8L122.6 359.6L123.1 361.3L123.7 365.2L124.3 367.0L124.8 368.5L126.4 367.4L126.7 370.3L127.0 372.6L127.3 375.4L127.6 376.0L127.9 380.0L128.2 381.9L128.7 384.6L129.3 385.0L129.9 388.6L131.5 386.4L131.8 388.9L132.1 390.6L132.4 393.7L132.7 395.0L133.1 397.5L134.8 400.9L135.7 403.7L136.6 406.5L139.3 407.6L140.1 410.6L140.9 413.2L140.9 414.3L140.9 415.5Z" fill="#979797" stroke="#8a8a8a" stroke-width="0.5"/>
<path d="M34.0 413.8L35.5 412.9L37.0 414.1L38.5 414.2L40.0 414.3L41.5 414.1L43.0 414.5L44.5 414.5L46.0 414.6L47.5 413.9L49.0 414.7L50.5 414.1L52.0 414.4L53.5 414.5L55.0 413.2L56.5 413.7L58.0 414.1L59.5 414.3L61.0 414.3L62.5 414.3L64.0 413.8L65.5 414.1L67.0 414.0L68.5 414.6L70.0 414.2L71.5 414.2L73.0 414.4L74.5 413.9L76.0 414.3L77.5 414.6L79.0 414.5L80.5 414.5L82.0 413.4L83.5 414.6L85.0 414.5L86.5 413.9L88.0 414.3L89.5 414.2L91.0 414.2L92.5 413.3L94.0 414.2L95.5 413.4L97.0 413.2L98.5 414.1L100.0 414.4L101.5 414.4L103.0 414.3L104.5 414.3L106.0 414.6L107.5 414.6L109.0 413.6L110.5 414.6L112.0 414.2L113.5 414.6L115.0 414.4L116.5 414.3L118.0 414.1L119.5 414.5L121.0 414.5L122.5 414.6L124.0 414.4L125.5 414.6L127.0 414.4L128.5 414.4L130.0 414.7L131.5 414.3L133.0 413.8L134.5 414.1L136.0 414.2L137.5 414.2L139.0 414.6L140.5 414.3" fill="none" stroke="#a8a8a8" stroke-width="0.9"/>
<path d="M32.2 413.2L34.5 411.6L36.7 411.2L38.9 409.8L41.2 408.6L43.4 407.6L44.9 405.6L46.4 402.9L47.8 400.9L48.6 399.2L49.3 396.7L50.1 394.2L52.3 392.0L52.9 389.4L53.4 387.3L54.0 385.1L54.5 381.9L55.0 380.4L55.4 376.2L55.9 375.0L56.3 372.3L56.8 369.7L59.0 367.4L59.4 365.0L59.7 362.1L60.1 360.8L60.5 357.1L60.9 355.6L61.2 352.9L61.8 351.0L62.4 346.9L63.0 345.1L64.6 342.9L65.1 340.2L65.7 337.2L66.3 335.5L66.8 332.8L68.4 336.2L68.6 339.3L68.9 342.0L69.1 342.5L69.4 345.5L69.6 348.5L69.9 351.3L70.2 352.9L70.4 355.5L70.6 357.3L70.9 360.1L71.1 362.3L71.4 364.6L71.6 366.7L71.9 369.6L72.1 371.9L72.4 374.1L74.2 374.1L74.8 376.6L75.5 379.0L76.2 381.0L76.8 384.2L77.2 386.1L77.5 389.2L77.8 390.8L78.1 392.4L78.4 396.0L78.8 397.8L79.1 399.8L80.2 403.4L81.3 405.0L82.4 407.6L83.9 409.0L85.4 410.1L86.9 412.5L89.7 413.2L92.5 413.8L94.7 413.8L96.9 413.9L99.2 413.9L101.4 413.9L103.6 413.9L105.8 414.0L108.1 414.0L110.3 414.0L112.5 414.0L114.8 414.0L117.0 414.1L119.2 414.1L121.5 414.1L123.7 414.1L125.9 414.1L128.2 414.2L130.4 414.2L132.6 414.2L134.8 414.2L137.1 414.2L139.3 414.3" fill="none" stroke="#0a0a0a" stroke-width="2.0" stroke-linejoin="round" stroke-linecap="round"/>
<path d="M214.7 415.5L214.7 414.3L215.8 412.3L216.9 409.8L218.6 407.1L220.3 405.3L221.4 402.3L222.5 400.9L222.9 398.0L223.3 397.5L223.7 394.2L224.1 392.0L224.7 393.3L225.4 396.4L227.0 393.1L227.3 390.9L227.7 387.4L228.1 387.8L228.4 382.9L228.8 382.3L229.2 379.7L229.6 377.9L229.9 374.1L230.3 373.2L230.7 371.6L231.1 368.9L231.4 366.3L231.7 364.3L232.1 362.6L232.4 359.7L232.7 357.7L233.0 355.1L233.3 353.4L233.7 350.7L234.0 347.7L234.3 346.9L234.6 343.6L234.9 340.9L235.2 339.8L235.6 338.7L235.9 335.1L236.2 333.3L236.4 329.6L236.7 328.1L237.0 325.0L238.8 323.9L239.3 321.3L239.8 319.4L240.3 317.2L240.6 319.5L240.9 319.8L241.2 324.1L241.5 326.2L241.9 327.6L242.4 330.1L242.8 331.7L243.2 335.1L243.6 336.1L244.0 338.8L244.4 342.4L244.8 344.0L245.3 347.9L245.8 349.2L246.4 351.8L247.7 352.9L248.0 351.3L248.3 347.8L248.6 344.0L249.0 343.2L249.3 340.7L249.8 343.6L250.3 345.5L250.8 348.5L251.0 350.9L251.1 353.4L251.2 354.5L251.4 356.2L251.5 359.4L251.6 361.7L251.8 363.8L251.9 367.1L252.0 369.9L252.2 370.8L252.4 372.9L252.6 376.3L252.8 379.1L253.1 380.8L254.4 378.6L254.7 381.6L255.0 384.3L255.3 385.6L255.6 389.0L256.0 390.8L256.2 394.7L256.4 396.0L256.5 397.0L256.7 400.3L256.9 403.0L257.1 404.5L257.3 406.0L257.5 408.7L258.1 412.7L258.6 414.3L258.6 415.5Z" fill="#979797" stroke="#8a8a8a" stroke-width="0.5"/>
<path d="M154.0 414.7L155.5 414.5L157.0 413.8L158.5 414.3L160.0 414.5L161.5 413.8L163.0 414.6L164.5 414.6L166.0 414.1L167.5 414.3L169.0 414.3L170.5 412.7L172.0 414.0L173.5 414.3L175.0 414.6L176.5 414.0L178.0 414.4L179.5 414.4L181.0 413.0L182.5 414.5L184.0 414.3L185.5 413.6L187.0 413.4L188.5 413.7L190.0 413.9L191.5 413.2L193.0 414.3L194.5 414.7L196.0 414.0L197.5 414.6L199.0 414.5L200.5 413.7L202.0 414.4L203.5 414.4L205.0 414.5L206.5 414.4L208.0 414.6L209.5 414.5L211.0 414.7L212.5 414.2L214.0 414.3L215.5 414.3L217.0 414.3L218.5 413.5L220.0 414.6L221.5 414.0L223.0 414.4L224.5 414.3L226.0 414.2L227.5 414.6L229.0 414.5L230.5 414.3L232.0 413.8L233.5 414.3L235.0 414.6L236.5 413.6L238.0 413.0L239.5 414.4L241.0 414.3L242.5 414.4L244.0 414.4L245.5 414.4L247.0 413.6L248.5 414.5L250.0 414.4L251.5 414.4L253.0 414.2L254.5 414.3L256.0 414.6L257.5 414.1L259.0 414.7L260.5 414.5" fill="none" stroke="#a8a8a8" stroke-width="0.9"/>
<path d="M152.7 398.7L153.3 400.6L153.9 404.1L154.5 406.5L156.7 408.2L160.0 406.0L162.3 405.3L164.5 404.7L166.2 402.2L167.8 399.8L169.0 396.4L170.1 394.2L172.3 390.8L172.9 389.2L173.4 386.6L174.0 383.6L174.5 381.9L175.0 380.0L175.4 377.2L175.9 374.3L176.3 372.7L176.8 370.8L177.2 368.7L177.7 366.6L178.1 364.2L178.6 361.9L179.0 359.6L179.1 357.6L179.3 355.0L179.4 353.5L179.6 350.8L179.7 348.6L179.8 346.5L180.0 343.5L180.1 341.8L180.4 343.6L180.7 347.0L181.0 348.6L181.2 350.7L181.6 347.9L182.0 345.7L182.3 342.9L182.7 340.2L183.0 338.1L183.3 335.2L183.6 333.2L183.9 330.6L185.2 334.0L185.5 330.9L185.8 330.2L186.0 327.0L186.3 324.2L186.5 322.7L186.8 320.6L187.2 322.9L187.6 325.7L188.0 327.5L188.4 330.6L188.7 333.0L189.1 336.9L189.4 336.7L189.8 339.7L190.2 341.8L190.7 343.8L191.3 346.3L191.9 348.5L192.5 349.8L193.0 352.3L193.5 355.2L193.9 353.2L194.3 350.7L194.7 349.3L195.1 346.2L195.3 348.1L195.5 350.8L195.7 354.4L196.0 354.8L196.2 356.9L196.4 359.6L196.6 361.8L196.8 364.1L197.0 366.7L197.2 368.6L197.4 370.4L197.6 373.1L197.8 376.6L198.0 377.5L198.3 380.3L198.7 380.5L199.1 384.1L199.4 385.9L199.8 388.9L200.2 390.8L200.9 393.0L201.7 396.3L202.4 397.5L204.7 400.9L205.2 403.6L205.8 405.8L206.3 407.7L206.9 409.8L209.1 413.2L211.7 413.4L214.3 413.6L216.9 413.8L219.2 413.9L221.5 413.9L223.8 413.9L226.1 414.0L228.4 414.0L230.7 414.0L233.0 414.1L235.3 414.1L237.6 414.2L239.9 414.2L242.1 414.2L244.4 414.3L246.7 414.3L249.0 414.3L251.3 414.4L253.6 414.4L255.9 414.5L258.2 414.5" fill="none" stroke="#0a0a0a" stroke-width="2.0" stroke-linejoin="round" stroke-linecap="round"/>
<path d="M340.9 415.5L340.9 414.7L342.6 413.4L344.2 410.9L346.5 408.7L348.7 406.5L350.9 403.1L351.3 400.5L351.7 399.8L352.0 396.4L353.5 395.5L354.9 393.1L355.5 391.9L356.0 389.1L356.5 386.4L357.1 384.1L357.6 381.6L358.2 379.5L358.7 377.5L359.3 376.0L359.8 373.1L360.4 369.6L361.0 368.5L361.4 366.3L361.9 362.9L362.3 362.0L362.7 358.7L363.2 357.4L364.3 353.6L365.4 351.8L366.0 349.4L366.5 346.7L367.1 342.9L367.7 341.8L368.4 339.8L369.1 338.3L369.9 334.0L370.3 330.3L370.7 330.4L371.1 325.9L371.4 323.9L372.3 320.4L373.2 317.7L375.5 318.3L377.2 319.5L377.8 321.5L378.3 322.8L378.8 326.2L379.3 329.8L379.8 331.8L380.4 334.0L380.7 330.8L381.1 328.5L381.5 326.2L381.7 327.2L381.9 330.3L382.0 333.6L382.2 333.7L382.4 337.0L382.6 339.5L383.0 341.9L383.5 344.8L383.9 347.3L384.4 348.5L385.0 350.7L385.6 353.1L386.2 356.3L386.7 358.9L387.2 360.4L387.7 363.0L388.1 364.9L388.5 368.3L388.9 371.0L389.3 371.9L389.7 374.6L390.2 376.8L390.6 379.9L391.1 381.9L392.2 380.8L392.4 377.1L392.6 376.3L392.9 373.3L393.1 371.9L393.3 376.3L393.5 377.5L393.8 379.5L394.0 381.9L394.3 384.0L394.6 384.4L394.9 388.6L394.9 391.6L394.9 394.7L394.9 395.2L394.9 398.7L394.9 401.1L394.9 401.6L394.9 406.0L394.9 408.7L394.9 410.2L394.9 412.3L394.9 414.7L394.9 415.5Z" fill="#979797" stroke="#8a8a8a" stroke-width="0.5"/>
<path d="M287.8 413.8L289.3 414.3L290.8 414.0L292.3 413.9L293.8 413.9L295.3 414.7L296.8 414.6L298.3 413.9L299.8 414.4L301.3 414.5L302.8 413.8L304.3 414.4L305.8 414.3L307.3 414.7L308.8 414.3L310.3 414.4L311.8 414.6L313.3 414.3L314.8 413.6L316.3 414.1L317.8 414.6L319.3 414.0L320.8 413.8L322.3 413.9L323.8 414.1L325.3 414.6L326.8 414.0L328.3 414.5L329.8 413.5L331.3 414.6L332.8 413.8L334.3 414.5L335.8 413.9L337.3 414.5L338.8 414.0L340.3 414.2L341.8 413.9L343.3 413.8L344.8 414.3L346.3 413.3L347.8 414.2L349.3 413.6L350.8 414.1L352.3 414.0L353.8 413.4L355.3 414.5L356.8 413.5L358.3 414.4L359.8 413.4L361.3 412.9L362.8 414.4L364.3 413.1L365.8 414.3L367.3 414.1L368.8 414.6L370.3 414.5L371.8 414.3L373.3 413.6L374.8 413.8L376.3 414.3L377.8 414.5L379.3 413.7L380.8 413.6L382.3 413.3L383.8 414.0L385.3 413.5L386.8 414.7L388.3 414.6L389.8 413.6L391.3 414.5L392.8 414.5" fill="none" stroke="#a8a8a8" stroke-width="0.9"/>
<path d="M286.7 413.2L290.7 414.3L292.9 413.9L295.2 413.6L297.4 412.9L299.6 411.4L301.1 409.0L302.6 408.1L304.1 406.5L306.3 405.3L308.5 404.2L309.3 402.5L310.0 399.1L310.8 397.5L311.2 395.8L311.7 392.9L312.1 389.8L312.6 388.6L313.0 386.4L313.3 383.7L313.6 382.1L314.0 379.1L314.3 378.0L314.6 374.9L314.9 373.2L315.2 370.8L315.5 368.2L315.7 366.1L316.0 364.7L316.2 362.0L316.5 359.4L316.7 356.8L317.0 355.7L317.2 353.3L317.5 350.7L317.8 348.3L318.1 346.4L318.4 343.5L318.7 341.3L319.1 339.1L319.4 337.5L319.7 335.1L320.1 333.0L320.6 330.2L321.0 328.8L321.5 326.5L321.9 323.9L323.7 320.6L324.8 317.2L325.1 319.5L325.4 322.2L325.7 323.8L325.9 326.2L326.3 328.3L326.7 330.9L327.1 332.8L327.5 335.1L327.7 337.7L328.0 338.9L328.2 342.5L328.5 343.6L328.7 346.1L329.0 347.8L329.2 351.0L329.5 353.6L329.7 355.2L330.0 357.9L330.2 360.0L330.4 361.1L330.6 363.7L330.8 366.1L331.1 368.1L331.3 371.3L331.5 373.1L331.7 375.2L332.0 377.5L332.2 379.9L332.5 381.4L332.7 383.7L333.0 385.9L333.3 388.9L333.5 390.8L334.0 393.5L334.4 396.0L334.9 398.7L335.3 400.0L335.8 403.1L336.3 405.1L336.9 407.7L337.5 409.8L339.8 413.2L342.0 413.7L344.2 414.3L346.5 414.3L348.8 414.3L351.1 414.3L353.4 414.4L355.6 414.4L357.9 414.4L360.2 414.4L362.5 414.4L364.8 414.5L367.0 414.5L369.3 414.5L371.6 414.5L373.9 414.5L376.2 414.6L378.5 414.6L380.7 414.6L383.0 414.6L385.3 414.6L387.6 414.7L389.9 414.7L392.1 414.7L394.4 414.7" fill="none" stroke="#0a0a0a" stroke-width="2.0" stroke-linejoin="round" stroke-linecap="round"/>
<path d="M434.1 415.5L434.1 414.9L436.3 415.5L438.6 414.8L440.8 413.2L443.6 412.2L446.4 409.8L448.1 406.5L449.7 405.3L450.8 401.9L452.0 400.9L453.6 400.3L455.3 398.0L458.7 396.4L462.0 398.7L464.2 396.4L467.6 398.7L469.8 395.3L472.0 396.4L472.6 393.2L473.2 391.5L473.7 388.0L474.3 386.4L475.0 383.6L475.8 380.2L476.5 378.6L478.1 381.9L478.7 381.0L479.4 377.5L481.0 380.8L481.5 377.5L482.1 375.7L482.6 373.1L483.2 370.8L484.8 373.0L485.1 371.7L485.4 367.4L485.8 366.3L486.1 364.1L486.6 361.3L487.1 359.3L487.7 356.3L488.2 359.4L488.8 361.8L489.2 359.2L489.7 357.6L490.1 354.9L490.6 352.9L490.9 351.1L491.2 348.4L491.5 345.7L491.8 344.0L492.1 341.8L493.7 342.9L494.1 340.6L494.6 339.5L495.0 335.1L495.8 332.5L496.6 330.6L496.9 328.3L497.3 326.6L497.7 322.8L498.4 323.4L499.0 327.3L499.9 323.9L500.2 324.8L500.5 327.4L500.7 330.5L501.0 334.8L501.3 335.1L501.5 337.6L501.7 340.5L501.9 341.6L502.2 342.0L502.4 344.4L502.6 348.5L502.9 351.5L503.2 353.1L503.5 354.1L503.8 358.3L504.1 358.4L504.4 361.8L504.7 365.0L505.1 367.5L505.5 367.9L505.8 369.9L506.2 373.0L506.6 375.9L507.0 376.6L507.3 380.4L507.7 381.9L508.3 383.2L508.8 387.0L509.3 388.6L509.7 390.9L510.2 392.7L510.6 394.6L511.1 397.5L511.6 400.0L512.2 400.5L512.8 404.0L513.3 406.5L514.1 408.4L514.8 411.5L515.5 413.2L516.2 414.9L516.2 415.5Z" fill="#979797" stroke="#8a8a8a" stroke-width="0.5"/>
<path d="M409.0 414.3L410.5 413.7L412.0 414.1L413.5 414.0L415.0 414.4L416.5 414.3L418.0 414.2L419.5 414.2L421.0 414.4L422.5 414.2L424.0 414.0L425.5 414.4L427.0 414.0L428.5 414.6L430.0 414.5L431.5 414.5L433.0 414.5L434.5 414.5L436.0 413.4L437.5 413.6L439.0 414.1L440.5 414.3L442.0 413.8L443.5 414.5L445.0 414.7L446.5 414.3L448.0 413.6L449.5 414.6L451.0 413.9L452.5 414.1L454.0 413.7L455.5 413.9L457.0 414.2L458.5 414.3L460.0 414.7L461.5 414.2L463.0 414.2L464.5 414.0L466.0 413.4L467.5 413.9L469.0 413.9L470.5 413.7L472.0 414.5L473.5 414.2L475.0 413.3L476.5 413.0L478.0 414.1L479.5 413.8L481.0 413.8L482.5 413.9L484.0 413.9L485.5 413.7L487.0 414.0L488.5 413.9L490.0 414.5L491.5 414.1L493.0 414.7L494.5 413.9L496.0 413.7L497.5 414.4L499.0 413.7L500.5 413.2L502.0 413.4L503.5 414.0L505.0 414.6L506.5 414.2L508.0 413.2L509.5 414.5L511.0 413.8L512.5 413.8L514.0 414.2" fill="none" stroke="#a8a8a8" stroke-width="0.9"/>
<path d="M408.5 394.2L408.7 395.8L408.9 399.5L409.1 400.7L409.4 402.5L409.6 405.3L410.4 408.3L411.1 409.8L414.0 410.5L415.7 409.3L417.4 406.5L419.1 404.4L420.7 402.4L424.1 401.6L426.8 400.9L427.9 397.7L429.0 395.3L429.6 393.1L430.1 390.5L430.7 388.5L431.3 387.2L431.9 384.2L432.6 382.1L433.4 379.8L434.1 377.5L434.5 375.4L434.9 373.0L435.2 371.2L435.6 369.0L436.0 366.1L436.3 364.1L436.8 361.7L437.2 360.4L437.7 356.9L438.1 354.2L438.6 351.8L439.0 350.6L439.4 347.4L439.7 344.6L440.1 342.9L440.8 346.0L441.5 348.5L441.9 345.5L442.3 343.2L442.6 341.1L443.0 338.4L443.8 335.6L444.6 332.8L445.3 334.7L445.9 337.3L447.5 336.2L447.9 338.1L448.2 340.4L448.6 342.9L449.4 340.7L450.2 337.3L450.5 339.2L450.9 341.5L451.3 344.0L451.5 347.2L451.7 348.2L452.0 351.4L452.2 353.6L452.4 355.1L452.6 357.4L452.9 358.9L453.3 362.1L453.6 364.4L453.9 366.8L454.2 368.5L454.6 370.8L455.1 373.6L455.5 375.9L456.0 376.9L456.4 379.7L456.9 382.6L457.3 384.2L457.8 386.1L458.2 388.5L458.7 390.8L459.2 394.0L459.8 395.8L460.3 396.6L460.9 399.8L461.4 402.3L462.0 404.7L462.6 407.2L463.1 409.8L465.3 413.2L468.1 413.7L470.9 414.3L473.2 414.4L475.4 414.5L477.6 414.6L479.8 414.7L482.1 414.8L484.3 414.9L486.5 415.0L488.8 415.1L491.0 415.1L493.2 415.1L495.5 415.1L497.7 415.1L499.9 415.1L502.2 415.1L504.4 415.1L506.6 415.1L508.8 415.1L511.1 415.0L513.3 415.0L515.5 414.9" fill="none" stroke="#0a0a0a" stroke-width="2.0" stroke-linejoin="round" stroke-linecap="round"/>
<path d="M53.4 553.8L53.4 553.8L55.7 551.9L57.9 550.2L60.1 552.8L63.5 551.3L64.6 548.2L65.7 545.7L66.2 543.9L66.8 541.8L67.4 539.2L67.9 536.8L68.2 533.8L68.6 532.8L68.9 530.0L69.2 528.8L69.5 524.9L69.8 521.2L70.2 521.2L70.5 518.5L70.7 518.4L71.0 514.8L71.3 512.1L71.6 510.7L71.9 507.8L72.5 505.9L73.0 503.7L73.5 501.1L73.8 498.4L74.1 496.7L74.4 494.5L74.7 491.6L75.1 489.9L75.2 486.8L75.4 485.6L75.6 484.0L75.7 481.5L75.9 479.2L76.1 476.9L76.2 476.4L76.4 472.1L77.5 469.8L78.1 472.3L78.6 474.3L79.2 477.4L79.7 480.3L80.2 481.0L81.8 477.7L83.1 475.4L83.3 477.9L83.4 480.5L83.6 483.6L83.8 486.6L84.0 487.7L85.8 489.9L87.1 486.6L87.4 489.3L87.8 491.9L88.1 494.2L88.4 496.6L88.7 497.9L89.0 502.0L89.2 503.1L89.5 504.2L89.8 507.8L90.1 509.9L90.4 510.8L90.7 513.7L91.0 516.7L91.3 518.9L91.7 520.4L92.1 524.2L92.5 524.4L92.9 527.8L93.5 530.7L94.1 533.5L94.7 535.7L96.5 539.0L98.7 540.8L100.3 543.5L101.1 547.4L101.8 549.0L103.6 552.4L104.7 553.8L104.7 553.8Z" fill="#979797" stroke="#8a8a8a" stroke-width="0.5"/>
<path d="M34.0 552.0L35.5 551.5L37.0 552.4L38.5 552.9L40.0 552.6L41.5 552.4L43.0 552.4L44.5 552.3L46.0 552.5L47.5 552.4L49.0 552.9L50.5 552.9L52.0 552.0L53.5 552.4L55.0 552.9L56.5 552.7L58.0 552.0L59.5 552.5L61.0 552.4L62.5 552.1L64.0 552.5L65.5 552.1L67.0 552.7L68.5 552.3L70.0 552.5L71.5 553.0L73.0 552.7L74.5 552.0L76.0 552.1L77.5 552.4L79.0 552.9L80.5 552.3L82.0 552.6L83.5 552.9L85.0 552.0L86.5 552.6L88.0 552.5L89.5 552.1L91.0 552.8L92.5 552.6L94.0 551.9L95.5 553.0L97.0 552.3L98.5 552.3L100.0 551.7L101.5 551.5L103.0 552.9L104.5 552.8L106.0 552.2L107.5 552.9L109.0 552.6L110.5 552.1L112.0 552.9L113.5 552.7L115.0 552.6L116.5 552.9L118.0 552.0L119.5 551.7L121.0 552.3L122.5 552.5L124.0 552.7L125.5 552.7L127.0 551.6L128.5 551.1L130.0 552.6L131.5 552.8L133.0 552.6L134.5 552.7L136.0 552.9L137.5 552.2L139.0 552.4L140.5 552.9" fill="none" stroke="#a8a8a8" stroke-width="0.9"/>
<path d="M32.7 553.4L35.5 553.3L38.3 553.1L41.2 552.8L43.9 552.5L46.7 551.3L49.0 549.7L51.2 547.9L52.3 545.2L53.4 542.3L53.9 540.1L54.5 538.5L55.0 535.7L55.7 533.1L56.3 531.2L56.8 528.9L57.4 525.9L57.9 523.4L58.1 521.3L58.3 518.8L58.6 517.8L58.8 514.1L59.0 512.2L59.3 510.1L59.6 507.9L59.9 505.8L60.2 503.5L60.5 501.3L60.8 498.8L61.6 496.6L62.3 493.3L62.6 490.1L62.8 488.4L63.0 485.3L63.2 483.6L63.5 481.0L64.0 478.2L64.6 476.5L65.7 479.9L65.9 477.0L66.1 475.0L66.2 473.3L66.4 470.5L66.6 468.0L66.8 465.4L67.1 468.3L67.4 469.4L67.6 471.0L67.9 474.3L68.2 476.3L68.5 478.6L68.8 481.6L69.0 483.2L69.6 486.5L70.2 487.7L70.4 484.5L70.7 483.9L71.0 481.0L71.3 477.7L71.6 480.7L72.0 483.0L72.4 485.5L73.2 488.9L73.9 489.9L74.2 492.2L74.5 494.2L74.8 496.7L75.1 498.2L75.4 501.3L75.7 503.3L76.0 505.5L76.4 507.9L76.7 510.2L77.0 511.7L77.3 514.5L77.6 517.4L77.9 518.4L78.2 521.6L78.5 522.6L78.8 525.8L79.1 527.8L79.4 529.7L79.8 532.3L80.1 534.2L80.5 535.7L80.9 539.0L81.6 541.1L82.3 544.2L83.1 546.8L84.4 549.4L85.8 551.3L89.1 552.8L91.7 553.1L94.3 553.3L96.9 553.4L99.2 553.4L101.5 553.4L103.8 553.4L106.1 553.4L108.4 553.4L110.7 553.4L112.9 553.4L115.2 553.4L117.5 553.4L119.8 553.4L122.1 553.4L124.4 553.4L126.7 553.4L129.0 553.4L131.3 553.4L133.6 553.4L135.8 553.4L138.1 553.4L140.4 553.4" fill="none" stroke="#0a0a0a" stroke-width="2.0" stroke-linejoin="round" stroke-linecap="round"/>
<path d="M152.7 553.8L152.7 553.8L153.3 550.2L153.9 548.0L154.5 545.6L155.0 545.3L155.6 541.2L155.8 538.6L156.0 536.4L156.2 533.1L156.5 531.1L156.7 529.0L157.1 532.0L157.4 534.6L157.8 536.8L158.2 538.9L158.6 541.5L158.9 543.5L159.7 541.3L160.4 537.5L161.2 536.8L162.9 534.5L164.5 537.9L165.2 532.7L166.0 534.5L166.7 530.1L169.0 526.7L169.7 524.8L170.4 521.5L171.2 518.9L172.3 515.3L173.4 514.5L173.7 511.2L174.0 511.1L174.4 505.5L174.7 505.3L175.0 503.3L176.3 502.2L176.8 505.5L177.4 507.5L177.9 510.0L178.3 508.4L178.6 505.4L179.0 505.2L179.4 500.3L179.7 497.8L180.1 496.6L180.9 494.0L181.7 491.0L181.9 494.6L182.2 495.8L182.4 499.0L182.7 500.2L183.0 502.0L183.2 506.5L183.5 507.8L183.7 506.8L184.0 504.5L184.2 500.7L184.5 497.9L184.7 495.7L185.0 494.2L185.2 492.2L186.8 489.9L187.3 492.6L187.8 494.8L188.4 496.6L190.2 494.4L191.0 496.0L191.9 500.0L192.5 502.7L193.0 505.2L193.5 507.8L193.9 510.1L194.4 512.2L194.8 514.3L195.3 517.2L195.7 518.9L197.3 516.7L197.9 519.0L198.5 521.3L199.1 523.4L199.7 525.1L200.3 528.2L200.9 530.1L201.4 532.2L201.9 532.8L202.4 536.8L203.5 533.4L204.1 536.4L204.7 538.4L205.3 541.2L205.8 544.2L206.4 545.6L206.9 547.9L209.1 549.0L211.3 551.3L214.7 552.4L216.9 552.9L219.2 553.5L221.4 553.7L223.6 553.8L225.8 553.8L225.8 553.8Z" fill="#979797" stroke="#8a8a8a" stroke-width="0.5"/>
<path d="M154.0 552.3L155.5 552.8L157.0 552.8L158.5 552.3L160.0 553.0L161.5 550.8L163.0 552.8L164.5 552.8L166.0 552.1L167.5 552.5L169.0 551.3L170.5 552.0L172.0 552.1L173.5 552.3L175.0 552.0L176.5 552.4L178.0 552.6L179.5 552.6L181.0 552.6L182.5 552.7L184.0 552.7L185.5 552.9L187.0 552.8L188.5 552.8L190.0 552.7L191.5 552.6L193.0 551.7L194.5 552.8L196.0 551.8L197.5 552.7L199.0 552.6L200.5 553.0L202.0 552.9L203.5 553.0L205.0 551.9L206.5 552.2L208.0 552.4L209.5 551.9L211.0 552.7L212.5 552.9L214.0 552.4L215.5 552.9L217.0 552.5L218.5 552.2L220.0 552.9L221.5 552.7L223.0 551.6L224.5 552.9L226.0 552.4L227.5 552.1L229.0 552.4L230.5 551.8L232.0 552.6L233.5 551.6L235.0 552.6L236.5 552.7L238.0 552.4L239.5 552.4L241.0 552.0L242.5 551.8L244.0 552.8L245.5 552.1L247.0 551.1L248.5 552.7L250.0 552.5L251.5 552.7L253.0 552.9L254.5 552.8L256.0 552.6L257.5 552.8L259.0 552.7L260.5 551.8" fill="none" stroke="#a8a8a8" stroke-width="0.9"/>
<path d="M152.7 549.7L156.7 551.3L158.9 552.0L161.2 552.8L164.5 553.4L166.7 551.3L167.8 549.1L169.0 546.8L170.1 544.0L171.2 541.2L171.9 538.8L172.7 535.9L173.4 534.5L174.2 533.2L174.9 529.3L175.7 527.8L177.9 525.6L178.3 523.2L178.6 521.5L179.0 518.9L179.1 516.9L179.2 514.7L179.4 512.6L179.5 510.6L179.6 507.9L179.7 507.0L179.9 502.8L180.0 501.2L180.1 498.8L180.5 496.1L180.9 493.4L181.2 491.0L181.5 493.6L181.7 496.7L181.9 498.0L182.1 500.5L182.3 503.3L182.5 506.1L182.7 508.4L182.9 511.5L183.1 513.5L183.3 515.5L183.5 517.8L183.6 515.3L183.8 513.1L183.9 510.5L184.1 507.6L184.3 505.9L184.4 503.4L184.6 501.1L184.7 498.7L184.9 496.4L185.1 495.2L185.2 492.5L185.4 490.4L185.5 487.4L185.7 485.5L186.1 487.6L186.4 490.5L186.8 493.3L187.0 495.8L187.3 498.0L187.5 500.5L187.7 503.6L187.9 505.5L188.3 503.2L188.7 500.0L189.1 497.8L189.5 495.5L190.2 497.4L190.8 500.0L192.4 502.2L192.8 504.8L193.3 506.6L193.7 509.6L194.2 512.2L194.6 514.8L194.9 516.7L195.3 518.5L195.7 521.2L196.1 523.1L196.5 525.7L196.9 528.1L197.3 530.1L197.7 532.7L198.2 534.5L198.6 536.1L199.1 539.0L199.6 541.9L200.2 543.6L200.8 545.9L201.3 547.9L202.4 550.3L203.5 552.4L206.9 553.4L209.4 553.4L211.9 553.4L214.4 553.4L216.9 553.4L219.2 553.4L221.5 553.4L223.8 553.4L226.1 553.4L228.4 553.4L230.7 553.4L232.9 553.4L235.2 553.4L237.5 553.4L239.8 553.4L242.1 553.4L244.4 553.4L246.7 553.4L249.0 553.4L251.3 553.4L253.6 553.4L255.8 553.4L258.1 553.4L260.4 553.4" fill="none" stroke="#0a0a0a" stroke-width="2.0" stroke-linejoin="round" stroke-linecap="round"/>
<path d="M319.7 553.8L319.7 553.8L321.9 553.8L324.2 552.1L326.4 552.7L328.6 552.4L330.8 550.8L333.1 550.2L334.4 547.6L335.8 545.7L336.1 542.6L336.4 540.3L336.8 538.8L337.1 536.8L337.3 533.7L337.5 534.3L337.6 529.7L337.8 527.3L338.0 525.2L338.2 523.4L338.3 520.3L338.4 517.0L338.5 516.5L338.7 514.7L338.8 511.0L338.9 510.0L339.0 506.8L339.1 505.5L339.2 503.6L339.3 501.1L339.4 499.2L339.5 497.0L339.7 493.8L339.8 492.9L339.9 489.6L340.0 488.0L340.1 486.0L340.2 483.0L340.3 480.0L340.4 478.8L340.6 477.0L340.8 473.4L340.9 471.4L341.1 469.0L341.2 468.3L341.4 465.2L341.6 463.2L342.0 458.2L342.4 456.9L343.8 456.0L345.1 457.6L345.6 460.8L346.0 464.4L346.5 465.4L347.8 467.6L348.0 471.3L348.2 471.6L348.5 474.4L348.7 476.5L348.8 479.2L349.0 481.7L349.1 483.3L349.3 484.6L349.4 488.3L349.6 490.4L349.7 491.1L349.9 494.1L350.0 496.6L350.9 500.0L351.2 502.6L351.5 504.9L351.7 507.7L352.0 510.4L352.3 512.2L352.5 514.9L352.7 516.6L352.9 517.8L353.2 521.6L353.4 524.5L353.6 525.6L353.9 529.4L354.1 530.0L354.4 532.3L354.7 535.7L354.9 536.8L355.3 540.1L355.7 541.5L356.1 544.0L356.5 545.7L357.3 547.3L358.1 550.2L359.8 552.8L362.1 553.8L362.1 553.8Z" fill="#979797" stroke="#8a8a8a" stroke-width="0.5"/>
<path d="M287.8 552.7L289.3 552.8L290.8 552.9L292.3 552.6L293.8 551.6L295.3 552.5L296.8 551.9L298.3 552.8L299.8 552.8L301.3 552.8L302.8 551.9L304.3 552.2L305.8 552.6L307.3 552.5L308.8 552.1L310.3 552.4L311.8 550.8L313.3 552.8L314.8 552.1L316.3 552.2L317.8 552.6L319.3 552.9L320.8 552.8L322.3 551.7L323.8 552.5L325.3 552.5L326.8 551.9L328.3 552.5L329.8 551.9L331.3 553.0L332.8 551.8L334.3 551.4L335.8 552.3L337.3 552.6L338.8 551.8L340.3 552.6L341.8 552.1L343.3 552.3L344.8 553.0L346.3 552.1L347.8 552.2L349.3 552.7L350.8 552.3L352.3 552.8L353.8 552.5L355.3 551.8L356.8 552.1L358.3 552.0L359.8 552.1L361.3 551.9L362.8 552.1L364.3 552.8L365.8 552.9L367.3 552.2L368.8 551.9L370.3 552.2L371.8 553.0L373.3 552.2L374.8 552.4L376.3 552.6L377.8 552.5L379.3 552.8L380.8 552.9L382.3 552.1L383.8 552.8L385.3 552.6L386.8 552.3L388.3 552.8L389.8 552.9L391.3 552.9L392.8 552.7" fill="none" stroke="#a8a8a8" stroke-width="0.9"/>
<path d="M286.7 551.3L289.6 549.0L291.2 546.5L292.9 543.5L294.6 540.3L296.3 537.9L297.7 536.1L299.2 534.5L299.5 532.2L299.9 529.8L300.3 526.8L300.7 525.2L301.0 523.5L301.4 521.2L301.8 518.6L302.2 515.9L302.6 513.8L303.0 511.1L303.7 508.7L304.5 505.5L304.7 503.7L304.9 500.7L305.1 498.8L305.3 496.4L305.5 493.9L305.7 491.4L305.9 489.9L306.0 487.5L306.2 484.7L306.3 483.8L306.5 480.3L306.7 477.9L306.8 475.4L307.0 473.2L307.5 476.9L308.1 478.8L308.5 476.1L308.8 474.2L309.2 472.1L309.5 473.9L309.8 476.5L310.0 478.7L310.3 481.0L310.7 478.9L311.1 475.1L311.4 473.2L311.7 475.4L312.0 478.5L312.3 479.6L312.6 482.1L312.8 479.8L313.0 477.2L313.2 474.1L313.4 473.1L313.7 471.0L314.0 468.9L314.4 465.5L314.8 463.2L314.9 464.5L315.1 467.7L315.2 469.9L315.4 472.6L315.5 474.8L315.7 476.5L316.0 478.6L316.3 481.2L316.7 482.3L317.0 485.5L318.6 486.6L319.7 485.5L320.0 488.2L320.4 490.0L320.8 492.7L321.1 494.9L321.5 496.6L321.8 498.7L322.1 501.0L322.4 502.9L322.7 504.5L323.0 507.8L323.3 509.9L323.6 512.3L323.8 513.9L324.1 517.0L324.3 519.0L324.6 521.2L326.4 523.4L326.9 526.2L327.4 528.2L327.9 531.2L328.5 532.9L329.1 536.8L329.7 539.0L330.8 542.1L332.0 544.6L333.1 546.7L334.2 549.0L336.4 551.3L339.8 552.8L342.0 553.0L344.2 553.2L346.5 553.4L348.7 553.4L350.9 553.4L353.2 553.4L355.5 553.4L357.8 553.4L360.1 553.4L362.4 553.4L364.7 553.4L366.9 553.4L369.2 553.4L371.5 553.4L373.8 553.4L376.1 553.4L378.4 553.4L380.7 553.4L383.0 553.4L385.3 553.4L387.6 553.4L389.8 553.4L392.1 553.4L394.4 553.4" fill="none" stroke="#0a0a0a" stroke-width="2.0" stroke-linejoin="round" stroke-linecap="round"/>
<path d="M408.5 553.8L408.5 553.8L410.7 553.8L412.9 553.8L415.2 553.8L417.4 553.8L419.6 553.8L421.8 553.7L424.1 553.6L426.3 553.5L428.5 553.4L430.8 553.2L433.0 553.1L435.2 552.9L437.5 552.8L439.7 552.7L441.9 552.5L444.2 552.4L446.4 551.1L448.6 551.3L450.8 550.7L453.1 550.6L455.3 550.6L457.5 549.0L460.9 546.8L462.0 545.3L463.1 542.3L464.2 539.2L465.3 537.9L466.1 536.2L466.8 533.0L467.6 531.2L468.3 529.3L469.1 526.3L469.8 524.5L470.6 520.7L471.3 520.1L472.0 516.7L473.6 513.3L474.0 511.1L474.5 507.2L474.9 505.5L475.3 501.5L475.7 500.1L476.1 497.1L476.5 495.5L476.9 492.7L477.3 491.0L477.7 489.1L478.1 485.5L478.4 482.7L478.7 481.5L479.1 478.9L479.4 475.4L479.7 472.8L480.0 469.6L480.2 469.4L480.5 466.5L482.1 464.3L483.9 461.4L485.4 465.4L487.0 468.7L488.8 469.8L489.2 472.9L489.7 476.9L490.1 477.7L490.4 481.0L490.6 482.7L490.9 485.7L491.2 485.7L491.4 488.8L491.9 491.5L492.3 493.6L492.8 497.7L493.2 498.8L493.6 501.5L493.9 500.9L494.3 506.6L494.7 507.0L495.0 510.0L496.6 513.3L497.1 516.6L497.6 518.2L498.1 521.2L498.7 524.0L499.3 526.9L499.9 529.0L500.5 531.4L501.0 532.7L501.6 536.8L502.2 537.9L503.3 541.0L504.4 543.5L505.5 546.2L506.6 549.0L508.4 552.4L510.0 553.8L510.0 553.8Z" fill="#979797" stroke="#8a8a8a" stroke-width="0.5"/>
<path d="M409.0 552.5L410.5 553.0L412.0 552.9L413.5 551.8L415.0 553.0L416.5 552.4L418.0 553.0L419.5 552.7L421.0 552.7L422.5 552.4L424.0 553.0L425.5 552.6L427.0 552.7L428.5 552.1L430.0 552.9L431.5 552.2L433.0 552.8L434.5 552.4L436.0 552.6L437.5 552.9L439.0 551.2L440.5 552.4L442.0 552.3L443.5 552.8L445.0 552.4L446.5 552.2L448.0 552.4L449.5 552.7L451.0 552.4L452.5 552.7L454.0 552.9L455.5 552.7L457.0 552.9L458.5 552.2L460.0 552.0L461.5 552.9L463.0 551.8L464.5 552.3L466.0 552.5L467.5 552.3L469.0 552.8L470.5 552.7L472.0 552.9L473.5 552.3L475.0 552.5L476.5 552.7L478.0 552.8L479.5 552.7L481.0 552.8L482.5 552.9L484.0 552.9L485.5 551.9L487.0 552.7L488.5 552.7L490.0 552.7L491.5 552.8L493.0 552.2L494.5 552.5L496.0 552.8L497.5 553.0L499.0 553.0L500.5 553.0L502.0 552.3L503.5 552.8L505.0 551.7L506.5 553.0L508.0 551.9L509.5 552.7L511.0 552.5L512.5 552.8L514.0 552.6" fill="none" stroke="#a8a8a8" stroke-width="0.9"/>
<path d="M408.0 551.9L410.7 549.0L412.4 547.7L414.0 545.7L415.2 543.2L416.3 542.2L417.4 539.0L418.1 536.9L418.7 534.7L419.4 532.5L420.1 530.1L420.5 527.4L421.0 525.0L421.4 523.5L421.8 521.3L422.3 518.9L423.6 515.6L424.0 513.7L424.4 510.8L424.8 507.5L425.2 505.5L425.5 503.6L425.7 501.5L426.0 499.4L426.2 496.8L426.5 493.8L426.8 492.2L427.0 490.5L427.3 487.3L427.6 485.8L427.8 482.5L428.1 481.0L428.5 479.2L428.8 476.2L429.2 474.3L430.3 472.1L431.4 474.3L432.6 471.0L433.7 473.2L434.2 471.0L434.8 467.6L435.2 466.3L435.5 463.7L435.9 460.9L436.1 462.6L436.3 464.9L436.6 467.2L436.8 469.8L437.1 472.7L437.4 475.0L437.6 477.5L437.9 479.9L439.2 478.8L439.5 481.4L439.8 484.1L440.1 486.6L440.4 488.8L440.8 491.9L441.1 493.2L441.5 495.6L441.9 497.7L442.8 499.6L443.7 503.3L444.1 504.9L444.5 507.4L444.9 509.4L445.3 512.2L445.8 514.6L446.3 517.2L446.8 518.9L448.6 520.0L449.1 522.3L449.5 524.8L450.0 527.3L450.4 530.1L451.0 532.7L451.6 535.0L452.2 537.9L452.9 540.3L453.5 542.5L454.2 544.6L455.3 547.5L456.4 550.2L458.7 552.8L462.0 553.4L464.2 553.4L466.5 553.4L468.7 553.4L470.9 553.4L473.2 553.4L475.4 553.4L477.6 553.4L479.8 553.4L482.1 553.4L484.3 553.4L486.5 553.4L488.8 553.4L491.0 553.4L493.2 553.4L495.5 553.4L497.7 553.4L499.9 553.4L502.2 553.4L504.4 553.4L506.6 553.4L508.8 553.4L511.1 553.4L513.3 553.4L515.5 553.4" fill="none" stroke="#0a0a0a" stroke-width="2.0" stroke-linejoin="round" stroke-linecap="round"/>
<rect x="32.5" y="306.2" width="110.80000000000001" height="109.30000000000001" fill="none" stroke="#181818" stroke-width="1.2"/>
<line x1="32.5" y1="415.5" x2="143.9" y2="415.5" stroke="#111" stroke-width="1.8"/>
<path d="M33.2 415.5V418.9M41.1 415.5V417.8M45.8 415.5V417.8M49.0 415.5V417.8M51.6 415.5V417.8M53.7 415.5V417.8M55.4 415.5V417.8M57.0 415.5V417.8M58.3 415.5V417.8M59.5 415.5V418.9M67.4 415.5V417.8M72.1 415.5V417.8M75.4 415.5V417.8M77.9 415.5V417.8M80.0 415.5V417.8M81.8 415.5V417.8M83.3 415.5V417.8M84.6 415.5V417.8M85.9 415.5V418.9M93.8 415.5V417.8M98.4 415.5V417.8M101.7 415.5V417.8M104.3 415.5V417.8M106.3 415.5V417.8M108.1 415.5V417.8M109.6 415.5V417.8M111.0 415.5V417.8M112.2 415.5V418.9M120.1 415.5V417.8M124.7 415.5V417.8M128.0 415.5V417.8M130.6 415.5V417.8M132.7 415.5V417.8M134.4 415.5V417.8M135.9 415.5V417.8M137.3 415.5V417.8M138.5 415.5V418.9" stroke="#111" stroke-width="0.9" fill="none"/>
<text x="33.2" y="424.2" font-family="'Liberation Serif', serif" font-size="4.8" text-anchor="middle" fill="#555">0.1</text>
<text x="59.5" y="424.2" font-family="'Liberation Serif', serif" font-size="4.8" text-anchor="middle" fill="#555">1</text>
<text x="85.9" y="424.2" font-family="'Liberation Serif', serif" font-size="4.8" text-anchor="middle" fill="#555">10</text>
<text x="112.2" y="424.2" font-family="'Liberation Serif', serif" font-size="4.8" text-anchor="middle" fill="#555">100</text>
<text x="138.5" y="424.2" font-family="'Liberation Serif', serif" font-size="4.8" text-anchor="middle" fill="#555">1000</text>
<text x="85.9" y="437.0" font-size="12" text-anchor="middle" fill="#222">CD80</text>
<rect x="152.5" y="306.2" width="110.80000000000001" height="109.30000000000001" fill="none" stroke="#181818" stroke-width="1.2"/>
<line x1="152.5" y1="415.5" x2="263.90000000000003" y2="415.5" stroke="#111" stroke-width="1.8"/>
<path d="M153.2 415.5V418.9M161.1 415.5V417.8M165.8 415.5V417.8M169.0 415.5V417.8M171.6 415.5V417.8M173.7 415.5V417.8M175.4 415.5V417.8M177.0 415.5V417.8M178.3 415.5V417.8M179.5 415.5V418.9M187.4 415.5V417.8M192.1 415.5V417.8M195.4 415.5V417.8M197.9 415.5V417.8M200.0 415.5V417.8M201.8 415.5V417.8M203.3 415.5V417.8M204.6 415.5V417.8M205.8 415.5V418.9M213.8 415.5V417.8M218.4 415.5V417.8M221.7 415.5V417.8M224.3 415.5V417.8M226.3 415.5V417.8M228.1 415.5V417.8M229.6 415.5V417.8M231.0 415.5V417.8M232.2 415.5V418.9M240.1 415.5V417.8M244.7 415.5V417.8M248.0 415.5V417.8M250.6 415.5V417.8M252.7 415.5V417.8M254.4 415.5V417.8M255.9 415.5V417.8M257.3 415.5V417.8M258.5 415.5V418.9" stroke="#111" stroke-width="0.9" fill="none"/>
<text x="153.2" y="424.2" font-family="'Liberation Serif', serif" font-size="4.8" text-anchor="middle" fill="#555">0.1</text>
<text x="179.5" y="424.2" font-family="'Liberation Serif', serif" font-size="4.8" text-anchor="middle" fill="#555">1</text>
<text x="205.8" y="424.2" font-family="'Liberation Serif', serif" font-size="4.8" text-anchor="middle" fill="#555">10</text>
<text x="232.2" y="424.2" font-family="'Liberation Serif', serif" font-size="4.8" text-anchor="middle" fill="#555">100</text>
<text x="258.5" y="424.2" font-family="'Liberation Serif', serif" font-size="4.8" text-anchor="middle" fill="#555">1000</text>
<text x="205.9" y="437.0" font-size="12" text-anchor="middle" fill="#222">CD86</text>
<rect x="286.3" y="306.2" width="109.19999999999999" height="109.30000000000001" fill="none" stroke="#181818" stroke-width="1.2"/>
<line x1="286.3" y1="415.5" x2="396.1" y2="415.5" stroke="#111" stroke-width="1.8"/>
<path d="M287.0 415.5V418.9M294.8 415.5V417.8M299.4 415.5V417.8M302.6 415.5V417.8M305.1 415.5V417.8M307.2 415.5V417.8M308.9 415.5V417.8M310.4 415.5V417.8M311.7 415.5V417.8M312.9 415.5V418.9M320.7 415.5V417.8M325.3 415.5V417.8M328.5 415.5V417.8M331.0 415.5V417.8M333.1 415.5V417.8M334.8 415.5V417.8M336.3 415.5V417.8M337.7 415.5V417.8M338.9 415.5V418.9M346.7 415.5V417.8M351.2 415.5V417.8M354.5 415.5V417.8M357.0 415.5V417.8M359.0 415.5V417.8M360.8 415.5V417.8M362.3 415.5V417.8M363.6 415.5V417.8M364.8 415.5V418.9M372.6 415.5V417.8M377.1 415.5V417.8M380.4 415.5V417.8M382.9 415.5V417.8M384.9 415.5V417.8M386.7 415.5V417.8M388.2 415.5V417.8M389.5 415.5V417.8M390.7 415.5V418.9" stroke="#111" stroke-width="0.9" fill="none"/>
<text x="287.0" y="424.2" font-family="'Liberation Serif', serif" font-size="4.8" text-anchor="middle" fill="#555">0.1</text>
<text x="312.9" y="424.2" font-family="'Liberation Serif', serif" font-size="4.8" text-anchor="middle" fill="#555">1</text>
<text x="338.9" y="424.2" font-family="'Liberation Serif', serif" font-size="4.8" text-anchor="middle" fill="#555">10</text>
<text x="364.8" y="424.2" font-family="'Liberation Serif', serif" font-size="4.8" text-anchor="middle" fill="#555">100</text>
<text x="390.7" y="424.2" font-family="'Liberation Serif', serif" font-size="4.8" text-anchor="middle" fill="#555">1000</text>
<text x="341.2" y="437.0" font-size="12" text-anchor="middle" fill="#222">CD80</text>
<rect x="407.5" y="306.2" width="109.5" height="109.30000000000001" fill="none" stroke="#181818" stroke-width="1.2"/>
<line x1="407.5" y1="415.5" x2="517.6" y2="415.5" stroke="#111" stroke-width="1.8"/>
<path d="M408.2 415.5V418.9M416.0 415.5V417.8M420.6 415.5V417.8M423.9 415.5V417.8M426.4 415.5V417.8M428.4 415.5V417.8M430.2 415.5V417.8M431.7 415.5V417.8M433.0 415.5V417.8M434.2 415.5V418.9M442.0 415.5V417.8M446.6 415.5V417.8M449.9 415.5V417.8M452.4 415.5V417.8M454.4 415.5V417.8M456.2 415.5V417.8M457.7 415.5V417.8M459.0 415.5V417.8M460.2 415.5V418.9M468.0 415.5V417.8M472.6 415.5V417.8M475.9 415.5V417.8M478.4 415.5V417.8M480.4 415.5V417.8M482.2 415.5V417.8M483.7 415.5V417.8M485.0 415.5V417.8M486.2 415.5V418.9M494.0 415.5V417.8M498.6 415.5V417.8M501.9 415.5V417.8M504.4 415.5V417.8M506.4 415.5V417.8M508.2 415.5V417.8M509.7 415.5V417.8M511.0 415.5V417.8M512.2 415.5V418.9" stroke="#111" stroke-width="0.9" fill="none"/>
<text x="408.2" y="424.2" font-family="'Liberation Serif', serif" font-size="4.8" text-anchor="middle" fill="#555">0.1</text>
<text x="434.2" y="424.2" font-family="'Liberation Serif', serif" font-size="4.8" text-anchor="middle" fill="#555">1</text>
<text x="460.2" y="424.2" font-family="'Liberation Serif', serif" font-size="4.8" text-anchor="middle" fill="#555">10</text>
<text x="486.2" y="424.2" font-family="'Liberation Serif', serif" font-size="4.8" text-anchor="middle" fill="#555">100</text>
<text x="512.2" y="424.2" font-family="'Liberation Serif', serif" font-size="4.8" text-anchor="middle" fill="#555">1000</text>
<text x="460.25" y="437.0" font-size="12" text-anchor="middle" fill="#222">CD86</text>
<rect x="32.5" y="444.3" width="110.80000000000001" height="109.49999999999994" fill="none" stroke="#181818" stroke-width="1.2"/>
<line x1="32.5" y1="553.8" x2="143.9" y2="553.8" stroke="#111" stroke-width="1.8"/>
<path d="M33.2 553.8V557.1999999999999M41.1 553.8V556.0999999999999M45.8 553.8V556.0999999999999M49.0 553.8V556.0999999999999M51.6 553.8V556.0999999999999M53.7 553.8V556.0999999999999M55.4 553.8V556.0999999999999M57.0 553.8V556.0999999999999M58.3 553.8V556.0999999999999M59.5 553.8V557.1999999999999M67.4 553.8V556.0999999999999M72.1 553.8V556.0999999999999M75.4 553.8V556.0999999999999M77.9 553.8V556.0999999999999M80.0 553.8V556.0999999999999M81.8 553.8V556.0999999999999M83.3 553.8V556.0999999999999M84.6 553.8V556.0999999999999M85.9 553.8V557.1999999999999M93.8 553.8V556.0999999999999M98.4 553.8V556.0999999999999M101.7 553.8V556.0999999999999M104.3 553.8V556.0999999999999M106.3 553.8V556.0999999999999M108.1 553.8V556.0999999999999M109.6 553.8V556.0999999999999M111.0 553.8V556.0999999999999M112.2 553.8V557.1999999999999M120.1 553.8V556.0999999999999M124.7 553.8V556.0999999999999M128.0 553.8V556.0999999999999M130.6 553.8V556.0999999999999M132.7 553.8V556.0999999999999M134.4 553.8V556.0999999999999M135.9 553.8V556.0999999999999M137.3 553.8V556.0999999999999M138.5 553.8V557.1999999999999" stroke="#111" stroke-width="0.9" fill="none"/>
<text x="33.2" y="562.5" font-family="'Liberation Serif', serif" font-size="4.8" text-anchor="middle" fill="#555">0.1</text>
<text x="59.5" y="562.5" font-family="'Liberation Serif', serif" font-size="4.8" text-anchor="middle" fill="#555">1</text>
<text x="85.9" y="562.5" font-family="'Liberation Serif', serif" font-size="4.8" text-anchor="middle" fill="#555">10</text>
<text x="112.2" y="562.5" font-family="'Liberation Serif', serif" font-size="4.8" text-anchor="middle" fill="#555">100</text>
<text x="138.5" y="562.5" font-family="'Liberation Serif', serif" font-size="4.8" text-anchor="middle" fill="#555">1000</text>
<text x="85.9" y="576.6" font-size="12" text-anchor="middle" fill="#222">CD40</text>
<rect x="152.5" y="444.3" width="110.80000000000001" height="109.49999999999994" fill="none" stroke="#181818" stroke-width="1.2"/>
<line x1="152.5" y1="553.8" x2="263.90000000000003" y2="553.8" stroke="#111" stroke-width="1.8"/>
<path d="M153.2 553.8V557.1999999999999M161.1 553.8V556.0999999999999M165.8 553.8V556.0999999999999M169.0 553.8V556.0999999999999M171.6 553.8V556.0999999999999M173.7 553.8V556.0999999999999M175.4 553.8V556.0999999999999M177.0 553.8V556.0999999999999M178.3 553.8V556.0999999999999M179.5 553.8V557.1999999999999M187.4 553.8V556.0999999999999M192.1 553.8V556.0999999999999M195.4 553.8V556.0999999999999M197.9 553.8V556.0999999999999M200.0 553.8V556.0999999999999M201.8 553.8V556.0999999999999M203.3 553.8V556.0999999999999M204.6 553.8V556.0999999999999M205.8 553.8V557.1999999999999M213.8 553.8V556.0999999999999M218.4 553.8V556.0999999999999M221.7 553.8V556.0999999999999M224.3 553.8V556.0999999999999M226.3 553.8V556.0999999999999M228.1 553.8V556.0999999999999M229.6 553.8V556.0999999999999M231.0 553.8V556.0999999999999M232.2 553.8V557.1999999999999M240.1 553.8V556.0999999999999M244.7 553.8V556.0999999999999M248.0 553.8V556.0999999999999M250.6 553.8V556.0999999999999M252.7 553.8V556.0999999999999M254.4 553.8V556.0999999999999M255.9 553.8V556.0999999999999M257.3 553.8V556.0999999999999M258.5 553.8V557.1999999999999" stroke="#111" stroke-width="0.9" fill="none"/>
<text x="153.2" y="562.5" font-family="'Liberation Serif', serif" font-size="4.8" text-anchor="middle" fill="#555">0.1</text>
<text x="179.5" y="562.5" font-family="'Liberation Serif', serif" font-size="4.8" text-anchor="middle" fill="#555">1</text>
<text x="205.8" y="562.5" font-family="'Liberation Serif', serif" font-size="4.8" text-anchor="middle" fill="#555">10</text>
<text x="232.2" y="562.5" font-family="'Liberation Serif', serif" font-size="4.8" text-anchor="middle" fill="#555">100</text>
<text x="258.5" y="562.5" font-family="'Liberation Serif', serif" font-size="4.8" text-anchor="middle" fill="#555">1000</text>
<text x="205.9" y="576.6" font-size="12" text-anchor="middle" fill="#222">Mac-1</text>
<rect x="286.3" y="444.3" width="109.19999999999999" height="109.49999999999994" fill="none" stroke="#181818" stroke-width="1.2"/>
<line x1="286.3" y1="553.8" x2="396.1" y2="553.8" stroke="#111" stroke-width="1.8"/>
<path d="M287.0 553.8V557.1999999999999M294.8 553.8V556.0999999999999M299.4 553.8V556.0999999999999M302.6 553.8V556.0999999999999M305.1 553.8V556.0999999999999M307.2 553.8V556.0999999999999M308.9 553.8V556.0999999999999M310.4 553.8V556.0999999999999M311.7 553.8V556.0999999999999M312.9 553.8V557.1999999999999M320.7 553.8V556.0999999999999M325.3 553.8V556.0999999999999M328.5 553.8V556.0999999999999M331.0 553.8V556.0999999999999M333.1 553.8V556.0999999999999M334.8 553.8V556.0999999999999M336.3 553.8V556.0999999999999M337.7 553.8V556.0999999999999M338.9 553.8V557.1999999999999M346.7 553.8V556.0999999999999M351.2 553.8V556.0999999999999M354.5 553.8V556.0999999999999M357.0 553.8V556.0999999999999M359.0 553.8V556.0999999999999M360.8 553.8V556.0999999999999M362.3 553.8V556.0999999999999M363.6 553.8V556.0999999999999M364.8 553.8V557.1999999999999M372.6 553.8V556.0999999999999M377.1 553.8V556.0999999999999M380.4 553.8V556.0999999999999M382.9 553.8V556.0999999999999M384.9 553.8V556.0999999999999M386.7 553.8V556.0999999999999M388.2 553.8V556.0999999999999M389.5 553.8V556.0999999999999M390.7 553.8V557.1999999999999" stroke="#111" stroke-width="0.9" fill="none"/>
<text x="287.0" y="562.5" font-family="'Liberation Serif', serif" font-size="4.8" text-anchor="middle" fill="#555">0.1</text>
<text x="312.9" y="562.5" font-family="'Liberation Serif', serif" font-size="4.8" text-anchor="middle" fill="#555">1</text>
<text x="338.9" y="562.5" font-family="'Liberation Serif', serif" font-size="4.8" text-anchor="middle" fill="#555">10</text>
<text x="364.8" y="562.5" font-family="'Liberation Serif', serif" font-size="4.8" text-anchor="middle" fill="#555">100</text>
<text x="390.7" y="562.5" font-family="'Liberation Serif', serif" font-size="4.8" text-anchor="middle" fill="#555">1000</text>
<text x="341.2" y="576.6" font-size="12" text-anchor="middle" fill="#222">CD40</text>
<rect x="407.5" y="444.3" width="109.5" height="109.49999999999994" fill="none" stroke="#181818" stroke-width="1.2"/>
<line x1="407.5" y1="553.8" x2="517.6" y2="553.8" stroke="#111" stroke-width="1.8"/>
<path d="M408.2 553.8V557.1999999999999M416.0 553.8V556.0999999999999M420.6 553.8V556.0999999999999M423.9 553.8V556.0999999999999M426.4 553.8V556.0999999999999M428.4 553.8V556.0999999999999M430.2 553.8V556.0999999999999M431.7 553.8V556.0999999999999M433.0 553.8V556.0999999999999M434.2 553.8V557.1999999999999M442.0 553.8V556.0999999999999M446.6 553.8V556.0999999999999M449.9 553.8V556.0999999999999M452.4 553.8V556.0999999999999M454.4 553.8V556.0999999999999M456.2 553.8V556.0999999999999M457.7 553.8V556.0999999999999M459.0 553.8V556.0999999999999M460.2 553.8V557.1999999999999M468.0 553.8V556.0999999999999M472.6 553.8V556.0999999999999M475.9 553.8V556.0999999999999M478.4 553.8V556.0999999999999M480.4 553.8V556.0999999999999M482.2 553.8V556.0999999999999M483.7 553.8V556.0999999999999M485.0 553.8V556.0999999999999M486.2 553.8V557.1999999999999M494.0 553.8V556.0999999999999M498.6 553.8V556.0999999999999M501.9 553.8V556.0999999999999M504.4 553.8V556.0999999999999M506.4 553.8V556.0999999999999M508.2 553.8V556.0999999999999M509.7 553.8V556.0999999999999M511.0 553.8V556.0999999999999M512.2 553.8V557.1999999999999" stroke="#111" stroke-width="0.9" fill="none"/>
<text x="408.2" y="562.5" font-family="'Liberation Serif', serif" font-size="4.8" text-anchor="middle" fill="#555">0.1</text>
<text x="434.2" y="562.5" font-family="'Liberation Serif', serif" font-size="4.8" text-anchor="middle" fill="#555">1</text>
<text x="460.2" y="562.5" font-family="'Liberation Serif', serif" font-size="4.8" text-anchor="middle" fill="#555">10</text>
<text x="486.2" y="562.5" font-family="'Liberation Serif', serif" font-size="4.8" text-anchor="middle" fill="#555">100</text>
<text x="512.2" y="562.5" font-family="'Liberation Serif', serif" font-size="4.8" text-anchor="middle" fill="#555">1000</text>
<text x="460.25" y="576.6" font-size="12" text-anchor="middle" fill="#222">Mac-1</text>
</svg></body></html>
